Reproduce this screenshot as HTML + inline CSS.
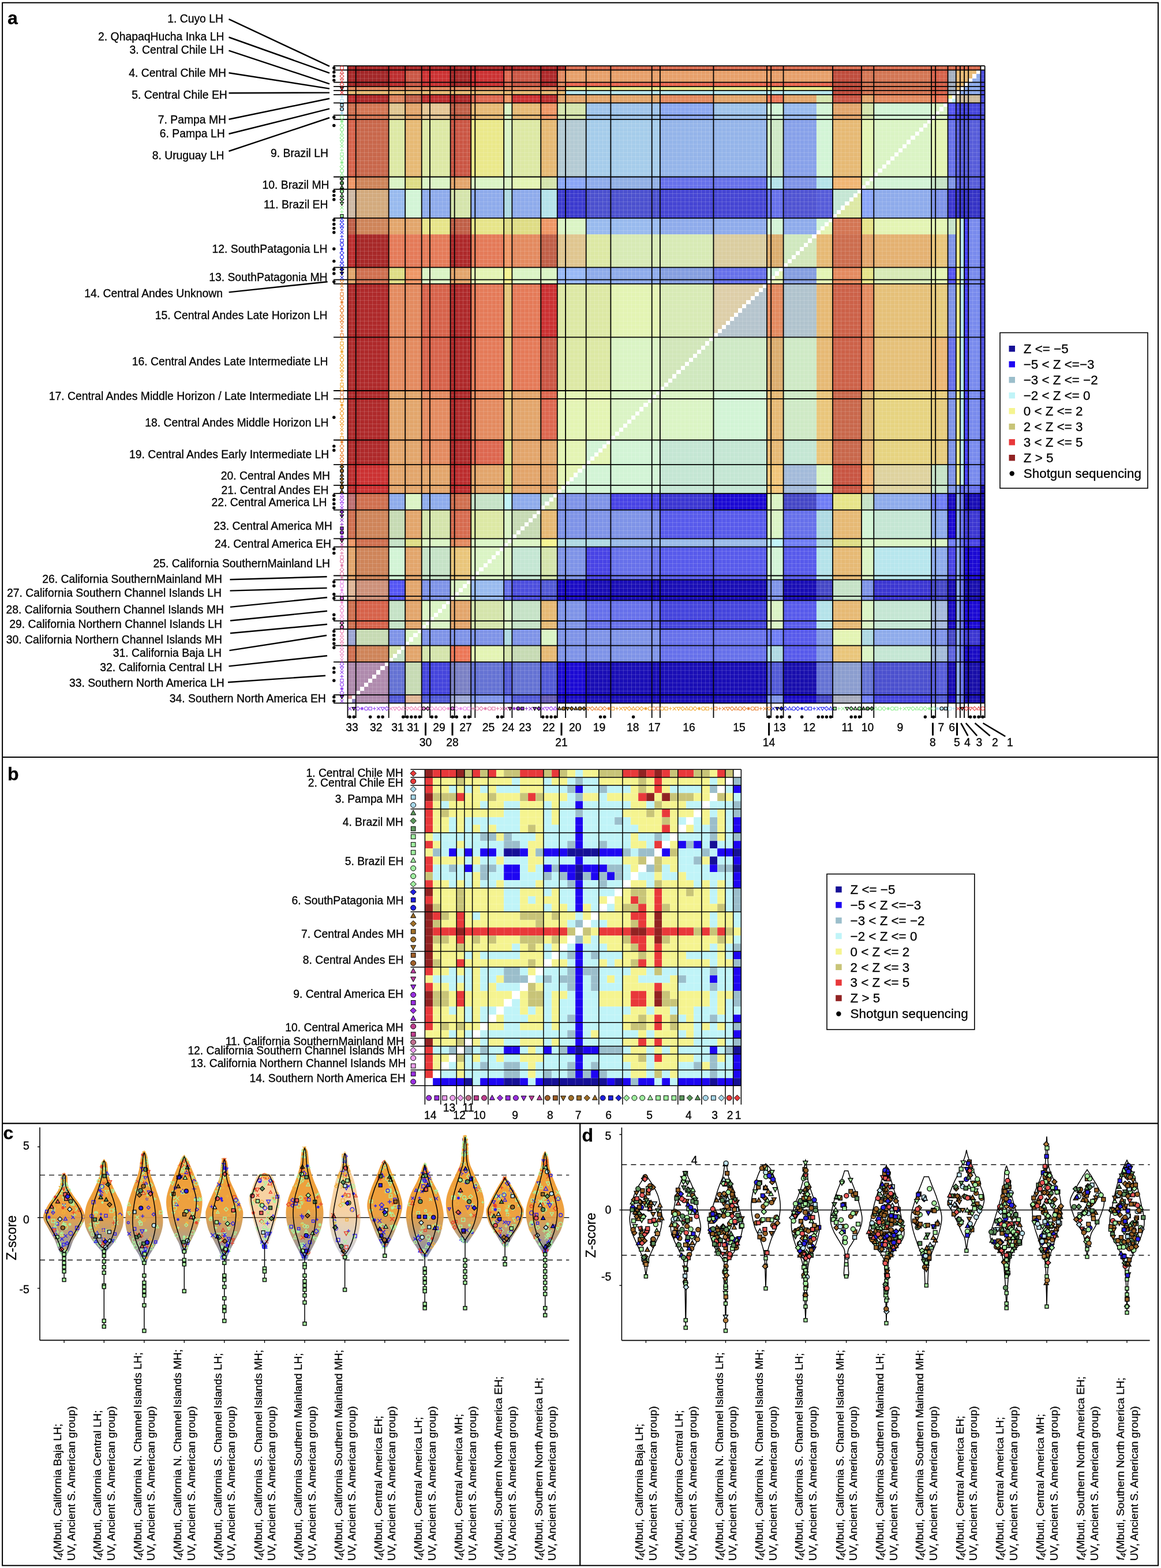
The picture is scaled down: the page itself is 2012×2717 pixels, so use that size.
<!DOCTYPE html>
<html><head><meta charset="utf-8"><title>f4 statistics heatmaps</title>
<style>
html,body{margin:0;padding:0;background:#fff;}
body{width:2012px;height:2717px;overflow:hidden;position:relative;}
svg{position:absolute;left:0;top:0;display:block;}
text{font-family:'Liberation Sans',Arial,Helvetica,sans-serif;fill:#000;stroke:#000;stroke-width:0.3px;}
</style></head><body>
<svg width="2012" height="2717" viewBox="0 0 2012 2717">
<rect x="0" y="0" width="2012" height="2717" fill="#fff"/>
<defs><circle id="o30" r="3.0"/><path id="t30" d="M0 -3.30L3.00 2.25L-3.00 2.25Z"/><path id="d30" d="M0 -3.45L3.45 0L0 3.45L-3.45 0Z"/><path id="v30" d="M0 3.30L3.00 -2.25L-3.00 -2.25Z"/><path id="x30" d="M-3.0 -3.0L3.0 3.0M3.0 -3.0L-3.0 3.0"/><path id="+30" d="M-3.0 0H3.0M0 -3.0V3.0"/><rect id="s30" x="-2.55" y="-2.55" width="5.10" height="5.10"/><path id="*30" d="M-3.0 0H3.0M0 -3.0V3.0M-2.10 -2.10L2.10 2.10M2.10 -2.10L-2.10 2.10"/><path id="d45" d="M0 -5.17L5.17 0L0 5.17L-5.17 0Z"/><circle id="o45" r="4.5"/><rect id="s45" x="-3.82" y="-3.82" width="7.65" height="7.65"/><path id="t45" d="M0 -4.95L4.50 3.38L-4.50 3.38Z"/><path id="v45" d="M0 4.95L4.50 -3.38L-4.50 -3.38Z"/><rect id="s35" x="-2.98" y="-2.98" width="5.95" height="5.95"/><path id="t25" d="M0 -2.75L2.50 1.88L-2.50 1.88Z"/><path id="+25" d="M-2.5 0H2.5M0 -2.5V2.5"/><path id="d25" d="M0 -2.88L2.88 0L0 2.88L-2.88 0Z"/><path id="*25" d="M-2.5 0H2.5M0 -2.5V2.5M-1.75 -1.75L1.75 1.75M1.75 -1.75L-1.75 1.75"/><path id="v25" d="M0 2.75L2.50 -1.88L-2.50 -1.88Z"/><rect id="s25" x="-2.12" y="-2.12" width="4.25" height="4.25"/><path id="+35" d="M-3.5 0H3.5M0 -3.5V3.5"/><path id="t20" d="M0 -2.20L2.00 1.50L-2.00 1.50Z"/><circle id="o25" r="2.5"/><path id="x25" d="M-2.5 -2.5L2.5 2.5M2.5 -2.5L-2.5 2.5"/><path id="t35" d="M0 -3.85L3.50 2.62L-3.50 2.62Z"/><path id="x35" d="M-3.5 -3.5L3.5 3.5M3.5 -3.5L-3.5 3.5"/><path id="d20" d="M0 -2.30L2.30 0L0 2.30L-2.30 0Z"/><circle id="o35" r="3.5"/><path id="d35" d="M0 -4.02L4.02 0L0 4.02L-4.02 0Z"/><path id="v35" d="M0 3.85L3.50 -2.62L-3.50 -2.62Z"/><path id="*35" d="M-3.5 0H3.5M0 -3.5V3.5M-2.45 -2.45L2.45 2.45M2.45 -2.45L-2.45 2.45"/><path id="*20" d="M-2.0 0H2.0M0 -2.0V2.0M-1.40 -1.40L1.40 1.40M1.40 -1.40L-1.40 1.40"/><rect id="s20" x="-1.70" y="-1.70" width="3.40" height="3.40"/><circle id="o20" r="2.0"/><path id="v20" d="M0 2.20L2.00 -1.50L-2.00 -1.50Z"/><path id="+20" d="M-2.0 0H2.0M0 -2.0V2.0"/><path id="x20" d="M-2.0 -2.0L2.0 2.0M2.0 -2.0L-2.0 2.0"/><rect id="s40" x="-3.40" y="-3.40" width="6.80" height="6.80"/><path id="d40" d="M0 -4.60L4.60 0L0 4.60L-4.60 0Z"/><circle id="o40" r="4.0"/><path id="v40" d="M0 4.40L4.00 -3.00L-4.00 -3.00Z"/><path id="t40" d="M0 -4.40L4.00 3.00L-4.00 3.00Z"/></defs>
<g transform="translate(602.5,114.2) scale(7.1237)" shape-rendering="crispEdges"><path fill="#d66b4f" d="M53 0h101v1h-101zM25 108h5v7h-5z"/><path fill="#ffffff" d="M154 0h1v1h-1zM153 1h1v1h-1zM152 2h1v1h-1zM151 3h1v1h-1zM150 4h1v1h-1zM149 5h1v1h-1zM148 6h1v1h-1zM147 7h1v1h-1zM146 8h1v1h-1zM145 9h1v1h-1zM144 10h1v1h-1zM143 11h1v1h-1zM142 12h1v1h-1zM141 13h1v1h-1zM140 14h1v1h-1zM139 15h1v1h-1zM138 16h1v1h-1zM137 17h1v1h-1zM136 18h1v1h-1zM135 19h1v1h-1zM134 20h1v1h-1zM133 21h1v1h-1zM132 22h1v1h-1zM131 23h1v1h-1zM130 24h1v1h-1zM129 25h1v1h-1zM128 26h1v1h-1zM127 27h1v1h-1zM126 28h1v1h-1zM125 29h1v1h-1zM124 30h1v1h-1zM123 31h1v1h-1zM122 32h1v1h-1zM121 33h1v1h-1zM120 34h1v1h-1zM119 35h1v1h-1zM118 36h1v1h-1zM117 37h1v1h-1zM116 38h1v1h-1zM115 39h1v1h-1zM114 40h1v1h-1zM113 41h1v1h-1zM112 42h1v1h-1zM111 43h1v1h-1zM110 44h1v1h-1zM109 45h1v1h-1zM108 46h1v1h-1zM107 47h1v1h-1zM106 48h1v1h-1zM105 49h1v1h-1zM104 50h1v1h-1zM103 51h1v1h-1zM102 52h1v1h-1zM101 53h1v1h-1zM100 54h1v1h-1zM99 55h1v1h-1zM98 56h1v1h-1zM97 57h1v1h-1zM96 58h1v1h-1zM95 59h1v1h-1zM94 60h1v1h-1zM93 61h1v1h-1zM92 62h1v1h-1zM91 63h1v1h-1zM90 64h1v1h-1zM89 65h1v1h-1zM88 66h1v1h-1zM87 67h1v1h-1zM86 68h1v1h-1zM85 69h1v1h-1zM84 70h1v1h-1zM83 71h1v1h-1zM82 72h1v1h-1zM81 73h1v1h-1zM80 74h1v1h-1zM79 75h1v1h-1zM78 76h1v1h-1zM77 77h1v1h-1zM76 78h1v1h-1zM75 79h1v1h-1zM74 80h1v1h-1zM73 81h1v1h-1zM72 82h1v1h-1zM71 83h1v1h-1zM70 84h1v1h-1zM69 85h1v1h-1zM68 86h1v1h-1zM67 87h1v1h-1zM66 88h1v1h-1zM65 89h1v1h-1zM64 90h1v1h-1zM63 91h1v1h-1zM62 92h1v1h-1zM61 93h1v1h-1zM60 94h1v1h-1zM59 95h1v1h-1zM58 96h1v1h-1zM57 97h1v1h-1zM56 98h1v1h-1zM55 99h1v1h-1zM54 100h1v1h-1zM53 101h1v1h-1zM52 102h1v1h-1zM51 103h1v1h-1zM50 104h1v1h-1zM49 105h1v1h-1zM48 106h1v1h-1zM47 107h1v1h-1zM46 108h1v1h-1zM45 109h1v1h-1zM44 110h1v1h-1zM43 111h1v1h-1zM42 112h1v1h-1zM41 113h1v1h-1zM40 114h1v1h-1zM39 115h1v1h-1zM38 116h1v1h-1zM37 117h1v1h-1zM36 118h1v1h-1zM35 119h1v1h-1zM34 120h1v1h-1zM33 121h1v1h-1zM32 122h1v1h-1zM31 123h1v1h-1zM30 124h1v1h-1zM29 125h1v1h-1zM28 126h1v1h-1zM27 127h1v1h-1zM26 128h1v1h-1zM25 129h1v1h-1zM24 130h1v1h-1zM23 131h1v1h-1zM22 132h1v1h-1zM21 133h1v1h-1zM20 134h1v1h-1zM19 135h1v1h-1zM18 136h1v1h-1zM17 137h1v1h-1zM16 138h1v1h-1zM15 139h1v1h-1zM14 140h1v1h-1zM13 141h1v1h-1zM12 142h1v1h-1zM11 143h1v1h-1zM10 144h1v1h-1zM9 145h1v1h-1zM8 146h1v1h-1zM7 147h1v1h-1zM6 148h1v1h-1zM5 149h1v1h-1zM4 150h1v1h-1zM3 151h1v1h-1zM2 152h1v1h-1zM1 153h1v1h-1zM0 154h1v1h-1z"/><path fill="#a72828" d="M0 0h53v1h-53zM25 1h5v4h-5zM0 1h2v4h-2zM2 41h8v8h-8z"/><path fill="#e6b974" d="M148 1h5v1h-5zM148 2h4v1h-4zM148 3h3v1h-3zM148 4h2v1h-2zM148 5h1v1h-1zM0 6h53v1h-53zM40 9h7v4h-7zM30 9h8v4h-8zM47 13h4v14h-4zM118 13h7v14h-7zM14 13h4v14h-4zM114 41h4v8h-4zM114 53h4v26h-4zM102 79h4v18h-4zM125 91h3v6h-3zM47 108h4v7h-4zM118 108h7v7h-7zM118 117h7v8h-7zM47 130h4v7h-4zM118 130h7v7h-7zM47 141h4v4h-4z"/><path fill="#8eabeb" d="M153 2h1v1h-1zM152 3h2v1h-2zM151 4h3v1h-3zM150 5h4v1h-4zM149 6h5v1h-5zM58 27h6v3h-6zM18 30h7v7h-7zM30 30h8v7h-8zM40 30h7v7h-7zM128 30h14v7h-14zM76 37h26v4h-26zM106 37h8v4h-8zM58 49h18v4h-18zM18 104h7v4h-7zM40 104h7v4h-7zM10 104h4v4h-4zM128 104h14v4h-14zM142 108h4v7h-4zM142 117h4v8h-4zM128 137h14v4h-14zM148 102h1v53h-1z"/><path fill="#e79f69" d="M53 1h65v3h-65z"/><path fill="#bc2d2e" d="M10 1h4v4h-4zM0 7h2v2h-2zM47 7h4v2h-4zM18 7h7v2h-7zM0 41h2v8h-2zM0 97h2v7h-2zM25 97h5v7h-5z"/><path fill="#cb3132" d="M18 1h7v4h-7zM30 1h8v4h-8zM40 7h7v2h-7zM47 53h4v13h-4zM2 97h8v7h-8z"/><path fill="#ca5644" d="M40 1h7v4h-7zM14 1h4v4h-4zM118 7h7v2h-7zM25 13h5v14h-5zM47 66h4v13h-4z"/><path fill="#dd674f" d="M38 1h2v4h-2zM30 7h8v2h-8zM47 79h4v12h-4zM30 91h8v6h-8z"/><path fill="#ae292a" d="M47 1h4v4h-4zM25 7h5v2h-5zM2 7h8v2h-8zM25 41h5v8h-5zM0 53h10v44h-10zM25 53h5v44h-5z"/><path fill="#e38a5f" d="M51 1h2v4h-2zM0 5h53v1h-53zM76 7h13v2h-13zM128 7h14v2h-14zM40 41h7v8h-7zM118 49h7v4h-7zM102 53h4v13h-4zM125 53h3v26h-3zM10 53h8v26h-8zM30 79h8v12h-8zM18 79h7v18h-7zM25 115h5v2h-5z"/><path fill="#a22627" d="M2 1h8v4h-8z"/><path fill="#eb6750" d="M53 4h65v1h-65z"/><path fill="#eae88a" d="M53 5h65v1h-65zM30 13h8v14h-8zM148 37h1v65h-1z"/><path fill="#bf4c3c" d="M118 1h7v6h-7z"/><path fill="#a4b0bf" d="M146 1h2v6h-2z"/><path fill="#d6624a" d="M142 1h4v6h-4zM0 13h2v14h-2zM18 53h7v26h-7zM2 130h8v7h-8z"/><path fill="#d37553" d="M125 1h17v6h-17zM2 9h8v4h-8zM118 37h7v4h-7z"/><path fill="#b7e6ed" d="M53 6h65v1h-65zM149 37h1v65h-1zM128 117h14v8h-14z"/><path fill="#f5f490" d="M146 7h1v1h-1zM38 49h2v4h-2zM47 115h4v2h-4z"/><path fill="#e2a56b" d="M125 7h3v2h-3zM89 7h13v2h-13zM106 7h8v2h-8zM51 7h25v2h-25zM14 9h4v4h-4zM118 9h7v4h-7zM25 27h5v3h-5zM10 37h8v4h-8zM125 41h3v8h-3zM0 49h2v4h-2zM25 49h5v4h-5zM40 79h7v12h-7zM10 79h8v18h-8zM40 91h11v13h-11zM30 97h8v7h-8zM10 97h15v7h-15zM14 108h4v7h-4zM0 117h2v8h-2zM14 117h4v20h-4zM25 130h5v7h-5zM14 141h4v4h-4z"/><path fill="#ec7757" d="M142 7h4v2h-4zM102 7h4v2h-4zM25 141h5v4h-5z"/><path fill="#c05f47" d="M14 7h4v2h-4zM25 9h5v4h-5zM0 37h2v4h-2zM25 37h5v4h-5zM47 41h4v8h-4z"/><path fill="#ee9665" d="M38 7h2v2h-2zM47 9h4v4h-4zM0 27h2v3h-2zM47 37h4v4h-4zM38 41h2v8h-2zM14 49h4v4h-4zM0 115h2v2h-2z"/><path fill="#cdba9b" d="M148 7h6v2h-6z"/><path fill="#d4e4ab" d="M114 7h4v2h-4zM125 9h3v4h-3zM51 9h7v4h-7zM47 27h4v3h-4zM25 30h5v7h-5zM50 105h1v1h-1zM49 106h2v1h-2zM48 107h3v1h-3zM18 108h7v7h-7zM47 117h4v8h-4zM30 130h8v7h-8zM10 141h3v1h-3zM10 142h2v1h-2zM10 143h1v1h-1zM18 141h7v4h-7zM38 141h2v4h-2z"/><path fill="#d87e59" d="M10 7h4v2h-4z"/><path fill="#c0f4f8" d="M147 8h1v1h-1zM38 104h2v4h-2zM102 115h4v2h-4z"/><path fill="#daf4c4" d="M142 9h3v1h-3zM145 10h1v1h-1zM142 10h2v1h-2zM144 11h2v1h-2zM142 11h1v1h-1zM143 12h3v1h-3zM128 13h13v1h-13zM141 14h1v1h-1zM128 14h12v1h-12zM140 15h2v1h-2zM128 15h11v1h-11zM128 16h10v1h-10zM139 16h3v1h-3zM138 17h4v1h-4zM128 17h9v1h-9zM128 18h8v1h-8zM137 18h5v1h-5zM128 19h7v1h-7zM136 19h6v1h-6zM128 20h6v1h-6zM135 20h7v1h-7zM128 21h5v1h-5zM134 21h8v1h-8zM128 22h4v1h-4zM133 22h9v1h-9zM132 23h10v1h-10zM128 23h3v1h-3zM131 24h11v1h-11zM128 24h2v1h-2zM130 25h12v1h-12zM128 25h1v1h-1zM38 9h2v18h-2zM129 26h13v1h-13zM125 27h2v1h-2zM127 28h1v1h-1zM125 28h1v1h-1zM30 27h10v3h-10zM10 27h4v3h-4zM18 27h7v3h-7zM126 29h2v1h-2zM51 37h7v4h-7zM40 49h11v4h-11zM18 49h7v4h-7zM64 66h12v13h-12zM64 79h11v1h-11zM76 79h13v1h-13zM64 80h10v1h-10zM75 80h14v1h-14zM64 81h9v1h-9zM74 81h15v1h-15zM73 82h16v1h-16zM64 82h8v1h-8zM64 83h7v1h-7zM72 83h17v1h-17zM71 84h18v1h-18zM64 84h6v1h-6zM70 85h19v1h-19zM64 85h5v1h-5zM69 86h20v1h-20zM64 86h4v1h-4zM68 87h21v1h-21zM64 87h3v1h-3zM67 88h22v1h-22zM64 88h2v1h-2zM66 89h23v1h-23zM64 89h1v1h-1zM65 90h24v1h-24zM114 97h4v7h-4zM14 104h4v4h-4zM102 104h4v11h-4zM38 108h2v7h-2zM30 115h9v1h-9zM40 115h7v1h-7zM18 115h7v2h-7zM125 115h21v2h-21zM39 116h8v1h-8zM30 116h8v1h-8zM30 117h7v1h-7zM38 117h2v1h-2zM37 118h3v1h-3zM30 118h6v1h-6zM36 119h4v1h-4zM30 119h5v1h-5zM35 120h5v1h-5zM30 120h4v1h-4zM34 121h6v1h-6zM30 121h3v1h-3zM33 122h7v1h-7zM30 122h2v1h-2zM30 123h1v1h-1zM32 123h8v1h-8zM125 117h3v8h-3zM31 124h9v1h-9zM25 125h4v1h-4zM29 126h1v1h-1zM25 126h3v1h-3zM25 127h2v1h-2zM28 127h2v1h-2zM25 128h1v1h-1zM27 128h3v1h-3zM26 129h4v1h-4zM18 130h6v1h-6zM24 131h1v1h-1zM18 131h5v1h-5zM23 132h2v1h-2zM18 132h4v1h-4zM22 133h3v1h-3zM18 133h3v1h-3zM18 134h2v1h-2zM21 134h4v1h-4zM20 135h5v1h-5zM18 135h1v1h-1zM102 130h4v7h-4zM125 130h3v7h-3zM38 130h2v7h-2zM19 136h6v1h-6zM14 137h3v1h-3zM14 138h2v1h-2zM17 138h1v1h-1zM14 139h1v1h-1zM16 139h2v1h-2zM47 137h4v4h-4zM15 140h3v1h-3zM125 141h3v4h-3z"/><path fill="#9ec3ea" d="M89 9h13v4h-13zM58 9h18v4h-18z"/><path fill="#4444dc" d="M148 9h6v4h-6zM76 130h26v7h-26zM18 145h7v8h-7zM128 153h14v2h-14z"/><path fill="#d2f4d5" d="M128 9h14v4h-14zM102 9h4v4h-4zM114 9h4v18h-4zM128 27h14v3h-14zM14 30h4v7h-4zM114 37h3v1h-3zM114 38h2v1h-2zM114 39h1v1h-1zM102 37h4v4h-4zM102 49h3v1h-3zM102 50h2v1h-2zM102 51h1v1h-1zM89 79h13v12h-13zM58 91h5v1h-5zM58 92h4v1h-4zM58 93h3v1h-3zM58 94h2v1h-2zM58 95h1v1h-1zM64 91h12v6h-12zM58 97h18v1h-18zM57 98h19v1h-19zM56 99h20v1h-20zM55 100h21v1h-21zM54 101h22v1h-22zM53 102h23v1h-23zM52 103h24v1h-24zM125 108h3v7h-3zM10 117h4v8h-4zM102 117h4v8h-4z"/><path fill="#cf6f4f" d="M0 9h2v4h-2zM2 49h8v4h-8zM25 104h5v4h-5zM2 104h8v4h-8zM0 108h2v7h-2zM2 115h8v2h-8zM0 130h2v7h-2zM0 141h2v4h-2z"/><path fill="#5455f4" d="M146 9h2v4h-2zM146 49h2v4h-2zM10 125h4v5h-4z"/><path fill="#98baee" d="M106 9h8v4h-8zM10 30h4v7h-4zM58 37h18v4h-18zM30 125h8v5h-8z"/><path fill="#e4c594" d="M18 9h7v4h-7z"/><path fill="#dfc58f" d="M10 9h4v4h-4zM51 41h7v8h-7z"/><path fill="#8ca8f0" d="M76 9h13v4h-13z"/><path fill="#e3f4b3" d="M125 13h3v14h-3zM142 13h4v14h-4zM40 27h7v3h-7zM117 38h1v1h-1zM116 39h2v1h-2zM128 37h18v4h-18zM115 40h3v1h-3zM105 50h1v1h-1zM104 51h2v1h-2zM30 49h8v4h-8zM142 49h4v4h-4zM114 49h4v4h-4zM103 52h3v1h-3zM64 53h12v13h-12zM51 79h13v12h-13zM63 92h1v1h-1zM62 93h2v1h-2zM61 94h3v1h-3zM60 95h4v1h-4zM51 91h7v6h-7zM59 96h5v1h-5zM51 97h6v1h-6zM51 98h5v1h-5zM51 99h4v1h-4zM51 100h3v1h-3zM51 101h2v1h-2zM51 102h1v1h-1zM118 137h7v4h-7zM30 141h8v4h-8z"/><path fill="#dce8a4" d="M18 13h7v14h-7zM40 13h7v14h-7zM10 13h4v14h-4zM124 31h1v1h-1zM123 32h2v1h-2zM122 33h3v1h-3zM121 34h4v1h-4zM120 35h5v1h-5zM119 36h6v1h-6zM58 41h6v8h-6zM51 53h13v26h-13zM30 108h8v7h-8z"/><path fill="#cee9c5" d="M102 13h4v14h-4zM89 66h13v13h-13zM106 66h8v25h-8z"/><path fill="#6670ea" d="M146 13h2v14h-2zM76 27h26v3h-26zM102 30h4v7h-4zM89 49h13v4h-13zM146 66h2v13h-2zM149 102h5v2h-5zM106 108h8v7h-8zM64 117h12v8h-12zM38 125h2v5h-2zM58 130h18v7h-18zM76 137h26v8h-26zM149 104h1v51h-1z"/><path fill="#a5ccea" d="M58 13h18v14h-18z"/><path fill="#94b4e9" d="M76 13h26v14h-26z"/><path fill="#87a1e9" d="M106 13h8v14h-8z"/><path fill="#b3cad3" d="M51 13h7v14h-7z"/><path fill="#c8674b" d="M2 13h8v14h-8zM118 79h7v18h-7z"/><path fill="#565cd9" d="M148 13h6v17h-6zM114 30h4v7h-4zM142 145h4v8h-4z"/><path fill="#f1b573" d="M118 27h7v3h-7zM125 97h3v7h-3z"/><path fill="#c5e2c6" d="M142 27h4v3h-4zM146 37h2v4h-2zM142 97h4v7h-4zM47 104h3v1h-3zM47 105h2v1h-2zM47 106h1v1h-1zM30 104h8v4h-8zM125 104h3v4h-3zM10 115h4v2h-4zM18 117h7v8h-7zM118 125h7v5h-7zM40 130h7v7h-7zM10 130h4v7h-4zM13 142h1v1h-1zM12 143h2v1h-2zM11 144h3v1h-3z"/><path fill="#ce8459" d="M2 27h8v3h-8zM2 37h8v4h-8zM2 108h8v7h-8zM2 117h8v8h-8zM2 141h8v4h-8z"/><path fill="#8aa5f6" d="M51 27h7v3h-7zM125 30h3v7h-3z"/><path fill="#7e93e7" d="M106 27h8v3h-8zM146 27h2v3h-2zM142 30h4v7h-4zM146 41h2v8h-2zM146 53h2v13h-2zM146 79h2v25h-2zM51 104h13v4h-13zM51 108h25v7h-25zM51 117h7v8h-7zM125 125h3v5h-3zM102 125h4v5h-4zM18 125h7v5h-7zM51 130h7v7h-7zM18 137h20v4h-20zM10 137h4v4h-4zM142 137h4v4h-4zM40 137h7v4h-7zM114 137h4v8h-4zM51 137h25v8h-25zM30 153h8v2h-8zM102 153h4v2h-4z"/><path fill="#b4e2e9" d="M102 27h4v3h-4zM114 27h4v3h-4zM47 30h4v7h-4zM114 117h4v8h-4zM114 130h4v7h-4z"/><path fill="#91afe5" d="M64 27h12v3h-12z"/><path fill="#dedc84" d="M14 27h4v3h-4zM38 37h9v4h-9zM10 49h4v4h-4zM38 91h2v13h-2zM14 115h4v2h-4zM118 115h7v2h-7z"/><path fill="#c4e6d3" d="M118 30h6v1h-6zM118 31h5v1h-5zM118 32h4v1h-4zM118 33h3v1h-3zM118 34h2v1h-2zM118 35h1v1h-1zM106 91h8v6h-8zM76 91h26v13h-26zM128 108h14v7h-14zM40 117h7v8h-7zM128 130h14v7h-14zM128 141h14v4h-14z"/><path fill="#d2aa7d" d="M2 30h8v7h-8z"/><path fill="#3b3ace" d="M51 30h7v7h-7z"/><path fill="#3533c5" d="M148 30h6v7h-6z"/><path fill="#4b50ce" d="M58 30h18v7h-18zM128 145h14v8h-14z"/><path fill="#5054d2" d="M106 30h8v7h-8z"/><path fill="#aed9e2" d="M38 30h2v7h-2zM114 108h4v9h-4zM51 115h13v2h-13zM125 137h3v4h-3zM38 137h2v4h-2zM102 141h4v4h-4z"/><path fill="#4545d3" d="M76 30h26v7h-26z"/><path fill="#3b36d1" d="M146 30h2v7h-2zM76 104h13v4h-13zM150 108h4v7h-4zM128 125h14v5h-14zM150 137h4v4h-4z"/><path fill="#ceb8a3" d="M0 30h2v7h-2z"/><path fill="#e6e488" d="M18 37h7v4h-7zM30 37h8v4h-8zM125 37h3v4h-3zM125 49h3v4h-3zM118 104h7v4h-7z"/><path fill="#cfe8be" d="M106 41h7v1h-7zM106 42h6v1h-6zM106 43h5v1h-5zM106 44h4v1h-4zM106 45h3v1h-3zM106 46h2v1h-2zM106 47h1v1h-1zM88 67h1v1h-1zM87 68h2v1h-2zM86 69h3v1h-3zM85 70h4v1h-4zM84 71h5v1h-5zM83 72h6v1h-6zM82 73h7v1h-7zM81 74h8v1h-8zM80 75h9v1h-9zM79 76h10v1h-10zM78 77h11v1h-11zM77 78h12v1h-12z"/><path fill="#d1e6b9" d="M113 42h1v1h-1zM112 43h2v1h-2zM111 44h3v1h-3zM110 45h4v1h-4zM109 46h5v1h-5zM108 47h6v1h-6zM107 48h7v1h-7zM76 66h12v1h-12zM76 67h11v1h-11zM76 68h10v1h-10zM76 69h9v1h-9zM76 70h8v1h-8zM76 71h7v1h-7zM76 72h6v1h-6zM76 73h5v1h-5zM76 74h4v1h-4zM76 75h3v1h-3zM76 76h2v1h-2zM76 77h1v1h-1z"/><path fill="#dbad6e" d="M102 41h4v8h-4zM102 66h4v13h-4z"/><path fill="#cc6d4e" d="M118 41h7v8h-7z"/><path fill="#e9c57a" d="M142 41h4v8h-4zM114 79h4v18h-4zM25 117h5v8h-5zM118 141h7v4h-7z"/><path fill="#e47a58" d="M30 41h8v8h-8zM10 41h15v8h-15zM40 53h7v26h-7zM30 53h8v26h-8z"/><path fill="#dacda0" d="M89 41h13v8h-13z"/><path fill="#e4b171" d="M128 41h14v8h-14z"/><path fill="#d7eab5" d="M64 41h25v8h-25zM128 49h14v4h-14zM76 53h13v13h-13z"/><path fill="#98b8f6" d="M51 49h7v4h-7z"/><path fill="#859ee0" d="M76 49h13v4h-13zM106 49h8v4h-8z"/><path fill="#ddcea8" d="M89 53h12v1h-12zM89 54h11v1h-11zM89 55h10v1h-10zM89 56h9v1h-9zM89 57h8v1h-8zM89 58h7v1h-7zM89 59h6v1h-6zM89 60h5v1h-5zM89 61h4v1h-4zM89 62h3v1h-3zM89 63h2v1h-2zM89 64h1v1h-1z"/><path fill="#b5c4cd" d="M101 54h1v1h-1zM100 55h2v1h-2zM99 56h3v1h-3zM98 57h4v1h-4zM97 58h5v1h-5zM96 59h6v1h-6zM95 60h7v1h-7zM94 61h8v1h-8zM93 62h9v1h-9zM92 63h10v1h-10zM91 64h11v1h-11zM90 65h12v1h-12z"/><path fill="#b0c3cd" d="M106 53h8v13h-8z"/><path fill="#e6cb7d" d="M142 53h4v13h-4zM142 79h4v18h-4z"/><path fill="#e5c078" d="M128 53h14v26h-14z"/><path fill="#cc6148" d="M118 53h7v26h-7z"/><path fill="#ebb774" d="M142 66h4v13h-4z"/><path fill="#e4c57a" d="M38 53h2v38h-2z"/><path fill="#e0bb75" d="M125 79h3v12h-3z"/><path fill="#e6d380" d="M128 79h14v18h-14z"/><path fill="#4c4edd" d="M154 1h1v101h-1zM40 125h7v5h-7z"/><path fill="#788aed" d="M151 37h3v65h-3z"/><path fill="#4642f4" d="M150 37h1v65h-1z"/><path fill="#ded29e" d="M128 97h14v7h-14z"/><path fill="#a3bad9" d="M106 97h8v7h-8zM142 141h4v4h-4z"/><path fill="#f2c57a" d="M102 97h4v7h-4z"/><path fill="#c85542" d="M118 97h7v7h-7z"/><path fill="#4843e5" d="M64 104h12v4h-12zM150 115h4v2h-4zM146 117h2v8h-2zM58 117h6v8h-6z"/><path fill="#be6f71" d="M0 104h2v4h-2z"/><path fill="#6f7df5" d="M142 104h4v4h-4zM114 104h4v4h-4zM106 115h8v2h-8zM146 115h2v2h-2zM102 137h4v4h-4zM38 153h2v2h-2zM125 153h3v2h-3z"/><path fill="#190db5" d="M150 104h4v4h-4zM58 125h44v5h-44zM106 125h8v5h-8zM146 125h2v5h-2zM146 145h2v8h-2zM58 145h44v10h-44z"/><path fill="#1b09d3" d="M89 104h13v4h-13zM146 108h2v7h-2zM150 117h4v8h-4zM150 130h4v7h-4zM51 145h7v8h-7z"/><path fill="#4547c6" d="M106 104h8v4h-8zM142 125h4v5h-4zM114 125h4v5h-4zM146 137h2v4h-2zM114 153h4v2h-4z"/><path fill="#1a0bc4" d="M146 104h2v4h-2zM51 125h7v5h-7zM146 130h2v7h-2zM150 141h4v4h-4zM51 153h7v2h-7zM106 153h8v2h-8zM146 153h2v2h-2z"/><path fill="#c6dab3" d="M40 108h6v1h-6zM40 109h5v1h-5zM46 109h1v1h-1zM45 110h2v1h-2zM40 110h4v1h-4zM40 111h3v1h-3zM44 111h3v1h-3zM40 112h2v1h-2zM43 112h4v1h-4zM40 113h1v1h-1zM42 113h5v1h-5zM10 108h4v7h-4zM41 114h6v1h-6zM2 137h8v4h-8zM40 141h7v4h-7zM14 145h4v8h-4z"/><path fill="#575aeb" d="M76 108h26v7h-26zM76 117h26v8h-26zM106 117h8v8h-8zM106 130h8v15h-8z"/><path fill="#99bae8" d="M64 115h38v2h-38z"/><path fill="#180ead" d="M154 102h1v23h-1zM150 125h5v5h-5zM154 130h1v23h-1zM106 145h8v8h-8zM150 153h5v2h-5z"/><path fill="#5159d5" d="M47 125h4v5h-4zM47 145h4v8h-4zM38 145h2v8h-2zM102 145h4v8h-4zM142 153h4v2h-4zM18 153h7v2h-7zM40 153h7v2h-7zM10 153h4v2h-4z"/><path fill="#cc9079" d="M2 125h8v5h-8z"/><path fill="#dfb596" d="M0 125h2v5h-2zM14 153h4v2h-4z"/><path fill="#a5b8dc" d="M142 130h4v7h-4z"/><path fill="#9ca5d3" d="M0 137h2v4h-2zM25 153h5v2h-5z"/><path fill="#5c62de" d="M146 141h2v4h-2z"/><path fill="#af8aad" d="M0 145h9v1h-9zM9 146h1v1h-1zM0 146h8v1h-8zM8 147h2v1h-2zM0 147h7v1h-7zM7 148h3v1h-3zM0 148h6v1h-6zM0 149h5v1h-5zM6 149h4v1h-4zM0 150h4v1h-4zM5 150h5v1h-5zM0 151h3v1h-3zM4 151h6v1h-6zM0 152h2v1h-2zM3 152h7v1h-7zM2 153h8v2h-8z"/><path fill="#6472d3" d="M40 145h7v8h-7zM30 145h8v8h-8zM125 145h3v8h-3zM10 145h4v8h-4zM114 145h4v8h-4z"/><path fill="#7a80c4" d="M25 145h5v8h-5z"/><path fill="#180ea8" d="M150 145h4v8h-4z"/><path fill="#8b9dce" d="M118 145h7v8h-7z"/><path fill="#d49699" d="M0 153h1v1h-1z"/><path fill="#a7acbc" d="M118 153h7v2h-7z"/><path fill="#6359b3" d="M47 153h4v2h-4z"/><path fill="#8a7dc1" d="M1 154h1v1h-1z"/></g><defs><pattern id="cgA" x="602.5" y="114.2" width="7.1237" height="7.1237" patternUnits="userSpaceOnUse"><path d="M0 0.3H7.1237M0.3 0V7.1237" stroke="#fff" stroke-opacity="0.28" stroke-width="0.7" fill="none"/></pattern></defs><rect x="602.5" y="114.2" width="1104.2" height="1104.2" fill="url(#cgA)"/><line x1="578.0" y1="114.2" x2="1706.7" y2="114.2" stroke="#000" stroke-width="1.8"/><line x1="1706.7" y1="114.2" x2="1706.7" y2="1244.0" stroke="#000" stroke-width="1.8"/><line x1="578.0" y1="121.3" x2="1706.7" y2="121.3" stroke="#000" stroke-width="1.8"/><line x1="1699.5" y1="114.2" x2="1699.5" y2="1244.0" stroke="#000" stroke-width="1.8"/><line x1="578.0" y1="142.7" x2="1706.7" y2="142.7" stroke="#000" stroke-width="1.8"/><line x1="1678.2" y1="114.2" x2="1678.2" y2="1244.0" stroke="#000" stroke-width="1.8"/><line x1="578.0" y1="149.8" x2="1706.7" y2="149.8" stroke="#000" stroke-width="1.8"/><line x1="1671.1" y1="114.2" x2="1671.1" y2="1244.0" stroke="#000" stroke-width="1.8"/><line x1="578.0" y1="156.9" x2="1706.7" y2="156.9" stroke="#000" stroke-width="1.8"/><line x1="1663.9" y1="114.2" x2="1663.9" y2="1244.0" stroke="#000" stroke-width="1.8"/><line x1="578.0" y1="164.1" x2="1706.7" y2="164.1" stroke="#000" stroke-width="1.8"/><line x1="1656.8" y1="114.2" x2="1656.8" y2="1244.0" stroke="#000" stroke-width="1.8"/><line x1="578.0" y1="178.3" x2="1706.7" y2="178.3" stroke="#000" stroke-width="1.8"/><line x1="1642.6" y1="114.2" x2="1642.6" y2="1244.0" stroke="#000" stroke-width="1.8"/><line x1="578.0" y1="199.7" x2="1706.7" y2="199.7" stroke="#000" stroke-width="1.8"/><line x1="1621.2" y1="114.2" x2="1621.2" y2="1244.0" stroke="#000" stroke-width="1.8"/><line x1="578.0" y1="206.8" x2="1706.7" y2="206.8" stroke="#000" stroke-width="1.8"/><line x1="1614.1" y1="114.2" x2="1614.1" y2="1244.0" stroke="#000" stroke-width="1.8"/><line x1="578.0" y1="306.5" x2="1706.7" y2="306.5" stroke="#000" stroke-width="1.8"/><line x1="1514.3" y1="114.2" x2="1514.3" y2="1244.0" stroke="#000" stroke-width="1.8"/><line x1="578.0" y1="327.9" x2="1706.7" y2="327.9" stroke="#000" stroke-width="1.8"/><line x1="1493.0" y1="114.2" x2="1493.0" y2="1244.0" stroke="#000" stroke-width="1.8"/><line x1="578.0" y1="377.8" x2="1706.7" y2="377.8" stroke="#000" stroke-width="1.8"/><line x1="1443.1" y1="114.2" x2="1443.1" y2="1244.0" stroke="#000" stroke-width="1.8"/><line x1="578.0" y1="463.3" x2="1706.7" y2="463.3" stroke="#000" stroke-width="1.8"/><line x1="1357.6" y1="114.2" x2="1357.6" y2="1244.0" stroke="#000" stroke-width="1.8"/><line x1="578.0" y1="484.6" x2="1706.7" y2="484.6" stroke="#000" stroke-width="1.8"/><line x1="1336.2" y1="114.2" x2="1336.2" y2="1244.0" stroke="#000" stroke-width="1.8"/><line x1="578.0" y1="491.8" x2="1706.7" y2="491.8" stroke="#000" stroke-width="1.8"/><line x1="1329.1" y1="114.2" x2="1329.1" y2="1244.0" stroke="#000" stroke-width="1.8"/><line x1="578.0" y1="584.4" x2="1706.7" y2="584.4" stroke="#000" stroke-width="1.8"/><line x1="1236.5" y1="114.2" x2="1236.5" y2="1244.0" stroke="#000" stroke-width="1.8"/><line x1="578.0" y1="677.0" x2="1706.7" y2="677.0" stroke="#000" stroke-width="1.8"/><line x1="1143.9" y1="114.2" x2="1143.9" y2="1244.0" stroke="#000" stroke-width="1.8"/><line x1="578.0" y1="691.2" x2="1706.7" y2="691.2" stroke="#000" stroke-width="1.8"/><line x1="1129.7" y1="114.2" x2="1129.7" y2="1244.0" stroke="#000" stroke-width="1.8"/><line x1="578.0" y1="762.5" x2="1706.7" y2="762.5" stroke="#000" stroke-width="1.8"/><line x1="1058.4" y1="114.2" x2="1058.4" y2="1244.0" stroke="#000" stroke-width="1.8"/><line x1="578.0" y1="805.2" x2="1706.7" y2="805.2" stroke="#000" stroke-width="1.8"/><line x1="1015.7" y1="114.2" x2="1015.7" y2="1244.0" stroke="#000" stroke-width="1.8"/><line x1="578.0" y1="840.8" x2="1706.7" y2="840.8" stroke="#000" stroke-width="1.8"/><line x1="980.1" y1="114.2" x2="980.1" y2="1244.0" stroke="#000" stroke-width="1.8"/><line x1="578.0" y1="855.1" x2="1706.7" y2="855.1" stroke="#000" stroke-width="1.8"/><line x1="965.8" y1="114.2" x2="965.8" y2="1244.0" stroke="#000" stroke-width="1.8"/><line x1="578.0" y1="883.6" x2="1706.7" y2="883.6" stroke="#000" stroke-width="1.8"/><line x1="937.3" y1="114.2" x2="937.3" y2="1244.0" stroke="#000" stroke-width="1.8"/><line x1="578.0" y1="933.4" x2="1706.7" y2="933.4" stroke="#000" stroke-width="1.8"/><line x1="887.4" y1="114.2" x2="887.4" y2="1244.0" stroke="#000" stroke-width="1.8"/><line x1="578.0" y1="947.7" x2="1706.7" y2="947.7" stroke="#000" stroke-width="1.8"/><line x1="873.2" y1="114.2" x2="873.2" y2="1244.0" stroke="#000" stroke-width="1.8"/><line x1="578.0" y1="997.5" x2="1706.7" y2="997.5" stroke="#000" stroke-width="1.8"/><line x1="823.3" y1="114.2" x2="823.3" y2="1244.0" stroke="#000" stroke-width="1.8"/><line x1="578.0" y1="1004.7" x2="1706.7" y2="1004.7" stroke="#000" stroke-width="1.8"/><line x1="816.2" y1="114.2" x2="816.2" y2="1244.0" stroke="#000" stroke-width="1.8"/><line x1="578.0" y1="1033.2" x2="1706.7" y2="1033.2" stroke="#000" stroke-width="1.8"/><line x1="787.7" y1="114.2" x2="787.7" y2="1244.0" stroke="#000" stroke-width="1.8"/><line x1="578.0" y1="1040.3" x2="1706.7" y2="1040.3" stroke="#000" stroke-width="1.8"/><line x1="780.6" y1="114.2" x2="780.6" y2="1244.0" stroke="#000" stroke-width="1.8"/><line x1="578.0" y1="1075.9" x2="1706.7" y2="1075.9" stroke="#000" stroke-width="1.8"/><line x1="745.0" y1="114.2" x2="745.0" y2="1244.0" stroke="#000" stroke-width="1.8"/><line x1="578.0" y1="1090.1" x2="1706.7" y2="1090.1" stroke="#000" stroke-width="1.8"/><line x1="730.7" y1="114.2" x2="730.7" y2="1244.0" stroke="#000" stroke-width="1.8"/><line x1="578.0" y1="1118.6" x2="1706.7" y2="1118.6" stroke="#000" stroke-width="1.8"/><line x1="702.2" y1="114.2" x2="702.2" y2="1244.0" stroke="#000" stroke-width="1.8"/><line x1="578.0" y1="1147.1" x2="1706.7" y2="1147.1" stroke="#000" stroke-width="1.8"/><line x1="673.7" y1="114.2" x2="673.7" y2="1244.0" stroke="#000" stroke-width="1.8"/><line x1="578.0" y1="1204.1" x2="1706.7" y2="1204.1" stroke="#000" stroke-width="1.8"/><line x1="616.7" y1="114.2" x2="616.7" y2="1244.0" stroke="#000" stroke-width="1.8"/><line x1="578.0" y1="1218.4" x2="1706.7" y2="1218.4" stroke="#000" stroke-width="1.8"/><line x1="602.5" y1="114.2" x2="602.5" y2="1244.0" stroke="#000" stroke-width="1.8"/><g fill="none" stroke="#e03a3a" stroke-width="1.1"><use href="#o30" x="592.5" y="117.8"/><use href="#o30" x="1703.1" y="1227.8"/><use href="#d30" x="592.5" y="146.3"/><use href="#d30" x="1674.6" y="1227.8"/></g><g fill="none" stroke="#e04545" stroke-width="1.1"><use href="#t30" x="592.5" y="124.9"/><use href="#t30" x="1696.0" y="1227.8"/><use href="#d30" x="592.5" y="132.0"/><use href="#d30" x="1688.9" y="1227.8"/><use href="#v30" x="592.5" y="139.1"/><use href="#v30" x="1681.7" y="1227.8"/></g><g fill="#e83a3a" stroke="#000" stroke-width="1.1"><use href="#v30" x="592.5" y="153.4"/><use href="#v30" x="1667.5" y="1227.8"/></g><g fill="none" stroke="#e83a3a" stroke-width="1.1"><use href="#x30" x="592.5" y="160.5"/><use href="#x30" x="1660.4" y="1227.8"/></g><g fill="none" stroke="#a8d8ea" stroke-width="1.1"><use href="#+30" x="592.5" y="167.6"/><use href="#+30" x="1653.2" y="1227.8"/><use href="#s30" x="592.5" y="174.8"/><use href="#s30" x="1646.1" y="1227.8"/><use href="#*30" x="592.5" y="196.1"/><use href="#*30" x="1624.8" y="1227.8"/></g><g fill="#a8d8ea" stroke="#000" stroke-width="1.1"><use href="#s30" x="592.5" y="181.9"/><use href="#s30" x="1639.0" y="1227.8"/><use href="#o30" x="592.5" y="189.0"/><use href="#o30" x="1631.9" y="1227.8"/></g><g fill="none" stroke="#90ee90" stroke-width="1.1"><use href="#o30" x="592.5" y="203.2"/><use href="#o30" x="1617.6" y="1227.8"/><use href="#*30" x="592.5" y="210.4"/><use href="#*30" x="1610.5" y="1227.8"/><use href="#d30" x="592.5" y="217.5"/><use href="#d30" x="1603.4" y="1227.8"/><use href="#o30" x="592.5" y="224.6"/><use href="#o30" x="1596.3" y="1227.8"/><use href="#t30" x="592.5" y="231.7"/><use href="#t30" x="1589.1" y="1227.8"/><use href="#d30" x="592.5" y="238.9"/><use href="#d30" x="1582.0" y="1227.8"/><use href="#v30" x="592.5" y="246.0"/><use href="#v30" x="1574.9" y="1227.8"/><use href="#x30" x="592.5" y="253.1"/><use href="#x30" x="1567.8" y="1227.8"/><use href="#+30" x="592.5" y="260.2"/><use href="#+30" x="1560.6" y="1227.8"/><use href="#s30" x="592.5" y="267.4"/><use href="#s30" x="1553.5" y="1227.8"/><use href="#o30" x="592.5" y="274.5"/><use href="#o30" x="1546.4" y="1227.8"/><use href="#*30" x="592.5" y="281.6"/><use href="#*30" x="1539.3" y="1227.8"/><use href="#d30" x="592.5" y="288.7"/><use href="#d30" x="1532.1" y="1227.8"/><use href="#o30" x="592.5" y="295.9"/><use href="#o30" x="1525.0" y="1227.8"/><use href="#t30" x="592.5" y="303.0"/><use href="#t30" x="1517.9" y="1227.8"/></g><g fill="#5a9a5a" stroke="#000" stroke-width="1.1"><use href="#d30" x="592.5" y="310.1"/><use href="#d30" x="1510.8" y="1227.8"/><use href="#o30" x="592.5" y="317.2"/><use href="#o30" x="1503.6" y="1227.8"/><use href="#t30" x="592.5" y="324.3"/><use href="#t30" x="1496.5" y="1227.8"/></g><g fill="#98f098" stroke="#000" stroke-width="1.1"><use href="#o30" x="592.5" y="331.5"/><use href="#o30" x="1489.4" y="1227.8"/><use href="#t30" x="592.5" y="338.6"/><use href="#t30" x="1482.3" y="1227.8"/><use href="#d30" x="592.5" y="345.7"/><use href="#d30" x="1475.2" y="1227.8"/><use href="#v30" x="592.5" y="352.8"/><use href="#v30" x="1468.0" y="1227.8"/><use href="#s30" x="592.5" y="374.2"/><use href="#s30" x="1446.7" y="1227.8"/></g><g fill="none" stroke="#98f098" stroke-width="1.1"><use href="#x30" x="592.5" y="360.0"/><use href="#x30" x="1460.9" y="1227.8"/><use href="#+30" x="592.5" y="367.1"/><use href="#+30" x="1453.8" y="1227.8"/></g><g fill="none" stroke="#2222ee" stroke-width="1.1"><use href="#t30" x="592.5" y="381.3"/><use href="#t30" x="1439.5" y="1227.8"/><use href="#d30" x="592.5" y="388.5"/><use href="#d30" x="1432.4" y="1227.8"/><use href="#v30" x="592.5" y="395.6"/><use href="#v30" x="1425.3" y="1227.8"/><use href="#x30" x="592.5" y="402.7"/><use href="#x30" x="1418.2" y="1227.8"/><use href="#+30" x="592.5" y="409.8"/><use href="#+30" x="1411.0" y="1227.8"/><use href="#s30" x="592.5" y="417.0"/><use href="#s30" x="1403.9" y="1227.8"/><use href="#o30" x="592.5" y="424.1"/><use href="#o30" x="1396.8" y="1227.8"/><use href="#*30" x="592.5" y="431.2"/><use href="#*30" x="1389.7" y="1227.8"/><use href="#d30" x="592.5" y="438.3"/><use href="#d30" x="1382.5" y="1227.8"/><use href="#o30" x="592.5" y="445.5"/><use href="#o30" x="1375.4" y="1227.8"/><use href="#t30" x="592.5" y="452.6"/><use href="#t30" x="1368.3" y="1227.8"/><use href="#d30" x="592.5" y="459.7"/><use href="#d30" x="1361.2" y="1227.8"/></g><g fill="#2020d0" stroke="#000" stroke-width="1.1"><use href="#d30" x="592.5" y="466.8"/><use href="#d30" x="1354.1" y="1227.8"/><use href="#v30" x="592.5" y="473.9"/><use href="#v30" x="1346.9" y="1227.8"/></g><g fill="none" stroke="#2020d0" stroke-width="1.1"><use href="#x30" x="592.5" y="481.1"/><use href="#x30" x="1339.8" y="1227.8"/></g><g fill="none" stroke="#e88a30" stroke-width="1.1"><use href="#v30" x="592.5" y="488.2"/><use href="#v30" x="1332.7" y="1227.8"/></g><g fill="none" stroke="#e88030" stroke-width="1.1"><use href="#x30" x="592.5" y="495.3"/><use href="#x30" x="1325.6" y="1227.8"/><use href="#+30" x="592.5" y="502.4"/><use href="#+30" x="1318.4" y="1227.8"/><use href="#s30" x="592.5" y="509.6"/><use href="#s30" x="1311.3" y="1227.8"/><use href="#o30" x="592.5" y="516.7"/><use href="#o30" x="1304.2" y="1227.8"/><use href="#*30" x="592.5" y="523.8"/><use href="#*30" x="1297.1" y="1227.8"/><use href="#d30" x="592.5" y="530.9"/><use href="#d30" x="1289.9" y="1227.8"/><use href="#o30" x="592.5" y="538.1"/><use href="#o30" x="1282.8" y="1227.8"/><use href="#t30" x="592.5" y="545.2"/><use href="#t30" x="1275.7" y="1227.8"/><use href="#d30" x="592.5" y="552.3"/><use href="#d30" x="1268.6" y="1227.8"/><use href="#v30" x="592.5" y="559.4"/><use href="#v30" x="1261.4" y="1227.8"/><use href="#x30" x="592.5" y="566.6"/><use href="#x30" x="1254.3" y="1227.8"/><use href="#+30" x="592.5" y="573.7"/><use href="#+30" x="1247.2" y="1227.8"/><use href="#s30" x="592.5" y="580.8"/><use href="#s30" x="1240.1" y="1227.8"/><use href="#*30" x="592.5" y="766.0"/><use href="#*30" x="1054.9" y="1227.8"/><use href="#d30" x="592.5" y="773.1"/><use href="#d30" x="1047.7" y="1227.8"/><use href="#o30" x="592.5" y="780.3"/><use href="#o30" x="1040.6" y="1227.8"/><use href="#t30" x="592.5" y="787.4"/><use href="#t30" x="1033.5" y="1227.8"/><use href="#d30" x="592.5" y="794.5"/><use href="#d30" x="1026.4" y="1227.8"/><use href="#v30" x="592.5" y="801.6"/><use href="#v30" x="1019.2" y="1227.8"/></g><g fill="none" stroke="#f0a830" stroke-width="1.1"><use href="#+30" x="592.5" y="587.9"/><use href="#+30" x="1232.9" y="1227.8"/><use href="#s30" x="592.5" y="595.0"/><use href="#s30" x="1225.8" y="1227.8"/><use href="#o30" x="592.5" y="602.2"/><use href="#o30" x="1218.7" y="1227.8"/><use href="#*30" x="592.5" y="609.3"/><use href="#*30" x="1211.6" y="1227.8"/><use href="#d30" x="592.5" y="616.4"/><use href="#d30" x="1204.5" y="1227.8"/><use href="#o30" x="592.5" y="623.5"/><use href="#o30" x="1197.3" y="1227.8"/><use href="#t30" x="592.5" y="630.7"/><use href="#t30" x="1190.2" y="1227.8"/><use href="#d30" x="592.5" y="637.8"/><use href="#d30" x="1183.1" y="1227.8"/><use href="#v30" x="592.5" y="644.9"/><use href="#v30" x="1176.0" y="1227.8"/><use href="#x30" x="592.5" y="652.0"/><use href="#x30" x="1168.8" y="1227.8"/><use href="#+30" x="592.5" y="659.2"/><use href="#+30" x="1161.7" y="1227.8"/><use href="#s30" x="592.5" y="666.3"/><use href="#s30" x="1154.6" y="1227.8"/><use href="#o30" x="592.5" y="673.4"/><use href="#o30" x="1147.5" y="1227.8"/></g><g fill="none" stroke="#e08850" stroke-width="1.1"><use href="#s30" x="592.5" y="680.5"/><use href="#s30" x="1140.3" y="1227.8"/><use href="#o30" x="592.5" y="687.7"/><use href="#o30" x="1133.2" y="1227.8"/></g><g fill="none" stroke="#f0a030" stroke-width="1.1"><use href="#o30" x="592.5" y="694.8"/><use href="#o30" x="1126.1" y="1227.8"/><use href="#*30" x="592.5" y="701.9"/><use href="#*30" x="1119.0" y="1227.8"/><use href="#d30" x="592.5" y="709.0"/><use href="#d30" x="1111.8" y="1227.8"/><use href="#o30" x="592.5" y="716.2"/><use href="#o30" x="1104.7" y="1227.8"/><use href="#t30" x="592.5" y="723.3"/><use href="#t30" x="1097.6" y="1227.8"/><use href="#d30" x="592.5" y="730.4"/><use href="#d30" x="1090.5" y="1227.8"/><use href="#v30" x="592.5" y="737.5"/><use href="#v30" x="1083.3" y="1227.8"/><use href="#x30" x="592.5" y="744.6"/><use href="#x30" x="1076.2" y="1227.8"/><use href="#+30" x="592.5" y="751.8"/><use href="#+30" x="1069.1" y="1227.8"/><use href="#s30" x="592.5" y="758.9"/><use href="#s30" x="1062.0" y="1227.8"/></g><g fill="#a0702a" stroke="#000" stroke-width="1.1"><use href="#d30" x="592.5" y="808.8"/><use href="#d30" x="1012.1" y="1227.8"/><use href="#o30" x="592.5" y="815.9"/><use href="#o30" x="1005.0" y="1227.8"/><use href="#t30" x="592.5" y="823.0"/><use href="#t30" x="997.9" y="1227.8"/><use href="#d30" x="592.5" y="830.1"/><use href="#d30" x="990.7" y="1227.8"/><use href="#v30" x="592.5" y="837.3"/><use href="#v30" x="983.6" y="1227.8"/><use href="#o30" x="592.5" y="844.4"/><use href="#o30" x="976.5" y="1227.8"/><use href="#t30" x="592.5" y="851.5"/><use href="#t30" x="969.4" y="1227.8"/></g><g fill="none" stroke="#a040f0" stroke-width="1.1"><use href="#t30" x="592.5" y="858.6"/><use href="#t30" x="962.2" y="1227.8"/><use href="#d30" x="592.5" y="865.8"/><use href="#d30" x="955.1" y="1227.8"/><use href="#v30" x="592.5" y="872.9"/><use href="#v30" x="948.0" y="1227.8"/><use href="#x30" x="592.5" y="880.0"/><use href="#x30" x="940.9" y="1227.8"/></g><g fill="#8a30c8" stroke="#000" stroke-width="1.1"><use href="#d30" x="592.5" y="887.1"/><use href="#d30" x="933.8" y="1227.8"/><use href="#v30" x="592.5" y="894.2"/><use href="#v30" x="926.6" y="1227.8"/><use href="#s30" x="592.5" y="915.6"/><use href="#s30" x="905.3" y="1227.8"/><use href="#o30" x="592.5" y="922.7"/><use href="#o30" x="898.1" y="1227.8"/></g><g fill="none" stroke="#8a30c8" stroke-width="1.1"><use href="#x30" x="592.5" y="901.4"/><use href="#x30" x="919.5" y="1227.8"/><use href="#+30" x="592.5" y="908.5"/><use href="#+30" x="912.4" y="1227.8"/><use href="#*30" x="592.5" y="929.9"/><use href="#*30" x="891.0" y="1227.8"/></g><g fill="#c040a0" stroke="#000" stroke-width="1.1"><use href="#v30" x="592.5" y="937.0"/><use href="#v30" x="883.9" y="1227.8"/></g><g fill="none" stroke="#c040a0" stroke-width="1.1"><use href="#x30" x="592.5" y="944.1"/><use href="#x30" x="876.8" y="1227.8"/></g><g fill="none" stroke="#e07aa8" stroke-width="1.1"><use href="#x30" x="592.5" y="951.2"/><use href="#x30" x="869.6" y="1227.8"/><use href="#+30" x="592.5" y="958.4"/><use href="#+30" x="862.5" y="1227.8"/><use href="#s30" x="592.5" y="965.5"/><use href="#s30" x="855.4" y="1227.8"/><use href="#o30" x="592.5" y="972.6"/><use href="#o30" x="848.3" y="1227.8"/><use href="#*30" x="592.5" y="979.7"/><use href="#*30" x="841.1" y="1227.8"/><use href="#d30" x="592.5" y="986.9"/><use href="#d30" x="834.0" y="1227.8"/><use href="#o30" x="592.5" y="994.0"/><use href="#o30" x="826.9" y="1227.8"/></g><g fill="none" stroke="#d06090" stroke-width="1.1"><use href="#+30" x="592.5" y="1001.1"/><use href="#+30" x="819.8" y="1227.8"/></g><g fill="none" stroke="#e888e8" stroke-width="1.1"><use href="#s30" x="592.5" y="1008.2"/><use href="#s30" x="812.6" y="1227.8"/><use href="#o30" x="592.5" y="1015.3"/><use href="#o30" x="805.5" y="1227.8"/><use href="#*30" x="592.5" y="1022.5"/><use href="#*30" x="798.4" y="1227.8"/><use href="#d30" x="592.5" y="1029.6"/><use href="#d30" x="791.3" y="1227.8"/></g><g fill="#e070e0" stroke="#000" stroke-width="1.1"><use href="#o30" x="592.5" y="1036.7"/><use href="#o30" x="784.2" y="1227.8"/></g><g fill="none" stroke="#f090d0" stroke-width="1.1"><use href="#*30" x="592.5" y="1043.8"/><use href="#*30" x="777.0" y="1227.8"/><use href="#d30" x="592.5" y="1051.0"/><use href="#d30" x="769.9" y="1227.8"/><use href="#o30" x="592.5" y="1058.1"/><use href="#o30" x="762.8" y="1227.8"/><use href="#t30" x="592.5" y="1065.2"/><use href="#t30" x="755.7" y="1227.8"/><use href="#d30" x="592.5" y="1072.3"/><use href="#d30" x="748.5" y="1227.8"/></g><g fill="#f080d0" stroke="#000" stroke-width="1.1"><use href="#d30" x="592.5" y="1079.5"/><use href="#d30" x="741.4" y="1227.8"/><use href="#o30" x="592.5" y="1086.6"/><use href="#o30" x="734.3" y="1227.8"/></g><g fill="none" stroke="#f088b8" stroke-width="1.1"><use href="#o30" x="592.5" y="1093.7"/><use href="#o30" x="727.2" y="1227.8"/><use href="#t30" x="592.5" y="1100.8"/><use href="#t30" x="720.0" y="1227.8"/><use href="#d30" x="592.5" y="1108.0"/><use href="#d30" x="712.9" y="1227.8"/><use href="#v30" x="592.5" y="1115.1"/><use href="#v30" x="705.8" y="1227.8"/></g><g fill="none" stroke="#e888c0" stroke-width="1.1"><use href="#t30" x="592.5" y="1122.2"/><use href="#t30" x="698.7" y="1227.8"/><use href="#d30" x="592.5" y="1129.3"/><use href="#d30" x="691.5" y="1227.8"/><use href="#v30" x="592.5" y="1136.5"/><use href="#v30" x="684.4" y="1227.8"/><use href="#x30" x="592.5" y="1143.6"/><use href="#x30" x="677.3" y="1227.8"/></g><g fill="none" stroke="#9040f0" stroke-width="1.1"><use href="#d30" x="592.5" y="1150.7"/><use href="#d30" x="670.2" y="1227.8"/><use href="#v30" x="592.5" y="1157.8"/><use href="#v30" x="663.1" y="1227.8"/><use href="#x30" x="592.5" y="1164.9"/><use href="#x30" x="655.9" y="1227.8"/><use href="#+30" x="592.5" y="1172.1"/><use href="#+30" x="648.8" y="1227.8"/><use href="#s30" x="592.5" y="1179.2"/><use href="#s30" x="641.7" y="1227.8"/><use href="#o30" x="592.5" y="1186.3"/><use href="#o30" x="634.6" y="1227.8"/><use href="#*30" x="592.5" y="1193.4"/><use href="#*30" x="627.4" y="1227.8"/><use href="#d30" x="592.5" y="1200.6"/><use href="#d30" x="620.3" y="1227.8"/></g><g fill="#8a30e0" stroke="#000" stroke-width="1.1"><use href="#v30" x="592.5" y="1207.7"/><use href="#v30" x="613.2" y="1227.8"/></g><g fill="none" stroke="#8a30e0" stroke-width="1.1"><use href="#x30" x="592.5" y="1214.8"/><use href="#x30" x="606.1" y="1227.8"/></g><circle cx="578.8" cy="117.8" r="2.7"/><circle cx="1703.1" cy="1242.3" r="2.7"/><circle cx="578.8" cy="124.9" r="2.7"/><circle cx="1696.0" cy="1242.3" r="2.7"/><circle cx="578.8" cy="132.0" r="2.7"/><circle cx="1688.9" cy="1242.3" r="2.7"/><circle cx="578.8" cy="139.1" r="2.7"/><circle cx="1681.7" cy="1242.3" r="2.7"/><circle cx="578.8" cy="203.2" r="2.7"/><circle cx="1617.6" cy="1242.3" r="2.7"/><circle cx="578.8" cy="217.5" r="2.7"/><circle cx="1603.4" cy="1242.3" r="2.7"/><circle cx="578.8" cy="331.5" r="2.7"/><circle cx="1489.4" cy="1242.3" r="2.7"/><circle cx="578.8" cy="338.6" r="2.7"/><circle cx="1482.3" cy="1242.3" r="2.7"/><circle cx="578.8" cy="345.7" r="2.7"/><circle cx="1475.2" cy="1242.3" r="2.7"/><circle cx="578.8" cy="381.3" r="2.7"/><circle cx="1439.5" cy="1242.3" r="2.7"/><circle cx="578.8" cy="388.5" r="2.7"/><circle cx="1432.4" cy="1242.3" r="2.7"/><circle cx="578.8" cy="395.6" r="2.7"/><circle cx="1425.3" cy="1242.3" r="2.7"/><circle cx="578.8" cy="402.7" r="2.7"/><circle cx="1418.2" cy="1242.3" r="2.7"/><circle cx="578.8" cy="431.2" r="2.7"/><circle cx="1389.7" cy="1242.3" r="2.7"/><circle cx="578.8" cy="452.6" r="2.7"/><circle cx="1368.3" cy="1242.3" r="2.7"/><circle cx="578.8" cy="466.8" r="2.7"/><circle cx="1354.1" cy="1242.3" r="2.7"/><circle cx="578.8" cy="473.9" r="2.7"/><circle cx="1346.9" cy="1242.3" r="2.7"/><circle cx="578.8" cy="488.2" r="2.7"/><circle cx="1332.7" cy="1242.3" r="2.7"/><circle cx="578.8" cy="723.3" r="2.7"/><circle cx="1097.6" cy="1242.3" r="2.7"/><circle cx="578.8" cy="773.1" r="2.7"/><circle cx="1047.7" cy="1242.3" r="2.7"/><circle cx="578.8" cy="780.3" r="2.7"/><circle cx="1040.6" cy="1242.3" r="2.7"/><circle cx="578.8" cy="858.6" r="2.7"/><circle cx="962.2" cy="1242.3" r="2.7"/><circle cx="578.8" cy="865.8" r="2.7"/><circle cx="955.1" cy="1242.3" r="2.7"/><circle cx="578.8" cy="872.9" r="2.7"/><circle cx="948.0" cy="1242.3" r="2.7"/><circle cx="578.8" cy="880.0" r="2.7"/><circle cx="940.9" cy="1242.3" r="2.7"/><circle cx="578.8" cy="951.2" r="2.7"/><circle cx="869.6" cy="1242.3" r="2.7"/><circle cx="578.8" cy="958.4" r="2.7"/><circle cx="862.5" cy="1242.3" r="2.7"/><circle cx="578.8" cy="1008.2" r="2.7"/><circle cx="812.6" cy="1242.3" r="2.7"/><circle cx="578.8" cy="1015.3" r="2.7"/><circle cx="805.5" cy="1242.3" r="2.7"/><circle cx="578.8" cy="1029.6" r="2.7"/><circle cx="791.3" cy="1242.3" r="2.7"/><circle cx="578.8" cy="1036.7" r="2.7"/><circle cx="784.2" cy="1242.3" r="2.7"/><circle cx="578.8" cy="1065.2" r="2.7"/><circle cx="755.7" cy="1242.3" r="2.7"/><circle cx="578.8" cy="1072.3" r="2.7"/><circle cx="748.5" cy="1242.3" r="2.7"/><circle cx="578.8" cy="1093.7" r="2.7"/><circle cx="727.2" cy="1242.3" r="2.7"/><circle cx="578.8" cy="1100.8" r="2.7"/><circle cx="720.0" cy="1242.3" r="2.7"/><circle cx="578.8" cy="1108.0" r="2.7"/><circle cx="712.9" cy="1242.3" r="2.7"/><circle cx="578.8" cy="1115.1" r="2.7"/><circle cx="705.8" cy="1242.3" r="2.7"/><circle cx="578.8" cy="1122.2" r="2.7"/><circle cx="698.7" cy="1242.3" r="2.7"/><circle cx="578.8" cy="1157.8" r="2.7"/><circle cx="663.1" cy="1242.3" r="2.7"/><circle cx="578.8" cy="1164.9" r="2.7"/><circle cx="655.9" cy="1242.3" r="2.7"/><circle cx="578.8" cy="1179.2" r="2.7"/><circle cx="641.7" cy="1242.3" r="2.7"/><circle cx="578.8" cy="1207.7" r="2.7"/><circle cx="613.2" cy="1242.3" r="2.7"/><circle cx="578.8" cy="1214.8" r="2.7"/><circle cx="606.1" cy="1242.3" r="2.7"/><text x="387.0" y="39.4" font-size="19.35" text-anchor="end">1. Cuyo LH</text><text x="388.4" y="70.0" font-size="19.35" text-anchor="end">2. QhapaqHucha Inka LH</text><text x="388.0" y="93.1" font-size="19.35" text-anchor="end">3. Central Chile LH</text><text x="392.0" y="132.6" font-size="19.35" text-anchor="end">4. Central Chile MH</text><text x="393.8" y="171.3" font-size="19.35" text-anchor="end">5. Central Chile EH</text><text x="392.0" y="213.8" font-size="19.35" text-anchor="end">7. Pampa MH</text><text x="389.7" y="238.3" font-size="19.35" text-anchor="end">6. Pampa LH</text><text x="388.4" y="275.6" font-size="19.35" text-anchor="end">8. Uruguay LH</text><text x="569.0" y="272.0" font-size="19.35" text-anchor="end">9. Brazil LH</text><text x="570.6" y="326.9" font-size="19.35" text-anchor="end">10. Brazil MH</text><text x="568.5" y="361.1" font-size="19.35" text-anchor="end">11. Brazil EH</text><text x="567.6" y="438.0" font-size="19.35" text-anchor="end">12. SouthPatagonia LH</text><text x="567.6" y="486.7" font-size="19.35" text-anchor="end">13. SouthPatagonia MH</text><text x="386.0" y="514.6" font-size="19.35" text-anchor="end">14. Central Andes Unknown</text><text x="567.6" y="553.3" font-size="19.35" text-anchor="end">15. Central Andes Late Horizon LH</text><text x="568.5" y="632.6" font-size="19.35" text-anchor="end">16. Central Andes Late Intermediate LH</text><text x="569.6" y="692.7" font-size="19.35" text-anchor="end">17. Central Andes Middle Horizon / Late Intermediate LH</text><text x="569.6" y="739.2" font-size="19.35" text-anchor="end">18. Central Andes Middle Horizon LH</text><text x="570.3" y="793.7" font-size="19.35" text-anchor="end">19. Central Andes Early Intermediate LH</text><text x="572.0" y="831.4" font-size="19.35" text-anchor="end">20. Central Andes MH</text><text x="569.6" y="856.2" font-size="19.35" text-anchor="end">21. Central Andes EH</text><text x="566.6" y="876.9" font-size="19.35" text-anchor="end">22. Central America LH</text><text x="575.7" y="917.9" font-size="19.35" text-anchor="end">23. Central America MH</text><text x="574.0" y="948.8" font-size="19.35" text-anchor="end">24. Central America EH</text><text x="572.0" y="982.6" font-size="19.35" text-anchor="end">25. California SouthernMainland LH</text><text x="385.0" y="1009.8" font-size="19.35" text-anchor="end">26. California SouthernMainland MH</text><text x="384.0" y="1033.8" font-size="19.35" text-anchor="end">27. California Southern Channel Islands LH</text><text x="388.0" y="1062.8" font-size="19.35" text-anchor="end">28. California Southern Channel Islands MH</text><text x="385.0" y="1087.9" font-size="19.35" text-anchor="end">29. California Northern Channel Islands LH</text><text x="385.0" y="1115.1" font-size="19.35" text-anchor="end">30. California Northern Channel Islands MH</text><text x="384.0" y="1138.0" font-size="19.35" text-anchor="end">31. California Baja LH</text><text x="385.0" y="1162.7" font-size="19.35" text-anchor="end">32. California Central LH</text><text x="388.7" y="1190.0" font-size="19.35" text-anchor="end">33. Southern North America LH</text><text x="564.8" y="1216.8" font-size="19.35" text-anchor="end">34. Southern North America EH</text><line x1="396.5" y1="33.2" x2="571.0" y2="114.9" stroke="#000" stroke-width="2.4"/><line x1="396.5" y1="64.5" x2="571.0" y2="126.6" stroke="#000" stroke-width="2.4"/><line x1="396.5" y1="87.6" x2="571.0" y2="145.4" stroke="#000" stroke-width="2.4"/><line x1="396.5" y1="126.3" x2="571.0" y2="153.6" stroke="#000" stroke-width="2.4"/><line x1="396.5" y1="161.2" x2="571.0" y2="160.6" stroke="#000" stroke-width="2.4"/><line x1="396.5" y1="206.7" x2="571.0" y2="170.7" stroke="#000" stroke-width="2.4"/><line x1="396.5" y1="232.0" x2="571.0" y2="188.4" stroke="#000" stroke-width="2.4"/><line x1="396.5" y1="262.0" x2="571.0" y2="204.0" stroke="#000" stroke-width="2.4"/><line x1="396.6" y1="506.4" x2="567.6" y2="488.2" stroke="#000" stroke-width="2.4"/><line x1="398.5" y1="1004.3" x2="566.6" y2="999.3" stroke="#000" stroke-width="2.4"/><line x1="398.5" y1="1023.6" x2="566.6" y2="1018.9" stroke="#000" stroke-width="2.4"/><line x1="399.0" y1="1051.9" x2="567.0" y2="1035.2" stroke="#000" stroke-width="2.4"/><line x1="399.0" y1="1075.5" x2="567.0" y2="1058.8" stroke="#000" stroke-width="2.4"/><line x1="399.0" y1="1097.3" x2="567.0" y2="1081.7" stroke="#000" stroke-width="2.4"/><line x1="397.5" y1="1127.1" x2="566.0" y2="1101.0" stroke="#000" stroke-width="2.4"/><line x1="396.5" y1="1154.4" x2="567.0" y2="1136.2" stroke="#000" stroke-width="2.4"/><line x1="395.0" y1="1182.3" x2="564.0" y2="1170.7" stroke="#000" stroke-width="2.4"/><text x="610.0" y="1267.0" font-size="19.35" text-anchor="middle">33</text><text x="651.7" y="1267.0" font-size="19.35" text-anchor="middle">32</text><text x="689.0" y="1267.0" font-size="19.35" text-anchor="middle">31</text><text x="716.0" y="1267.0" font-size="19.35" text-anchor="middle">31</text><text x="761.0" y="1267.0" font-size="19.35" text-anchor="middle">29</text><text x="807.0" y="1267.0" font-size="19.35" text-anchor="middle">27</text><text x="846.6" y="1267.0" font-size="19.35" text-anchor="middle">25</text><text x="880.5" y="1267.0" font-size="19.35" text-anchor="middle">24</text><text x="910.0" y="1267.0" font-size="19.35" text-anchor="middle">23</text><text x="951.0" y="1267.0" font-size="19.35" text-anchor="middle">22</text><text x="996.8" y="1267.0" font-size="19.35" text-anchor="middle">20</text><text x="1038.5" y="1267.0" font-size="19.35" text-anchor="middle">19</text><text x="1096.8" y="1267.0" font-size="19.35" text-anchor="middle">18</text><text x="1134.0" y="1267.0" font-size="19.35" text-anchor="middle">17</text><text x="1193.9" y="1267.0" font-size="19.35" text-anchor="middle">16</text><text x="1281.0" y="1267.0" font-size="19.35" text-anchor="middle">15</text><text x="1351.0" y="1267.0" font-size="19.35" text-anchor="middle">13</text><text x="1402.6" y="1267.0" font-size="19.35" text-anchor="middle">12</text><text x="1468.5" y="1267.0" font-size="19.35" text-anchor="middle">11</text><text x="1503.4" y="1267.0" font-size="19.35" text-anchor="middle">10</text><text x="1560.0" y="1267.0" font-size="19.35" text-anchor="middle">9</text><text x="1631.0" y="1267.0" font-size="19.35" text-anchor="middle">7</text><text x="1649.6" y="1267.0" font-size="19.35" text-anchor="middle">6</text><text x="737.5" y="1293.0" font-size="19.35" text-anchor="middle">30</text><line x1="737.5" y1="1252.5" x2="737.5" y2="1274.5" stroke="#000" stroke-width="3"/><text x="784.0" y="1293.0" font-size="19.35" text-anchor="middle">28</text><line x1="784.0" y1="1252.5" x2="784.0" y2="1274.5" stroke="#000" stroke-width="3"/><text x="973.0" y="1293.0" font-size="19.35" text-anchor="middle">21</text><line x1="973.0" y1="1252.5" x2="973.0" y2="1274.5" stroke="#000" stroke-width="3"/><text x="1332.6" y="1293.0" font-size="19.35" text-anchor="middle">14</text><line x1="1332.6" y1="1252.5" x2="1332.6" y2="1274.5" stroke="#000" stroke-width="3"/><text x="1616.5" y="1293.0" font-size="19.35" text-anchor="middle">8</text><line x1="1616.5" y1="1252.5" x2="1616.5" y2="1274.5" stroke="#000" stroke-width="3"/><text x="1658.5" y="1293.0" font-size="19.35" text-anchor="middle">5</text><line x1="1658.5" y1="1252.5" x2="1658.5" y2="1274.5" stroke="#000" stroke-width="3"/><text x="1676.4" y="1293.0" font-size="19.35" text-anchor="middle">4</text><line x1="1665.3" y1="1253.0" x2="1677.4" y2="1275.0" stroke="#000" stroke-width="2.6"/><text x="1697.0" y="1293.0" font-size="19.35" text-anchor="middle">3</text><line x1="1673.8" y1="1253.0" x2="1693.2" y2="1275.0" stroke="#000" stroke-width="2.6"/><text x="1724.5" y="1293.0" font-size="19.35" text-anchor="middle">2</text><line x1="1689.5" y1="1253.0" x2="1715.6" y2="1275.0" stroke="#000" stroke-width="2.6"/><text x="1750.5" y="1293.0" font-size="19.35" text-anchor="middle">1</text><line x1="1703.5" y1="1253.0" x2="1742.2" y2="1276.0" stroke="#000" stroke-width="2.6"/><rect x="1733" y="576.5" width="256" height="269.5" fill="none" stroke="#000" stroke-width="1.6"/><rect x="1748.5" y="599.0" width="10.5" height="10.5" fill="#161096"/><text x="1773.8" y="612.0" font-size="22.4" text-anchor="start">Z &lt;= −5</text><rect x="1748.5" y="626.0" width="10.5" height="10.5" fill="#1e06f2"/><text x="1773.8" y="639.0" font-size="22.4" text-anchor="start">−5 &lt; Z &lt;=−3</text><rect x="1748.5" y="653.0" width="10.5" height="10.5" fill="#9bbecb"/><text x="1773.8" y="666.0" font-size="22.4" text-anchor="start">−3 &lt; Z &lt;= −2</text><rect x="1748.5" y="680.0" width="10.5" height="10.5" fill="#c0f4f8"/><text x="1773.8" y="693.0" font-size="22.4" text-anchor="start">−2 &lt; Z &lt;= 0</text><rect x="1748.5" y="707.0" width="10.5" height="10.5" fill="#f5f490"/><text x="1773.8" y="720.0" font-size="22.4" text-anchor="start">0 &lt; Z &lt;= 2</text><rect x="1748.5" y="734.0" width="10.5" height="10.5" fill="#c8c478"/><text x="1773.8" y="747.0" font-size="22.4" text-anchor="start">2 &lt; Z &lt;= 3</text><rect x="1748.5" y="761.0" width="10.5" height="10.5" fill="#e8383a"/><text x="1773.8" y="774.0" font-size="22.4" text-anchor="start">3 &lt; Z &lt;= 5</text><rect x="1748.5" y="788.0" width="10.5" height="10.5" fill="#912222"/><text x="1773.8" y="801.0" font-size="22.4" text-anchor="start">Z &gt; 5</text><circle cx="1753.7" cy="820.5" r="4.2"/><text x="1773.8" y="828.0" font-size="22.4" text-anchor="start">Shotgun sequencing</text><text x="13.0" y="41.8" font-size="32" text-anchor="start" font-weight="bold">a</text><rect x="4.1" y="4.7" width="2003" height="2708" fill="none" stroke="#000" stroke-width="2"/><line x1="4.0" y1="1312.0" x2="2008.0" y2="1312.0" stroke="#000" stroke-width="2.2"/><line x1="4.0" y1="1946.6" x2="2008.0" y2="1946.6" stroke="#000" stroke-width="2.2"/><line x1="1005.2" y1="1946.6" x2="1005.2" y2="2713.0" stroke="#000" stroke-width="2.2"/><g transform="translate(736.4,1333.3) scale(13.7)" shape-rendering="crispEdges"><path fill="#912222" d="M0 0h1v1h-1zM4 0h1v1h-1zM29 0h1v1h-1zM27 0h1v1h-1zM0 3h1v1h-1zM28 3h1v1h-1zM30 3h1v1h-1zM0 15h1v1h-1zM4 20h1v1h-1zM26 20h2v1h-2zM29 18h1v4h-1zM0 17h1v8h-1zM0 28h1v2h-1zM29 28h1v2h-1zM0 34h1v1h-1z"/><path fill="#e8383a" d="M28 0h1v1h-1zM32 0h2v1h-2zM25 0h2v1h-2zM30 0h1v1h-1zM37 0h1v1h-1zM16 0h1v1h-1zM8 0h1v1h-1zM12 0h3v1h-3zM1 0h3v1h-3zM6 0h1v1h-1zM29 1h1v2h-1zM0 1h1v2h-1zM27 3h1v1h-1zM13 3h1v1h-1zM4 3h1v1h-1zM30 5h1v1h-1zM0 4h1v4h-1zM30 7h1v1h-1zM29 9h1v1h-1zM0 9h1v1h-1zM0 11h1v2h-1zM0 14h1v1h-1zM26 16h1v1h-1zM0 16h1v1h-1zM29 15h1v3h-1zM27 17h1v1h-1zM1 18h1v1h-1zM26 18h2v1h-2zM4 18h1v2h-1zM27 19h1v1h-1zM28 20h1v1h-1zM5 20h13v1h-13zM37 20h1v1h-1zM35 20h1v1h-1zM1 20h3v1h-3zM30 20h4v1h-4zM22 20h4v1h-4zM26 21h2v1h-2zM4 21h1v1h-1zM27 22h1v1h-1zM29 22h1v3h-1zM27 24h1v1h-1zM4 24h1v1h-1zM0 25h1v1h-1zM29 27h1v1h-1zM0 27h1v1h-1zM26 28h2v2h-2zM4 28h1v2h-1zM0 30h1v3h-1zM29 31h1v2h-1zM29 34h1v1h-1zM27 34h1v1h-1zM29 36h1v1h-1zM0 35h1v4h-1z"/><path fill="#f5f490" d="M20 0h2v1h-2zM36 0h1v1h-1zM18 0h1v1h-1zM9 0h1v1h-1zM22 1h5v1h-5zM1 1h3v1h-3zM16 1h2v1h-2zM30 1h6v1h-6zM5 1h6v1h-6zM37 1h1v1h-1zM12 1h3v2h-3zM28 1h1v2h-1zM8 2h1v1h-1zM6 2h1v1h-1zM4 2h1v1h-1zM1 2h2v1h-2zM26 2h1v1h-1zM30 2h1v1h-1zM35 2h1v1h-1zM23 3h4v1h-4zM5 3h3v1h-3zM20 3h2v1h-2zM15 3h3v1h-3zM34 3h2v1h-2zM9 3h3v1h-3zM29 3h1v1h-1zM38 3h1v1h-1zM30 4h3v1h-3zM3 4h4v1h-4zM26 4h2v1h-2zM8 4h2v1h-2zM1 4h1v2h-1zM31 5h3v1h-3zM3 5h7v1h-7zM25 5h3v1h-3zM29 5h1v1h-1zM16 4h1v3h-1zM12 4h3v3h-3zM35 5h1v2h-1zM26 6h4v1h-4zM31 6h1v2h-1zM4 6h1v2h-1zM1 6h2v2h-2zM8 7h1v1h-1zM27 7h3v1h-3zM6 7h1v1h-1zM33 7h1v1h-1zM12 7h1v1h-1zM37 5h1v4h-1zM14 7h1v2h-1zM0 8h1v1h-1zM9 8h1v1h-1zM26 8h1v1h-1zM31 9h1v1h-1zM1 9h1v1h-1zM26 9h2v1h-2zM4 9h1v1h-1zM13 9h2v1h-2zM13 10h1v1h-1zM0 10h1v1h-1zM6 11h1v1h-1zM30 11h2v1h-2zM9 11h1v1h-1zM25 11h2v1h-2zM1 11h4v1h-4zM13 11h2v1h-2zM35 11h1v1h-1zM31 12h1v1h-1zM13 12h1v1h-1zM26 12h1v1h-1zM32 13h1v1h-1zM29 13h1v1h-1zM6 13h1v2h-1zM14 14h1v1h-1zM30 14h4v1h-4zM26 14h2v1h-2zM4 14h1v1h-1zM1 14h2v1h-2zM9 14h1v1h-1zM35 14h1v1h-1zM30 15h3v1h-3zM16 15h1v1h-1zM12 15h3v1h-3zM25 15h1v1h-1zM34 15h2v1h-2zM37 14h1v3h-1zM1 15h3v2h-3zM24 16h2v1h-2zM14 16h3v1h-3zM30 16h6v1h-6zM22 16h1v1h-1zM12 16h1v1h-1zM5 15h5v3h-5zM12 17h3v1h-3zM2 17h2v1h-2zM16 17h2v1h-2zM24 17h1v1h-1zM31 17h6v1h-6zM20 17h1v2h-1zM7 18h5v1h-5zM5 18h1v1h-1zM22 18h4v1h-4zM15 18h1v1h-1zM17 18h2v1h-2zM3 18h1v1h-1zM28 15h1v5h-1zM37 18h2v2h-2zM30 18h6v2h-6zM2 19h2v1h-2zM5 19h9v1h-9zM23 19h3v1h-3zM15 19h3v1h-3zM21 20h1v1h-1zM39 20h1v1h-1zM5 21h1v1h-1zM22 21h3v1h-3zM17 21h1v1h-1zM15 21h1v1h-1zM20 21h1v1h-1zM9 21h3v1h-3zM7 21h1v1h-1zM31 21h6v1h-6zM3 21h1v1h-1zM38 21h1v1h-1zM16 22h1v1h-1zM1 22h3v1h-3zM14 22h1v1h-1zM23 22h3v1h-3zM30 22h6v1h-6zM5 22h6v1h-6zM12 22h1v1h-1zM37 22h1v2h-1zM30 23h3v1h-3zM12 23h3v1h-3zM6 23h1v1h-1zM25 23h2v1h-2zM1 23h4v1h-4zM28 21h1v4h-1zM24 24h2v1h-2zM2 24h2v1h-2zM14 24h1v1h-1zM37 24h2v1h-2zM16 24h2v1h-2zM30 24h6v1h-6zM22 24h1v1h-1zM5 24h8v1h-8zM13 25h1v1h-1zM26 25h2v1h-2zM4 25h1v1h-1zM1 25h2v1h-2zM31 26h1v1h-1zM0 26h1v1h-1zM23 26h1v1h-1zM9 26h1v1h-1zM25 26h2v1h-2zM6 25h1v3h-1zM8 27h1v1h-1zM14 27h1v1h-1zM30 27h2v1h-2zM4 27h1v1h-1zM1 27h2v1h-2zM25 27h4v1h-4zM31 28h5v1h-5zM37 28h2v1h-2zM16 28h2v1h-2zM5 28h6v1h-6zM22 28h4v2h-4zM28 28h1v2h-1zM3 28h1v2h-1zM5 29h5v1h-5zM32 29h4v1h-4zM12 28h1v3h-1zM37 29h1v2h-1zM14 30h1v1h-1zM29 30h2v1h-2zM26 30h2v1h-2zM4 30h1v1h-1zM1 30h2v1h-2zM32 30h2v1h-2zM6 30h1v2h-1zM9 31h1v1h-1zM25 31h2v1h-2zM1 31h4v1h-4zM13 31h2v1h-2zM33 31h1v1h-1zM16 29h1v4h-1zM28 31h1v2h-1zM30 31h1v2h-1zM12 32h3v1h-3zM25 32h1v1h-1zM1 32h1v1h-1zM5 32h2v1h-2zM8 32h2v1h-2zM32 32h2v1h-2zM35 32h1v1h-1zM37 32h1v1h-1zM3 32h1v1h-1zM27 33h1v1h-1zM33 33h1v1h-1zM29 33h3v1h-3zM21 33h1v1h-1zM0 33h3v1h-3zM4 33h1v1h-1zM16 34h1v1h-1zM12 34h3v1h-3zM1 34h3v1h-3zM6 34h1v1h-1zM30 34h4v1h-4zM8 34h2v1h-2zM28 34h1v1h-1zM25 34h2v1h-2zM37 34h1v1h-1zM31 35h1v1h-1zM13 35h1v1h-1zM26 35h2v1h-2zM29 35h1v1h-1zM12 36h3v1h-3zM6 36h1v1h-1zM30 36h4v1h-4zM1 36h2v1h-2zM9 36h1v1h-1zM25 36h2v1h-2zM37 36h1v1h-1zM1 37h1v1h-1zM29 37h3v1h-3zM35 37h1v1h-1zM13 37h1v2h-1zM26 37h2v2h-2zM4 37h1v2h-1zM31 38h1v1h-1z"/><path fill="#c8c478" d="M15 0h1v1h-1zM34 0h2v1h-2zM7 0h1v1h-1zM10 0h2v1h-2zM38 0h1v1h-1zM5 0h1v1h-1zM17 0h1v1h-1zM22 0h3v1h-3zM31 0h1v1h-1zM4 1h1v1h-1zM27 1h1v2h-1zM14 3h1v1h-1zM37 3h1v1h-1zM12 3h1v1h-1zM8 3h1v1h-1zM31 3h3v1h-3zM1 3h3v1h-3zM29 4h1v1h-1zM2 5h1v1h-1zM28 5h1v1h-1zM30 6h1v1h-1zM13 7h1v1h-1zM31 10h1v1h-1zM27 11h1v1h-1zM29 11h1v2h-1zM0 13h1v1h-1zM29 14h1v1h-1zM26 15h2v1h-2zM33 15h1v1h-1zM27 16h1v1h-1zM4 15h1v3h-1zM25 17h2v1h-2zM30 17h1v1h-1zM37 17h1v1h-1zM1 17h1v1h-1zM2 18h1v1h-1zM16 18h1v1h-1zM12 18h3v1h-3zM26 19h1v1h-1zM1 19h1v1h-1zM14 19h1v1h-1zM18 20h1v1h-1zM20 20h1v1h-1zM38 20h1v1h-1zM34 20h1v1h-1zM36 20h1v1h-1zM6 21h1v1h-1zM1 21h2v1h-2zM30 21h1v1h-1zM37 21h1v1h-1zM16 21h1v1h-1zM8 21h1v1h-1zM12 21h3v1h-3zM25 21h1v1h-1zM4 22h1v1h-1zM26 22h1v1h-1zM13 22h1v1h-1zM27 23h1v1h-1zM26 24h1v1h-1zM1 24h1v1h-1zM13 24h1v1h-1zM29 25h1v1h-1zM13 27h1v1h-1zM30 28h1v1h-1zM1 28h2v2h-2zM13 28h2v2h-2zM30 29h2v1h-2zM27 31h1v1h-1zM31 31h1v2h-1zM26 32h2v1h-2zM4 32h1v1h-1zM2 32h1v1h-1zM4 34h1v1h-1zM4 36h1v1h-1zM27 36h1v1h-1zM29 38h1v1h-1z"/><path fill="#c0f4f8" d="M19 0h1v1h-1zM36 1h1v1h-1zM18 1h1v1h-1zM15 1h1v1h-1zM11 1h1v1h-1zM20 1h2v2h-2zM38 2h1v1h-1zM5 2h1v1h-1zM23 2h3v1h-3zM15 2h3v1h-3zM31 2h4v1h-4zM9 2h3v1h-3zM7 2h1v1h-1zM3 2h1v1h-1zM18 3h1v1h-1zM39 3h1v1h-1zM22 3h1v1h-1zM36 4h3v1h-3zM20 4h6v1h-6zM33 4h2v1h-2zM2 4h1v1h-1zM28 4h1v1h-1zM7 4h1v1h-1zM10 4h2v2h-2zM36 5h1v1h-1zM20 5h5v1h-5zM15 4h1v3h-1zM17 4h2v3h-2zM34 6h1v1h-1zM25 6h1v1h-1zM32 6h1v1h-1zM20 6h4v1h-4zM5 6h7v1h-7zM3 6h1v2h-1zM5 7h1v1h-1zM34 7h2v1h-2zM9 7h3v1h-3zM7 7h1v1h-1zM20 7h7v1h-7zM38 5h1v4h-1zM15 7h4v2h-4zM11 8h3v1h-3zM20 8h6v1h-6zM27 8h2v1h-2zM1 8h6v1h-6zM30 8h1v1h-1zM32 8h4v1h-4zM35 9h1v1h-1zM20 9h2v1h-2zM5 9h5v1h-5zM2 9h2v1h-2zM37 9h2v1h-2zM23 9h3v1h-3zM15 9h3v1h-3zM28 9h1v1h-1zM12 9h1v1h-1zM36 10h1v1h-1zM6 10h1v1h-1zM32 10h3v1h-3zM4 10h1v1h-1zM2 10h1v1h-1zM9 10h1v1h-1zM26 10h1v1h-1zM5 11h1v1h-1zM15 11h4v1h-4zM37 11h2v1h-2zM10 11h3v1h-3zM7 11h2v1h-2zM32 11h2v1h-2zM20 11h5v1h-5zM14 12h1v1h-1zM6 12h1v1h-1zM4 12h1v1h-1zM1 12h2v1h-2zM9 12h1v1h-1zM30 12h1v1h-1zM12 12h1v1h-1zM32 12h4v1h-4zM25 12h1v2h-1zM16 13h1v1h-1zM12 13h3v1h-3zM1 13h5v1h-5zM30 13h2v1h-2zM33 13h6v1h-6zM8 13h2v1h-2zM27 13h2v1h-2zM10 14h4v1h-4zM5 14h1v1h-1zM34 14h1v1h-1zM20 14h2v1h-2zM7 14h2v1h-2zM15 14h3v1h-3zM28 14h1v1h-1zM23 14h2v1h-2zM3 14h1v1h-1zM20 15h4v1h-4zM15 15h1v1h-1zM36 14h1v3h-1zM17 15h2v2h-2zM13 16h1v1h-1zM20 16h2v1h-2zM38 14h1v4h-1zM10 15h2v3h-2zM21 17h1v1h-1zM18 17h1v1h-1zM23 17h1v1h-1zM15 17h1v1h-1zM6 18h1v1h-1zM19 18h1v1h-1zM36 18h1v2h-1zM39 18h1v2h-1zM18 19h1v1h-1zM21 19h2v1h-2zM21 21h1v1h-1zM39 21h1v1h-1zM36 22h1v1h-1zM18 22h1v1h-1zM20 22h3v1h-3zM11 22h1v1h-1zM38 22h1v2h-1zM15 22h1v2h-1zM7 23h5v1h-5zM5 23h1v1h-1zM17 23h1v1h-1zM22 23h3v1h-3zM33 23h4v1h-4zM20 23h1v1h-1zM20 24h2v1h-2zM36 24h1v1h-1zM18 24h1v1h-1zM23 24h1v1h-1zM7 25h3v1h-3zM5 25h1v1h-1zM22 25h4v1h-4zM15 25h3v1h-3zM30 25h6v1h-6zM28 25h1v1h-1zM3 25h1v1h-1zM12 25h1v1h-1zM16 26h1v1h-1zM14 26h1v1h-1zM1 26h5v1h-5zM7 26h2v1h-2zM24 26h1v1h-1zM27 26h4v1h-4zM33 26h3v1h-3zM22 26h1v1h-1zM37 25h2v3h-2zM20 26h1v2h-1zM5 27h1v1h-1zM22 27h3v1h-3zM15 27h3v1h-3zM9 27h3v1h-3zM7 27h1v1h-1zM3 27h1v1h-1zM32 27h4v1h-4zM18 28h1v1h-1zM20 28h2v2h-2zM36 28h1v2h-1zM38 29h1v1h-1zM11 29h1v1h-1zM17 29h2v2h-2zM31 30h1v1h-1zM34 30h3v1h-3zM13 30h1v1h-1zM20 30h6v1h-6zM7 30h2v1h-2zM38 30h2v1h-2zM28 30h1v1h-1zM10 30h2v1h-2zM3 30h1v1h-1zM5 30h1v2h-1zM17 31h1v1h-1zM32 31h1v1h-1zM37 31h2v1h-2zM10 31h3v1h-3zM34 31h2v1h-2zM7 31h1v1h-1zM15 28h1v5h-1zM20 31h5v2h-5zM38 32h1v1h-1zM34 32h1v1h-1zM36 32h1v1h-1zM10 32h2v1h-2zM17 32h2v1h-2zM20 33h1v1h-1zM32 33h1v1h-1zM7 33h11v1h-11zM34 33h5v1h-5zM22 33h5v1h-5zM5 33h1v1h-1zM3 33h1v1h-1zM28 33h1v1h-1zM38 34h1v1h-1zM34 34h3v1h-3zM15 34h1v1h-1zM7 34h1v1h-1zM10 34h2v1h-2zM17 34h2v1h-2zM20 34h5v1h-5zM16 35h1v1h-1zM25 35h1v1h-1zM14 35h1v1h-1zM6 35h1v1h-1zM1 35h2v1h-2zM8 35h2v1h-2zM30 35h1v1h-1zM37 35h1v1h-1zM12 35h1v1h-1zM32 35h4v1h-4zM38 36h1v1h-1zM5 36h1v1h-1zM15 36h4v1h-4zM7 36h2v1h-2zM34 36h2v1h-2zM10 36h2v1h-2zM20 36h5v1h-5zM14 37h4v1h-4zM22 37h4v1h-4zM8 37h2v1h-2zM5 37h2v1h-2zM20 37h1v1h-1zM32 37h2v1h-2zM3 37h1v1h-1zM28 35h1v4h-1zM37 37h2v2h-2zM12 37h1v2h-1zM14 38h1v1h-1zM5 38h5v1h-5zM2 38h2v1h-2zM16 38h2v1h-2zM23 38h3v1h-3zM30 38h1v1h-1zM32 38h4v1h-4zM31 39h1v1h-1zM13 39h1v1h-1zM6 39h1v1h-1zM29 39h1v1h-1z"/><path fill="#ffffff" d="M39 0h1v1h-1zM38 1h1v1h-1zM37 2h1v1h-1zM36 3h1v1h-1zM35 4h1v1h-1zM34 5h1v1h-1zM33 6h1v1h-1zM32 7h1v1h-1zM31 8h1v1h-1zM30 9h1v1h-1zM29 10h1v1h-1zM28 11h1v1h-1zM27 12h1v1h-1zM26 13h1v1h-1zM25 14h1v1h-1zM24 15h1v1h-1zM23 16h1v1h-1zM22 17h1v1h-1zM21 18h1v1h-1zM20 19h1v1h-1zM19 20h1v1h-1zM18 21h1v1h-1zM17 22h1v1h-1zM16 23h1v1h-1zM15 24h1v1h-1zM14 25h1v1h-1zM13 26h1v1h-1zM12 27h1v1h-1zM11 28h1v1h-1zM10 29h1v1h-1zM9 30h1v1h-1zM8 31h1v1h-1zM7 32h1v1h-1zM6 33h1v1h-1zM5 34h1v1h-1zM4 35h1v1h-1zM3 36h1v1h-1zM2 37h1v1h-1zM1 38h1v1h-1zM0 39h1v1h-1z"/><path fill="#9bbecb" d="M19 1h1v1h-1zM39 1h1v1h-1zM36 2h1v1h-1zM18 2h1v1h-1zM22 2h1v1h-1zM19 3h1v1h-1zM39 4h1v2h-1zM19 5h1v1h-1zM24 6h1v1h-1zM36 6h1v3h-1zM10 8h1v1h-1zM7 8h2v1h-2zM39 8h1v1h-1zM29 8h1v1h-1zM18 9h1v1h-1zM10 9h2v1h-2zM33 9h1v1h-1zM22 9h1v1h-1zM1 10h1v1h-1zM25 10h1v1h-1zM14 10h1v1h-1zM27 10h2v1h-2zM35 10h1v1h-1zM34 11h1v1h-1zM37 12h2v1h-2zM7 12h2v1h-2zM28 12h1v1h-1zM23 12h2v1h-2zM3 12h1v1h-1zM16 12h1v1h-1zM15 13h1v1h-1zM20 13h1v1h-1zM24 13h1v1h-1zM7 13h1v1h-1zM17 13h1v1h-1zM22 13h1v2h-1zM18 14h1v1h-1zM39 15h1v3h-1zM19 19h1v1h-1zM19 21h1v1h-1zM39 22h1v1h-1zM18 23h1v1h-1zM21 23h1v1h-1zM39 24h1v1h-1zM20 25h2v1h-2zM36 25h1v1h-1zM18 25h1v1h-1zM10 25h2v1h-2zM32 26h1v1h-1zM10 26h3v1h-3zM15 26h1v1h-1zM17 26h2v1h-2zM21 26h1v2h-1zM36 27h1v1h-1zM18 27h1v1h-1zM39 28h1v2h-1zM36 31h1v1h-1zM18 31h1v1h-1zM39 32h1v1h-1zM18 33h1v1h-1zM39 34h1v1h-1zM7 35h1v1h-1zM3 35h1v1h-1zM38 35h1v1h-1zM5 35h1v1h-1zM22 35h3v1h-3zM17 35h1v1h-1zM7 37h1v1h-1zM34 37h1v1h-1zM21 37h1v1h-1zM36 36h1v3h-1zM18 37h1v2h-1zM10 37h2v2h-2zM15 38h1v1h-1zM20 38h1v1h-1zM22 38h1v1h-1zM26 39h1v1h-1z"/><path fill="#1e06f2" d="M39 2h1v1h-1zM19 2h1v1h-1zM19 4h1v1h-1zM39 6h1v2h-1zM19 6h1v4h-1zM39 9h1v1h-1zM34 9h1v1h-1zM32 9h1v1h-1zM30 10h1v1h-1zM3 10h1v1h-1zM12 10h1v1h-1zM5 10h1v1h-1zM22 10h3v1h-3zM37 10h2v1h-2zM7 10h2v1h-2zM15 10h3v1h-3zM39 11h1v1h-1zM19 11h1v1h-1zM20 12h3v1h-3zM17 12h2v1h-2zM5 12h1v1h-1zM36 12h1v1h-1zM15 12h1v1h-1zM10 12h2v2h-2zM21 13h1v1h-1zM18 13h1v1h-1zM23 13h1v1h-1zM39 13h1v2h-1zM19 14h1v4h-1zM39 23h1v1h-1zM36 26h1v1h-1zM39 25h1v3h-1zM39 31h1v1h-1zM39 33h1v1h-1zM19 22h1v13h-1zM10 35h2v1h-2zM20 35h2v1h-2zM36 35h1v1h-1zM18 35h1v1h-1zM15 35h1v1h-1zM39 36h1v3h-1zM19 36h1v3h-1zM21 38h1v1h-1zM1 39h4v1h-4zM30 39h1v1h-1zM32 39h4v1h-4zM12 39h1v1h-1zM7 39h3v1h-3zM25 39h1v1h-1zM14 39h1v1h-1zM37 39h2v1h-2zM23 39h1v1h-1zM27 39h2v1h-2z"/><path fill="#161096" d="M36 9h1v1h-1zM39 10h1v1h-1zM10 10h2v1h-2zM18 10h4v1h-4zM36 11h1v1h-1zM39 12h1v1h-1zM19 12h1v2h-1zM19 35h1v1h-1zM39 35h1v1h-1zM5 39h1v1h-1zM36 39h1v1h-1zM15 39h8v1h-8zM39 39h1v1h-1zM10 39h2v1h-2zM24 39h1v1h-1z"/></g><defs><pattern id="cgB" x="736.4" y="1333.3" width="13.7" height="13.7" patternUnits="userSpaceOnUse"><path d="M0 0.4H13.7M0.4 0V13.7" stroke="#fff" stroke-opacity="0.25" stroke-width="0.8" fill="none"/></pattern></defs><rect x="736.4" y="1333.3" width="548.0" height="548.0" fill="url(#cgB)"/><line x1="711.5" y1="1333.3" x2="1284.4" y2="1333.3" stroke="#000" stroke-width="1.5"/><line x1="1284.4" y1="1333.3" x2="1284.4" y2="1914.0" stroke="#000" stroke-width="1.5"/><line x1="711.5" y1="1347.0" x2="1284.4" y2="1347.0" stroke="#000" stroke-width="1.5"/><line x1="1270.7" y1="1333.3" x2="1270.7" y2="1914.0" stroke="#000" stroke-width="1.5"/><line x1="711.5" y1="1360.7" x2="1284.4" y2="1360.7" stroke="#000" stroke-width="1.5"/><line x1="1257.0" y1="1333.3" x2="1257.0" y2="1914.0" stroke="#000" stroke-width="1.5"/><line x1="711.5" y1="1401.8" x2="1284.4" y2="1401.8" stroke="#000" stroke-width="1.5"/><line x1="1215.9" y1="1333.3" x2="1215.9" y2="1914.0" stroke="#000" stroke-width="1.5"/><line x1="711.5" y1="1442.9" x2="1284.4" y2="1442.9" stroke="#000" stroke-width="1.5"/><line x1="1174.8" y1="1333.3" x2="1174.8" y2="1914.0" stroke="#000" stroke-width="1.5"/><line x1="711.5" y1="1538.8" x2="1284.4" y2="1538.8" stroke="#000" stroke-width="1.5"/><line x1="1078.9" y1="1333.3" x2="1078.9" y2="1914.0" stroke="#000" stroke-width="1.5"/><line x1="711.5" y1="1579.9" x2="1284.4" y2="1579.9" stroke="#000" stroke-width="1.5"/><line x1="1037.8" y1="1333.3" x2="1037.8" y2="1914.0" stroke="#000" stroke-width="1.5"/><line x1="711.5" y1="1648.4" x2="1284.4" y2="1648.4" stroke="#000" stroke-width="1.5"/><line x1="969.3" y1="1333.3" x2="969.3" y2="1914.0" stroke="#000" stroke-width="1.5"/><line x1="711.5" y1="1675.8" x2="1284.4" y2="1675.8" stroke="#000" stroke-width="1.5"/><line x1="941.9" y1="1333.3" x2="941.9" y2="1914.0" stroke="#000" stroke-width="1.5"/><line x1="711.5" y1="1771.7" x2="1284.4" y2="1771.7" stroke="#000" stroke-width="1.5"/><line x1="846.0" y1="1333.3" x2="846.0" y2="1914.0" stroke="#000" stroke-width="1.5"/><line x1="711.5" y1="1799.1" x2="1284.4" y2="1799.1" stroke="#000" stroke-width="1.5"/><line x1="818.6" y1="1333.3" x2="818.6" y2="1914.0" stroke="#000" stroke-width="1.5"/><line x1="711.5" y1="1812.8" x2="1284.4" y2="1812.8" stroke="#000" stroke-width="1.5"/><line x1="804.9" y1="1333.3" x2="804.9" y2="1914.0" stroke="#000" stroke-width="1.5"/><line x1="711.5" y1="1826.5" x2="1284.4" y2="1826.5" stroke="#000" stroke-width="1.5"/><line x1="791.2" y1="1333.3" x2="791.2" y2="1914.0" stroke="#000" stroke-width="1.5"/><line x1="711.5" y1="1853.9" x2="1284.4" y2="1853.9" stroke="#000" stroke-width="1.5"/><line x1="763.8" y1="1333.3" x2="763.8" y2="1914.0" stroke="#000" stroke-width="1.5"/><line x1="711.5" y1="1881.3" x2="1284.4" y2="1881.3" stroke="#000" stroke-width="1.5"/><line x1="736.4" y1="1333.3" x2="736.4" y2="1914.0" stroke="#000" stroke-width="1.5"/><g fill="#e83a3a" stroke="#000" stroke-width="1.0"><use href="#d45" x="716.2" y="1340.1"/><use href="#d45" x="1277.5" y="1902.5"/><use href="#o45" x="716.2" y="1353.8"/><use href="#o45" x="1263.8" y="1902.5"/></g><g fill="#a8d8ea" stroke="#000" stroke-width="1.0"><use href="#d45" x="716.2" y="1367.5"/><use href="#d45" x="1250.2" y="1902.5"/><use href="#s45" x="716.2" y="1381.2"/><use href="#s45" x="1236.4" y="1902.5"/><use href="#o45" x="716.2" y="1395.0"/><use href="#o45" x="1222.8" y="1902.5"/></g><g fill="#5f9a5f" stroke="#000" stroke-width="1.0"><use href="#t45" x="716.2" y="1408.6"/><use href="#t45" x="1209.0" y="1902.5"/><use href="#d45" x="716.2" y="1422.3"/><use href="#d45" x="1195.3" y="1902.5"/><use href="#s45" x="716.2" y="1436.0"/><use href="#s45" x="1181.7" y="1902.5"/></g><g fill="#a0f0a0" stroke="#000" stroke-width="1.0"><use href="#s45" x="716.2" y="1449.8"/><use href="#s45" x="1167.9" y="1902.5"/><use href="#s45" x="716.2" y="1463.5"/><use href="#s45" x="1154.2" y="1902.5"/><use href="#s45" x="716.2" y="1477.1"/><use href="#s45" x="1140.5" y="1902.5"/><use href="#t45" x="716.2" y="1490.8"/><use href="#t45" x="1126.8" y="1902.5"/><use href="#o45" x="716.2" y="1504.5"/><use href="#o45" x="1113.2" y="1902.5"/><use href="#o45" x="716.2" y="1518.2"/><use href="#o45" x="1099.4" y="1902.5"/><use href="#d45" x="716.2" y="1531.9"/><use href="#d45" x="1085.8" y="1902.5"/></g><g fill="#2020e0" stroke="#000" stroke-width="1.0"><use href="#d45" x="716.2" y="1545.6"/><use href="#d45" x="1072.0" y="1902.5"/><use href="#s45" x="716.2" y="1559.3"/><use href="#s45" x="1058.3" y="1902.5"/><use href="#o45" x="716.2" y="1573.0"/><use href="#o45" x="1044.7" y="1902.5"/></g><g fill="#a0702a" stroke="#000" stroke-width="1.0"><use href="#t45" x="716.2" y="1586.8"/><use href="#t45" x="1031.0" y="1902.5"/><use href="#d45" x="716.2" y="1600.4"/><use href="#d45" x="1017.2" y="1902.5"/><use href="#s45" x="716.2" y="1614.1"/><use href="#s45" x="1003.5" y="1902.5"/><use href="#o45" x="716.2" y="1627.8"/><use href="#o45" x="989.8" y="1902.5"/><use href="#v45" x="716.2" y="1641.5"/><use href="#v45" x="976.1" y="1902.5"/></g><g fill="#a0602a" stroke="#000" stroke-width="1.0"><use href="#s45" x="716.2" y="1655.2"/><use href="#s45" x="962.4" y="1902.5"/><use href="#o45" x="716.2" y="1668.9"/><use href="#o45" x="948.8" y="1902.5"/></g><g fill="#c040a0" stroke="#000" stroke-width="1.0"><use href="#t45" x="716.2" y="1682.6"/><use href="#t45" x="935.0" y="1902.5"/><use href="#v45" x="716.2" y="1696.3"/><use href="#v45" x="921.3" y="1902.5"/></g><g fill="#9a30e0" stroke="#000" stroke-width="1.0"><use href="#v45" x="716.2" y="1710.0"/><use href="#v45" x="907.6" y="1902.5"/><use href="#o45" x="716.2" y="1723.8"/><use href="#o45" x="893.9" y="1902.5"/><use href="#s45" x="716.2" y="1737.4"/><use href="#s45" x="880.2" y="1902.5"/><use href="#d45" x="716.2" y="1751.1"/><use href="#d45" x="866.5" y="1902.5"/><use href="#t45" x="716.2" y="1764.8"/><use href="#t45" x="852.8" y="1902.5"/><use href="#s45" x="716.2" y="1860.8"/><use href="#s45" x="756.9" y="1902.5"/><use href="#o45" x="716.2" y="1874.4"/><use href="#o45" x="743.2" y="1902.5"/></g><g fill="#c04090" stroke="#000" stroke-width="1.0"><use href="#o45" x="716.2" y="1778.5"/><use href="#o45" x="839.1" y="1902.5"/><use href="#s45" x="716.2" y="1792.2"/><use href="#s45" x="825.4" y="1902.5"/></g><g fill="#c07090" stroke="#000" stroke-width="1.0"><use href="#o45" x="716.2" y="1805.9"/><use href="#o45" x="811.8" y="1902.5"/></g><g fill="#f0a0f0" stroke="#000" stroke-width="1.0"><use href="#d45" x="716.2" y="1819.6"/><use href="#d45" x="798.0" y="1902.5"/><use href="#o45" x="716.2" y="1833.3"/><use href="#o45" x="784.4" y="1902.5"/><use href="#s45" x="716.2" y="1847.0"/><use href="#s45" x="770.6" y="1902.5"/></g><text x="698.7" y="1345.8" font-size="19.3" text-anchor="end">1. Central Chile MH</text><text x="698.7" y="1363.1" font-size="19.3" text-anchor="end">2. Central Chile EH</text><text x="698.7" y="1390.6" font-size="19.3" text-anchor="end">3. Pampa MH</text><text x="698.7" y="1431.3" font-size="19.3" text-anchor="end">4. Brazil MH</text><text x="699.5" y="1499.2" font-size="19.3" text-anchor="end">5. Brazil EH</text><text x="699.5" y="1567.1" font-size="19.3" text-anchor="end">6. SouthPatagonia MH</text><text x="700.0" y="1624.5" font-size="19.3" text-anchor="end">7. Central Andes MH</text><text x="699.5" y="1669.8" font-size="19.3" text-anchor="end">8. Central Andes EH</text><text x="699.0" y="1728.6" font-size="19.3" text-anchor="end">9. Central America EH</text><text x="699.0" y="1787.0" font-size="19.3" text-anchor="end">10. Central America MH</text><text x="700.0" y="1811.2" font-size="19.3" text-anchor="end">11. California SouthernMainland MH</text><text x="701.6" y="1827.2" font-size="19.3" text-anchor="end">12. California Southern Channel Islands MH</text><text x="703.5" y="1848.5" font-size="19.3" text-anchor="end">13. California Northern Channel Islands MH</text><text x="702.7" y="1875.1" font-size="19.3" text-anchor="end">14. Southern North America EH</text><text x="745.8" y="1939.2" font-size="19.3" text-anchor="middle">14</text><text x="778.5" y="1926.0" font-size="19.3" text-anchor="middle">13</text><text x="796.0" y="1939.2" font-size="19.3" text-anchor="middle">12</text><text x="811.5" y="1926.0" font-size="19.3" text-anchor="middle">11</text><text x="831.0" y="1939.2" font-size="19.3" text-anchor="middle">10</text><text x="892.7" y="1939.2" font-size="19.3" text-anchor="middle">9</text><text x="953.3" y="1939.2" font-size="19.3" text-anchor="middle">8</text><text x="1002.0" y="1939.2" font-size="19.3" text-anchor="middle">7</text><text x="1054.5" y="1939.2" font-size="19.3" text-anchor="middle">6</text><text x="1125.5" y="1939.2" font-size="19.3" text-anchor="middle">5</text><text x="1193.4" y="1939.2" font-size="19.3" text-anchor="middle">4</text><text x="1238.5" y="1939.2" font-size="19.3" text-anchor="middle">3</text><text x="1265.0" y="1939.2" font-size="19.3" text-anchor="middle">2</text><text x="1279.0" y="1939.2" font-size="19.3" text-anchor="middle">1</text><rect x="1433" y="1514.5" width="255.79999999999995" height="269.5" fill="none" stroke="#000" stroke-width="1.6"/><rect x="1448.2" y="1536.0" width="10.5" height="10.5" fill="#161096"/><text x="1473.6" y="1549.0" font-size="22.4" text-anchor="start">Z &lt;= −5</text><rect x="1448.2" y="1562.9" width="10.5" height="10.5" fill="#1e06f2"/><text x="1473.6" y="1575.9" font-size="22.4" text-anchor="start">−5 &lt; Z &lt;=−3</text><rect x="1448.2" y="1589.8" width="10.5" height="10.5" fill="#9bbecb"/><text x="1473.6" y="1602.8" font-size="22.4" text-anchor="start">−3 &lt; Z &lt;= −2</text><rect x="1448.2" y="1616.7" width="10.5" height="10.5" fill="#c0f4f8"/><text x="1473.6" y="1629.7" font-size="22.4" text-anchor="start">−2 &lt; Z &lt;= 0</text><rect x="1448.2" y="1643.6" width="10.5" height="10.5" fill="#f5f490"/><text x="1473.6" y="1656.6" font-size="22.4" text-anchor="start">0 &lt; Z &lt;= 2</text><rect x="1448.2" y="1670.5" width="10.5" height="10.5" fill="#c8c478"/><text x="1473.6" y="1683.5" font-size="22.4" text-anchor="start">2 &lt; Z &lt;= 3</text><rect x="1448.2" y="1697.4" width="10.5" height="10.5" fill="#e8383a"/><text x="1473.6" y="1710.4" font-size="22.4" text-anchor="start">3 &lt; Z &lt;= 5</text><rect x="1448.2" y="1724.3" width="10.5" height="10.5" fill="#912222"/><text x="1473.6" y="1737.3" font-size="22.4" text-anchor="start">Z &gt; 5</text><circle cx="1453.4" cy="1756.7" r="4.2"/><text x="1473.6" y="1764.2" font-size="22.4" text-anchor="start">Shotgun sequencing</text><text x="13.0" y="1352.0" font-size="32" text-anchor="start" font-weight="bold">b</text><line x1="69.0" y1="2109.8" x2="986.3" y2="2109.8" stroke="#222" stroke-width="1.6"/><line x1="69.0" y1="2036.2" x2="986.3" y2="2036.2" stroke="#333" stroke-width="1.6" stroke-dasharray="9 7"/><line x1="69.0" y1="2183.4" x2="986.3" y2="2183.4" stroke="#333" stroke-width="1.6" stroke-dasharray="9 7"/><line x1="69.0" y1="1953.5" x2="69.0" y2="2322.4" stroke="#000" stroke-width="1.6"/><line x1="69.0" y1="2322.4" x2="986.3" y2="2322.4" stroke="#000" stroke-width="1.6"/><line x1="65.0" y1="1987.2" x2="69.0" y2="1987.2" stroke="#000" stroke-width="1.4"/><line x1="65.0" y1="2109.8" x2="69.0" y2="2109.8" stroke="#000" stroke-width="1.4"/><line x1="65.0" y1="2232.4" x2="69.0" y2="2232.4" stroke="#000" stroke-width="1.4"/><text x="50.8" y="1992.0" font-size="19.5" text-anchor="end">5</text><text x="50.8" y="2119.8" font-size="19.5" text-anchor="end">0</text><text x="50.8" y="2240.5" font-size="19.5" text-anchor="end">-5</text><text transform="translate(27.7,2183.8) rotate(-90)" font-size="23" text-anchor="start">Z-score</text><defs><linearGradient id="cg111" x1="0" y1="2031.3" x2="0" y2="2176.0" gradientUnits="userSpaceOnUse"><stop offset="0" stop-color="#f0992a"/><stop offset="0.49" stop-color="#ec9c36"/><stop offset="0.74" stop-color="#b49a78"/><stop offset="1" stop-color="#7482b0"/></linearGradient></defs><path d="M111.1 2031.3L111.3 2031.6L111.5 2032.0L111.8 2032.4L112.2 2032.9L112.5 2033.5L112.9 2034.0L113.2 2034.5L113.6 2035.0L114.0 2035.4L114.3 2035.6L114.8 2035.8L115.2 2036.0L115.6 2036.3L115.9 2036.8L116.3 2037.6L116.6 2038.7L116.8 2040.2L116.9 2042.0L116.9 2044.1L116.9 2046.4L117.0 2048.8L117.2 2051.2L117.5 2053.6L118.1 2055.9L118.9 2058.0L120.0 2060.1L121.2 2062.3L122.5 2064.4L123.9 2066.6L125.4 2068.7L126.8 2070.9L128.2 2073.0L129.7 2075.1L131.2 2077.3L132.8 2079.3L134.4 2081.4L136.0 2083.6L137.5 2085.7L139.0 2087.9L140.2 2090.2L141.5 2092.5L142.7 2094.9L143.9 2097.4L145.1 2099.8L146.0 2102.3L146.7 2104.8L147.2 2107.3L147.2 2109.8L146.9 2112.3L146.2 2114.7L145.1 2117.2L143.9 2119.6L142.5 2122.1L141.0 2124.5L139.6 2127.0L138.2 2129.4L136.9 2131.9L135.5 2134.4L134.0 2136.9L132.6 2139.5L131.1 2141.9L129.7 2144.4L128.4 2146.8L127.2 2149.0L126.2 2151.2L125.4 2153.4L124.6 2155.5L123.9 2157.5L123.2 2159.5L122.5 2161.4L121.8 2163.2L121.1 2165.0L120.3 2166.7L119.4 2168.3L118.6 2170.0L117.7 2171.5L116.9 2172.9L116.2 2174.1L115.6 2175.2L115.1 2176.0L107.1 2176.0L106.6 2175.2L106.0 2174.1L105.3 2172.9L104.5 2171.5L103.6 2170.0L102.8 2168.3L101.9 2166.7L101.1 2165.0L100.4 2163.2L99.7 2161.4L99.0 2159.5L98.3 2157.5L97.6 2155.5L96.8 2153.4L96.0 2151.2L95.0 2149.0L93.8 2146.8L92.5 2144.4L91.1 2141.9L89.6 2139.5L88.2 2136.9L86.7 2134.4L85.3 2131.9L84.0 2129.4L82.6 2127.0L81.2 2124.5L79.7 2122.1L78.3 2119.6L77.1 2117.2L76.0 2114.7L75.3 2112.3L75.0 2109.8L75.0 2107.3L75.5 2104.8L76.2 2102.3L77.1 2099.8L78.3 2097.4L79.5 2094.9L80.7 2092.5L82.0 2090.2L83.2 2087.9L84.7 2085.7L86.2 2083.6L87.8 2081.4L89.4 2079.3L91.0 2077.3L92.5 2075.1L94.0 2073.0L95.4 2070.9L96.8 2068.7L98.3 2066.6L99.7 2064.4L101.0 2062.3L102.2 2060.1L103.3 2058.0L104.1 2055.9L104.7 2053.6L105.0 2051.2L105.2 2048.8L105.3 2046.4L105.3 2044.1L105.3 2042.0L105.4 2040.2L105.6 2038.7L105.9 2037.6L106.3 2036.8L106.6 2036.3L107.0 2036.0L107.4 2035.8L107.8 2035.6L108.2 2035.4L108.6 2035.0L109.0 2034.5L109.3 2034.0L109.7 2033.5L110.0 2032.9L110.4 2032.4L110.7 2032.0L110.9 2031.6L111.1 2031.3Z" fill="url(#cg111)" fill-opacity="0.95"/><g fill="none" stroke="#2a1cf0" stroke-width="1.3"><use href="#s35" x="93.9" y="2130.3"/><use href="#x30" x="110.9" y="2088.7"/><use href="#x30" x="113.8" y="2141.6"/><use href="#s35" x="133.7" y="2127.8"/><use href="#x30" x="107.3" y="2146.7"/><use href="#*30" x="84.9" y="2109.2"/><use href="#s30" x="81.1" y="2099.4"/><use href="#o30" x="144.2" y="2108.0"/><use href="#d30" x="116.2" y="2065.7"/><use href="#x30" x="126.5" y="2109.2"/><use href="#o35" x="122.5" y="2137.0"/><use href="#t30" x="113.3" y="2112.2"/><use href="#d25" x="116.3" y="2154.2"/><use href="#s30" x="110.4" y="2156.7"/><use href="#+35" x="110.7" y="2054.4"/><use href="#t35" x="96.1" y="2138.2"/><use href="#d25" x="92.0" y="2101.1"/><use href="#*25" x="91.7" y="2098.3"/><use href="#x35" x="115.9" y="2076.4"/><use href="#o25" x="109.7" y="2039.9"/><use href="#t30" x="107.4" y="2164.2"/><use href="#s30" x="99.0" y="2120.5"/></g><g fill="none" stroke="#f0b040" stroke-width="1.3"><use href="#t25" x="112.6" y="2162.7"/><use href="#v30" x="108.5" y="2094.2"/><use href="#*25" x="91.7" y="2082.4"/><use href="#s25" x="107.1" y="2141.1"/><use href="#o30" x="114.8" y="2123.9"/><use href="#+30" x="115.0" y="2053.2"/><use href="#o25" x="113.3" y="2096.1"/><use href="#x35" x="102.6" y="2090.7"/><use href="#+30" x="90.6" y="2086.4"/><use href="#d30" x="98.8" y="2073.6"/><use href="#+35" x="114.4" y="2167.4"/><use href="#d25" x="113.4" y="2066.5"/><use href="#o25" x="110.0" y="2101.2"/><use href="#t30" x="110.7" y="2047.4"/><use href="#d30" x="144.5" y="2107.3"/><use href="#s25" x="109.0" y="2046.5"/><use href="#+25" x="112.9" y="2056.2"/><use href="#s25" x="111.6" y="2046.4"/><use href="#v35" x="105.6" y="2063.3"/><use href="#v30" x="105.4" y="2058.0"/><use href="#x25" x="129.4" y="2138.9"/></g><g fill="none" stroke="#a8f5a0" stroke-width="1.3"><use href="#+25" x="82.7" y="2114.9"/><use href="#d25" x="140.1" y="2120.1"/><use href="#d25" x="102.4" y="2155.7"/><use href="#s30" x="92.4" y="2095.5"/><use href="#d30" x="110.0" y="2045.8"/><use href="#+25" x="132.1" y="2135.4"/><use href="#x30" x="133.5" y="2095.2"/><use href="#*25" x="121.1" y="2121.6"/><use href="#v25" x="110.8" y="2089.9"/><use href="#+35" x="97.4" y="2119.4"/><use href="#+35" x="107.5" y="2136.7"/><use href="#t20" x="103.5" y="2154.7"/><use href="#d30" x="107.1" y="2058.8"/><use href="#t25" x="110.0" y="2120.4"/><use href="#o25" x="100.7" y="2146.6"/><use href="#x25" x="111.7" y="2078.4"/><use href="#t30" x="105.9" y="2139.2"/><use href="#t35" x="107.5" y="2066.2"/><use href="#*25" x="114.5" y="2060.6"/><use href="#v25" x="107.0" y="2171.9"/><use href="#t25" x="95.5" y="2124.6"/><use href="#s35" x="125.0" y="2083.9"/><use href="#d20" x="99.5" y="2071.2"/><use href="#o35" x="113.7" y="2126.6"/><use href="#v25" x="113.9" y="2053.1"/><use href="#+35" x="128.9" y="2105.3"/><use href="#o35" x="108.0" y="2052.2"/><use href="#t35" x="114.8" y="2052.4"/><use href="#s30" x="102.7" y="2156.7"/><use href="#s35" x="92.3" y="2115.6"/><use href="#s25" x="112.1" y="2121.8"/><use href="#d35" x="114.0" y="2170.4"/><use href="#t25" x="126.2" y="2086.6"/><use href="#v30" x="109.4" y="2039.4"/><use href="#o30" x="119.3" y="2062.7"/><use href="#t35" x="97.8" y="2132.6"/><use href="#v30" x="113.2" y="2168.2"/><use href="#v30" x="93.9" y="2078.3"/><use href="#+30" x="110.0" y="2175.3"/><use href="#d25" x="110.9" y="2074.4"/></g><g fill="none" stroke="#e8402a" stroke-width="1.3"><use href="#o30" x="138.2" y="2096.3"/><use href="#v30" x="94.2" y="2132.0"/><use href="#*30" x="109.1" y="2092.7"/><use href="#x25" x="110.8" y="2035.8"/><use href="#*30" x="95.8" y="2074.2"/><use href="#+35" x="110.1" y="2060.5"/><use href="#+35" x="127.4" y="2101.4"/></g><g fill="#f05a5a" stroke="#000" stroke-width="1.2"><use href="#t35" x="118.3" y="2068.5"/><use href="#s35" x="112.8" y="2069.6"/><use href="#d35" x="106.6" y="2165.1"/><use href="#t35" x="89.8" y="2091.1"/><use href="#t35" x="100.1" y="2082.1"/><use href="#s35" x="114.6" y="2077.3"/></g><g fill="#5f935f" stroke="#000" stroke-width="1.2"><use href="#o35" x="122.5" y="2081.5"/></g><g fill="#a0692a" stroke="#000" stroke-width="1.2"><use href="#o35" x="108.9" y="2127.5"/></g><g fill="#bfe3ef" stroke="#000" stroke-width="1.2"><use href="#d35" x="120.8" y="2095.4"/><use href="#d35" x="103.9" y="2112.4"/></g><g fill="#2a20e8" stroke="#000" stroke-width="1.2"><use href="#o35" x="117.2" y="2073.3"/></g><g fill="#a8f5a0" stroke="#000" stroke-width="1.2"><use href="#s35" x="99.2" y="2143.5"/></g><path d="M111.1 2035.0L111.3 2035.2L111.5 2035.4L111.7 2035.5L112.0 2035.8L112.3 2036.2L112.6 2036.7L112.9 2037.6L113.1 2038.7L113.2 2040.2L113.2 2042.0L113.2 2044.1L113.2 2046.4L113.2 2048.8L113.3 2051.2L113.6 2053.6L114.1 2055.9L114.8 2058.0L115.7 2060.1L116.8 2062.3L117.9 2064.4L119.2 2066.6L120.5 2068.7L121.8 2070.9L123.1 2073.0L124.5 2075.1L126.0 2077.3L127.6 2079.3L129.2 2081.4L130.8 2083.6L132.4 2085.7L133.8 2087.9L135.1 2090.2L136.3 2092.5L137.6 2094.9L138.8 2097.4L139.9 2099.8L140.9 2102.3L141.6 2104.8L142.0 2107.3L142.1 2109.8L141.8 2112.3L141.0 2114.7L140.0 2117.2L138.7 2119.6L137.3 2122.1L135.9 2124.5L134.4 2127.0L133.1 2129.4L131.8 2131.9L130.4 2134.4L128.9 2136.9L127.4 2139.5L125.9 2141.9L124.5 2144.4L123.2 2146.8L122.1 2149.0L121.1 2151.3L120.2 2153.5L119.4 2155.7L118.7 2157.8L118.1 2159.9L117.4 2161.8L116.8 2163.5L116.1 2165.0L115.4 2166.2L114.7 2167.3L113.9 2168.3L113.2 2169.0L112.6 2169.7L112.0 2170.2L111.5 2170.7L111.1 2171.1L111.1 2171.1L110.7 2170.7L110.2 2170.2L109.6 2169.7L109.0 2169.0L108.3 2168.3L107.5 2167.3L106.8 2166.2L106.1 2165.0L105.4 2163.5L104.8 2161.8L104.1 2159.9L103.5 2157.8L102.8 2155.7L102.0 2153.5L101.1 2151.3L100.1 2149.0L99.0 2146.8L97.7 2144.4L96.3 2141.9L94.8 2139.5L93.3 2136.9L91.8 2134.4L90.4 2131.9L89.1 2129.4L87.8 2127.0L86.3 2124.5L84.9 2122.1L83.5 2119.6L82.2 2117.2L81.2 2114.7L80.4 2112.3L80.1 2109.8L80.2 2107.3L80.6 2104.8L81.3 2102.3L82.3 2099.8L83.4 2097.4L84.6 2094.9L85.9 2092.5L87.1 2090.2L88.4 2087.9L89.8 2085.7L91.4 2083.6L93.0 2081.4L94.6 2079.3L96.2 2077.3L97.7 2075.1L99.1 2073.0L100.4 2070.9L101.7 2068.7L103.0 2066.6L104.3 2064.4L105.4 2062.3L106.5 2060.1L107.4 2058.0L108.1 2055.9L108.6 2053.6L108.9 2051.2L109.0 2048.8L109.0 2046.4L109.0 2044.1L109.0 2042.0L109.0 2040.2L109.1 2038.7L109.3 2037.6L109.6 2036.7L109.9 2036.2L110.2 2035.8L110.5 2035.5L110.7 2035.4L110.9 2035.2L111.1 2035.0Z" fill="none" stroke="#000" stroke-width="1.5"/><line x1="111.1" y1="2171.1" x2="111.1" y2="2217.7" stroke="#000" stroke-width="1.5"/><g fill="#a8f5a0" stroke="#000" stroke-width="1.4"><use href="#s35" x="111.1" y="2173.6"/><use href="#s35" x="111.1" y="2180.9"/><use href="#s35" x="111.1" y="2188.3"/><use href="#s35" x="111.1" y="2195.6"/><use href="#s35" x="111.1" y="2203.0"/><use href="#s35" x="111.1" y="2217.7"/></g><line x1="111.1" y1="2322.4" x2="111.1" y2="2327.0" stroke="#000" stroke-width="1.3"/><defs><linearGradient id="cg180" x1="0" y1="2008.0" x2="0" y2="2168.6" gradientUnits="userSpaceOnUse"><stop offset="0" stop-color="#f0992a"/><stop offset="0.58" stop-color="#ec9c36"/><stop offset="0.83" stop-color="#b49a78"/><stop offset="1" stop-color="#7482b0"/></linearGradient></defs><path d="M180.3 2008.0L180.5 2008.3L180.7 2008.7L181.0 2009.1L181.4 2009.6L181.7 2010.1L182.1 2010.6L182.4 2011.2L182.8 2011.7L183.2 2012.2L183.5 2012.5L183.9 2012.7L184.3 2013.0L184.7 2013.5L185.0 2014.2L185.4 2015.2L185.8 2016.6L186.1 2018.6L186.4 2020.9L186.7 2023.6L186.9 2026.6L187.2 2029.7L187.6 2032.8L188.1 2035.8L188.8 2038.7L189.6 2041.4L190.6 2044.2L191.6 2046.9L192.7 2049.6L193.9 2052.3L195.2 2055.1L196.5 2057.9L197.8 2060.8L199.2 2063.7L200.8 2066.8L202.4 2070.0L204.1 2073.2L205.8 2076.3L207.3 2079.4L208.7 2082.4L209.8 2085.3L210.7 2088.0L211.5 2090.5L212.1 2093.0L212.6 2095.4L213.0 2097.8L213.3 2100.1L213.5 2102.5L213.7 2104.9L213.9 2107.3L214.0 2109.8L214.0 2112.3L214.0 2114.7L213.9 2117.2L213.6 2119.6L213.2 2122.1L212.7 2124.5L212.0 2127.0L211.0 2129.6L209.9 2132.2L208.8 2134.8L207.5 2137.3L206.2 2139.7L205.0 2142.0L203.8 2144.1L202.7 2146.0L201.6 2147.7L200.5 2149.3L199.4 2150.7L198.3 2152.1L197.2 2153.5L196.0 2154.9L194.8 2156.4L193.5 2158.0L192.0 2159.7L190.5 2161.5L189.0 2163.3L187.5 2164.9L186.2 2166.4L185.1 2167.7L184.3 2168.6L176.3 2168.6L175.5 2167.7L174.4 2166.4L173.1 2164.9L171.6 2163.3L170.1 2161.5L168.6 2159.7L167.1 2158.0L165.8 2156.4L164.6 2154.9L163.4 2153.5L162.3 2152.1L161.2 2150.7L160.1 2149.3L159.0 2147.7L157.9 2146.0L156.8 2144.1L155.6 2142.0L154.4 2139.7L153.1 2137.3L151.9 2134.8L150.7 2132.2L149.6 2129.6L148.6 2127.0L147.9 2124.5L147.4 2122.1L147.0 2119.6L146.7 2117.2L146.6 2114.7L146.6 2112.3L146.6 2109.8L146.7 2107.3L146.9 2104.9L147.1 2102.5L147.3 2100.1L147.6 2097.8L148.0 2095.4L148.5 2093.0L149.1 2090.5L149.9 2088.0L150.8 2085.3L151.9 2082.4L153.3 2079.4L154.8 2076.3L156.5 2073.2L158.2 2070.0L159.8 2066.8L161.4 2063.7L162.8 2060.8L164.1 2057.9L165.4 2055.1L166.7 2052.3L167.9 2049.6L169.0 2046.9L170.0 2044.2L171.0 2041.4L171.8 2038.7L172.5 2035.8L173.0 2032.8L173.4 2029.7L173.7 2026.6L173.9 2023.6L174.2 2020.9L174.5 2018.6L174.8 2016.6L175.2 2015.2L175.6 2014.2L175.9 2013.5L176.3 2013.0L176.7 2012.7L177.1 2012.5L177.4 2012.2L177.8 2011.7L178.2 2011.2L178.5 2010.6L178.9 2010.1L179.2 2009.6L179.6 2009.1L179.9 2008.7L180.1 2008.3L180.3 2008.0Z" fill="url(#cg180)" fill-opacity="0.95"/><g fill="none" stroke="#a8f5a0" stroke-width="1.3"><use href="#v30" x="171.5" y="2156.5"/><use href="#x25" x="171.5" y="2069.5"/><use href="#o35" x="180.2" y="2027.8"/><use href="#x35" x="201.7" y="2119.0"/><use href="#s25" x="166.3" y="2101.5"/><use href="#v30" x="185.0" y="2064.8"/><use href="#d30" x="184.4" y="2160.9"/><use href="#v30" x="166.6" y="2103.5"/><use href="#s25" x="160.2" y="2138.5"/><use href="#o30" x="199.9" y="2110.9"/><use href="#o30" x="184.6" y="2035.5"/><use href="#s35" x="157.9" y="2129.7"/><use href="#o30" x="171.1" y="2046.7"/><use href="#+30" x="157.2" y="2121.0"/><use href="#v35" x="185.8" y="2133.6"/><use href="#o30" x="194.8" y="2063.9"/><use href="#t25" x="180.4" y="2052.7"/><use href="#v25" x="176.6" y="2040.0"/><use href="#+25" x="195.7" y="2064.2"/><use href="#o25" x="181.3" y="2164.9"/><use href="#s35" x="193.3" y="2098.1"/><use href="#*20" x="178.8" y="2022.5"/><use href="#+35" x="166.4" y="2151.5"/><use href="#x35" x="197.2" y="2149.2"/><use href="#*25" x="199.3" y="2120.2"/><use href="#*20" x="177.4" y="2083.7"/><use href="#t30" x="198.7" y="2095.8"/><use href="#o25" x="178.8" y="2027.6"/><use href="#o30" x="175.4" y="2056.2"/><use href="#*25" x="183.1" y="2025.3"/><use href="#s30" x="168.9" y="2117.2"/><use href="#*35" x="155.6" y="2127.1"/><use href="#*30" x="178.1" y="2016.1"/><use href="#v30" x="166.7" y="2122.5"/><use href="#d25" x="167.6" y="2137.4"/><use href="#v35" x="177.4" y="2026.2"/><use href="#t30" x="177.2" y="2162.3"/><use href="#d30" x="176.3" y="2038.7"/><use href="#x25" x="176.1" y="2057.3"/><use href="#+25" x="180.2" y="2163.7"/><use href="#+25" x="163.3" y="2148.3"/><use href="#+30" x="165.9" y="2143.3"/></g><g fill="none" stroke="#2a1cf0" stroke-width="1.3"><use href="#s30" x="179.6" y="2147.7"/><use href="#*30" x="173.4" y="2062.6"/><use href="#v25" x="195.5" y="2149.8"/><use href="#s25" x="179.4" y="2131.2"/><use href="#+25" x="174.9" y="2103.9"/><use href="#t25" x="165.8" y="2151.1"/><use href="#s25" x="199.3" y="2138.2"/><use href="#o35" x="176.6" y="2055.9"/><use href="#x30" x="176.1" y="2064.4"/><use href="#o30" x="158.8" y="2107.2"/><use href="#s35" x="162.2" y="2083.2"/><use href="#t35" x="167.8" y="2136.6"/><use href="#v25" x="179.0" y="2040.2"/><use href="#s30" x="183.5" y="2106.6"/><use href="#t25" x="185.6" y="2033.0"/><use href="#d30" x="208.1" y="2105.1"/><use href="#d25" x="175.0" y="2071.0"/></g><g fill="none" stroke="#e8402a" stroke-width="1.3"><use href="#v35" x="190.1" y="2048.3"/><use href="#*35" x="176.3" y="2021.7"/><use href="#s25" x="177.9" y="2158.5"/><use href="#+35" x="197.4" y="2119.1"/><use href="#x25" x="180.3" y="2050.6"/><use href="#*35" x="179.5" y="2152.6"/><use href="#+30" x="184.7" y="2160.6"/></g><g fill="none" stroke="#f0b040" stroke-width="1.3"><use href="#s30" x="206.6" y="2107.9"/><use href="#d30" x="181.3" y="2146.4"/><use href="#+25" x="177.3" y="2061.7"/><use href="#t30" x="182.2" y="2041.2"/><use href="#d25" x="152.7" y="2123.7"/><use href="#*30" x="167.5" y="2143.3"/><use href="#+25" x="170.1" y="2097.6"/><use href="#t25" x="187.8" y="2089.7"/><use href="#+35" x="179.2" y="2027.9"/><use href="#*20" x="186.5" y="2048.8"/><use href="#*35" x="207.2" y="2107.2"/><use href="#*25" x="184.1" y="2055.4"/><use href="#t30" x="169.2" y="2124.9"/><use href="#v25" x="166.2" y="2131.8"/><use href="#*30" x="184.8" y="2070.8"/><use href="#o25" x="199.8" y="2104.2"/><use href="#s20" x="194.3" y="2075.2"/><use href="#+35" x="178.9" y="2131.9"/><use href="#d30" x="184.0" y="2042.7"/><use href="#s35" x="188.5" y="2062.9"/><use href="#*35" x="164.9" y="2089.0"/><use href="#s30" x="196.6" y="2127.9"/><use href="#v30" x="165.9" y="2106.2"/><use href="#*35" x="179.0" y="2039.9"/></g><g fill="#5f935f" stroke="#000" stroke-width="1.2"><use href="#d35" x="187.2" y="2052.2"/><use href="#s35" x="181.2" y="2037.8"/><use href="#t35" x="184.0" y="2078.8"/><use href="#s35" x="164.4" y="2113.2"/><use href="#t35" x="174.6" y="2074.8"/></g><g fill="#bfe3ef" stroke="#000" stroke-width="1.2"><use href="#d35" x="190.4" y="2150.3"/><use href="#o35" x="183.3" y="2160.9"/><use href="#s35" x="172.0" y="2142.2"/><use href="#t35" x="165.9" y="2142.8"/><use href="#s35" x="189.5" y="2134.6"/></g><g fill="#a0692a" stroke="#000" stroke-width="1.2"><use href="#d35" x="189.8" y="2087.3"/></g><g fill="#2a20e8" stroke="#000" stroke-width="1.2"><use href="#d35" x="182.5" y="2151.6"/><use href="#t35" x="174.7" y="2112.3"/></g><path d="M180.3 2011.7L180.5 2012.0L180.7 2012.2L180.9 2012.4L181.2 2012.8L181.5 2013.3L181.8 2014.1L182.0 2015.2L182.3 2016.6L182.5 2018.6L182.7 2020.9L182.9 2023.6L183.1 2026.6L183.3 2029.7L183.5 2032.8L183.9 2035.8L184.3 2038.7L184.8 2041.4L185.5 2044.2L186.2 2046.9L186.9 2049.6L187.7 2052.3L188.6 2055.1L189.4 2057.9L190.3 2060.8L191.2 2063.7L192.3 2066.8L193.4 2070.0L194.5 2073.2L195.6 2076.3L196.6 2079.4L197.5 2082.4L198.3 2085.3L198.9 2088.0L199.5 2090.5L200.0 2093.0L200.4 2095.4L200.7 2097.8L200.9 2100.1L201.2 2102.5L201.3 2104.9L201.4 2107.3L201.4 2109.8L201.4 2112.3L201.4 2114.7L201.2 2117.2L201.0 2119.6L200.7 2122.1L200.3 2124.5L199.8 2127.0L199.2 2129.6L198.4 2132.2L197.6 2134.8L196.8 2137.3L195.9 2139.7L195.1 2142.0L194.3 2144.1L193.6 2146.0L192.8 2147.8L192.1 2149.5L191.4 2151.0L190.7 2152.5L189.9 2153.8L189.1 2155.1L188.3 2156.4L187.3 2157.6L186.3 2158.7L185.1 2159.8L183.9 2160.8L182.8 2161.7L181.8 2162.5L180.9 2163.2L180.3 2163.7L180.3 2163.7L179.7 2163.2L178.8 2162.5L177.8 2161.7L176.7 2160.8L175.5 2159.8L174.3 2158.7L173.3 2157.6L172.3 2156.4L171.5 2155.1L170.7 2153.8L169.9 2152.5L169.2 2151.0L168.5 2149.5L167.8 2147.8L167.0 2146.0L166.3 2144.1L165.5 2142.0L164.7 2139.7L163.8 2137.3L163.0 2134.8L162.2 2132.2L161.4 2129.6L160.8 2127.0L160.3 2124.5L159.9 2122.1L159.6 2119.6L159.4 2117.2L159.2 2114.7L159.2 2112.3L159.2 2109.8L159.2 2107.3L159.3 2104.9L159.4 2102.5L159.7 2100.1L159.9 2097.8L160.2 2095.4L160.6 2093.0L161.1 2090.5L161.7 2088.0L162.3 2085.3L163.1 2082.4L164.0 2079.4L165.0 2076.3L166.1 2073.2L167.2 2070.0L168.3 2066.8L169.4 2063.7L170.3 2060.8L171.2 2057.9L172.0 2055.1L172.9 2052.3L173.7 2049.6L174.4 2046.9L175.1 2044.2L175.8 2041.4L176.3 2038.7L176.7 2035.8L177.1 2032.8L177.3 2029.7L177.6 2026.6L177.7 2023.6L177.9 2020.9L178.1 2018.6L178.3 2016.6L178.6 2015.2L178.8 2014.1L179.1 2013.3L179.4 2012.8L179.7 2012.4L179.9 2012.2L180.1 2012.0L180.3 2011.7Z" fill="none" stroke="#000" stroke-width="1.5"/><line x1="180.3" y1="2163.7" x2="180.3" y2="2298.6" stroke="#000" stroke-width="1.5"/><g fill="#a8f5a0" stroke="#000" stroke-width="1.4"><use href="#s35" x="180.3" y="2168.6"/><use href="#s35" x="180.3" y="2176.0"/><use href="#s35" x="180.3" y="2185.8"/><use href="#s35" x="180.3" y="2195.6"/><use href="#s35" x="180.3" y="2205.4"/><use href="#s35" x="180.3" y="2227.5"/><use href="#s35" x="180.3" y="2229.9"/><use href="#s35" x="180.3" y="2288.8"/><use href="#s35" x="180.3" y="2298.6"/></g><line x1="180.3" y1="2322.4" x2="180.3" y2="2327.0" stroke="#000" stroke-width="1.3"/><defs><linearGradient id="cg249" x1="0" y1="1993.3" x2="0" y2="2188.3" gradientUnits="userSpaceOnUse"><stop offset="0" stop-color="#f0992a"/><stop offset="0.52" stop-color="#ec9c36"/><stop offset="0.77" stop-color="#b49a78"/><stop offset="1" stop-color="#7482b0"/></linearGradient></defs><path d="M249.9 1993.3L250.1 1993.6L250.3 1993.9L250.6 1994.3L251.0 1994.7L251.3 1995.2L251.7 1995.7L252.0 1996.3L252.4 1997.0L252.7 1997.6L253.1 1998.1L253.4 1998.6L253.8 1999.2L254.1 2000.0L254.5 2001.1L254.9 2002.5L255.4 2004.4L255.8 2006.8L256.3 2009.7L256.7 2012.9L257.2 2016.5L257.7 2020.2L258.3 2024.0L259.0 2027.7L259.9 2031.3L260.9 2034.9L262.1 2038.5L263.5 2042.2L264.9 2045.9L266.3 2049.6L267.7 2053.3L269.1 2057.1L270.4 2060.8L271.6 2064.4L272.9 2068.1L274.1 2071.8L275.4 2075.5L276.5 2079.2L277.6 2082.8L278.6 2086.5L279.4 2090.2L280.1 2093.9L280.8 2097.7L281.4 2101.4L281.8 2105.2L282.2 2108.9L282.4 2112.6L282.5 2116.2L282.4 2119.6L282.1 2122.9L281.6 2126.2L281.0 2129.4L280.2 2132.5L279.4 2135.5L278.4 2138.5L277.4 2141.3L276.4 2144.1L275.3 2146.9L274.0 2149.5L272.7 2152.2L271.2 2154.7L269.8 2157.1L268.4 2159.5L267.1 2161.7L265.9 2163.7L264.8 2165.6L263.7 2167.3L262.7 2168.9L261.8 2170.3L260.9 2171.7L260.0 2173.1L259.2 2174.5L258.4 2176.0L257.7 2177.6L257.0 2179.4L256.3 2181.1L255.7 2182.9L255.1 2184.6L254.6 2186.1L254.2 2187.3L253.9 2188.3L245.9 2188.3L245.6 2187.3L245.2 2186.1L244.7 2184.6L244.1 2182.9L243.5 2181.1L242.8 2179.4L242.1 2177.6L241.4 2176.0L240.6 2174.5L239.8 2173.1L238.9 2171.7L238.0 2170.3L237.1 2168.9L236.1 2167.3L235.0 2165.6L233.9 2163.7L232.7 2161.7L231.4 2159.5L230.0 2157.1L228.6 2154.7L227.1 2152.2L225.8 2149.5L224.5 2146.9L223.4 2144.1L222.4 2141.3L221.4 2138.5L220.4 2135.5L219.6 2132.5L218.8 2129.4L218.2 2126.2L217.7 2122.9L217.4 2119.6L217.3 2116.2L217.4 2112.6L217.6 2108.9L218.0 2105.2L218.4 2101.4L219.0 2097.7L219.7 2093.9L220.4 2090.2L221.2 2086.5L222.2 2082.8L223.3 2079.2L224.4 2075.5L225.7 2071.8L226.9 2068.1L228.2 2064.4L229.4 2060.8L230.7 2057.1L232.1 2053.3L233.5 2049.6L234.9 2045.9L236.3 2042.2L237.7 2038.5L238.9 2034.9L239.9 2031.3L240.8 2027.7L241.5 2024.0L242.1 2020.2L242.6 2016.5L243.1 2012.9L243.5 2009.7L244.0 2006.8L244.4 2004.4L244.9 2002.5L245.3 2001.1L245.7 2000.0L246.0 1999.2L246.4 1998.6L246.7 1998.1L247.1 1997.6L247.4 1997.0L247.8 1996.3L248.1 1995.7L248.5 1995.2L248.8 1994.7L249.2 1994.3L249.5 1993.9L249.7 1993.6L249.9 1993.3Z" fill="url(#cg249)" fill-opacity="0.95"/><g fill="none" stroke="#a8f5a0" stroke-width="1.3"><use href="#x30" x="248.2" y="2033.2"/><use href="#s25" x="261.9" y="2163.3"/><use href="#v30" x="247.1" y="2181.2"/><use href="#+30" x="268.3" y="2077.3"/><use href="#d25" x="242.3" y="2117.2"/><use href="#o25" x="248.6" y="2042.0"/><use href="#+30" x="242.8" y="2045.4"/><use href="#x30" x="249.3" y="2187.8"/><use href="#x30" x="237.8" y="2109.2"/><use href="#v30" x="224.1" y="2102.0"/><use href="#t25" x="264.3" y="2157.8"/><use href="#o35" x="242.6" y="2154.9"/><use href="#o25" x="253.5" y="2010.7"/><use href="#d30" x="253.4" y="2015.2"/><use href="#t25" x="272.6" y="2125.7"/><use href="#t30" x="223.5" y="2086.8"/><use href="#d25" x="232.2" y="2155.5"/><use href="#o30" x="235.3" y="2161.1"/><use href="#s35" x="232.5" y="2148.9"/><use href="#s35" x="241.1" y="2067.5"/><use href="#v20" x="241.8" y="2064.7"/><use href="#s25" x="249.2" y="2182.3"/><use href="#s30" x="251.1" y="2053.5"/><use href="#s30" x="253.1" y="2167.2"/><use href="#s30" x="243.9" y="2120.3"/><use href="#+35" x="244.8" y="2064.7"/><use href="#d35" x="260.9" y="2053.8"/><use href="#d35" x="238.3" y="2062.4"/><use href="#s25" x="248.1" y="2048.0"/><use href="#+30" x="249.5" y="2019.0"/><use href="#+30" x="236.6" y="2047.1"/><use href="#s35" x="248.0" y="2065.6"/><use href="#s30" x="278.7" y="2100.9"/><use href="#+30" x="255.9" y="2070.8"/><use href="#x30" x="249.4" y="2185.7"/><use href="#t35" x="245.3" y="2167.4"/><use href="#s35" x="249.6" y="2004.5"/><use href="#*25" x="252.6" y="2132.0"/></g><g fill="none" stroke="#2a1cf0" stroke-width="1.3"><use href="#o25" x="248.8" y="2170.7"/><use href="#s25" x="251.4" y="2175.6"/><use href="#o20" x="222.3" y="2118.6"/><use href="#x30" x="223.8" y="2137.7"/><use href="#*25" x="254.8" y="2077.6"/><use href="#+35" x="254.6" y="2150.1"/><use href="#s30" x="233.1" y="2129.4"/><use href="#v30" x="252.2" y="2041.1"/><use href="#v35" x="246.3" y="2133.4"/><use href="#o25" x="252.5" y="2164.0"/><use href="#d25" x="266.2" y="2104.3"/><use href="#v25" x="257.8" y="2065.3"/><use href="#t25" x="252.9" y="2050.0"/><use href="#s25" x="269.7" y="2152.1"/><use href="#d25" x="257.3" y="2092.5"/><use href="#+30" x="247.2" y="2107.3"/><use href="#*30" x="251.5" y="2168.9"/><use href="#+30" x="263.2" y="2066.0"/><use href="#v35" x="246.8" y="2025.6"/><use href="#s30" x="243.0" y="2063.1"/></g><g fill="none" stroke="#f0b040" stroke-width="1.3"><use href="#d20" x="243.1" y="2091.9"/><use href="#d30" x="249.9" y="2000.5"/><use href="#v25" x="241.7" y="2050.4"/><use href="#d25" x="247.5" y="2016.8"/><use href="#t25" x="249.8" y="2003.8"/><use href="#s35" x="246.4" y="2017.0"/><use href="#*30" x="253.6" y="2179.0"/><use href="#x30" x="239.5" y="2089.6"/><use href="#t30" x="228.8" y="2097.4"/><use href="#*25" x="249.0" y="2045.7"/><use href="#s25" x="249.5" y="1997.7"/><use href="#o25" x="254.8" y="2044.9"/><use href="#v25" x="246.6" y="2082.3"/><use href="#*30" x="255.5" y="2025.3"/><use href="#+25" x="250.2" y="2005.7"/><use href="#t30" x="260.9" y="2157.9"/><use href="#t35" x="243.2" y="2092.4"/><use href="#x25" x="229.4" y="2125.8"/><use href="#t30" x="256.9" y="2075.9"/><use href="#x35" x="264.0" y="2061.8"/><use href="#o25" x="249.3" y="2113.9"/><use href="#t30" x="260.1" y="2146.6"/><use href="#v25" x="249.2" y="2058.4"/></g><g fill="none" stroke="#e8402a" stroke-width="1.3"><use href="#+25" x="245.2" y="2015.5"/><use href="#+35" x="249.3" y="2049.7"/><use href="#x25" x="238.1" y="2047.3"/><use href="#x35" x="238.5" y="2139.2"/><use href="#*30" x="247.2" y="2001.2"/><use href="#v30" x="257.2" y="2030.4"/><use href="#d25" x="244.8" y="2141.9"/><use href="#t35" x="248.6" y="2067.0"/><use href="#+30" x="255.2" y="2160.3"/></g><g fill="#bfe3ef" stroke="#000" stroke-width="1.2"><use href="#o35" x="266.8" y="2123.4"/><use href="#s35" x="233.0" y="2100.0"/></g><g fill="#a8f5a0" stroke="#000" stroke-width="1.2"><use href="#s35" x="250.6" y="2173.0"/></g><g fill="#2a20e8" stroke="#000" stroke-width="1.2"><use href="#o35" x="244.2" y="2093.3"/><use href="#o35" x="255.0" y="2152.9"/></g><g fill="#a0692a" stroke="#000" stroke-width="1.2"><use href="#d35" x="241.6" y="2070.6"/><use href="#o35" x="248.6" y="2055.5"/></g><g fill="#5f935f" stroke="#000" stroke-width="1.2"><use href="#s35" x="237.0" y="2143.5"/><use href="#s35" x="248.7" y="2155.0"/><use href="#o35" x="252.4" y="2026.4"/><use href="#t35" x="241.0" y="2140.9"/><use href="#o35" x="243.6" y="2062.9"/></g><g fill="#f05a5a" stroke="#000" stroke-width="1.2"><use href="#d35" x="260.8" y="2068.6"/><use href="#t35" x="246.1" y="2159.6"/></g><path d="M249.9 1997.0L250.0 1997.4L250.2 1997.9L250.5 1998.4L250.7 1999.0L251.0 1999.8L251.3 2001.0L251.6 2002.5L251.9 2004.4L252.2 2006.8L252.5 2009.7L252.8 2012.9L253.1 2016.5L253.4 2020.2L253.8 2024.0L254.3 2027.7L254.9 2031.3L255.6 2034.9L256.4 2038.5L257.3 2042.2L258.2 2045.9L259.2 2049.6L260.1 2053.3L261.0 2057.1L261.9 2060.8L262.7 2064.4L263.6 2068.1L264.4 2071.8L265.2 2075.5L266.0 2079.2L266.7 2082.8L267.3 2086.5L267.9 2090.2L268.4 2093.9L268.8 2097.7L269.2 2101.4L269.5 2105.2L269.8 2108.9L269.9 2112.6L270.0 2116.2L269.9 2119.6L269.7 2122.9L269.4 2126.2L269.0 2129.4L268.5 2132.5L267.9 2135.5L267.3 2138.5L266.6 2141.3L265.9 2144.1L265.2 2146.9L264.3 2149.5L263.4 2152.2L262.5 2154.7L261.5 2157.1L260.6 2159.5L259.7 2161.7L258.9 2163.7L258.2 2165.7L257.5 2167.4L256.8 2169.1L256.2 2170.6L255.6 2172.1L255.0 2173.5L254.5 2174.8L253.9 2176.0L253.3 2177.2L252.7 2178.4L252.2 2179.4L251.6 2180.4L251.1 2181.4L250.6 2182.2L250.2 2182.8L249.9 2183.4L249.9 2183.4L249.6 2182.8L249.2 2182.2L248.7 2181.4L248.2 2180.4L247.6 2179.4L247.1 2178.4L246.5 2177.2L245.9 2176.0L245.3 2174.8L244.8 2173.5L244.2 2172.1L243.6 2170.6L243.0 2169.1L242.3 2167.4L241.6 2165.7L240.9 2163.7L240.1 2161.7L239.2 2159.5L238.3 2157.1L237.3 2154.7L236.4 2152.2L235.5 2149.5L234.6 2146.9L233.9 2144.1L233.2 2141.3L232.5 2138.5L231.9 2135.5L231.3 2132.5L230.8 2129.4L230.4 2126.2L230.1 2122.9L229.9 2119.6L229.8 2116.2L229.9 2112.6L230.0 2108.9L230.3 2105.2L230.6 2101.4L231.0 2097.7L231.4 2093.9L231.9 2090.2L232.5 2086.5L233.1 2082.8L233.8 2079.2L234.6 2075.5L235.4 2071.8L236.2 2068.1L237.1 2064.4L237.9 2060.8L238.8 2057.1L239.7 2053.3L240.6 2049.6L241.6 2045.9L242.5 2042.2L243.4 2038.5L244.2 2034.9L244.9 2031.3L245.5 2027.7L246.0 2024.0L246.4 2020.2L246.7 2016.5L247.0 2012.9L247.3 2009.7L247.6 2006.8L247.9 2004.4L248.2 2002.5L248.5 2001.0L248.8 1999.8L249.1 1999.0L249.3 1998.4L249.6 1997.9L249.8 1997.4L249.9 1997.0Z" fill="none" stroke="#000" stroke-width="1.5"/><line x1="249.9" y1="2183.4" x2="249.9" y2="2306.0" stroke="#000" stroke-width="1.5"/><g fill="#a8f5a0" stroke="#000" stroke-width="1.4"><use href="#s35" x="249.9" y="2188.3"/><use href="#s35" x="249.9" y="2210.3"/><use href="#s35" x="249.9" y="2222.6"/><use href="#s35" x="249.9" y="2229.9"/><use href="#s35" x="249.9" y="2237.3"/><use href="#s35" x="249.9" y="2244.7"/><use href="#s35" x="249.9" y="2261.8"/><use href="#s35" x="249.9" y="2306.0"/></g><line x1="249.9" y1="2322.4" x2="249.9" y2="2327.0" stroke="#000" stroke-width="1.3"/><defs><linearGradient id="cg319" x1="0" y1="2000.7" x2="0" y2="2171.1" gradientUnits="userSpaceOnUse"><stop offset="0" stop-color="#f0992a"/><stop offset="0.58" stop-color="#ec9c36"/><stop offset="0.83" stop-color="#b49a78"/><stop offset="1" stop-color="#7482b0"/></linearGradient></defs><path d="M319.3 2000.7L319.5 2000.9L319.7 2001.3L320.0 2001.6L320.3 2002.1L320.6 2002.6L321.0 2003.1L321.4 2003.7L321.8 2004.4L322.2 2005.0L322.6 2005.5L323.1 2006.1L323.6 2006.7L324.1 2007.5L324.7 2008.6L325.4 2010.0L326.3 2011.7L327.3 2014.0L328.5 2016.6L329.8 2019.7L331.2 2022.9L332.7 2026.3L334.1 2029.7L335.5 2033.1L336.8 2036.2L338.1 2039.3L339.4 2042.5L340.7 2045.7L342.1 2048.8L343.3 2051.9L344.5 2055.0L345.6 2057.9L346.5 2060.8L347.3 2063.4L348.0 2066.0L348.7 2068.4L349.2 2070.7L349.7 2073.1L350.1 2075.4L350.3 2077.8L350.5 2080.4L350.6 2083.0L350.5 2085.7L350.4 2088.5L350.1 2091.3L349.8 2094.1L349.4 2096.9L349.0 2099.7L348.5 2102.4L348.0 2105.2L347.4 2108.0L346.8 2110.8L346.1 2113.6L345.3 2116.4L344.5 2119.2L343.7 2121.9L342.8 2124.5L341.8 2127.1L340.7 2129.8L339.5 2132.4L338.3 2134.9L337.1 2137.4L335.9 2139.8L334.8 2142.0L333.8 2144.1L332.9 2146.0L332.1 2147.7L331.3 2149.2L330.5 2150.6L329.8 2151.9L329.1 2153.3L328.5 2154.8L327.8 2156.4L327.1 2158.2L326.5 2160.2L325.8 2162.4L325.2 2164.5L324.6 2166.6L324.1 2168.4L323.6 2169.9L323.3 2171.1L315.3 2171.1L315.0 2169.9L314.5 2168.4L314.0 2166.6L313.4 2164.5L312.8 2162.4L312.1 2160.2L311.5 2158.2L310.8 2156.4L310.1 2154.8L309.5 2153.3L308.8 2151.9L308.1 2150.6L307.3 2149.2L306.5 2147.7L305.7 2146.0L304.8 2144.1L303.8 2142.0L302.7 2139.8L301.5 2137.4L300.3 2134.9L299.1 2132.4L297.9 2129.8L296.8 2127.1L295.8 2124.5L294.9 2121.9L294.1 2119.2L293.3 2116.4L292.5 2113.6L291.8 2110.8L291.2 2108.0L290.6 2105.2L290.1 2102.4L289.6 2099.7L289.2 2096.9L288.8 2094.1L288.5 2091.3L288.2 2088.5L288.1 2085.7L288.0 2083.0L288.1 2080.4L288.3 2077.8L288.5 2075.4L288.9 2073.1L289.4 2070.7L289.9 2068.4L290.6 2066.0L291.3 2063.4L292.1 2060.8L293.0 2057.9L294.1 2055.0L295.3 2051.9L296.5 2048.8L297.9 2045.7L299.2 2042.5L300.5 2039.3L301.8 2036.2L303.1 2033.1L304.5 2029.7L305.9 2026.3L307.4 2022.9L308.8 2019.7L310.1 2016.6L311.3 2014.0L312.3 2011.7L313.2 2010.0L313.9 2008.6L314.5 2007.5L315.1 2006.7L315.5 2006.1L316.0 2005.5L316.4 2005.0L316.8 2004.4L317.2 2003.7L317.6 2003.1L318.0 2002.6L318.3 2002.1L318.6 2001.6L318.9 2001.3L319.1 2000.9L319.3 2000.7Z" fill="url(#cg319)" fill-opacity="0.95"/><g fill="none" stroke="#2a1cf0" stroke-width="1.3"><use href="#+35" x="336.3" y="2060.2"/><use href="#o20" x="303.7" y="2058.4"/><use href="#t30" x="306.0" y="2087.1"/><use href="#v25" x="313.7" y="2039.1"/><use href="#d30" x="336.2" y="2047.0"/><use href="#*30" x="320.9" y="2157.0"/><use href="#+30" x="317.7" y="2008.3"/><use href="#o25" x="325.1" y="2021.7"/><use href="#s35" x="340.8" y="2078.2"/><use href="#*25" x="321.7" y="2163.3"/><use href="#x25" x="327.8" y="2097.5"/><use href="#d25" x="341.3" y="2095.8"/><use href="#d30" x="316.3" y="2064.4"/><use href="#*25" x="308.4" y="2113.1"/><use href="#t30" x="323.0" y="2031.5"/><use href="#o25" x="324.9" y="2153.9"/></g><g fill="none" stroke="#f0b040" stroke-width="1.3"><use href="#s30" x="321.3" y="2163.5"/><use href="#+30" x="316.3" y="2008.9"/><use href="#s25" x="321.2" y="2019.4"/><use href="#s30" x="317.2" y="2059.9"/><use href="#+30" x="338.3" y="2084.0"/><use href="#o30" x="319.0" y="2157.3"/><use href="#s25" x="320.1" y="2169.5"/><use href="#*30" x="324.0" y="2119.0"/><use href="#v35" x="313.0" y="2101.4"/><use href="#o25" x="305.1" y="2126.4"/><use href="#d25" x="327.7" y="2147.6"/><use href="#*25" x="327.0" y="2029.2"/><use href="#s25" x="295.9" y="2094.4"/><use href="#x30" x="342.0" y="2074.5"/><use href="#x30" x="319.2" y="2017.3"/><use href="#v35" x="331.0" y="2043.2"/><use href="#s25" x="341.5" y="2064.4"/><use href="#+25" x="327.4" y="2077.0"/><use href="#v30" x="325.0" y="2147.0"/><use href="#t30" x="316.6" y="2007.9"/><use href="#x30" x="308.9" y="2031.8"/><use href="#v25" x="311.0" y="2021.7"/><use href="#d25" x="323.9" y="2022.8"/><use href="#v25" x="330.7" y="2069.0"/><use href="#s25" x="315.8" y="2028.0"/><use href="#x35" x="333.2" y="2052.0"/><use href="#v35" x="321.0" y="2026.4"/></g><g fill="none" stroke="#a8f5a0" stroke-width="1.3"><use href="#+30" x="342.3" y="2090.3"/><use href="#*35" x="337.0" y="2114.6"/><use href="#x30" x="343.3" y="2078.7"/><use href="#*30" x="338.3" y="2078.7"/><use href="#v25" x="320.2" y="2023.4"/><use href="#o35" x="322.0" y="2163.4"/><use href="#o25" x="317.5" y="2026.2"/><use href="#o30" x="305.9" y="2140.3"/><use href="#+30" x="318.5" y="2017.9"/><use href="#+30" x="319.7" y="2005.5"/><use href="#t30" x="318.8" y="2150.9"/><use href="#o20" x="327.4" y="2022.7"/><use href="#d30" x="325.9" y="2146.9"/><use href="#x35" x="307.3" y="2076.6"/><use href="#v30" x="298.7" y="2050.1"/><use href="#o30" x="340.1" y="2050.7"/><use href="#o35" x="302.5" y="2093.5"/><use href="#d35" x="301.7" y="2072.8"/><use href="#d25" x="322.7" y="2122.8"/><use href="#*30" x="296.8" y="2069.9"/><use href="#s35" x="333.6" y="2135.5"/><use href="#o25" x="343.6" y="2114.6"/><use href="#t25" x="316.0" y="2029.4"/><use href="#o35" x="324.7" y="2014.1"/><use href="#t35" x="319.0" y="2150.4"/><use href="#x35" x="327.4" y="2144.9"/><use href="#+35" x="318.2" y="2147.8"/><use href="#t30" x="316.7" y="2066.3"/><use href="#o25" x="300.1" y="2066.4"/><use href="#v25" x="300.6" y="2102.4"/><use href="#*25" x="319.1" y="2143.1"/><use href="#+25" x="308.7" y="2127.5"/><use href="#x30" x="334.2" y="2039.5"/><use href="#s35" x="303.5" y="2084.1"/><use href="#o30" x="321.7" y="2160.1"/><use href="#v25" x="333.6" y="2102.8"/><use href="#x30" x="347.4" y="2077.2"/><use href="#s25" x="317.1" y="2009.8"/><use href="#t25" x="345.8" y="2078.5"/></g><g fill="none" stroke="#e8402a" stroke-width="1.3"><use href="#v35" x="327.6" y="2033.9"/><use href="#s25" x="320.1" y="2168.6"/><use href="#*30" x="340.4" y="2118.4"/><use href="#t35" x="320.0" y="2156.9"/><use href="#x25" x="307.6" y="2039.8"/><use href="#t35" x="325.7" y="2018.7"/><use href="#d35" x="314.6" y="2019.0"/><use href="#d20" x="319.2" y="2012.0"/></g><g fill="#a8f5a0" stroke="#000" stroke-width="1.2"><use href="#o35" x="322.6" y="2099.3"/><use href="#d35" x="334.8" y="2110.0"/><use href="#t35" x="320.8" y="2040.9"/></g><g fill="#5f935f" stroke="#000" stroke-width="1.2"><use href="#s35" x="318.3" y="2152.2"/><use href="#t35" x="324.8" y="2023.1"/></g><g fill="#2a20e8" stroke="#000" stroke-width="1.2"><use href="#t35" x="311.9" y="2038.1"/><use href="#o35" x="322.8" y="2063.9"/><use href="#s35" x="309.4" y="2040.2"/></g><g fill="#a0692a" stroke="#000" stroke-width="1.2"><use href="#t35" x="308.8" y="2055.8"/><use href="#s35" x="300.7" y="2068.7"/><use href="#s35" x="319.5" y="2104.2"/></g><g fill="#f05a5a" stroke="#000" stroke-width="1.2"><use href="#t35" x="331.3" y="2109.2"/></g><g fill="#bfe3ef" stroke="#000" stroke-width="1.2"><use href="#o35" x="325.2" y="2149.6"/></g><path d="M319.3 2004.4L319.5 2004.8L319.7 2005.3L320.0 2005.8L320.4 2006.5L320.8 2007.4L321.2 2008.5L321.7 2009.9L322.3 2011.7L323.0 2014.0L323.8 2016.6L324.6 2019.7L325.6 2022.9L326.5 2026.3L327.5 2029.7L328.4 2033.1L329.3 2036.2L330.2 2039.3L331.1 2042.5L332.1 2045.7L333.0 2048.8L333.9 2051.9L334.8 2055.0L335.6 2057.9L336.3 2060.8L337.0 2063.4L337.7 2066.0L338.3 2068.4L338.9 2070.7L339.4 2073.1L339.8 2075.4L340.1 2077.8L340.3 2080.4L340.4 2083.0L340.3 2085.7L340.1 2088.5L339.9 2091.3L339.5 2094.1L339.2 2096.9L338.7 2099.7L338.3 2102.4L337.8 2105.2L337.3 2108.0L336.7 2110.8L336.1 2113.6L335.4 2116.4L334.7 2119.2L334.0 2121.9L333.3 2124.5L332.6 2127.1L331.8 2129.8L331.0 2132.4L330.2 2134.9L329.4 2137.4L328.7 2139.8L328.0 2142.0L327.3 2144.1L326.7 2146.0L326.2 2147.8L325.7 2149.4L325.2 2150.9L324.7 2152.3L324.3 2153.7L323.8 2155.0L323.3 2156.4L322.8 2157.8L322.2 2159.2L321.6 2160.7L321.1 2162.1L320.5 2163.3L320.0 2164.5L319.6 2165.5L319.3 2166.2L319.3 2166.2L319.0 2165.5L318.6 2164.5L318.1 2163.3L317.6 2162.1L317.0 2160.7L316.4 2159.2L315.8 2157.8L315.3 2156.4L314.8 2155.0L314.3 2153.7L313.9 2152.3L313.4 2150.9L312.9 2149.4L312.4 2147.8L311.9 2146.0L311.3 2144.1L310.6 2142.0L309.9 2139.8L309.2 2137.4L308.4 2134.9L307.6 2132.4L306.8 2129.8L306.0 2127.1L305.3 2124.5L304.6 2121.9L303.9 2119.2L303.2 2116.4L302.6 2113.6L301.9 2110.8L301.3 2108.0L300.8 2105.2L300.3 2102.4L299.9 2099.7L299.4 2096.9L299.1 2094.1L298.7 2091.3L298.5 2088.5L298.3 2085.7L298.2 2083.0L298.3 2080.4L298.5 2077.8L298.8 2075.4L299.2 2073.1L299.7 2070.7L300.3 2068.4L300.9 2066.0L301.6 2063.4L302.3 2060.8L303.0 2057.9L303.8 2055.0L304.7 2051.9L305.6 2048.8L306.5 2045.7L307.5 2042.5L308.4 2039.3L309.3 2036.2L310.2 2033.1L311.1 2029.7L312.1 2026.3L313.1 2022.9L314.0 2019.7L314.8 2016.6L315.6 2014.0L316.3 2011.7L316.9 2009.9L317.4 2008.5L317.8 2007.4L318.2 2006.5L318.6 2005.8L318.9 2005.3L319.1 2004.8L319.3 2004.4Z" fill="none" stroke="#000" stroke-width="1.5"/><line x1="319.3" y1="2166.2" x2="319.3" y2="2237.3" stroke="#000" stroke-width="1.5"/><g fill="#a8f5a0" stroke="#000" stroke-width="1.4"><use href="#s35" x="319.3" y="2168.6"/><use href="#s35" x="319.3" y="2183.4"/><use href="#s35" x="319.3" y="2190.7"/><use href="#s35" x="319.3" y="2237.3"/></g><line x1="319.3" y1="2322.4" x2="319.3" y2="2327.0" stroke="#000" stroke-width="1.3"/><defs><linearGradient id="cg388" x1="0" y1="2005.6" x2="0" y2="2180.9" gradientUnits="userSpaceOnUse"><stop offset="0" stop-color="#f0992a"/><stop offset="0.53" stop-color="#ec9c36"/><stop offset="0.78" stop-color="#b49a78"/><stop offset="1" stop-color="#7482b0"/></linearGradient></defs><path d="M388.8 2005.6L389.0 2005.8L389.2 2006.2L389.5 2006.5L389.9 2007.0L390.2 2007.5L390.6 2008.0L390.9 2008.6L391.3 2009.3L391.7 2009.9L392.0 2010.4L392.4 2011.0L392.8 2011.6L393.2 2012.4L393.5 2013.5L393.9 2014.9L394.3 2016.6L394.6 2018.9L394.9 2021.5L395.1 2024.6L395.3 2027.8L395.6 2031.2L396.0 2034.6L396.6 2038.0L397.3 2041.1L398.3 2044.2L399.4 2047.3L400.7 2050.3L402.1 2053.4L403.5 2056.5L405.0 2059.5L406.4 2062.6L407.8 2065.7L409.2 2068.8L410.6 2072.0L412.1 2075.3L413.5 2078.5L414.9 2081.7L416.2 2084.7L417.3 2087.6L418.3 2090.2L419.1 2092.4L419.8 2094.3L420.3 2096.0L420.7 2097.5L421.1 2099.1L421.3 2100.8L421.3 2102.7L421.3 2104.9L421.1 2107.5L420.8 2110.4L420.4 2113.5L419.9 2116.7L419.3 2120.0L418.5 2123.2L417.7 2126.4L416.8 2129.4L415.8 2132.3L414.5 2135.3L413.2 2138.2L411.7 2141.1L410.3 2143.9L408.9 2146.5L407.5 2149.1L406.3 2151.5L405.2 2153.7L404.2 2155.7L403.2 2157.5L402.3 2159.3L401.4 2161.0L400.5 2162.7L399.6 2164.4L398.8 2166.2L397.9 2168.1L397.1 2170.2L396.2 2172.4L395.3 2174.5L394.5 2176.5L393.8 2178.3L393.3 2179.8L392.8 2180.9L384.8 2180.9L384.3 2179.8L383.8 2178.3L383.1 2176.5L382.3 2174.5L381.4 2172.4L380.5 2170.2L379.7 2168.1L378.8 2166.2L378.0 2164.4L377.1 2162.7L376.2 2161.0L375.3 2159.3L374.4 2157.5L373.4 2155.7L372.4 2153.7L371.3 2151.5L370.1 2149.1L368.7 2146.5L367.3 2143.9L365.9 2141.1L364.4 2138.2L363.1 2135.3L361.8 2132.3L360.8 2129.4L359.9 2126.4L359.1 2123.2L358.3 2120.0L357.7 2116.7L357.2 2113.5L356.8 2110.4L356.5 2107.5L356.3 2104.9L356.3 2102.7L356.3 2100.8L356.5 2099.1L356.9 2097.5L357.3 2096.0L357.8 2094.3L358.5 2092.4L359.3 2090.2L360.3 2087.6L361.4 2084.7L362.7 2081.7L364.1 2078.5L365.5 2075.3L367.0 2072.0L368.4 2068.8L369.8 2065.7L371.2 2062.6L372.6 2059.5L374.1 2056.5L375.5 2053.4L376.9 2050.3L378.2 2047.3L379.3 2044.2L380.3 2041.1L381.0 2038.0L381.6 2034.6L382.0 2031.2L382.3 2027.8L382.5 2024.6L382.7 2021.5L383.0 2018.9L383.3 2016.6L383.7 2014.9L384.1 2013.5L384.4 2012.4L384.8 2011.6L385.2 2011.0L385.6 2010.4L385.9 2009.9L386.3 2009.3L386.7 2008.6L387.0 2008.0L387.4 2007.5L387.7 2007.0L388.1 2006.5L388.4 2006.2L388.6 2005.8L388.8 2005.6Z" fill="url(#cg388)" fill-opacity="0.95"/><g fill="none" stroke="#f0b040" stroke-width="1.3"><use href="#o35" x="394.0" y="2042.0"/><use href="#d30" x="388.1" y="2011.4"/><use href="#*25" x="402.2" y="2092.0"/><use href="#+35" x="394.1" y="2072.7"/><use href="#v35" x="387.9" y="2010.5"/><use href="#+30" x="390.0" y="2179.7"/><use href="#o20" x="386.1" y="2145.8"/><use href="#x30" x="396.4" y="2105.4"/><use href="#+30" x="394.9" y="2040.1"/><use href="#s25" x="387.6" y="2014.2"/><use href="#s30" x="387.2" y="2031.3"/><use href="#t25" x="385.6" y="2056.9"/><use href="#d35" x="370.9" y="2099.2"/><use href="#t25" x="391.4" y="2024.1"/><use href="#d35" x="413.2" y="2111.7"/><use href="#t30" x="389.6" y="2030.7"/><use href="#d30" x="379.0" y="2064.8"/><use href="#d30" x="389.4" y="2041.0"/></g><g fill="none" stroke="#e8402a" stroke-width="1.3"><use href="#o30" x="406.2" y="2074.3"/><use href="#t30" x="386.5" y="2131.6"/><use href="#+35" x="382.1" y="2076.9"/><use href="#+25" x="388.8" y="2009.6"/><use href="#o30" x="384.7" y="2143.1"/><use href="#x30" x="388.9" y="2009.6"/><use href="#x35" x="384.5" y="2150.6"/><use href="#*30" x="396.5" y="2054.1"/><use href="#v25" x="404.2" y="2148.4"/><use href="#+35" x="402.3" y="2154.3"/></g><g fill="none" stroke="#a8f5a0" stroke-width="1.3"><use href="#o25" x="389.7" y="2137.9"/><use href="#v25" x="396.6" y="2128.5"/><use href="#t25" x="377.3" y="2100.4"/><use href="#v35" x="376.4" y="2066.2"/><use href="#+30" x="382.3" y="2149.3"/><use href="#t35" x="395.7" y="2165.8"/><use href="#v30" x="407.0" y="2136.9"/><use href="#o30" x="394.2" y="2119.5"/><use href="#+30" x="386.0" y="2021.6"/><use href="#v30" x="389.0" y="2039.1"/><use href="#t30" x="406.4" y="2091.0"/><use href="#o30" x="389.6" y="2170.6"/><use href="#o25" x="364.9" y="2112.7"/><use href="#d30" x="391.9" y="2095.5"/><use href="#s20" x="366.1" y="2110.3"/><use href="#x25" x="382.7" y="2042.5"/><use href="#s35" x="379.2" y="2140.0"/><use href="#+20" x="385.5" y="2018.2"/><use href="#d25" x="378.3" y="2074.5"/><use href="#+30" x="415.3" y="2095.9"/><use href="#+25" x="384.8" y="2031.9"/><use href="#d30" x="372.7" y="2139.4"/><use href="#x25" x="406.8" y="2100.7"/><use href="#s30" x="389.4" y="2111.5"/><use href="#s30" x="379.4" y="2057.6"/><use href="#s25" x="384.1" y="2047.7"/><use href="#+25" x="374.3" y="2127.5"/><use href="#+25" x="390.3" y="2176.6"/><use href="#t30" x="375.9" y="2073.0"/><use href="#t35" x="384.4" y="2174.0"/><use href="#v35" x="410.0" y="2082.2"/><use href="#t25" x="391.9" y="2166.1"/><use href="#x30" x="396.2" y="2165.5"/><use href="#v25" x="397.1" y="2152.8"/><use href="#t30" x="387.1" y="2170.7"/><use href="#t25" x="384.4" y="2161.3"/><use href="#v30" x="387.0" y="2027.2"/><use href="#x25" x="385.2" y="2161.5"/></g><g fill="none" stroke="#2a1cf0" stroke-width="1.3"><use href="#d35" x="408.8" y="2079.6"/><use href="#s30" x="389.5" y="2023.8"/><use href="#v30" x="396.4" y="2146.4"/><use href="#x25" x="413.6" y="2087.2"/><use href="#v25" x="387.5" y="2017.5"/><use href="#d30" x="403.7" y="2120.1"/><use href="#*30" x="390.0" y="2180.2"/><use href="#*25" x="383.5" y="2076.7"/><use href="#+30" x="380.5" y="2120.4"/><use href="#+30" x="366.6" y="2090.8"/><use href="#x35" x="379.8" y="2052.8"/><use href="#o35" x="386.1" y="2179.1"/><use href="#*30" x="395.3" y="2167.8"/><use href="#v35" x="391.6" y="2026.6"/><use href="#*20" x="384.7" y="2080.5"/><use href="#*25" x="389.3" y="2024.2"/><use href="#x35" x="368.9" y="2140.2"/><use href="#+20" x="394.8" y="2165.2"/><use href="#d30" x="395.6" y="2154.1"/><use href="#+30" x="388.7" y="2141.8"/><use href="#x30" x="387.2" y="2174.5"/><use href="#*25" x="393.5" y="2157.4"/><use href="#x30" x="389.5" y="2139.4"/><use href="#t25" x="393.8" y="2158.0"/></g><g fill="#bfe3ef" stroke="#000" stroke-width="1.2"><use href="#t35" x="372.0" y="2092.0"/><use href="#t35" x="388.7" y="2163.6"/></g><g fill="#f05a5a" stroke="#000" stroke-width="1.2"><use href="#d35" x="390.7" y="2167.5"/><use href="#d35" x="389.7" y="2034.3"/><use href="#o35" x="376.7" y="2076.8"/><use href="#s35" x="404.3" y="2097.2"/></g><g fill="#a0692a" stroke="#000" stroke-width="1.2"><use href="#d35" x="389.7" y="2150.7"/></g><g fill="#a8f5a0" stroke="#000" stroke-width="1.2"><use href="#s35" x="375.4" y="2117.9"/><use href="#d35" x="391.3" y="2164.6"/><use href="#d35" x="394.3" y="2120.4"/><use href="#d35" x="379.7" y="2144.2"/></g><g fill="#2a20e8" stroke="#000" stroke-width="1.2"><use href="#t35" x="376.8" y="2142.8"/></g><path d="M388.8 2009.3L389.0 2009.7L389.2 2010.2L389.4 2010.7L389.7 2011.4L390.0 2012.3L390.3 2013.4L390.5 2014.8L390.8 2016.6L391.0 2018.9L391.2 2021.5L391.3 2024.6L391.5 2027.8L391.7 2031.2L391.9 2034.6L392.3 2038.0L392.8 2041.1L393.4 2044.2L394.2 2047.3L395.1 2050.3L396.0 2053.4L397.0 2056.5L397.9 2059.5L398.9 2062.6L399.8 2065.7L400.7 2068.8L401.7 2072.0L402.6 2075.3L403.6 2078.5L404.5 2081.7L405.4 2084.7L406.2 2087.6L406.8 2090.2L407.3 2092.4L407.8 2094.3L408.1 2096.0L408.4 2097.5L408.6 2099.1L408.8 2100.8L408.8 2102.7L408.8 2104.9L408.7 2107.5L408.5 2110.4L408.2 2113.5L407.9 2116.7L407.4 2120.0L406.9 2123.2L406.4 2126.4L405.8 2129.4L405.1 2132.3L404.3 2135.3L403.4 2138.2L402.4 2141.1L401.5 2143.9L400.5 2146.5L399.6 2149.1L398.8 2151.5L398.1 2153.7L397.4 2155.8L396.8 2157.8L396.2 2159.6L395.6 2161.4L395.0 2163.0L394.4 2164.6L393.8 2166.2L393.1 2167.7L392.4 2169.2L391.7 2170.7L391.0 2172.0L390.3 2173.3L389.7 2174.4L389.2 2175.3L388.8 2176.0L388.8 2176.0L388.4 2175.3L387.9 2174.4L387.3 2173.3L386.6 2172.0L385.9 2170.7L385.2 2169.2L384.5 2167.7L383.8 2166.2L383.2 2164.6L382.6 2163.0L382.0 2161.4L381.4 2159.6L380.8 2157.8L380.2 2155.8L379.5 2153.7L378.8 2151.5L378.0 2149.1L377.1 2146.5L376.1 2143.9L375.2 2141.1L374.2 2138.2L373.3 2135.3L372.5 2132.3L371.8 2129.4L371.2 2126.4L370.7 2123.2L370.2 2120.0L369.7 2116.7L369.4 2113.5L369.1 2110.4L368.9 2107.5L368.8 2104.9L368.8 2102.7L368.8 2100.8L369.0 2099.1L369.2 2097.5L369.5 2096.0L369.8 2094.3L370.3 2092.4L370.8 2090.2L371.4 2087.6L372.2 2084.7L373.1 2081.7L374.0 2078.5L375.0 2075.3L375.9 2072.0L376.9 2068.8L377.8 2065.7L378.7 2062.6L379.7 2059.5L380.6 2056.5L381.6 2053.4L382.5 2050.3L383.4 2047.3L384.2 2044.2L384.8 2041.1L385.3 2038.0L385.7 2034.6L385.9 2031.2L386.1 2027.8L386.3 2024.6L386.4 2021.5L386.6 2018.9L386.8 2016.6L387.1 2014.8L387.3 2013.4L387.6 2012.3L387.9 2011.4L388.2 2010.7L388.4 2010.2L388.6 2009.7L388.8 2009.3Z" fill="none" stroke="#000" stroke-width="1.5"/><line x1="388.8" y1="2176.0" x2="388.8" y2="2288.8" stroke="#000" stroke-width="1.5"/><g fill="#a8f5a0" stroke="#000" stroke-width="1.4"><use href="#s35" x="388.8" y="2178.5"/><use href="#s35" x="388.8" y="2188.3"/><use href="#s35" x="388.8" y="2210.3"/><use href="#s35" x="388.8" y="2217.7"/><use href="#s35" x="388.8" y="2229.9"/><use href="#s35" x="388.8" y="2249.6"/><use href="#s35" x="388.8" y="2264.3"/><use href="#s35" x="388.8" y="2271.6"/><use href="#s35" x="388.8" y="2288.8"/></g><line x1="388.8" y1="2322.4" x2="388.8" y2="2327.0" stroke="#000" stroke-width="1.3"/><defs><linearGradient id="cg458" x1="0" y1="2032.6" x2="0" y2="2161.3" gradientUnits="userSpaceOnUse"><stop offset="0" stop-color="#f0992a"/><stop offset="0.56" stop-color="#ec9c36"/><stop offset="0.81" stop-color="#b49a78"/><stop offset="1" stop-color="#7482b0"/></linearGradient></defs><path d="M458.5 2032.6L459.4 2032.8L460.7 2033.0L462.2 2033.3L463.9 2033.6L465.7 2034.1L467.3 2034.6L468.8 2035.3L470.1 2036.2L471.1 2037.3L472.0 2038.6L472.8 2040.0L473.4 2041.5L474.1 2043.2L474.7 2044.9L475.4 2046.7L476.1 2048.5L476.9 2050.4L477.7 2052.6L478.5 2054.8L479.3 2057.1L480.0 2059.4L480.8 2061.6L481.5 2063.7L482.1 2065.7L482.7 2067.4L483.3 2068.9L483.9 2070.3L484.4 2071.6L484.9 2073.0L485.3 2074.5L485.5 2076.1L485.6 2077.9L485.5 2080.0L485.3 2082.3L484.9 2084.7L484.4 2087.3L483.8 2089.9L483.2 2092.5L482.7 2095.0L482.1 2097.5L481.5 2100.0L481.0 2102.5L480.3 2105.0L479.7 2107.5L479.0 2110.0L478.4 2112.4L477.7 2114.8L477.1 2117.2L476.5 2119.4L475.9 2121.7L475.2 2123.9L474.6 2126.0L474.0 2128.2L473.4 2130.3L472.7 2132.3L472.1 2134.3L471.5 2136.3L470.8 2138.2L470.2 2140.1L469.6 2142.0L468.9 2143.8L468.3 2145.6L467.7 2147.3L467.1 2149.0L466.5 2150.8L465.8 2152.6L465.1 2154.3L464.5 2156.1L463.9 2157.7L463.3 2159.1L462.9 2160.4L462.5 2161.3L454.5 2161.3L454.1 2160.4L453.7 2159.1L453.1 2157.7L452.5 2156.1L451.9 2154.3L451.2 2152.6L450.5 2150.8L449.9 2149.0L449.3 2147.3L448.7 2145.6L448.1 2143.8L447.4 2142.0L446.8 2140.1L446.2 2138.2L445.5 2136.3L444.9 2134.3L444.3 2132.3L443.6 2130.3L443.0 2128.2L442.4 2126.0L441.8 2123.9L441.1 2121.7L440.5 2119.4L439.9 2117.2L439.3 2114.8L438.6 2112.4L438.0 2110.0L437.3 2107.5L436.7 2105.0L436.0 2102.5L435.5 2100.0L434.9 2097.5L434.3 2095.0L433.8 2092.5L433.2 2089.9L432.6 2087.3L432.1 2084.7L431.7 2082.3L431.5 2080.0L431.4 2077.9L431.5 2076.1L431.7 2074.5L432.1 2073.0L432.6 2071.6L433.1 2070.3L433.7 2068.9L434.3 2067.4L434.9 2065.7L435.5 2063.7L436.2 2061.6L437.0 2059.4L437.7 2057.1L438.5 2054.8L439.3 2052.6L440.1 2050.4L440.9 2048.5L441.6 2046.7L442.3 2044.9L442.9 2043.2L443.6 2041.5L444.2 2040.0L445.0 2038.6L445.9 2037.3L446.9 2036.2L448.2 2035.3L449.7 2034.6L451.3 2034.1L453.1 2033.6L454.8 2033.3L456.3 2033.0L457.6 2032.8L458.5 2032.6Z" fill="url(#cg458)" fill-opacity="0.45"/><g fill="none" stroke="#e8402a" stroke-width="1.3"><use href="#*30" x="472.2" y="2048.1"/><use href="#+30" x="458.9" y="2041.2"/><use href="#s25" x="450.9" y="2040.2"/><use href="#v35" x="445.8" y="2061.2"/><use href="#v30" x="475.4" y="2077.6"/><use href="#o35" x="458.2" y="2036.9"/><use href="#+35" x="456.2" y="2156.9"/><use href="#t35" x="463.3" y="2040.3"/><use href="#t25" x="468.9" y="2065.8"/><use href="#t35" x="467.8" y="2050.8"/><use href="#x25" x="446.7" y="2071.3"/><use href="#x30" x="462.1" y="2151.4"/><use href="#*35" x="441.7" y="2061.7"/><use href="#d30" x="453.2" y="2116.1"/><use href="#*30" x="439.1" y="2101.6"/></g><g fill="none" stroke="#f0b040" stroke-width="1.3"><use href="#d30" x="460.6" y="2036.8"/><use href="#s35" x="457.4" y="2140.8"/><use href="#+25" x="471.6" y="2056.1"/><use href="#o30" x="461.5" y="2041.0"/><use href="#o35" x="479.0" y="2069.1"/><use href="#*25" x="457.2" y="2037.6"/><use href="#o20" x="473.8" y="2075.1"/><use href="#x20" x="457.5" y="2119.9"/><use href="#d25" x="464.9" y="2085.2"/><use href="#s25" x="468.3" y="2111.8"/><use href="#+30" x="455.4" y="2037.8"/><use href="#d30" x="443.3" y="2080.2"/><use href="#o35" x="474.5" y="2111.3"/><use href="#v35" x="450.3" y="2086.1"/><use href="#x25" x="464.9" y="2101.8"/><use href="#o30" x="453.6" y="2082.6"/></g><g fill="none" stroke="#a8f5a0" stroke-width="1.3"><use href="#x20" x="457.8" y="2054.9"/><use href="#d25" x="460.7" y="2160.2"/><use href="#x30" x="464.6" y="2101.2"/><use href="#*30" x="475.8" y="2082.0"/><use href="#t25" x="457.0" y="2131.2"/><use href="#v30" x="460.1" y="2050.0"/><use href="#s35" x="460.2" y="2133.0"/><use href="#s30" x="473.5" y="2076.3"/><use href="#x25" x="439.8" y="2064.2"/><use href="#x35" x="469.5" y="2046.6"/><use href="#t25" x="436.1" y="2069.2"/><use href="#s20" x="453.7" y="2117.1"/><use href="#t25" x="437.9" y="2084.9"/><use href="#x30" x="460.5" y="2144.9"/><use href="#*35" x="450.7" y="2088.9"/><use href="#d35" x="458.5" y="2127.1"/><use href="#s25" x="465.9" y="2131.5"/><use href="#x30" x="454.2" y="2092.4"/><use href="#*30" x="451.5" y="2036.7"/><use href="#v25" x="445.9" y="2129.1"/><use href="#v35" x="455.8" y="2158.8"/><use href="#o35" x="465.1" y="2110.6"/><use href="#x25" x="481.1" y="2090.7"/><use href="#v20" x="459.5" y="2116.1"/><use href="#d25" x="459.2" y="2146.0"/></g><g fill="none" stroke="#2a1cf0" stroke-width="1.3"><use href="#x25" x="453.7" y="2152.3"/><use href="#t30" x="459.8" y="2160.8"/><use href="#d35" x="459.3" y="2093.4"/><use href="#+35" x="463.5" y="2119.8"/><use href="#+25" x="459.9" y="2142.9"/><use href="#t30" x="462.1" y="2137.8"/><use href="#s30" x="480.9" y="2073.5"/><use href="#t30" x="473.3" y="2108.0"/><use href="#*20" x="450.7" y="2047.5"/><use href="#t35" x="458.9" y="2157.0"/><use href="#v35" x="465.2" y="2082.1"/><use href="#v30" x="467.5" y="2137.5"/><use href="#d25" x="468.4" y="2046.0"/><use href="#o30" x="457.5" y="2160.7"/><use href="#o30" x="450.1" y="2045.9"/><use href="#s25" x="456.8" y="2159.0"/></g><g fill="#5f935f" stroke="#000" stroke-width="1.2"><use href="#s35" x="468.5" y="2092.9"/><use href="#d35" x="470.4" y="2111.5"/><use href="#d35" x="454.5" y="2059.7"/></g><g fill="#f05a5a" stroke="#000" stroke-width="1.2"><use href="#s35" x="452.8" y="2101.7"/><use href="#o35" x="437.2" y="2072.2"/></g><g fill="#a8f5a0" stroke="#000" stroke-width="1.2"><use href="#o35" x="454.2" y="2088.5"/><use href="#s35" x="446.5" y="2081.3"/></g><g fill="#bfe3ef" stroke="#000" stroke-width="1.2"><use href="#s35" x="456.1" y="2135.6"/></g><path d="M466.5 2036.2L467.0 2037.2L467.6 2038.3L468.3 2039.7L469.1 2041.3L470.0 2043.0L470.9 2044.8L471.7 2046.6L472.5 2048.5L473.3 2050.4L474.1 2052.6L474.9 2054.8L475.7 2057.1L476.4 2059.4L477.2 2061.6L477.9 2063.7L478.5 2065.7L479.1 2067.4L479.7 2068.9L480.3 2070.3L480.8 2071.6L481.3 2073.0L481.7 2074.5L481.9 2076.1L482.0 2077.9L481.9 2080.0L481.7 2082.3L481.3 2084.7L480.8 2087.3L480.2 2089.9L479.6 2092.5L479.1 2095.0L478.5 2097.5L477.9 2100.0L477.4 2102.5L476.7 2105.0L476.1 2107.5L475.4 2110.0L474.8 2112.4L474.1 2114.8L473.5 2117.2L472.9 2119.4L472.2 2121.7L471.6 2123.9L471.0 2126.0L470.4 2128.2L469.8 2130.3L469.1 2132.3L468.5 2134.3L467.9 2136.3L467.2 2138.3L466.6 2140.3L466.0 2142.3L465.4 2144.2L464.8 2145.9L464.1 2147.6L463.5 2149.0L462.8 2150.4L462.1 2151.6L461.4 2152.7L460.7 2153.6L460.0 2154.5L459.4 2155.2L458.9 2155.9L458.5 2156.4L458.5 2156.4L458.1 2155.9L457.6 2155.2L457.0 2154.5L456.3 2153.6L455.6 2152.7L454.9 2151.6L454.2 2150.4L453.5 2149.0L452.9 2147.6L452.2 2145.9L451.6 2144.2L451.0 2142.3L450.4 2140.3L449.8 2138.3L449.1 2136.3L448.5 2134.3L447.9 2132.3L447.2 2130.3L446.6 2128.2L446.0 2126.0L445.4 2123.9L444.8 2121.7L444.1 2119.4L443.5 2117.2L442.9 2114.8L442.2 2112.4L441.6 2110.0L440.9 2107.5L440.3 2105.0L439.6 2102.5L439.1 2100.0L438.5 2097.5L437.9 2095.0L437.4 2092.5L436.8 2089.9L436.2 2087.3L435.7 2084.7L435.3 2082.3L435.1 2080.0L435.0 2077.9L435.1 2076.1L435.3 2074.5L435.7 2073.0L436.2 2071.6L436.7 2070.3L437.3 2068.9L437.9 2067.4L438.5 2065.7L439.1 2063.7L439.8 2061.6L440.6 2059.4L441.3 2057.1L442.1 2054.8L442.9 2052.6L443.7 2050.4L444.5 2048.5L445.3 2046.6L446.1 2044.8L447.0 2043.0L447.9 2041.3L448.7 2039.7L449.4 2038.3L450.0 2037.2L450.5 2036.2Z" fill="none" stroke="#000" stroke-width="1.5"/><line x1="458.5" y1="2156.4" x2="458.5" y2="2217.7" stroke="#000" stroke-width="1.5"/><g fill="#a8f5a0" stroke="#000" stroke-width="1.4"><use href="#s35" x="458.5" y="2198.1"/><use href="#s35" x="458.5" y="2203.0"/><use href="#s35" x="458.5" y="2217.7"/></g><line x1="458.5" y1="2322.4" x2="458.5" y2="2327.0" stroke="#000" stroke-width="1.3"/><defs><linearGradient id="cg528" x1="0" y1="1986.0" x2="0" y2="2183.4" gradientUnits="userSpaceOnUse"><stop offset="0" stop-color="#f0992a"/><stop offset="0.55" stop-color="#ec9c36"/><stop offset="0.80" stop-color="#b49a78"/><stop offset="1" stop-color="#7482b0"/></linearGradient></defs><path d="M528.0 1986.0L528.2 1986.2L528.4 1986.5L528.7 1986.9L529.1 1987.4L529.4 1987.8L529.8 1988.4L530.1 1989.0L530.5 1989.7L530.9 1990.3L531.2 1990.8L531.6 1991.4L532.0 1992.0L532.4 1992.8L532.7 1993.9L533.1 1995.2L533.5 1997.0L533.8 1999.3L534.1 2001.9L534.4 2004.9L534.7 2008.2L535.0 2011.6L535.4 2015.0L535.9 2018.3L536.5 2021.5L537.2 2024.6L538.0 2027.5L538.8 2030.5L539.7 2033.5L540.7 2036.5L541.7 2039.6L542.8 2042.7L544.0 2046.0L545.3 2049.5L546.9 2053.1L548.5 2056.8L550.2 2060.6L551.9 2064.4L553.4 2068.2L554.8 2071.9L556.0 2075.5L557.0 2079.0L557.9 2082.4L558.6 2085.8L559.3 2089.1L559.8 2092.4L560.2 2095.8L560.4 2099.1L560.5 2102.4L560.4 2105.8L560.1 2109.2L559.7 2112.7L559.2 2116.1L558.5 2119.5L557.8 2122.8L556.9 2126.2L556.0 2129.4L555.0 2132.7L553.7 2135.9L552.4 2139.2L550.9 2142.4L549.5 2145.6L548.1 2148.6L546.7 2151.4L545.5 2153.9L544.4 2156.2L543.4 2158.3L542.4 2160.2L541.5 2161.9L540.6 2163.6L539.7 2165.2L538.8 2166.9L538.0 2168.6L537.1 2170.6L536.3 2172.7L535.4 2174.8L534.5 2176.9L533.7 2178.9L533.0 2180.7L532.5 2182.2L532.0 2183.4L524.0 2183.4L523.5 2182.2L523.0 2180.7L522.3 2178.9L521.5 2176.9L520.6 2174.8L519.7 2172.7L518.9 2170.6L518.0 2168.6L517.2 2166.9L516.3 2165.2L515.4 2163.6L514.5 2161.9L513.6 2160.2L512.6 2158.3L511.6 2156.2L510.5 2153.9L509.3 2151.4L507.9 2148.6L506.5 2145.6L505.1 2142.4L503.6 2139.2L502.3 2135.9L501.0 2132.7L500.0 2129.4L499.1 2126.2L498.2 2122.8L497.5 2119.5L496.8 2116.1L496.3 2112.7L495.9 2109.2L495.6 2105.8L495.5 2102.4L495.6 2099.1L495.8 2095.8L496.2 2092.4L496.7 2089.1L497.4 2085.8L498.1 2082.4L499.0 2079.0L500.0 2075.5L501.2 2071.9L502.6 2068.2L504.1 2064.4L505.8 2060.6L507.5 2056.8L509.1 2053.1L510.7 2049.5L512.0 2046.0L513.2 2042.7L514.3 2039.6L515.3 2036.5L516.3 2033.5L517.2 2030.5L518.0 2027.5L518.8 2024.6L519.5 2021.5L520.1 2018.3L520.6 2015.0L521.0 2011.6L521.3 2008.2L521.6 2004.9L521.9 2001.9L522.2 1999.3L522.5 1997.0L522.9 1995.2L523.3 1993.9L523.6 1992.8L524.0 1992.0L524.4 1991.4L524.8 1990.8L525.1 1990.3L525.5 1989.7L525.9 1989.0L526.2 1988.4L526.6 1987.8L526.9 1987.4L527.3 1986.9L527.6 1986.5L527.8 1986.2L528.0 1986.0Z" fill="url(#cg528)" fill-opacity="0.95"/><g fill="none" stroke="#a8f5a0" stroke-width="1.3"><use href="#*25" x="523.8" y="2120.2"/><use href="#o30" x="522.4" y="2156.9"/><use href="#o25" x="502.3" y="2125.7"/><use href="#d30" x="528.1" y="2124.7"/><use href="#o25" x="525.5" y="1993.6"/><use href="#s25" x="532.5" y="2174.0"/><use href="#t35" x="533.8" y="2020.7"/><use href="#d20" x="526.3" y="1995.1"/><use href="#o30" x="551.7" y="2131.3"/><use href="#o30" x="520.9" y="2075.5"/><use href="#o35" x="530.3" y="2023.4"/><use href="#*30" x="530.3" y="2173.8"/><use href="#*30" x="554.3" y="2122.2"/><use href="#+25" x="551.3" y="2068.6"/><use href="#x25" x="534.7" y="2170.9"/><use href="#d25" x="545.3" y="2081.2"/><use href="#v30" x="508.8" y="2134.6"/><use href="#*35" x="516.5" y="2133.8"/><use href="#v35" x="524.7" y="2044.4"/><use href="#t25" x="534.5" y="2099.9"/><use href="#x25" x="548.9" y="2071.3"/><use href="#*25" x="542.6" y="2144.0"/><use href="#t30" x="517.2" y="2037.5"/><use href="#o25" x="521.2" y="2160.5"/><use href="#d25" x="525.3" y="2156.2"/><use href="#v30" x="546.4" y="2146.5"/><use href="#v25" x="523.5" y="2084.4"/><use href="#*30" x="528.4" y="2173.3"/><use href="#x20" x="528.5" y="2005.3"/><use href="#d30" x="520.5" y="2042.4"/><use href="#t30" x="533.9" y="2052.8"/><use href="#t30" x="511.6" y="2144.3"/><use href="#*25" x="524.8" y="2004.4"/><use href="#d25" x="531.7" y="2138.3"/><use href="#t25" x="530.4" y="2133.4"/><use href="#d30" x="518.9" y="2048.9"/><use href="#o25" x="532.3" y="2125.3"/><use href="#x25" x="529.2" y="2000.4"/><use href="#s35" x="518.0" y="2090.2"/><use href="#o20" x="520.1" y="2161.5"/><use href="#*25" x="513.5" y="2055.0"/><use href="#d30" x="508.4" y="2132.7"/></g><g fill="none" stroke="#f0b040" stroke-width="1.3"><use href="#v35" x="510.7" y="2073.0"/><use href="#*25" x="524.6" y="2010.8"/><use href="#+35" x="523.5" y="2121.7"/><use href="#o25" x="531.1" y="2012.6"/><use href="#v25" x="530.7" y="2028.9"/><use href="#x30" x="527.5" y="1989.8"/><use href="#o25" x="516.6" y="2055.2"/><use href="#s30" x="526.1" y="2166.3"/><use href="#d20" x="545.6" y="2090.7"/><use href="#o25" x="527.8" y="2081.5"/><use href="#+35" x="521.5" y="2144.7"/><use href="#x25" x="518.0" y="2045.9"/><use href="#*30" x="524.5" y="2029.2"/><use href="#s35" x="510.2" y="2059.5"/><use href="#s30" x="515.4" y="2051.9"/><use href="#t30" x="543.9" y="2092.2"/><use href="#d25" x="522.5" y="2021.2"/></g><g fill="none" stroke="#e8402a" stroke-width="1.3"><use href="#x25" x="531.4" y="2173.3"/><use href="#v30" x="530.6" y="2078.0"/><use href="#+35" x="556.1" y="2086.3"/><use href="#o30" x="524.0" y="2028.1"/><use href="#x35" x="524.9" y="2144.3"/><use href="#+30" x="550.3" y="2074.2"/><use href="#o25" x="534.6" y="2170.3"/><use href="#d30" x="499.9" y="2087.1"/><use href="#d30" x="505.3" y="2083.9"/></g><g fill="none" stroke="#2a1cf0" stroke-width="1.3"><use href="#d35" x="526.8" y="2033.4"/><use href="#+35" x="522.8" y="2106.4"/><use href="#s30" x="512.7" y="2085.6"/><use href="#d25" x="506.7" y="2089.0"/><use href="#s30" x="535.2" y="2078.7"/><use href="#*30" x="532.5" y="2020.4"/><use href="#+25" x="549.6" y="2113.3"/><use href="#x30" x="527.7" y="2158.1"/><use href="#v35" x="523.8" y="2172.2"/><use href="#*25" x="551.2" y="2091.6"/><use href="#+35" x="529.8" y="2175.5"/><use href="#o35" x="532.6" y="2166.3"/><use href="#v30" x="525.9" y="2166.6"/><use href="#v25" x="524.2" y="2109.7"/><use href="#s30" x="537.0" y="2152.6"/><use href="#d35" x="548.0" y="2133.5"/><use href="#t30" x="526.9" y="2177.0"/><use href="#s25" x="534.5" y="2142.6"/><use href="#s25" x="542.6" y="2116.0"/><use href="#s25" x="517.7" y="2129.1"/><use href="#s30" x="504.7" y="2125.6"/><use href="#d30" x="507.2" y="2079.5"/></g><g fill="#a8f5a0" stroke="#000" stroke-width="1.2"><use href="#t35" x="541.7" y="2136.9"/><use href="#o35" x="524.4" y="2167.6"/><use href="#o35" x="522.6" y="2034.3"/><use href="#d35" x="534.2" y="2071.2"/></g><g fill="#5f935f" stroke="#000" stroke-width="1.2"><use href="#s35" x="545.8" y="2082.6"/><use href="#s35" x="531.0" y="2039.7"/></g><g fill="#a0692a" stroke="#000" stroke-width="1.2"><use href="#t35" x="524.1" y="2021.8"/><use href="#d35" x="532.9" y="2106.4"/></g><g fill="#f05a5a" stroke="#000" stroke-width="1.2"><use href="#s35" x="514.5" y="2080.0"/></g><g fill="#2a20e8" stroke="#000" stroke-width="1.2"><use href="#o35" x="530.7" y="2140.9"/><use href="#s35" x="530.7" y="2168.1"/></g><path d="M528.0 1989.7L528.2 1990.1L528.4 1990.6L528.6 1991.1L528.9 1991.8L529.2 1992.7L529.5 1993.8L529.7 1995.2L530.0 1997.0L530.2 1999.3L530.4 2001.9L530.6 2004.9L530.8 2008.2L531.0 2011.6L531.3 2015.0L531.6 2018.3L532.0 2021.5L532.5 2024.6L533.0 2027.5L533.5 2030.5L534.1 2033.5L534.8 2036.5L535.5 2039.6L536.2 2042.7L537.0 2046.0L537.9 2049.5L538.9 2053.1L540.0 2056.8L541.1 2060.6L542.2 2064.4L543.3 2068.2L544.2 2071.9L545.0 2075.5L545.7 2079.0L546.2 2082.4L546.8 2085.8L547.2 2089.1L547.5 2092.4L547.8 2095.8L547.9 2099.1L548.0 2102.4L547.9 2105.8L547.8 2109.2L547.5 2112.7L547.1 2116.1L546.7 2119.5L546.2 2122.8L545.6 2126.2L545.0 2129.4L544.3 2132.7L543.5 2135.9L542.6 2139.2L541.6 2142.4L540.7 2145.6L539.7 2148.6L538.8 2151.4L538.0 2153.9L537.3 2156.3L536.6 2158.4L536.0 2160.4L535.4 2162.2L534.8 2163.9L534.2 2165.5L533.6 2167.1L533.0 2168.6L532.3 2170.2L531.6 2171.7L530.9 2173.1L530.2 2174.5L529.5 2175.7L528.9 2176.8L528.4 2177.7L528.0 2178.5L528.0 2178.5L527.6 2177.7L527.1 2176.8L526.5 2175.7L525.8 2174.5L525.1 2173.1L524.4 2171.7L523.7 2170.2L523.0 2168.6L522.4 2167.1L521.8 2165.5L521.2 2163.9L520.6 2162.2L520.0 2160.4L519.4 2158.4L518.7 2156.3L518.0 2153.9L517.2 2151.4L516.3 2148.6L515.3 2145.6L514.4 2142.4L513.4 2139.2L512.5 2135.9L511.7 2132.7L511.0 2129.4L510.4 2126.2L509.8 2122.8L509.3 2119.5L508.9 2116.1L508.5 2112.7L508.2 2109.2L508.1 2105.8L508.0 2102.4L508.1 2099.1L508.2 2095.8L508.5 2092.4L508.8 2089.1L509.2 2085.8L509.8 2082.4L510.3 2079.0L511.0 2075.5L511.8 2071.9L512.7 2068.2L513.8 2064.4L514.9 2060.6L516.0 2056.8L517.1 2053.1L518.1 2049.5L519.0 2046.0L519.8 2042.7L520.5 2039.6L521.2 2036.5L521.9 2033.5L522.5 2030.5L523.0 2027.5L523.5 2024.6L524.0 2021.5L524.4 2018.3L524.7 2015.0L525.0 2011.6L525.2 2008.2L525.4 2004.9L525.6 2001.9L525.8 1999.3L526.0 1997.0L526.3 1995.2L526.5 1993.8L526.8 1992.7L527.1 1991.8L527.4 1991.1L527.6 1990.6L527.8 1990.1L528.0 1989.7Z" fill="none" stroke="#000" stroke-width="1.5"/><line x1="528.0" y1="2178.5" x2="528.0" y2="2293.7" stroke="#000" stroke-width="1.5"/><g fill="#a8f5a0" stroke="#000" stroke-width="1.4"><use href="#s35" x="528.0" y="2190.7"/><use href="#s35" x="528.0" y="2195.6"/><use href="#s35" x="528.0" y="2210.3"/><use href="#s35" x="528.0" y="2220.1"/><use href="#s35" x="528.0" y="2227.5"/><use href="#s35" x="528.0" y="2234.9"/><use href="#s35" x="528.0" y="2244.7"/><use href="#s35" x="528.0" y="2256.9"/><use href="#s35" x="528.0" y="2293.7"/></g><line x1="528.0" y1="2322.4" x2="528.0" y2="2327.0" stroke="#000" stroke-width="1.3"/><defs><linearGradient id="cg597" x1="0" y1="1994.6" x2="0" y2="2178.5" gradientUnits="userSpaceOnUse"><stop offset="0" stop-color="#f0992a"/><stop offset="0.56" stop-color="#ec9c36"/><stop offset="0.81" stop-color="#b49a78"/><stop offset="1" stop-color="#7482b0"/></linearGradient></defs><path d="M597.6 1994.6L597.8 1994.8L598.1 1995.2L598.4 1995.6L598.7 1996.0L599.1 1996.5L599.4 1997.1L599.8 1997.6L600.1 1998.2L600.4 1998.8L600.7 1999.3L601.0 1999.9L601.2 2000.5L601.5 2001.1L601.8 2002.0L602.1 2003.1L602.4 2004.4L602.6 2005.9L602.8 2007.7L602.9 2009.7L603.1 2011.8L603.3 2014.1L603.6 2016.5L604.0 2019.0L604.6 2021.5L605.4 2024.2L606.4 2027.1L607.6 2030.1L608.8 2033.2L610.1 2036.4L611.3 2039.6L612.5 2042.8L613.5 2046.0L614.4 2049.3L615.2 2052.6L616.0 2055.9L616.7 2059.2L617.5 2062.6L618.1 2066.0L618.8 2069.5L619.5 2073.0L620.2 2076.6L621.0 2080.4L621.7 2084.2L622.4 2088.0L623.1 2091.8L623.7 2095.5L624.2 2099.1L624.5 2102.4L624.7 2105.6L624.8 2108.5L624.7 2111.3L624.6 2113.9L624.4 2116.6L624.2 2119.2L623.9 2121.8L623.5 2124.5L623.1 2127.3L622.6 2130.1L622.0 2133.0L621.4 2135.9L620.8 2138.7L620.0 2141.4L619.3 2144.1L618.5 2146.6L617.7 2149.0L616.8 2151.3L615.8 2153.5L614.8 2155.6L613.8 2157.7L612.7 2159.7L611.7 2161.7L610.6 2163.7L609.5 2165.8L608.2 2167.9L606.9 2170.1L605.6 2172.2L604.4 2174.1L603.2 2175.9L602.3 2177.3L601.6 2178.5L593.6 2178.5L592.9 2177.3L592.0 2175.9L590.8 2174.1L589.6 2172.2L588.3 2170.1L587.0 2167.9L585.7 2165.8L584.6 2163.7L583.5 2161.7L582.5 2159.7L581.4 2157.7L580.4 2155.6L579.4 2153.5L578.4 2151.3L577.5 2149.0L576.7 2146.6L575.9 2144.1L575.2 2141.4L574.4 2138.7L573.8 2135.9L573.2 2133.0L572.6 2130.1L572.1 2127.3L571.7 2124.5L571.3 2121.8L571.0 2119.2L570.8 2116.6L570.6 2113.9L570.5 2111.3L570.4 2108.5L570.5 2105.6L570.7 2102.4L571.0 2099.1L571.5 2095.5L572.1 2091.8L572.8 2088.0L573.5 2084.2L574.2 2080.4L575.0 2076.6L575.7 2073.0L576.4 2069.5L577.1 2066.0L577.7 2062.6L578.5 2059.2L579.2 2055.9L580.0 2052.6L580.8 2049.3L581.7 2046.0L582.7 2042.8L583.9 2039.6L585.1 2036.4L586.4 2033.2L587.6 2030.1L588.8 2027.1L589.8 2024.2L590.6 2021.5L591.2 2019.0L591.6 2016.5L591.9 2014.1L592.1 2011.8L592.3 2009.7L592.4 2007.7L592.6 2005.9L592.9 2004.4L593.1 2003.1L593.4 2002.0L593.7 2001.1L594.0 2000.5L594.2 1999.9L594.5 1999.3L594.8 1998.8L595.1 1998.2L595.4 1997.6L595.8 1997.1L596.1 1996.5L596.5 1996.0L596.8 1995.6L597.1 1995.2L597.4 1994.8L597.6 1994.6Z" fill="url(#cg597)" fill-opacity="0.45"/><g fill="none" stroke="#2a1cf0" stroke-width="1.3"><use href="#s35" x="597.0" y="2009.0"/><use href="#s35" x="614.9" y="2141.7"/><use href="#v30" x="599.3" y="2033.9"/><use href="#v30" x="597.0" y="2015.5"/><use href="#s25" x="580.7" y="2124.5"/><use href="#s35" x="599.2" y="2026.3"/><use href="#*25" x="612.6" y="2068.5"/><use href="#s35" x="593.1" y="2032.6"/><use href="#o35" x="581.9" y="2128.4"/><use href="#o25" x="579.7" y="2115.9"/><use href="#d25" x="599.0" y="2003.4"/><use href="#s25" x="597.8" y="2013.1"/><use href="#s35" x="585.8" y="2148.6"/><use href="#v35" x="600.2" y="2058.1"/><use href="#o35" x="610.4" y="2096.0"/><use href="#+25" x="593.6" y="2073.0"/><use href="#+30" x="604.0" y="2133.1"/><use href="#x30" x="604.4" y="2055.4"/></g><g fill="none" stroke="#a8f5a0" stroke-width="1.3"><use href="#x35" x="598.0" y="2151.8"/><use href="#o35" x="601.1" y="2043.0"/><use href="#t25" x="612.8" y="2144.7"/><use href="#x35" x="580.4" y="2118.5"/><use href="#t30" x="599.7" y="2176.8"/><use href="#x30" x="599.0" y="2017.4"/><use href="#+25" x="600.6" y="2072.6"/><use href="#o30" x="588.6" y="2045.4"/><use href="#*25" x="593.1" y="2055.6"/><use href="#+30" x="614.2" y="2141.7"/><use href="#*30" x="593.5" y="2038.1"/><use href="#+25" x="596.5" y="2025.6"/><use href="#s35" x="596.1" y="2009.1"/><use href="#o35" x="611.5" y="2055.6"/><use href="#t30" x="609.2" y="2056.0"/><use href="#*25" x="601.4" y="2072.1"/><use href="#x30" x="603.1" y="2138.0"/><use href="#d20" x="598.3" y="2032.7"/><use href="#v30" x="594.1" y="2087.5"/></g><g fill="none" stroke="#e8402a" stroke-width="1.3"><use href="#x35" x="597.2" y="2035.8"/><use href="#s35" x="603.7" y="2071.5"/><use href="#x30" x="576.9" y="2105.2"/><use href="#+30" x="594.6" y="2175.5"/><use href="#t25" x="616.6" y="2072.2"/><use href="#s35" x="600.2" y="2161.1"/><use href="#x30" x="619.7" y="2107.4"/><use href="#t25" x="597.9" y="2069.4"/><use href="#v35" x="600.0" y="2137.0"/></g><g fill="none" stroke="#f0b040" stroke-width="1.3"><use href="#x30" x="588.9" y="2036.7"/><use href="#*25" x="597.5" y="2033.7"/><use href="#*35" x="604.3" y="2029.2"/><use href="#t25" x="592.4" y="2036.5"/><use href="#o25" x="600.0" y="2072.6"/><use href="#x35" x="603.9" y="2037.2"/><use href="#d25" x="582.7" y="2055.4"/><use href="#d25" x="600.4" y="2020.5"/><use href="#d35" x="604.6" y="2046.1"/><use href="#+35" x="596.8" y="2005.8"/><use href="#*25" x="589.6" y="2032.7"/><use href="#s30" x="595.5" y="2002.5"/><use href="#*20" x="609.8" y="2097.8"/><use href="#v25" x="579.8" y="2119.8"/><use href="#s35" x="594.2" y="2080.4"/><use href="#x30" x="593.6" y="2056.5"/><use href="#*30" x="597.4" y="2017.8"/><use href="#v25" x="586.9" y="2039.4"/><use href="#d30" x="590.1" y="2088.4"/><use href="#d25" x="605.1" y="2084.5"/><use href="#o30" x="597.6" y="2042.5"/><use href="#d30" x="600.0" y="2030.5"/><use href="#s35" x="596.5" y="2020.7"/><use href="#s25" x="601.1" y="2113.6"/><use href="#x25" x="584.3" y="2052.4"/><use href="#x30" x="602.7" y="2022.1"/></g><g fill="#5f935f" stroke="#000" stroke-width="1.2"><use href="#o35" x="591.6" y="2159.7"/><use href="#d35" x="580.6" y="2127.1"/><use href="#d35" x="594.6" y="2048.7"/></g><g fill="#bfe3ef" stroke="#000" stroke-width="1.2"><use href="#s35" x="598.0" y="2054.8"/></g><g fill="#a8f5a0" stroke="#000" stroke-width="1.2"><use href="#s35" x="601.9" y="2045.7"/><use href="#o35" x="604.5" y="2084.4"/></g><g fill="#f05a5a" stroke="#000" stroke-width="1.2"><use href="#o35" x="599.1" y="2023.9"/><use href="#t35" x="578.5" y="2107.7"/></g><g fill="#a0692a" stroke="#000" stroke-width="1.2"><use href="#d35" x="595.0" y="2167.9"/></g><g fill="#2a20e8" stroke="#000" stroke-width="1.2"><use href="#d35" x="602.0" y="2084.8"/></g><path d="M597.6 1998.2L597.7 1998.6L597.9 1999.1L598.1 1999.6L598.3 2000.2L598.5 2001.0L598.7 2001.9L598.9 2003.0L599.1 2004.4L599.3 2005.9L599.4 2007.7L599.5 2009.7L599.6 2011.8L599.7 2014.1L599.9 2016.5L600.2 2019.0L600.6 2021.5L601.1 2024.2L601.8 2027.1L602.5 2030.1L603.3 2033.2L604.2 2036.4L605.0 2039.6L605.8 2042.8L606.6 2046.0L607.4 2049.3L608.1 2052.6L608.9 2055.9L609.7 2059.2L610.4 2062.6L611.2 2066.0L611.9 2069.5L612.6 2073.0L613.3 2076.6L614.1 2080.4L614.8 2084.2L615.5 2088.0L616.2 2091.8L616.8 2095.5L617.3 2099.1L617.6 2102.4L617.8 2105.6L617.9 2108.5L617.8 2111.3L617.7 2113.9L617.5 2116.6L617.3 2119.2L617.0 2121.8L616.6 2124.5L616.2 2127.3L615.7 2130.1L615.1 2133.0L614.5 2135.9L613.8 2138.7L613.1 2141.4L612.3 2144.1L611.6 2146.6L610.8 2149.0L610.0 2151.4L609.1 2153.7L608.2 2155.9L607.3 2158.1L606.4 2160.1L605.5 2162.0L604.6 2163.7L603.7 2165.4L602.7 2166.9L601.7 2168.4L600.7 2169.7L599.7 2170.9L598.9 2172.0L598.1 2172.8L597.6 2173.6L597.6 2173.6L597.1 2172.8L596.3 2172.0L595.5 2170.9L594.5 2169.7L593.5 2168.4L592.5 2166.9L591.5 2165.4L590.6 2163.7L589.7 2162.0L588.8 2160.1L587.9 2158.1L587.0 2155.9L586.1 2153.7L585.2 2151.4L584.4 2149.0L583.6 2146.6L582.9 2144.1L582.1 2141.4L581.4 2138.7L580.7 2135.9L580.1 2133.0L579.5 2130.1L579.0 2127.3L578.6 2124.5L578.2 2121.8L577.9 2119.2L577.7 2116.6L577.5 2113.9L577.4 2111.3L577.3 2108.5L577.4 2105.6L577.6 2102.4L577.9 2099.1L578.4 2095.5L579.0 2091.8L579.7 2088.0L580.4 2084.2L581.1 2080.4L581.9 2076.6L582.6 2073.0L583.3 2069.5L584.0 2066.0L584.8 2062.6L585.5 2059.2L586.3 2055.9L587.1 2052.6L587.8 2049.3L588.6 2046.0L589.4 2042.8L590.2 2039.6L591.0 2036.4L591.9 2033.2L592.7 2030.1L593.4 2027.1L594.1 2024.2L594.6 2021.5L595.0 2019.0L595.3 2016.5L595.5 2014.1L595.6 2011.8L595.7 2009.7L595.8 2007.7L595.9 2005.9L596.1 2004.4L596.3 2003.0L596.5 2001.9L596.7 2001.0L596.9 2000.2L597.1 1999.6L597.3 1999.1L597.5 1998.6L597.6 1998.2Z" fill="none" stroke="#000" stroke-width="1.5"/><line x1="597.6" y1="2173.6" x2="597.6" y2="2234.9" stroke="#000" stroke-width="1.5"/><g fill="#a8f5a0" stroke="#000" stroke-width="1.4"><use href="#s35" x="597.6" y="2178.5"/><use href="#s35" x="597.6" y="2234.9"/></g><line x1="597.6" y1="2322.4" x2="597.6" y2="2327.0" stroke="#000" stroke-width="1.3"/><defs><linearGradient id="cg666" x1="0" y1="2009.3" x2="0" y2="2161.3" gradientUnits="userSpaceOnUse"><stop offset="0" stop-color="#f0992a"/><stop offset="0.61" stop-color="#ec9c36"/><stop offset="0.86" stop-color="#b49a78"/><stop offset="1" stop-color="#7482b0"/></linearGradient></defs><path d="M666.8 2009.3L667.0 2009.5L667.2 2009.9L667.5 2010.3L667.8 2010.7L668.1 2011.2L668.5 2011.8L668.9 2012.3L669.3 2012.9L669.8 2013.5L670.2 2014.0L670.7 2014.6L671.3 2015.2L671.9 2015.9L672.5 2016.7L673.1 2017.8L673.8 2019.1L674.5 2020.6L675.3 2022.4L676.0 2024.4L676.9 2026.5L677.7 2028.8L678.6 2031.2L679.6 2033.7L680.6 2036.2L681.7 2039.0L683.0 2041.9L684.3 2044.9L685.6 2048.0L687.0 2051.2L688.3 2054.5L689.5 2057.6L690.6 2060.8L691.7 2063.9L692.7 2067.0L693.7 2070.2L694.7 2073.3L695.5 2076.4L696.3 2079.5L696.8 2082.4L697.2 2085.3L697.3 2088.0L697.3 2090.5L697.1 2093.0L696.8 2095.4L696.3 2097.8L695.8 2100.1L695.2 2102.5L694.6 2104.9L693.9 2107.4L693.2 2109.9L692.3 2112.4L691.4 2114.9L690.4 2117.3L689.5 2119.8L688.5 2122.2L687.6 2124.5L686.7 2126.8L685.9 2128.9L685.1 2131.0L684.3 2133.1L683.4 2135.2L682.5 2137.3L681.6 2139.4L680.6 2141.7L679.4 2144.1L678.1 2146.9L676.7 2149.7L675.3 2152.6L673.9 2155.3L672.6 2157.7L671.6 2159.8L670.8 2161.3L662.8 2161.3L662.0 2159.8L661.0 2157.7L659.7 2155.3L658.3 2152.6L656.9 2149.7L655.5 2146.9L654.2 2144.1L653.0 2141.7L652.0 2139.4L651.1 2137.3L650.2 2135.2L649.3 2133.1L648.5 2131.0L647.7 2128.9L646.9 2126.8L646.0 2124.5L645.1 2122.2L644.1 2119.8L643.2 2117.3L642.2 2114.9L641.3 2112.4L640.4 2109.9L639.7 2107.4L639.0 2104.9L638.4 2102.5L637.8 2100.1L637.3 2097.8L636.8 2095.4L636.5 2093.0L636.3 2090.5L636.3 2088.0L636.4 2085.3L636.8 2082.4L637.3 2079.5L638.1 2076.4L638.9 2073.3L639.9 2070.2L640.9 2067.0L641.9 2063.9L643.0 2060.8L644.1 2057.6L645.3 2054.5L646.6 2051.2L648.0 2048.0L649.3 2044.9L650.6 2041.9L651.9 2039.0L653.0 2036.2L654.0 2033.7L655.0 2031.2L655.9 2028.8L656.7 2026.5L657.6 2024.4L658.3 2022.4L659.1 2020.6L659.8 2019.1L660.5 2017.8L661.1 2016.7L661.7 2015.9L662.3 2015.2L662.9 2014.6L663.4 2014.0L663.8 2013.5L664.3 2012.9L664.7 2012.3L665.1 2011.8L665.5 2011.2L665.8 2010.7L666.1 2010.3L666.4 2009.9L666.6 2009.5L666.8 2009.3Z" fill="url(#cg666)" fill-opacity="0.95"/><g fill="none" stroke="#f0b040" stroke-width="1.3"><use href="#x35" x="665.9" y="2046.0"/><use href="#+25" x="653.8" y="2053.6"/><use href="#x30" x="688.9" y="2076.3"/><use href="#t20" x="666.5" y="2030.0"/><use href="#s30" x="662.1" y="2131.0"/><use href="#d30" x="678.6" y="2076.7"/><use href="#+25" x="646.4" y="2091.3"/><use href="#o25" x="656.9" y="2050.7"/><use href="#s25" x="692.8" y="2090.3"/><use href="#s35" x="665.6" y="2019.4"/><use href="#s30" x="676.3" y="2056.2"/><use href="#o30" x="677.9" y="2052.6"/><use href="#*35" x="657.5" y="2137.2"/><use href="#v35" x="678.8" y="2037.2"/><use href="#x30" x="644.7" y="2082.4"/><use href="#+30" x="680.2" y="2049.3"/><use href="#*25" x="667.3" y="2065.1"/><use href="#x25" x="651.4" y="2053.2"/><use href="#x25" x="684.0" y="2121.5"/><use href="#v25" x="652.8" y="2054.1"/><use href="#d25" x="671.4" y="2136.6"/><use href="#o30" x="677.9" y="2040.9"/><use href="#x30" x="679.5" y="2042.1"/><use href="#*30" x="667.5" y="2090.5"/></g><g fill="none" stroke="#a8f5a0" stroke-width="1.3"><use href="#s30" x="685.1" y="2090.6"/><use href="#o35" x="662.6" y="2124.0"/><use href="#o25" x="679.7" y="2040.7"/><use href="#*35" x="660.0" y="2142.6"/><use href="#*30" x="676.2" y="2061.5"/><use href="#+30" x="684.6" y="2125.9"/><use href="#*25" x="661.9" y="2026.6"/><use href="#o35" x="682.6" y="2125.6"/><use href="#d30" x="686.7" y="2066.6"/><use href="#x25" x="674.7" y="2035.2"/><use href="#t30" x="664.7" y="2160.3"/><use href="#v30" x="668.3" y="2153.2"/><use href="#x25" x="659.2" y="2123.8"/><use href="#x35" x="667.0" y="2159.3"/><use href="#*25" x="646.0" y="2111.3"/><use href="#v35" x="675.9" y="2050.6"/><use href="#s30" x="676.8" y="2072.6"/><use href="#s30" x="643.0" y="2081.8"/><use href="#d30" x="663.1" y="2146.4"/><use href="#o35" x="671.7" y="2042.2"/><use href="#o25" x="656.2" y="2134.5"/><use href="#s25" x="670.0" y="2064.5"/><use href="#t35" x="680.5" y="2104.8"/><use href="#*25" x="678.7" y="2048.2"/><use href="#x25" x="664.7" y="2160.2"/><use href="#*30" x="666.3" y="2156.9"/><use href="#v25" x="642.7" y="2098.1"/><use href="#d30" x="667.1" y="2021.3"/><use href="#*30" x="679.9" y="2092.9"/><use href="#o30" x="666.7" y="2015.3"/><use href="#*35" x="676.0" y="2064.7"/><use href="#*35" x="662.2" y="2149.1"/><use href="#*25" x="676.3" y="2101.7"/><use href="#*25" x="680.4" y="2129.8"/><use href="#x20" x="666.8" y="2013.0"/><use href="#v30" x="679.1" y="2125.9"/></g><g fill="none" stroke="#e8402a" stroke-width="1.3"><use href="#+35" x="659.9" y="2132.6"/><use href="#s30" x="657.3" y="2041.6"/><use href="#+35" x="668.4" y="2156.7"/><use href="#x35" x="679.5" y="2112.5"/><use href="#t25" x="682.4" y="2084.3"/><use href="#d30" x="665.6" y="2014.5"/><use href="#s35" x="663.1" y="2130.7"/><use href="#s25" x="662.7" y="2146.8"/></g><g fill="none" stroke="#2a1cf0" stroke-width="1.3"><use href="#+20" x="665.1" y="2159.4"/><use href="#s30" x="684.4" y="2078.8"/><use href="#o30" x="672.0" y="2063.2"/><use href="#*25" x="656.4" y="2130.4"/><use href="#s30" x="667.1" y="2148.5"/><use href="#x35" x="657.7" y="2115.4"/><use href="#t35" x="661.6" y="2093.7"/><use href="#+35" x="675.2" y="2082.5"/><use href="#d30" x="673.3" y="2147.7"/><use href="#v30" x="660.6" y="2150.5"/><use href="#d35" x="661.4" y="2088.3"/><use href="#s30" x="691.6" y="2091.7"/><use href="#+25" x="650.6" y="2089.5"/><use href="#*35" x="648.7" y="2114.4"/><use href="#x25" x="666.8" y="2126.6"/><use href="#t35" x="662.1" y="2036.8"/><use href="#x35" x="664.2" y="2135.0"/></g><g fill="#bfe3ef" stroke="#000" stroke-width="1.2"><use href="#s35" x="669.1" y="2096.6"/></g><g fill="#a8f5a0" stroke="#000" stroke-width="1.2"><use href="#t35" x="668.6" y="2125.8"/><use href="#t35" x="677.1" y="2044.2"/><use href="#o35" x="668.1" y="2104.1"/></g><g fill="#2a20e8" stroke="#000" stroke-width="1.2"><use href="#s35" x="660.8" y="2141.0"/><use href="#t35" x="658.1" y="2129.4"/><use href="#s35" x="659.2" y="2053.8"/><use href="#d35" x="666.8" y="2100.6"/><use href="#t35" x="669.3" y="2150.9"/></g><g fill="#a0692a" stroke="#000" stroke-width="1.2"><use href="#s35" x="685.5" y="2082.2"/><use href="#o35" x="666.2" y="2148.4"/></g><g fill="#5f935f" stroke="#000" stroke-width="1.2"><use href="#s35" x="659.3" y="2038.3"/><use href="#t35" x="675.2" y="2039.0"/></g><path d="M666.8 2012.9L667.0 2013.3L667.3 2013.8L667.6 2014.3L668.0 2014.9L668.4 2015.7L668.8 2016.6L669.3 2017.7L669.8 2019.1L670.3 2020.6L670.8 2022.4L671.3 2024.4L671.9 2026.5L672.5 2028.8L673.2 2031.2L673.9 2033.7L674.8 2036.2L675.8 2039.0L677.0 2041.9L678.3 2044.9L679.7 2048.0L681.1 2051.2L682.4 2054.5L683.7 2057.6L684.8 2060.8L685.9 2063.9L686.9 2067.0L687.9 2070.2L688.9 2073.3L689.7 2076.4L690.5 2079.5L691.0 2082.4L691.4 2085.3L691.5 2088.0L691.5 2090.5L691.3 2093.0L690.9 2095.4L690.5 2097.8L690.0 2100.1L689.4 2102.5L688.8 2104.9L688.1 2107.4L687.4 2109.9L686.5 2112.4L685.6 2114.9L684.6 2117.3L683.7 2119.8L682.7 2122.2L681.8 2124.5L680.9 2126.8L680.1 2129.0L679.2 2131.2L678.4 2133.4L677.5 2135.5L676.6 2137.6L675.7 2139.7L674.8 2141.7L673.8 2143.7L672.7 2145.9L671.5 2148.0L670.4 2150.1L669.3 2152.1L668.3 2153.8L667.4 2155.3L666.8 2156.4L666.8 2156.4L666.2 2155.3L665.3 2153.8L664.3 2152.1L663.2 2150.1L662.1 2148.0L660.9 2145.9L659.8 2143.7L658.8 2141.7L657.9 2139.7L657.0 2137.6L656.1 2135.5L655.2 2133.4L654.4 2131.2L653.5 2129.0L652.7 2126.8L651.8 2124.5L650.9 2122.2L649.9 2119.8L649.0 2117.3L648.0 2114.9L647.1 2112.4L646.2 2109.9L645.5 2107.4L644.8 2104.9L644.2 2102.5L643.6 2100.1L643.1 2097.8L642.6 2095.4L642.3 2093.0L642.1 2090.5L642.1 2088.0L642.2 2085.3L642.6 2082.4L643.1 2079.5L643.9 2076.4L644.7 2073.3L645.7 2070.2L646.7 2067.0L647.7 2063.9L648.8 2060.8L649.9 2057.6L651.2 2054.5L652.5 2051.2L653.9 2048.0L655.3 2044.9L656.6 2041.9L657.8 2039.0L658.8 2036.2L659.7 2033.7L660.4 2031.2L661.1 2028.8L661.7 2026.5L662.3 2024.4L662.8 2022.4L663.3 2020.6L663.8 2019.1L664.3 2017.7L664.8 2016.6L665.2 2015.7L665.6 2014.9L666.0 2014.3L666.3 2013.8L666.6 2013.3L666.8 2012.9Z" fill="none" stroke="#000" stroke-width="1.5"/><line x1="666.8" y1="2156.4" x2="666.8" y2="2176.0" stroke="#000" stroke-width="1.5"/><g fill="#a8f5a0" stroke="#000" stroke-width="1.4"><use href="#s35" x="666.8" y="2176.0"/></g><line x1="666.8" y1="2322.4" x2="666.8" y2="2327.0" stroke="#000" stroke-width="1.3"/><defs><linearGradient id="cg736" x1="0" y1="2014.2" x2="0" y2="2178.5" gradientUnits="userSpaceOnUse"><stop offset="0" stop-color="#f0992a"/><stop offset="0.52" stop-color="#ec9c36"/><stop offset="0.77" stop-color="#b49a78"/><stop offset="1" stop-color="#7482b0"/></linearGradient></defs><path d="M736.2 2014.2L736.4 2014.4L736.6 2014.7L736.9 2015.1L737.3 2015.5L737.6 2015.9L738.0 2016.5L738.3 2017.1L738.7 2017.9L739.0 2018.6L739.3 2019.4L739.6 2020.2L739.9 2021.1L740.2 2022.2L740.6 2023.4L741.1 2024.8L741.7 2026.4L742.4 2028.3L743.2 2030.4L744.0 2032.8L744.9 2035.2L745.9 2037.8L746.9 2040.5L748.0 2043.3L749.2 2046.0L750.5 2048.8L752.0 2051.7L753.6 2054.7L755.2 2057.7L756.9 2060.8L758.4 2064.0L759.9 2067.2L761.2 2070.6L762.4 2074.1L763.5 2077.8L764.6 2081.7L765.6 2085.6L766.5 2089.5L767.3 2093.2L767.9 2096.7L768.4 2100.0L768.7 2102.9L768.8 2105.5L768.9 2107.9L768.7 2110.1L768.5 2112.3L768.2 2114.6L767.8 2117.0L767.4 2119.6L766.9 2122.5L766.3 2125.6L765.6 2128.8L764.9 2132.0L764.1 2135.3L763.2 2138.4L762.2 2141.4L761.2 2144.1L760.1 2146.6L758.9 2148.9L757.6 2151.1L756.2 2153.2L754.8 2155.2L753.4 2157.2L752.0 2159.2L750.7 2161.3L749.3 2163.6L747.8 2166.0L746.3 2168.5L744.8 2170.9L743.4 2173.3L742.1 2175.4L741.0 2177.1L740.2 2178.5L732.2 2178.5L731.4 2177.1L730.3 2175.4L729.0 2173.3L727.6 2170.9L726.1 2168.5L724.6 2166.0L723.1 2163.6L721.7 2161.3L720.4 2159.2L719.0 2157.2L717.6 2155.2L716.2 2153.2L714.8 2151.1L713.5 2148.9L712.3 2146.6L711.2 2144.1L710.2 2141.4L709.2 2138.4L708.3 2135.3L707.5 2132.0L706.8 2128.8L706.1 2125.6L705.5 2122.5L705.0 2119.6L704.6 2117.0L704.2 2114.6L703.9 2112.3L703.7 2110.1L703.5 2107.9L703.6 2105.5L703.7 2102.9L704.0 2100.0L704.5 2096.7L705.1 2093.2L705.9 2089.5L706.8 2085.6L707.8 2081.7L708.9 2077.8L710.0 2074.1L711.2 2070.6L712.5 2067.2L714.0 2064.0L715.5 2060.8L717.2 2057.7L718.8 2054.7L720.4 2051.7L721.9 2048.8L723.2 2046.0L724.4 2043.3L725.5 2040.5L726.5 2037.8L727.5 2035.2L728.4 2032.8L729.2 2030.4L730.0 2028.3L730.7 2026.4L731.3 2024.8L731.8 2023.4L732.2 2022.2L732.5 2021.1L732.8 2020.2L733.1 2019.4L733.4 2018.6L733.7 2017.9L734.1 2017.1L734.4 2016.5L734.8 2015.9L735.1 2015.5L735.5 2015.1L735.8 2014.7L736.0 2014.4L736.2 2014.2Z" fill="url(#cg736)" fill-opacity="0.95"/><g fill="none" stroke="#a8f5a0" stroke-width="1.3"><use href="#t30" x="744.1" y="2149.3"/><use href="#o30" x="722.8" y="2142.7"/><use href="#t30" x="739.7" y="2159.6"/><use href="#v30" x="755.6" y="2065.2"/><use href="#o25" x="720.0" y="2152.2"/><use href="#t20" x="745.0" y="2050.2"/><use href="#*35" x="733.4" y="2166.7"/><use href="#v25" x="760.3" y="2125.0"/><use href="#x25" x="746.2" y="2078.2"/><use href="#d25" x="744.1" y="2050.4"/><use href="#o20" x="737.5" y="2097.9"/><use href="#*30" x="725.4" y="2062.1"/><use href="#v30" x="735.6" y="2168.5"/><use href="#t30" x="736.4" y="2170.6"/><use href="#s30" x="724.7" y="2101.9"/><use href="#o35" x="744.6" y="2105.3"/><use href="#o25" x="736.6" y="2026.9"/><use href="#+30" x="739.4" y="2104.9"/><use href="#v30" x="732.4" y="2047.8"/><use href="#v30" x="735.1" y="2178.4"/><use href="#x30" x="729.3" y="2135.7"/><use href="#+35" x="759.7" y="2132.9"/><use href="#t30" x="732.7" y="2126.1"/><use href="#d35" x="754.4" y="2124.4"/><use href="#x25" x="746.8" y="2052.8"/><use href="#*30" x="736.7" y="2018.2"/><use href="#x30" x="738.6" y="2037.0"/><use href="#s25" x="709.8" y="2087.0"/><use href="#+25" x="746.8" y="2058.8"/><use href="#o30" x="749.3" y="2125.6"/><use href="#*35" x="736.7" y="2028.7"/><use href="#v25" x="742.4" y="2110.4"/><use href="#o35" x="742.2" y="2143.7"/><use href="#t35" x="730.2" y="2046.5"/><use href="#o30" x="744.7" y="2043.8"/><use href="#+25" x="755.6" y="2062.6"/></g><g fill="none" stroke="#f0b040" stroke-width="1.3"><use href="#o30" x="734.8" y="2024.9"/><use href="#o30" x="746.7" y="2102.7"/><use href="#d30" x="751.0" y="2123.8"/><use href="#s35" x="762.5" y="2126.4"/><use href="#t25" x="732.1" y="2145.2"/><use href="#*30" x="737.9" y="2036.4"/><use href="#d30" x="740.8" y="2048.1"/><use href="#d30" x="747.7" y="2160.1"/><use href="#o35" x="717.4" y="2099.5"/><use href="#t30" x="748.7" y="2064.8"/><use href="#x25" x="724.8" y="2094.5"/><use href="#t30" x="709.7" y="2108.2"/><use href="#x25" x="740.8" y="2047.7"/><use href="#+25" x="749.4" y="2061.3"/><use href="#o35" x="738.3" y="2054.8"/><use href="#v30" x="745.9" y="2061.5"/><use href="#o35" x="730.8" y="2037.3"/><use href="#*35" x="745.5" y="2043.1"/><use href="#o30" x="737.7" y="2029.5"/><use href="#d25" x="751.2" y="2155.4"/><use href="#x25" x="736.8" y="2032.3"/><use href="#t30" x="736.3" y="2169.6"/><use href="#v25" x="732.2" y="2033.4"/><use href="#x30" x="744.7" y="2104.6"/></g><g fill="none" stroke="#2a1cf0" stroke-width="1.3"><use href="#x25" x="731.3" y="2064.7"/><use href="#+25" x="736.8" y="2027.1"/><use href="#v20" x="736.4" y="2176.0"/><use href="#t20" x="724.9" y="2141.5"/><use href="#o25" x="734.7" y="2043.7"/><use href="#o25" x="735.6" y="2046.0"/><use href="#v25" x="732.6" y="2033.6"/><use href="#x30" x="719.6" y="2146.7"/><use href="#x30" x="744.2" y="2041.6"/><use href="#o25" x="742.8" y="2053.2"/><use href="#+30" x="740.6" y="2167.4"/><use href="#o20" x="742.8" y="2155.2"/><use href="#t25" x="738.6" y="2047.0"/><use href="#s35" x="733.8" y="2055.6"/><use href="#*30" x="736.8" y="2024.9"/><use href="#x35" x="741.8" y="2034.0"/><use href="#t35" x="728.5" y="2167.1"/><use href="#+25" x="726.9" y="2075.7"/><use href="#x30" x="756.0" y="2076.9"/><use href="#s30" x="756.8" y="2128.4"/><use href="#x25" x="715.2" y="2076.2"/><use href="#t25" x="721.0" y="2062.6"/><use href="#d30" x="728.3" y="2147.4"/></g><g fill="none" stroke="#e8402a" stroke-width="1.3"><use href="#t35" x="714.8" y="2084.9"/><use href="#s25" x="738.1" y="2032.3"/><use href="#*25" x="748.9" y="2146.0"/><use href="#o25" x="729.9" y="2168.2"/><use href="#s25" x="737.0" y="2131.7"/><use href="#+25" x="727.2" y="2164.6"/><use href="#*25" x="724.6" y="2108.4"/></g><g fill="#2a20e8" stroke="#000" stroke-width="1.2"><use href="#t35" x="741.3" y="2053.9"/><use href="#s35" x="726.2" y="2108.3"/><use href="#s35" x="736.6" y="2108.5"/><use href="#o35" x="751.2" y="2109.4"/><use href="#t35" x="735.6" y="2062.1"/><use href="#t35" x="753.4" y="2128.0"/></g><g fill="#bfe3ef" stroke="#000" stroke-width="1.2"><use href="#o35" x="731.7" y="2143.9"/><use href="#d35" x="730.0" y="2118.6"/><use href="#s35" x="743.7" y="2126.2"/></g><g fill="#5f935f" stroke="#000" stroke-width="1.2"><use href="#o35" x="737.3" y="2037.2"/><use href="#o35" x="728.4" y="2081.9"/></g><g fill="#a8f5a0" stroke="#000" stroke-width="1.2"><use href="#t35" x="732.9" y="2037.6"/></g><g fill="#f05a5a" stroke="#000" stroke-width="1.2"><use href="#s35" x="738.4" y="2061.1"/></g><path d="M736.2 2017.9L736.3 2018.4L736.5 2019.1L736.7 2020.0L736.9 2020.9L737.1 2022.0L737.4 2023.3L737.8 2024.8L738.2 2026.4L738.7 2028.3L739.2 2030.4L739.7 2032.8L740.3 2035.2L741.0 2037.8L741.7 2040.5L742.4 2043.3L743.2 2046.0L744.1 2048.8L745.0 2051.7L746.0 2054.7L747.1 2057.7L748.1 2060.8L749.2 2064.0L750.2 2067.2L751.2 2070.6L752.2 2074.1L753.2 2077.8L754.2 2081.7L755.3 2085.6L756.2 2089.5L757.0 2093.2L757.7 2096.7L758.2 2100.0L758.5 2102.9L758.6 2105.5L758.6 2107.9L758.5 2110.1L758.3 2112.3L758.0 2114.6L757.6 2117.0L757.2 2119.6L756.7 2122.5L756.1 2125.6L755.4 2128.8L754.6 2132.0L753.7 2135.3L752.9 2138.4L752.0 2141.4L751.2 2144.1L750.4 2146.7L749.5 2149.1L748.7 2151.3L747.8 2153.5L746.9 2155.5L746.0 2157.5L745.1 2159.4L744.2 2161.3L743.2 2163.1L742.1 2165.0L740.9 2166.8L739.8 2168.5L738.7 2170.1L737.7 2171.5L736.8 2172.6L736.2 2173.6L736.2 2173.6L735.6 2172.6L734.7 2171.5L733.7 2170.1L732.6 2168.5L731.5 2166.8L730.3 2165.0L729.2 2163.1L728.2 2161.3L727.3 2159.4L726.4 2157.5L725.5 2155.5L724.6 2153.5L723.7 2151.3L722.9 2149.1L722.0 2146.7L721.2 2144.1L720.4 2141.4L719.5 2138.4L718.7 2135.3L717.8 2132.0L717.0 2128.8L716.3 2125.6L715.7 2122.5L715.2 2119.6L714.8 2117.0L714.4 2114.6L714.1 2112.3L713.9 2110.1L713.8 2107.9L713.8 2105.5L713.9 2102.9L714.2 2100.0L714.7 2096.7L715.4 2093.2L716.2 2089.5L717.1 2085.6L718.2 2081.7L719.2 2077.8L720.2 2074.1L721.2 2070.6L722.2 2067.2L723.2 2064.0L724.3 2060.8L725.3 2057.7L726.4 2054.7L727.4 2051.7L728.3 2048.8L729.2 2046.0L730.0 2043.3L730.7 2040.5L731.4 2037.8L732.1 2035.2L732.7 2032.8L733.2 2030.4L733.7 2028.3L734.2 2026.4L734.6 2024.8L735.0 2023.3L735.3 2022.0L735.5 2020.9L735.7 2020.0L735.9 2019.1L736.1 2018.4L736.2 2017.9Z" fill="none" stroke="#000" stroke-width="1.5"/><line x1="736.2" y1="2173.6" x2="736.2" y2="2266.7" stroke="#000" stroke-width="1.5"/><g fill="#a8f5a0" stroke="#000" stroke-width="1.4"><use href="#s35" x="736.2" y="2198.1"/><use href="#s35" x="736.2" y="2205.4"/><use href="#s35" x="736.2" y="2215.2"/><use href="#s35" x="736.2" y="2222.6"/><use href="#s35" x="736.2" y="2232.4"/><use href="#s35" x="736.2" y="2237.3"/><use href="#s35" x="736.2" y="2259.4"/><use href="#s35" x="736.2" y="2266.7"/></g><line x1="736.2" y1="2322.4" x2="736.2" y2="2327.0" stroke="#000" stroke-width="1.3"/><defs><linearGradient id="cg806" x1="0" y1="1966.4" x2="0" y2="2153.9" gradientUnits="userSpaceOnUse"><stop offset="0" stop-color="#f0992a"/><stop offset="0.69" stop-color="#ec9c36"/><stop offset="0.94" stop-color="#b49a78"/><stop offset="1" stop-color="#7482b0"/></linearGradient></defs><path d="M806.0 1966.4L806.2 1966.6L806.5 1966.8L806.8 1967.1L807.1 1967.4L807.5 1967.9L807.8 1968.4L808.2 1969.1L808.5 1970.0L808.8 1971.0L809.1 1972.1L809.4 1973.3L809.6 1974.6L809.9 1976.1L810.2 1977.8L810.5 1979.9L810.8 1982.3L811.0 1985.2L811.2 1988.7L811.4 1992.5L811.5 1996.5L811.8 2000.7L812.1 2004.7L812.5 2008.4L813.0 2011.7L813.6 2014.6L814.4 2017.1L815.2 2019.4L816.0 2021.5L817.0 2023.7L818.1 2026.0L819.2 2028.5L820.5 2031.3L822.0 2034.6L823.6 2038.2L825.5 2042.0L827.4 2045.9L829.3 2049.8L831.1 2053.7L832.7 2057.4L834.0 2060.8L835.1 2063.9L836.1 2066.7L836.9 2069.5L837.6 2072.1L838.1 2074.7L838.6 2077.3L838.9 2080.0L839.1 2082.8L839.2 2085.8L839.1 2088.8L838.9 2092.0L838.6 2095.1L838.2 2098.2L837.7 2101.3L837.0 2104.4L836.3 2107.3L835.5 2110.2L834.5 2113.0L833.4 2115.7L832.3 2118.4L831.0 2121.1L829.6 2123.8L828.1 2126.6L826.5 2129.4L824.6 2132.5L822.5 2135.9L820.1 2139.5L817.6 2143.1L815.3 2146.4L813.1 2149.5L811.3 2152.0L810.0 2153.9L802.0 2153.9L800.7 2152.0L798.9 2149.5L796.7 2146.4L794.4 2143.1L791.9 2139.5L789.5 2135.9L787.4 2132.5L785.5 2129.4L783.9 2126.6L782.4 2123.8L781.0 2121.1L779.7 2118.4L778.6 2115.7L777.5 2113.0L776.5 2110.2L775.7 2107.3L775.0 2104.4L774.3 2101.3L773.8 2098.2L773.4 2095.1L773.1 2092.0L772.9 2088.8L772.8 2085.8L772.9 2082.8L773.1 2080.0L773.4 2077.3L773.9 2074.7L774.4 2072.1L775.1 2069.5L775.9 2066.7L776.9 2063.9L778.0 2060.8L779.3 2057.4L780.9 2053.7L782.7 2049.8L784.6 2045.9L786.5 2042.0L788.4 2038.2L790.0 2034.6L791.5 2031.3L792.8 2028.5L793.9 2026.0L795.0 2023.7L796.0 2021.5L796.8 2019.4L797.6 2017.1L798.4 2014.6L799.0 2011.7L799.5 2008.4L799.9 2004.7L800.2 2000.7L800.5 1996.5L800.6 1992.5L800.8 1988.7L801.0 1985.2L801.2 1982.3L801.5 1979.9L801.8 1977.8L802.1 1976.1L802.4 1974.6L802.6 1973.3L802.9 1972.1L803.2 1971.0L803.5 1970.0L803.8 1969.1L804.2 1968.4L804.5 1967.9L804.9 1967.4L805.2 1967.1L805.5 1966.8L805.8 1966.6L806.0 1966.4Z" fill="url(#cg806)" fill-opacity="0.95"/><g fill="none" stroke="#2a1cf0" stroke-width="1.3"><use href="#v25" x="816.3" y="2040.6"/><use href="#v20" x="796.7" y="2066.2"/><use href="#s25" x="799.2" y="2026.2"/><use href="#*25" x="804.8" y="1996.3"/><use href="#+30" x="806.7" y="1991.9"/><use href="#v35" x="810.6" y="2092.0"/><use href="#+35" x="800.0" y="2033.6"/><use href="#o25" x="801.6" y="2149.2"/><use href="#s30" x="823.1" y="2055.9"/><use href="#d35" x="807.2" y="2028.2"/><use href="#d25" x="796.0" y="2102.0"/><use href="#o30" x="804.6" y="1974.6"/><use href="#d20" x="819.1" y="2089.6"/><use href="#x30" x="808.9" y="2131.6"/><use href="#o30" x="808.5" y="2048.3"/><use href="#*25" x="794.4" y="2076.0"/><use href="#t30" x="799.6" y="2146.6"/><use href="#*25" x="818.4" y="2135.7"/><use href="#v25" x="778.6" y="2094.7"/></g><g fill="none" stroke="#e8402a" stroke-width="1.3"><use href="#x30" x="805.0" y="1989.3"/><use href="#d25" x="784.6" y="2118.4"/><use href="#d30" x="788.0" y="2126.8"/><use href="#o35" x="798.6" y="2027.3"/><use href="#s25" x="790.0" y="2116.7"/><use href="#d25" x="828.2" y="2061.4"/><use href="#x30" x="821.7" y="2106.2"/><use href="#d25" x="807.7" y="1982.2"/></g><g fill="none" stroke="#f0b040" stroke-width="1.3"><use href="#o25" x="802.3" y="2006.8"/><use href="#+30" x="818.0" y="2118.5"/><use href="#x25" x="812.0" y="2041.9"/><use href="#d25" x="807.7" y="1974.7"/><use href="#o30" x="807.9" y="1989.7"/><use href="#o30" x="819.2" y="2039.5"/><use href="#d25" x="834.3" y="2078.8"/><use href="#o35" x="791.6" y="2084.7"/><use href="#v35" x="802.1" y="2027.4"/><use href="#o25" x="806.0" y="1972.1"/><use href="#+30" x="806.8" y="2014.0"/><use href="#d25" x="812.1" y="2099.7"/><use href="#t25" x="803.7" y="2009.4"/><use href="#s30" x="805.7" y="1970.6"/><use href="#v25" x="824.5" y="2068.7"/><use href="#x25" x="805.8" y="1988.6"/><use href="#d30" x="834.7" y="2086.3"/><use href="#x30" x="823.3" y="2086.0"/><use href="#d25" x="804.3" y="1983.0"/><use href="#t30" x="798.9" y="2042.7"/><use href="#s30" x="786.2" y="2060.6"/><use href="#o25" x="808.8" y="1983.5"/><use href="#d25" x="796.8" y="2033.8"/><use href="#o25" x="786.3" y="2110.5"/><use href="#o25" x="809.4" y="2018.8"/><use href="#s25" x="804.5" y="1974.4"/><use href="#v25" x="803.3" y="2026.0"/></g><g fill="none" stroke="#a8f5a0" stroke-width="1.3"><use href="#+20" x="825.8" y="2092.8"/><use href="#s35" x="802.7" y="2113.6"/><use href="#d30" x="825.1" y="2052.6"/><use href="#d35" x="812.5" y="2038.2"/><use href="#o25" x="799.9" y="2146.9"/><use href="#+30" x="818.8" y="2087.4"/><use href="#+25" x="806.5" y="2153.1"/><use href="#v25" x="818.1" y="2133.0"/><use href="#v25" x="798.3" y="2071.4"/><use href="#x30" x="809.1" y="2026.6"/><use href="#d35" x="805.9" y="1979.2"/><use href="#o30" x="808.6" y="1997.4"/><use href="#v25" x="819.7" y="2043.5"/><use href="#s30" x="804.3" y="1982.4"/><use href="#t30" x="804.2" y="1999.8"/><use href="#+25" x="795.4" y="2067.6"/><use href="#x35" x="831.2" y="2062.4"/><use href="#v30" x="802.6" y="2148.7"/><use href="#s25" x="802.9" y="2046.1"/><use href="#+25" x="836.7" y="2083.3"/><use href="#x35" x="803.1" y="2016.7"/><use href="#+30" x="801.4" y="2149.9"/><use href="#d25" x="804.4" y="1988.4"/><use href="#v30" x="815.5" y="2133.6"/><use href="#*30" x="804.0" y="2002.4"/><use href="#o30" x="804.6" y="2075.0"/><use href="#s30" x="798.0" y="2125.5"/><use href="#s35" x="785.8" y="2075.1"/><use href="#*25" x="813.5" y="2123.0"/><use href="#+25" x="802.9" y="1987.9"/><use href="#x25" x="808.2" y="2078.9"/><use href="#+30" x="815.9" y="2105.0"/><use href="#o30" x="802.8" y="1998.6"/><use href="#*25" x="806.8" y="1971.8"/><use href="#d30" x="815.6" y="2073.5"/><use href="#+35" x="786.9" y="2073.4"/></g><g fill="#a8f5a0" stroke="#000" stroke-width="1.2"><use href="#o35" x="797.6" y="2044.6"/></g><g fill="#f05a5a" stroke="#000" stroke-width="1.2"><use href="#s35" x="803.7" y="2134.2"/><use href="#d35" x="794.0" y="2100.5"/><use href="#t35" x="798.1" y="2062.7"/></g><g fill="#2a20e8" stroke="#000" stroke-width="1.2"><use href="#d35" x="822.0" y="2093.2"/><use href="#t35" x="806.7" y="2025.4"/><use href="#s35" x="816.5" y="2043.4"/><use href="#s35" x="802.9" y="2132.2"/></g><g fill="#5f935f" stroke="#000" stroke-width="1.2"><use href="#o35" x="810.2" y="2047.6"/><use href="#o35" x="813.1" y="2082.1"/></g><path d="M806.0 1970.0L806.1 1970.9L806.3 1971.8L806.5 1973.0L806.7 1974.3L806.9 1975.9L807.1 1977.7L807.3 1979.9L807.5 1982.3L807.7 1985.2L807.8 1988.7L807.9 1992.5L808.0 1996.5L808.2 2000.7L808.4 2004.7L808.6 2008.4L809.0 2011.7L809.4 2014.6L809.9 2017.1L810.4 2019.4L811.0 2021.5L811.7 2023.7L812.4 2026.0L813.2 2028.5L814.0 2031.3L815.0 2034.6L816.1 2038.2L817.3 2042.0L818.5 2045.9L819.8 2049.8L821.0 2053.7L822.0 2057.4L823.0 2060.8L823.9 2063.9L824.7 2066.7L825.4 2069.5L826.1 2072.1L826.7 2074.7L827.2 2077.3L827.6 2080.0L827.8 2082.8L827.8 2085.8L827.7 2088.8L827.5 2092.0L827.1 2095.1L826.7 2098.2L826.2 2101.3L825.6 2104.4L825.0 2107.3L824.4 2110.2L823.7 2113.1L822.9 2115.9L822.1 2118.7L821.2 2121.4L820.2 2124.1L819.1 2126.8L818.0 2129.4L816.7 2132.1L815.1 2135.0L813.3 2137.8L811.6 2140.6L809.8 2143.2L808.3 2145.6L807.0 2147.5L806.0 2149.0L806.0 2149.0L805.0 2147.5L803.7 2145.6L802.2 2143.2L800.4 2140.6L798.7 2137.8L796.9 2135.0L795.3 2132.1L794.0 2129.4L792.9 2126.8L791.8 2124.1L790.8 2121.4L789.9 2118.7L789.1 2115.9L788.3 2113.1L787.6 2110.2L787.0 2107.3L786.4 2104.4L785.8 2101.3L785.3 2098.2L784.9 2095.1L784.5 2092.0L784.3 2088.8L784.2 2085.8L784.2 2082.8L784.4 2080.0L784.8 2077.3L785.3 2074.7L785.9 2072.1L786.6 2069.5L787.3 2066.7L788.1 2063.9L789.0 2060.8L790.0 2057.4L791.0 2053.7L792.2 2049.8L793.5 2045.9L794.7 2042.0L795.9 2038.2L797.0 2034.6L798.0 2031.3L798.8 2028.5L799.6 2026.0L800.3 2023.7L801.0 2021.5L801.6 2019.4L802.1 2017.1L802.6 2014.6L803.0 2011.7L803.4 2008.4L803.6 2004.7L803.8 2000.7L804.0 1996.5L804.1 1992.5L804.2 1988.7L804.3 1985.2L804.5 1982.3L804.7 1979.9L804.9 1977.7L805.1 1975.9L805.3 1974.3L805.5 1973.0L805.7 1971.8L805.9 1970.9L806.0 1970.0Z" fill="none" stroke="#000" stroke-width="1.5"/><line x1="806.0" y1="2149.0" x2="806.0" y2="2266.7" stroke="#000" stroke-width="1.5"/><g fill="#a8f5a0" stroke="#000" stroke-width="1.4"><use href="#s35" x="806.0" y="2183.4"/><use href="#s35" x="806.0" y="2193.2"/><use href="#s35" x="806.0" y="2203.0"/><use href="#s35" x="806.0" y="2212.8"/><use href="#s35" x="806.0" y="2222.6"/><use href="#s35" x="806.0" y="2266.7"/></g><line x1="806.0" y1="2322.4" x2="806.0" y2="2327.0" stroke="#000" stroke-width="1.3"/><defs><linearGradient id="cg875" x1="0" y1="2037.5" x2="0" y2="2158.8" gradientUnits="userSpaceOnUse"><stop offset="0" stop-color="#f0992a"/><stop offset="0.57" stop-color="#ec9c36"/><stop offset="0.82" stop-color="#b49a78"/><stop offset="1" stop-color="#7482b0"/></linearGradient></defs><path d="M875.1 2037.5L875.3 2037.7L875.5 2038.0L875.7 2038.4L876.0 2038.8L876.4 2039.3L876.7 2039.9L877.1 2040.5L877.6 2041.1L878.1 2041.8L878.6 2042.5L879.1 2043.2L879.7 2044.0L880.3 2044.9L881.0 2045.9L881.8 2047.1L882.7 2048.5L883.7 2050.2L884.9 2052.0L886.1 2054.1L887.4 2056.3L888.7 2058.6L890.1 2061.0L891.4 2063.3L892.7 2065.7L894.0 2068.0L895.3 2070.5L896.7 2073.1L898.0 2075.7L899.3 2078.3L900.6 2080.7L901.7 2083.1L902.7 2085.3L903.6 2087.2L904.5 2088.9L905.4 2090.5L906.1 2091.9L906.8 2093.4L907.3 2095.0L907.6 2096.8L907.7 2098.8L907.6 2101.0L907.3 2103.5L906.9 2106.1L906.3 2108.8L905.5 2111.6L904.7 2114.3L903.7 2117.0L902.7 2119.6L901.5 2122.1L900.2 2124.6L898.7 2127.1L897.1 2129.5L895.5 2131.9L893.8 2134.3L892.2 2136.8L890.7 2139.2L889.2 2141.8L887.5 2144.6L885.8 2147.4L884.1 2150.3L882.6 2152.9L881.2 2155.3L880.0 2157.3L879.1 2158.8L871.1 2158.8L870.2 2157.3L869.0 2155.3L867.6 2152.9L866.1 2150.3L864.4 2147.4L862.7 2144.6L861.0 2141.8L859.5 2139.2L858.0 2136.8L856.4 2134.3L854.7 2131.9L853.1 2129.5L851.5 2127.1L850.0 2124.6L848.7 2122.1L847.5 2119.6L846.5 2117.0L845.5 2114.3L844.7 2111.6L843.9 2108.8L843.3 2106.1L842.9 2103.5L842.6 2101.0L842.5 2098.8L842.6 2096.8L842.9 2095.0L843.4 2093.4L844.1 2091.9L844.8 2090.5L845.7 2088.9L846.6 2087.2L847.5 2085.3L848.5 2083.1L849.6 2080.7L850.9 2078.3L852.2 2075.7L853.5 2073.1L854.9 2070.5L856.2 2068.0L857.5 2065.7L858.8 2063.3L860.1 2061.0L861.5 2058.6L862.8 2056.3L864.1 2054.1L865.3 2052.0L866.5 2050.2L867.5 2048.5L868.4 2047.1L869.2 2045.9L869.9 2044.9L870.5 2044.0L871.1 2043.2L871.6 2042.5L872.1 2041.8L872.6 2041.1L873.1 2040.5L873.5 2039.9L873.8 2039.3L874.2 2038.8L874.5 2038.4L874.7 2038.0L874.9 2037.7L875.1 2037.5Z" fill="url(#cg875)" fill-opacity="0.95"/><g fill="none" stroke="#a8f5a0" stroke-width="1.3"><use href="#+30" x="875.7" y="2066.9"/><use href="#v30" x="890.4" y="2124.3"/><use href="#t35" x="850.4" y="2105.3"/><use href="#x30" x="865.2" y="2077.2"/><use href="#d30" x="869.1" y="2131.9"/><use href="#t25" x="856.5" y="2121.1"/><use href="#s25" x="879.2" y="2090.6"/><use href="#x25" x="884.4" y="2058.2"/><use href="#+35" x="869.1" y="2144.4"/><use href="#+25" x="873.4" y="2157.0"/><use href="#*35" x="878.2" y="2097.7"/><use href="#+30" x="904.6" y="2102.4"/><use href="#v35" x="891.8" y="2113.3"/><use href="#s25" x="858.1" y="2133.8"/><use href="#x30" x="874.7" y="2158.3"/><use href="#+25" x="877.0" y="2124.7"/><use href="#s25" x="864.6" y="2096.2"/><use href="#+20" x="901.5" y="2109.7"/><use href="#d30" x="870.8" y="2150.9"/><use href="#x30" x="868.4" y="2071.4"/><use href="#s25" x="855.0" y="2094.1"/><use href="#v25" x="868.0" y="2144.6"/><use href="#*30" x="859.3" y="2072.4"/><use href="#o30" x="875.4" y="2044.6"/><use href="#v30" x="887.4" y="2071.2"/><use href="#t35" x="872.5" y="2068.9"/><use href="#s25" x="882.2" y="2135.6"/><use href="#t25" x="855.2" y="2117.8"/><use href="#d25" x="881.9" y="2088.0"/><use href="#s25" x="895.8" y="2079.6"/><use href="#+25" x="886.2" y="2138.6"/><use href="#o35" x="877.8" y="2156.9"/><use href="#x25" x="899.2" y="2088.9"/><use href="#o25" x="889.0" y="2094.0"/><use href="#s25" x="879.6" y="2104.5"/></g><g fill="none" stroke="#2a1cf0" stroke-width="1.3"><use href="#x30" x="864.0" y="2072.8"/><use href="#d35" x="862.6" y="2115.4"/><use href="#+25" x="883.8" y="2058.9"/><use href="#x25" x="878.7" y="2140.7"/><use href="#d35" x="879.8" y="2050.3"/><use href="#v35" x="870.7" y="2145.7"/><use href="#v35" x="881.0" y="2119.4"/><use href="#x35" x="885.9" y="2131.4"/><use href="#t30" x="875.0" y="2079.3"/><use href="#d25" x="874.7" y="2143.1"/><use href="#x30" x="874.3" y="2117.9"/><use href="#d30" x="886.0" y="2063.8"/><use href="#t25" x="867.3" y="2141.3"/><use href="#v30" x="855.6" y="2082.8"/><use href="#x25" x="867.1" y="2129.4"/><use href="#o35" x="873.4" y="2070.6"/><use href="#*30" x="858.3" y="2096.0"/><use href="#o30" x="897.5" y="2111.0"/></g><g fill="none" stroke="#f0b040" stroke-width="1.3"><use href="#v30" x="874.8" y="2043.1"/><use href="#v35" x="881.5" y="2107.4"/><use href="#x30" x="857.1" y="2108.6"/><use href="#x25" x="857.5" y="2112.7"/><use href="#s30" x="876.0" y="2091.6"/><use href="#v30" x="891.2" y="2070.8"/><use href="#x30" x="886.4" y="2086.1"/><use href="#v30" x="880.5" y="2068.2"/><use href="#t30" x="860.9" y="2123.4"/><use href="#d25" x="879.8" y="2085.3"/><use href="#o20" x="867.3" y="2059.3"/><use href="#*30" x="874.0" y="2054.1"/><use href="#x30" x="868.6" y="2057.3"/><use href="#o30" x="872.3" y="2143.3"/><use href="#*30" x="860.2" y="2132.0"/><use href="#*25" x="867.3" y="2057.4"/><use href="#t25" x="884.8" y="2063.9"/><use href="#x30" x="864.9" y="2132.5"/><use href="#+25" x="875.0" y="2140.0"/><use href="#*30" x="881.3" y="2057.3"/><use href="#o25" x="873.4" y="2055.5"/><use href="#v25" x="876.8" y="2090.0"/><use href="#o25" x="895.8" y="2115.4"/></g><g fill="none" stroke="#e8402a" stroke-width="1.3"><use href="#+30" x="869.3" y="2058.0"/><use href="#*30" x="857.5" y="2088.3"/><use href="#*25" x="873.7" y="2043.3"/><use href="#x30" x="874.7" y="2041.3"/><use href="#x30" x="873.6" y="2152.0"/><use href="#*35" x="858.0" y="2089.8"/><use href="#v25" x="848.7" y="2102.4"/><use href="#v30" x="867.0" y="2134.6"/><use href="#+30" x="859.5" y="2134.2"/></g><g fill="#5f935f" stroke="#000" stroke-width="1.2"><use href="#t35" x="856.0" y="2107.4"/><use href="#t35" x="869.1" y="2082.5"/></g><g fill="#bfe3ef" stroke="#000" stroke-width="1.2"><use href="#s35" x="888.4" y="2072.6"/><use href="#t35" x="863.7" y="2103.7"/><use href="#s35" x="879.7" y="2147.6"/></g><g fill="#a0692a" stroke="#000" stroke-width="1.2"><use href="#d35" x="873.3" y="2143.8"/><use href="#d35" x="878.0" y="2146.7"/><use href="#o35" x="888.2" y="2091.7"/></g><g fill="#2a20e8" stroke="#000" stroke-width="1.2"><use href="#s35" x="865.8" y="2112.3"/></g><g fill="#f05a5a" stroke="#000" stroke-width="1.2"><use href="#o35" x="858.6" y="2123.3"/></g><g fill="#a8f5a0" stroke="#000" stroke-width="1.2"><use href="#s35" x="886.3" y="2128.6"/></g><path d="M875.1 2041.1L875.4 2041.6L875.7 2042.2L876.0 2042.9L876.5 2043.7L877.0 2044.7L877.6 2045.8L878.3 2047.1L879.1 2048.5L880.1 2050.2L881.2 2052.0L882.4 2054.1L883.7 2056.3L885.1 2058.6L886.5 2061.0L887.8 2063.3L889.1 2065.7L890.4 2068.0L891.7 2070.5L893.1 2073.1L894.4 2075.7L895.7 2078.3L897.0 2080.7L898.1 2083.1L899.1 2085.3L900.0 2087.2L900.9 2088.9L901.8 2090.5L902.5 2091.9L903.2 2093.4L903.7 2095.0L904.0 2096.8L904.1 2098.8L904.0 2101.0L903.7 2103.5L903.3 2106.1L902.7 2108.8L901.9 2111.6L901.1 2114.3L900.1 2117.0L899.1 2119.6L897.9 2122.2L896.6 2124.7L895.1 2127.3L893.5 2129.8L891.9 2132.3L890.3 2134.7L888.6 2137.0L887.1 2139.2L885.5 2141.4L883.8 2143.6L882.1 2145.7L880.4 2147.8L878.7 2149.7L877.3 2151.4L876.0 2152.8L875.1 2153.9L875.1 2153.9L874.2 2152.8L872.9 2151.4L871.5 2149.7L869.9 2147.8L868.1 2145.7L866.4 2143.6L864.7 2141.4L863.1 2139.2L861.6 2137.0L859.9 2134.7L858.3 2132.3L856.7 2129.8L855.1 2127.3L853.6 2124.7L852.3 2122.2L851.1 2119.6L850.1 2117.0L849.1 2114.3L848.3 2111.6L847.5 2108.8L846.9 2106.1L846.5 2103.5L846.2 2101.0L846.1 2098.8L846.2 2096.8L846.5 2095.0L847.0 2093.4L847.7 2091.9L848.4 2090.5L849.3 2088.9L850.2 2087.2L851.1 2085.3L852.1 2083.1L853.2 2080.7L854.5 2078.3L855.8 2075.7L857.1 2073.1L858.5 2070.5L859.8 2068.0L861.1 2065.7L862.4 2063.3L863.7 2061.0L865.1 2058.6L866.5 2056.3L867.8 2054.1L869.0 2052.0L870.1 2050.2L871.1 2048.5L871.9 2047.1L872.6 2045.8L873.2 2044.7L873.7 2043.7L874.2 2042.9L874.5 2042.2L874.8 2041.6L875.1 2041.1Z" fill="none" stroke="#000" stroke-width="1.5"/><line x1="875.1" y1="2153.9" x2="875.1" y2="2190.7" stroke="#000" stroke-width="1.5"/><g fill="#a8f5a0" stroke="#000" stroke-width="1.4"><use href="#s35" x="875.1" y="2180.9"/><use href="#s35" x="875.1" y="2190.7"/></g><line x1="875.1" y1="2322.4" x2="875.1" y2="2327.0" stroke="#000" stroke-width="1.3"/><defs><linearGradient id="cg944" x1="0" y1="1994.6" x2="0" y2="2171.1" gradientUnits="userSpaceOnUse"><stop offset="0" stop-color="#f0992a"/><stop offset="0.59" stop-color="#ec9c36"/><stop offset="0.84" stop-color="#b49a78"/><stop offset="1" stop-color="#7482b0"/></linearGradient></defs><path d="M944.7 1994.6L944.9 1994.8L945.1 1995.1L945.4 1995.5L945.8 1995.9L946.1 1996.3L946.5 1996.9L946.8 1997.5L947.2 1998.2L947.6 1999.0L947.9 1999.8L948.3 2000.6L948.7 2001.5L949.1 2002.6L949.4 2003.8L949.8 2005.2L950.2 2006.8L950.5 2008.7L950.8 2010.8L951.1 2013.1L951.3 2015.6L951.6 2018.2L952.0 2020.9L952.5 2023.7L953.2 2026.4L954.0 2029.2L955.0 2032.1L956.0 2035.1L957.1 2038.1L958.3 2041.2L959.6 2044.4L960.9 2047.6L962.2 2051.0L963.6 2054.4L965.2 2058.1L966.8 2061.9L968.5 2065.7L970.2 2069.6L971.7 2073.3L973.1 2077.0L974.2 2080.4L975.1 2083.6L976.0 2086.6L976.7 2089.5L977.2 2092.3L977.7 2095.0L978.0 2097.8L978.1 2100.7L978.1 2103.7L977.9 2106.8L977.6 2110.0L977.0 2113.3L976.4 2116.6L975.6 2119.9L974.7 2123.2L973.8 2126.4L972.7 2129.4L971.5 2132.4L970.2 2135.2L968.7 2138.1L967.1 2140.8L965.5 2143.5L963.9 2146.2L962.2 2148.9L960.7 2151.5L959.1 2154.2L957.4 2157.0L955.7 2159.9L954.0 2162.7L952.3 2165.3L950.9 2167.6L949.6 2169.6L948.7 2171.1L940.7 2171.1L939.8 2169.6L938.5 2167.6L937.1 2165.3L935.5 2162.7L933.7 2159.9L932.0 2157.0L930.3 2154.2L928.7 2151.5L927.2 2148.9L925.5 2146.2L923.9 2143.5L922.3 2140.8L920.7 2138.1L919.2 2135.2L917.9 2132.4L916.7 2129.4L915.6 2126.4L914.7 2123.2L913.8 2119.9L913.0 2116.6L912.4 2113.3L911.8 2110.0L911.5 2106.8L911.3 2103.7L911.3 2100.7L911.4 2097.8L911.7 2095.0L912.2 2092.3L912.7 2089.5L913.4 2086.6L914.3 2083.6L915.2 2080.4L916.3 2077.0L917.7 2073.3L919.2 2069.6L920.9 2065.7L922.6 2061.9L924.2 2058.1L925.8 2054.4L927.2 2051.0L928.5 2047.6L929.8 2044.4L931.1 2041.2L932.3 2038.1L933.4 2035.1L934.4 2032.1L935.4 2029.2L936.2 2026.4L936.9 2023.7L937.4 2020.9L937.8 2018.2L938.1 2015.6L938.3 2013.1L938.6 2010.8L938.9 2008.7L939.2 2006.8L939.6 2005.2L940.0 2003.8L940.3 2002.6L940.7 2001.5L941.1 2000.6L941.5 1999.8L941.8 1999.0L942.2 1998.2L942.6 1997.5L942.9 1996.9L943.3 1996.3L943.6 1995.9L944.0 1995.5L944.3 1995.1L944.5 1994.8L944.7 1994.6Z" fill="url(#cg944)" fill-opacity="0.95"/><g fill="none" stroke="#f0b040" stroke-width="1.3"><use href="#+30" x="953.5" y="2115.5"/><use href="#*30" x="955.0" y="2056.4"/><use href="#s30" x="935.9" y="2069.8"/><use href="#t25" x="942.9" y="2008.0"/><use href="#o25" x="925.2" y="2076.4"/><use href="#x35" x="950.0" y="2042.7"/><use href="#x30" x="929.2" y="2143.3"/><use href="#+35" x="945.9" y="2010.1"/><use href="#x35" x="942.3" y="2094.1"/><use href="#+25" x="939.5" y="2088.0"/><use href="#x20" x="946.6" y="2004.1"/><use href="#t25" x="968.2" y="2123.3"/><use href="#o30" x="958.7" y="2074.5"/><use href="#d35" x="939.8" y="2026.4"/><use href="#v25" x="919.6" y="2131.5"/></g><g fill="none" stroke="#e8402a" stroke-width="1.3"><use href="#*25" x="961.8" y="2075.0"/><use href="#v25" x="939.3" y="2030.6"/><use href="#x25" x="947.3" y="2011.7"/><use href="#d35" x="962.8" y="2094.1"/><use href="#o25" x="938.6" y="2086.1"/><use href="#*30" x="948.0" y="2166.5"/><use href="#o25" x="920.8" y="2090.1"/><use href="#d30" x="946.0" y="2018.5"/><use href="#o35" x="943.4" y="2168.7"/><use href="#x30" x="927.6" y="2105.2"/><use href="#s25" x="955.0" y="2146.6"/><use href="#x35" x="950.5" y="2038.6"/><use href="#s35" x="928.4" y="2143.1"/><use href="#+30" x="946.2" y="2021.7"/></g><g fill="none" stroke="#2a1cf0" stroke-width="1.3"><use href="#v25" x="941.8" y="2011.3"/><use href="#*25" x="949.3" y="2029.7"/><use href="#s30" x="944.7" y="2166.4"/><use href="#v30" x="948.1" y="2160.0"/><use href="#s25" x="931.6" y="2119.4"/><use href="#t35" x="950.0" y="2082.4"/><use href="#t35" x="945.8" y="2060.1"/><use href="#s25" x="954.5" y="2036.7"/><use href="#v30" x="960.5" y="2124.8"/><use href="#x35" x="925.1" y="2080.4"/><use href="#s25" x="950.0" y="2153.9"/><use href="#s30" x="929.8" y="2104.8"/><use href="#o30" x="967.4" y="2077.2"/><use href="#v35" x="952.7" y="2088.5"/><use href="#o30" x="971.7" y="2105.5"/><use href="#d30" x="953.7" y="2150.0"/><use href="#+30" x="934.9" y="2148.7"/><use href="#o35" x="921.2" y="2101.7"/><use href="#v30" x="933.4" y="2050.2"/><use href="#*25" x="922.7" y="2120.6"/></g><g fill="none" stroke="#a8f5a0" stroke-width="1.3"><use href="#v35" x="930.1" y="2066.8"/><use href="#o30" x="947.8" y="2129.9"/><use href="#v30" x="952.1" y="2160.2"/><use href="#+30" x="925.6" y="2066.6"/><use href="#s25" x="937.6" y="2057.6"/><use href="#*30" x="949.0" y="2121.1"/><use href="#x30" x="935.8" y="2081.8"/><use href="#+35" x="957.2" y="2084.0"/><use href="#t30" x="941.1" y="2021.9"/><use href="#s25" x="950.8" y="2141.0"/><use href="#v30" x="956.3" y="2103.3"/><use href="#d35" x="945.5" y="2072.6"/><use href="#d25" x="946.1" y="2001.0"/><use href="#x35" x="947.2" y="2144.2"/><use href="#o35" x="920.8" y="2121.2"/><use href="#+35" x="943.1" y="2133.1"/><use href="#t20" x="955.4" y="2154.9"/><use href="#o35" x="971.5" y="2121.5"/><use href="#*30" x="955.2" y="2149.6"/><use href="#v30" x="945.1" y="2084.5"/><use href="#d25" x="934.3" y="2052.1"/><use href="#x35" x="952.6" y="2135.0"/><use href="#o20" x="943.8" y="2161.1"/><use href="#x25" x="929.8" y="2147.2"/><use href="#x35" x="966.6" y="2066.2"/><use href="#s30" x="923.0" y="2080.0"/><use href="#*35" x="945.0" y="2096.4"/><use href="#+30" x="945.5" y="2000.5"/><use href="#v25" x="966.2" y="2128.9"/><use href="#*25" x="938.3" y="2081.9"/><use href="#o30" x="936.9" y="2033.5"/><use href="#x25" x="967.1" y="2076.4"/><use href="#v30" x="945.5" y="2024.4"/><use href="#d25" x="949.6" y="2139.4"/><use href="#v35" x="950.0" y="2050.6"/><use href="#*35" x="921.1" y="2118.1"/><use href="#+35" x="941.7" y="2077.7"/><use href="#x25" x="941.5" y="2100.4"/><use href="#*30" x="941.7" y="2069.5"/><use href="#*35" x="935.9" y="2155.6"/><use href="#d30" x="931.7" y="2126.8"/></g><g fill="#bfe3ef" stroke="#000" stroke-width="1.2"><use href="#d35" x="931.3" y="2140.5"/><use href="#t35" x="936.4" y="2088.4"/><use href="#o35" x="955.8" y="2068.3"/><use href="#d35" x="946.0" y="2127.0"/><use href="#o35" x="948.3" y="2030.4"/></g><g fill="#f05a5a" stroke="#000" stroke-width="1.2"><use href="#o35" x="929.3" y="2110.7"/></g><g fill="#a8f5a0" stroke="#000" stroke-width="1.2"><use href="#t35" x="945.8" y="2022.8"/></g><g fill="#2a20e8" stroke="#000" stroke-width="1.2"><use href="#t35" x="958.1" y="2124.9"/><use href="#t35" x="941.2" y="2110.8"/><use href="#t35" x="944.9" y="2160.0"/></g><g fill="#5f935f" stroke="#000" stroke-width="1.2"><use href="#d35" x="948.6" y="2072.8"/><use href="#o35" x="941.0" y="2095.9"/><use href="#d35" x="950.6" y="2156.8"/></g><g fill="#a0692a" stroke="#000" stroke-width="1.2"><use href="#s35" x="940.6" y="2069.4"/></g><path d="M944.7 1998.2L944.9 1998.8L945.1 1999.5L945.3 2000.3L945.6 2001.3L945.9 2002.4L946.2 2003.7L946.4 2005.2L946.7 2006.8L946.9 2008.7L947.1 2010.8L947.3 2013.1L947.5 2015.6L947.7 2018.2L947.9 2020.9L948.3 2023.7L948.7 2026.4L949.2 2029.2L949.9 2032.1L950.6 2035.1L951.3 2038.1L952.1 2041.2L953.0 2044.4L953.8 2047.6L954.7 2051.0L955.6 2054.4L956.7 2058.1L957.8 2061.9L958.9 2065.7L960.0 2069.6L961.0 2073.3L961.9 2077.0L962.7 2080.4L963.4 2083.6L964.0 2086.6L964.5 2089.5L965.0 2092.3L965.3 2095.0L965.6 2097.8L965.7 2100.7L965.7 2103.7L965.6 2106.8L965.3 2110.0L964.9 2113.3L964.4 2116.6L963.8 2119.9L963.1 2123.2L962.4 2126.4L961.7 2129.4L960.9 2132.4L960.0 2135.4L959.0 2138.3L958.0 2141.1L956.9 2143.9L955.9 2146.6L954.8 2149.1L953.7 2151.5L952.6 2153.8L951.3 2156.0L950.0 2158.2L948.7 2160.2L947.5 2162.1L946.3 2163.7L945.4 2165.1L944.7 2166.2L944.7 2166.2L944.0 2165.1L943.1 2163.7L941.9 2162.1L940.7 2160.2L939.4 2158.2L938.1 2156.0L936.8 2153.8L935.7 2151.5L934.6 2149.1L933.5 2146.6L932.5 2143.9L931.4 2141.1L930.4 2138.3L929.4 2135.4L928.5 2132.4L927.7 2129.4L927.0 2126.4L926.3 2123.2L925.6 2119.9L925.0 2116.6L924.5 2113.3L924.1 2110.0L923.8 2106.8L923.7 2103.7L923.7 2100.7L923.8 2097.8L924.1 2095.0L924.5 2092.3L924.9 2089.5L925.4 2086.6L926.0 2083.6L926.7 2080.4L927.5 2077.0L928.4 2073.3L929.4 2069.6L930.5 2065.7L931.6 2061.9L932.7 2058.1L933.8 2054.4L934.7 2051.0L935.6 2047.6L936.4 2044.4L937.3 2041.2L938.1 2038.1L938.8 2035.1L939.5 2032.1L940.2 2029.2L940.7 2026.4L941.1 2023.7L941.5 2020.9L941.7 2018.2L942.0 2015.6L942.1 2013.1L942.3 2010.8L942.5 2008.7L942.7 2006.8L943.0 2005.2L943.2 2003.7L943.5 2002.4L943.8 2001.3L944.1 2000.3L944.3 1999.5L944.5 1998.8L944.7 1998.2Z" fill="none" stroke="#000" stroke-width="1.5"/><line x1="944.7" y1="2166.2" x2="944.7" y2="2279.0" stroke="#000" stroke-width="1.5"/><g fill="#a8f5a0" stroke="#000" stroke-width="1.4"><use href="#s35" x="944.7" y="2173.6"/><use href="#s35" x="944.7" y="2183.4"/><use href="#s35" x="944.7" y="2193.2"/><use href="#s35" x="944.7" y="2203.0"/><use href="#s35" x="944.7" y="2212.8"/><use href="#s35" x="944.7" y="2222.6"/><use href="#s35" x="944.7" y="2232.4"/><use href="#s35" x="944.7" y="2242.2"/><use href="#s35" x="944.7" y="2266.7"/><use href="#s35" x="944.7" y="2279.0"/></g><line x1="944.7" y1="2322.4" x2="944.7" y2="2327.0" stroke="#000" stroke-width="1.3"/><text transform="translate(106.1,2703.5) rotate(-90)" font-size="19.2" text-anchor="start"><tspan font-style="italic">f</tspan><tspan font-style="italic" font-size="13" dy="3">4</tspan><tspan dy="-3">(Mbuti, California Baja LH;</tspan></text><text transform="translate(129.6,2704.5) rotate(-90)" font-size="19.2" text-anchor="start">UV, Ancient S. American group)</text><text transform="translate(175.3,2703.5) rotate(-90)" font-size="19.2" text-anchor="start"><tspan font-style="italic">f</tspan><tspan font-style="italic" font-size="13" dy="3">4</tspan><tspan dy="-3">(Mbuti, California Central LH;</tspan></text><text transform="translate(198.8,2704.5) rotate(-90)" font-size="19.2" text-anchor="start">UV, Ancient S. American group)</text><text transform="translate(244.9,2703.5) rotate(-90)" font-size="19.2" text-anchor="start"><tspan font-style="italic">f</tspan><tspan font-style="italic" font-size="13" dy="3">4</tspan><tspan dy="-3">(Mbuti, California N. Channel Islands LH;</tspan></text><text transform="translate(268.4,2704.5) rotate(-90)" font-size="19.2" text-anchor="start">UV, Ancient S. American group)</text><text transform="translate(314.3,2703.5) rotate(-90)" font-size="19.2" text-anchor="start"><tspan font-style="italic">f</tspan><tspan font-style="italic" font-size="13" dy="3">4</tspan><tspan dy="-3">(Mbuti, California N. Channel Islands MH;</tspan></text><text transform="translate(337.8,2704.5) rotate(-90)" font-size="19.2" text-anchor="start">UV, Ancient S. American group)</text><text transform="translate(383.8,2703.5) rotate(-90)" font-size="19.2" text-anchor="start"><tspan font-style="italic">f</tspan><tspan font-style="italic" font-size="13" dy="3">4</tspan><tspan dy="-3">(Mbuti, California S. Channel Islands LH;</tspan></text><text transform="translate(407.3,2704.5) rotate(-90)" font-size="19.2" text-anchor="start">UV, Ancient S. American group)</text><text transform="translate(453.5,2703.5) rotate(-90)" font-size="19.2" text-anchor="start"><tspan font-style="italic">f</tspan><tspan font-style="italic" font-size="13" dy="3">4</tspan><tspan dy="-3">(Mbuti, California S. Channel Islands MH;</tspan></text><text transform="translate(477.0,2704.5) rotate(-90)" font-size="19.2" text-anchor="start">UV, Ancient S. American group)</text><text transform="translate(523.0,2703.5) rotate(-90)" font-size="19.2" text-anchor="start"><tspan font-style="italic">f</tspan><tspan font-style="italic" font-size="13" dy="3">4</tspan><tspan dy="-3">(Mbuti, California Southern Mainland LH;</tspan></text><text transform="translate(546.5,2704.5) rotate(-90)" font-size="19.2" text-anchor="start">UV, Ancient S. American group)</text><text transform="translate(592.6,2703.5) rotate(-90)" font-size="19.2" text-anchor="start"><tspan font-style="italic">f</tspan><tspan font-style="italic" font-size="13" dy="3">4</tspan><tspan dy="-3">(Mbuti, California Southern Mainland MH;</tspan></text><text transform="translate(616.1,2704.5) rotate(-90)" font-size="19.2" text-anchor="start">UV, Ancient S. American group)</text><text transform="translate(661.8,2703.5) rotate(-90)" font-size="19.2" text-anchor="start"><tspan font-style="italic">f</tspan><tspan font-style="italic" font-size="13" dy="3">4</tspan><tspan dy="-3">(Mbuti, Central America EH;</tspan></text><text transform="translate(685.3,2704.5) rotate(-90)" font-size="19.2" text-anchor="start">UV, Ancient S. American group)</text><text transform="translate(731.2,2703.5) rotate(-90)" font-size="19.2" text-anchor="start"><tspan font-style="italic">f</tspan><tspan font-style="italic" font-size="13" dy="3">4</tspan><tspan dy="-3">(Mbuti, Central America LH;</tspan></text><text transform="translate(754.7,2704.5) rotate(-90)" font-size="19.2" text-anchor="start">UV, Ancient S. American group)</text><text transform="translate(801.0,2703.5) rotate(-90)" font-size="19.2" text-anchor="start"><tspan font-style="italic">f</tspan><tspan font-style="italic" font-size="13" dy="3">4</tspan><tspan dy="-3">(Mbuti, Central America MH;</tspan></text><text transform="translate(824.5,2704.5) rotate(-90)" font-size="19.2" text-anchor="start">UV, Ancient S. American group)</text><text transform="translate(870.1,2703.5) rotate(-90)" font-size="19.2" text-anchor="start"><tspan font-style="italic">f</tspan><tspan font-style="italic" font-size="13" dy="3">4</tspan><tspan dy="-3">(Mbuti, Southern North America EH;</tspan></text><text transform="translate(893.6,2704.5) rotate(-90)" font-size="19.2" text-anchor="start">UV, Ancient S. American group)</text><text transform="translate(939.7,2703.5) rotate(-90)" font-size="19.2" text-anchor="start"><tspan font-style="italic">f</tspan><tspan font-style="italic" font-size="13" dy="3">4</tspan><tspan dy="-3">(Mbuti, Southern North America LH;</tspan></text><text transform="translate(963.2,2704.5) rotate(-90)" font-size="19.2" text-anchor="start">UV, Ancient S. American group)</text><text x="5.5" y="1974.3" font-size="32" text-anchor="start" font-weight="bold">c</text><line x1="1077.4" y1="2096.6" x2="1992.6" y2="2096.6" stroke="#222" stroke-width="1.6"/><line x1="1077.4" y1="2018.1" x2="1992.6" y2="2018.1" stroke="#333" stroke-width="1.6" stroke-dasharray="9 7"/><line x1="1077.4" y1="2175.1" x2="1992.6" y2="2175.1" stroke="#333" stroke-width="1.6" stroke-dasharray="9 7"/><line x1="1077.4" y1="1953.7" x2="1077.4" y2="2322.6" stroke="#000" stroke-width="1.6"/><line x1="1077.4" y1="2322.6" x2="1992.6" y2="2322.6" stroke="#000" stroke-width="1.6"/><line x1="1073.4" y1="1965.8" x2="1077.4" y2="1965.8" stroke="#000" stroke-width="1.4"/><line x1="1073.4" y1="2096.6" x2="1077.4" y2="2096.6" stroke="#000" stroke-width="1.4"/><line x1="1073.4" y1="2227.4" x2="1077.4" y2="2227.4" stroke="#000" stroke-width="1.4"/><text x="1059.3" y="1975.2" font-size="19.5" text-anchor="end">5</text><text x="1059.3" y="2103.0" font-size="19.5" text-anchor="end">0</text><text x="1059.3" y="2219.0" font-size="19.5" text-anchor="end">-5</text><text transform="translate(1031.6,2179.5) rotate(-90)" font-size="23" text-anchor="start">Z-score</text><path d="M1119.4 2035.4L1119.7 2035.8L1120.0 2036.3L1120.3 2036.9L1120.8 2037.5L1121.3 2038.3L1121.9 2039.3L1122.6 2040.4L1123.4 2041.7L1124.4 2043.2L1125.5 2044.9L1126.8 2046.7L1128.2 2048.8L1129.5 2050.9L1130.9 2053.0L1132.2 2055.2L1133.4 2057.4L1134.5 2059.5L1135.6 2061.6L1136.7 2063.7L1137.7 2065.9L1138.7 2068.1L1139.7 2070.5L1140.6 2073.0L1141.4 2075.7L1142.2 2078.7L1143.0 2082.0L1143.7 2085.5L1144.3 2089.1L1144.9 2092.6L1145.5 2096.0L1146.0 2099.1L1146.4 2101.8L1146.8 2104.0L1147.0 2105.8L1147.3 2107.4L1147.5 2108.7L1147.6 2110.0L1147.6 2111.4L1147.5 2113.0L1147.4 2114.9L1147.2 2117.1L1146.9 2119.5L1146.5 2122.1L1146.1 2124.7L1145.6 2127.5L1144.9 2130.2L1144.2 2133.0L1143.4 2135.8L1142.4 2138.7L1141.3 2141.6L1140.0 2144.6L1138.7 2147.6L1137.3 2150.6L1136.0 2153.6L1134.6 2156.5L1133.4 2159.4L1132.2 2162.2L1130.9 2164.9L1129.7 2167.7L1128.5 2170.3L1127.3 2173.0L1126.2 2175.5L1125.2 2178.0L1124.4 2180.3L1123.7 2182.5L1123.2 2184.6L1122.8 2186.6L1122.5 2188.5L1122.2 2190.4L1121.9 2192.2L1121.7 2194.1L1121.4 2196.0L1121.1 2198.1L1120.8 2200.3L1120.5 2202.6L1120.2 2204.8L1120.0 2207.0L1119.7 2208.9L1119.5 2210.5L1119.4 2211.7L1119.4 2211.7L1119.3 2210.5L1119.1 2208.9L1118.8 2207.0L1118.6 2204.8L1118.3 2202.6L1118.0 2200.3L1117.7 2198.1L1117.4 2196.0L1117.1 2194.1L1116.9 2192.2L1116.6 2190.4L1116.3 2188.5L1116.0 2186.6L1115.6 2184.6L1115.1 2182.5L1114.4 2180.3L1113.6 2178.0L1112.6 2175.5L1111.5 2173.0L1110.3 2170.3L1109.1 2167.7L1107.9 2164.9L1106.6 2162.2L1105.4 2159.4L1104.2 2156.5L1102.8 2153.6L1101.5 2150.6L1100.1 2147.6L1098.8 2144.6L1097.5 2141.6L1096.4 2138.7L1095.4 2135.8L1094.6 2133.0L1093.9 2130.2L1093.2 2127.5L1092.7 2124.7L1092.3 2122.1L1091.9 2119.5L1091.6 2117.1L1091.4 2114.9L1091.3 2113.0L1091.2 2111.4L1091.2 2110.0L1091.3 2108.7L1091.5 2107.4L1091.8 2105.8L1092.0 2104.0L1092.4 2101.8L1092.8 2099.1L1093.3 2096.0L1093.9 2092.6L1094.5 2089.1L1095.1 2085.5L1095.8 2082.0L1096.6 2078.7L1097.4 2075.7L1098.2 2073.0L1099.1 2070.5L1100.1 2068.1L1101.1 2065.9L1102.1 2063.7L1103.2 2061.6L1104.3 2059.5L1105.4 2057.4L1106.6 2055.2L1107.9 2053.0L1109.3 2050.9L1110.7 2048.8L1112.0 2046.7L1113.3 2044.9L1114.4 2043.2L1115.4 2041.7L1116.2 2040.4L1116.9 2039.3L1117.5 2038.3L1118.0 2037.5L1118.5 2036.9L1118.8 2036.3L1119.1 2035.8L1119.4 2035.4Z" fill="none" stroke="#000" stroke-width="1.5"/><g fill="#2a20e8" stroke="#000" stroke-width="1.4"><use href="#s40" x="1126.3" y="2095.1"/><use href="#s40" x="1115.6" y="2181.2"/><use href="#o40" x="1111.4" y="2092.0"/><use href="#t40" x="1139.0" y="2138.0"/><use href="#s40" x="1123.2" y="2084.0"/><use href="#t40" x="1106.6" y="2154.0"/><use href="#o40" x="1096.7" y="2092.3"/><use href="#s40" x="1102.7" y="2095.9"/></g><g fill="#a8f5a0" stroke="#000" stroke-width="1.4"><use href="#d40" x="1115.3" y="2107.5"/><use href="#o40" x="1136.4" y="2121.6"/><use href="#s40" x="1111.4" y="2164.6"/><use href="#s40" x="1111.6" y="2143.2"/><use href="#o40" x="1104.1" y="2097.3"/><use href="#s40" x="1121.2" y="2088.2"/><use href="#s40" x="1098.0" y="2115.5"/><use href="#t40" x="1096.3" y="2083.4"/><use href="#o40" x="1106.9" y="2106.8"/><use href="#o40" x="1114.5" y="2108.9"/><use href="#v40" x="1100.5" y="2124.8"/><use href="#v40" x="1122.0" y="2083.1"/><use href="#o40" x="1111.4" y="2137.5"/><use href="#s40" x="1121.0" y="2185.0"/><use href="#t40" x="1138.1" y="2132.7"/><use href="#s40" x="1123.2" y="2059.1"/><use href="#v40" x="1112.0" y="2114.2"/><use href="#s35" x="1119.4" y="2188.2"/><use href="#s35" x="1119.4" y="2211.7"/></g><g fill="#bfe3ef" stroke="#000" stroke-width="1.4"><use href="#o40" x="1121.0" y="2133.8"/><use href="#v40" x="1134.3" y="2085.5"/><use href="#d40" x="1100.9" y="2079.3"/><use href="#o40" x="1131.8" y="2147.3"/><use href="#s40" x="1116.2" y="2182.5"/></g><g fill="#9c6428" stroke="#000" stroke-width="1.4"><use href="#v40" x="1103.1" y="2067.1"/><use href="#d40" x="1099.3" y="2136.2"/><use href="#s40" x="1109.2" y="2147.8"/><use href="#o40" x="1131.0" y="2152.7"/><use href="#d40" x="1126.0" y="2089.9"/><use href="#t40" x="1146.8" y="2110.7"/><use href="#o40" x="1126.4" y="2055.0"/><use href="#d40" x="1110.4" y="2083.2"/><use href="#d40" x="1118.4" y="2177.6"/><use href="#d40" x="1131.3" y="2157.2"/><use href="#v40" x="1113.3" y="2147.3"/><use href="#t40" x="1102.2" y="2101.9"/><use href="#s40" x="1142.7" y="2104.4"/><use href="#t40" x="1100.6" y="2100.4"/><use href="#t40" x="1111.0" y="2128.8"/><use href="#t40" x="1119.0" y="2075.4"/><use href="#t40" x="1128.3" y="2084.2"/><use href="#d40" x="1131.4" y="2057.2"/><use href="#s40" x="1117.7" y="2187.5"/><use href="#t40" x="1104.3" y="2096.0"/><use href="#o40" x="1118.0" y="2039.3"/><use href="#t40" x="1112.7" y="2135.5"/><use href="#t40" x="1121.8" y="2165.6"/><use href="#v40" x="1116.9" y="2084.5"/><use href="#o40" x="1097.1" y="2130.7"/><use href="#d40" x="1103.6" y="2108.1"/><use href="#v40" x="1131.9" y="2103.8"/><use href="#s40" x="1113.4" y="2063.1"/><use href="#o40" x="1132.1" y="2147.3"/><use href="#s40" x="1107.8" y="2091.5"/><use href="#s40" x="1123.1" y="2067.3"/><use href="#t40" x="1131.2" y="2115.9"/><use href="#d40" x="1098.7" y="2078.9"/><use href="#d40" x="1109.7" y="2105.0"/><use href="#d40" x="1117.1" y="2150.0"/><use href="#t40" x="1141.5" y="2114.1"/></g><g fill="#b98040" stroke="#000" stroke-width="1.4"><use href="#t40" x="1109.0" y="2081.8"/><use href="#s40" x="1119.6" y="2190.9"/><use href="#t40" x="1106.5" y="2112.0"/><use href="#t40" x="1143.6" y="2088.7"/><use href="#o40" x="1139.5" y="2137.5"/></g><g fill="#5f935f" stroke="#000" stroke-width="1.4"><use href="#v40" x="1126.9" y="2059.1"/><use href="#t40" x="1107.8" y="2101.7"/><use href="#o40" x="1105.8" y="2059.9"/><use href="#d40" x="1116.1" y="2178.6"/><use href="#o40" x="1102.9" y="2081.3"/><use href="#v40" x="1139.9" y="2097.5"/><use href="#v40" x="1120.3" y="2079.9"/><use href="#s40" x="1132.1" y="2154.6"/><use href="#d40" x="1116.1" y="2042.1"/><use href="#s40" x="1095.6" y="2096.4"/></g><g fill="#f05a5a" stroke="#000" stroke-width="1.4"><use href="#t40" x="1126.4" y="2094.3"/><use href="#d40" x="1117.3" y="2138.8"/><use href="#d40" x="1117.7" y="2043.1"/><use href="#o40" x="1112.9" y="2071.1"/><use href="#s40" x="1120.7" y="2133.0"/><use href="#s40" x="1103.8" y="2076.9"/><use href="#s40" x="1126.4" y="2116.3"/><use href="#v40" x="1109.1" y="2128.6"/><use href="#s40" x="1122.3" y="2128.8"/><use href="#d40" x="1112.6" y="2154.1"/><use href="#d40" x="1124.5" y="2062.2"/><use href="#s40" x="1133.2" y="2114.2"/></g><line x1="1119.4" y1="2322.6" x2="1119.4" y2="2327.0" stroke="#000" stroke-width="1.3"/><path d="M1188.3 2029.9L1188.6 2030.5L1188.9 2031.3L1189.3 2032.3L1189.8 2033.3L1190.3 2034.5L1190.9 2035.9L1191.6 2037.4L1192.3 2039.0L1193.1 2040.9L1194.1 2042.9L1195.1 2045.0L1196.2 2047.3L1197.3 2049.7L1198.3 2052.2L1199.4 2054.8L1200.3 2057.4L1201.2 2060.1L1202.0 2062.9L1202.8 2065.8L1203.5 2068.8L1204.3 2071.8L1205.0 2074.9L1205.7 2077.9L1206.3 2080.9L1206.9 2083.8L1207.4 2086.8L1207.9 2089.7L1208.4 2092.7L1208.9 2095.6L1209.3 2098.6L1209.8 2101.5L1210.3 2104.4L1210.9 2107.4L1211.5 2110.4L1212.2 2113.4L1212.9 2116.4L1213.5 2119.4L1214.0 2122.3L1214.3 2125.2L1214.3 2128.0L1214.1 2130.7L1213.6 2133.4L1213.0 2136.0L1212.2 2138.6L1211.3 2141.2L1210.3 2143.7L1209.3 2146.3L1208.3 2148.9L1207.2 2151.6L1206.0 2154.2L1204.7 2156.9L1203.4 2159.5L1202.0 2162.2L1200.7 2164.8L1199.4 2167.4L1198.3 2169.8L1197.2 2172.2L1196.2 2174.4L1195.2 2176.6L1194.3 2178.7L1193.4 2180.8L1192.6 2183.1L1191.9 2185.5L1191.3 2188.2L1190.8 2190.6L1190.5 2192.7L1190.3 2194.8L1190.2 2197.0L1190.1 2199.8L1190.0 2203.4L1189.9 2208.1L1189.8 2214.3L1189.6 2222.8L1189.4 2233.7L1189.2 2246.1L1189.0 2259.1L1188.8 2272.0L1188.6 2283.7L1188.4 2293.6L1188.3 2300.6L1188.3 2300.6L1188.2 2293.6L1188.0 2283.7L1187.8 2272.0L1187.6 2259.1L1187.4 2246.1L1187.2 2233.7L1187.0 2222.8L1186.8 2214.3L1186.7 2208.1L1186.6 2203.4L1186.5 2199.8L1186.4 2197.0L1186.3 2194.8L1186.1 2192.7L1185.8 2190.6L1185.3 2188.2L1184.7 2185.5L1184.0 2183.1L1183.2 2180.8L1182.3 2178.7L1181.4 2176.6L1180.4 2174.4L1179.4 2172.2L1178.3 2169.8L1177.2 2167.4L1175.9 2164.8L1174.6 2162.2L1173.2 2159.5L1171.9 2156.9L1170.6 2154.2L1169.4 2151.6L1168.3 2148.9L1167.3 2146.3L1166.3 2143.7L1165.3 2141.2L1164.4 2138.6L1163.6 2136.0L1163.0 2133.4L1162.5 2130.7L1162.3 2128.0L1162.3 2125.2L1162.6 2122.3L1163.1 2119.4L1163.7 2116.4L1164.4 2113.4L1165.1 2110.4L1165.7 2107.4L1166.3 2104.4L1166.8 2101.5L1167.3 2098.6L1167.7 2095.6L1168.2 2092.7L1168.7 2089.7L1169.2 2086.8L1169.7 2083.8L1170.3 2080.9L1170.9 2077.9L1171.6 2074.9L1172.3 2071.8L1173.0 2068.8L1173.8 2065.8L1174.6 2062.9L1175.4 2060.1L1176.3 2057.4L1177.2 2054.8L1178.3 2052.2L1179.3 2049.7L1180.4 2047.3L1181.5 2045.0L1182.5 2042.9L1183.5 2040.9L1184.3 2039.0L1185.0 2037.4L1185.7 2035.9L1186.3 2034.5L1186.8 2033.3L1187.3 2032.3L1187.7 2031.3L1188.0 2030.5L1188.3 2029.9Z" fill="none" stroke="#000" stroke-width="1.5"/><g fill="#9c6428" stroke="#000" stroke-width="1.4"><use href="#s40" x="1188.8" y="2199.8"/><use href="#o40" x="1198.5" y="2163.5"/><use href="#o40" x="1177.9" y="2145.6"/><use href="#t40" x="1187.4" y="2218.0"/><use href="#v40" x="1190.3" y="2081.3"/><use href="#v40" x="1183.4" y="2041.5"/><use href="#d40" x="1191.3" y="2157.4"/><use href="#s40" x="1190.5" y="2115.9"/><use href="#s40" x="1175.0" y="2062.0"/><use href="#d40" x="1174.3" y="2071.5"/><use href="#o40" x="1209.8" y="2130.8"/><use href="#t40" x="1172.8" y="2135.7"/><use href="#o40" x="1169.6" y="2099.1"/><use href="#o40" x="1172.9" y="2101.4"/><use href="#o40" x="1194.7" y="2173.9"/><use href="#s40" x="1171.5" y="2128.9"/><use href="#d40" x="1204.7" y="2099.1"/><use href="#v40" x="1186.8" y="2196.4"/><use href="#o40" x="1175.5" y="2102.6"/><use href="#o40" x="1190.5" y="2124.8"/><use href="#t40" x="1163.6" y="2122.5"/><use href="#t40" x="1199.7" y="2153.8"/><use href="#s40" x="1167.0" y="2100.8"/><use href="#o40" x="1200.6" y="2071.8"/><use href="#s40" x="1196.0" y="2112.7"/><use href="#t40" x="1175.2" y="2156.5"/></g><g fill="#f05a5a" stroke="#000" stroke-width="1.4"><use href="#d40" x="1170.3" y="2137.6"/><use href="#o40" x="1171.5" y="2140.7"/><use href="#v40" x="1185.4" y="2116.5"/><use href="#s40" x="1192.9" y="2179.5"/><use href="#o40" x="1207.3" y="2107.8"/><use href="#o40" x="1188.1" y="2223.1"/><use href="#t40" x="1175.4" y="2085.3"/><use href="#d40" x="1173.0" y="2124.1"/><use href="#o40" x="1185.4" y="2080.1"/><use href="#o40" x="1189.2" y="2136.1"/><use href="#o40" x="1181.6" y="2077.2"/></g><g fill="#a8f5a0" stroke="#000" stroke-width="1.4"><use href="#s40" x="1169.5" y="2122.2"/><use href="#o40" x="1190.6" y="2109.6"/><use href="#o40" x="1169.7" y="2103.9"/><use href="#o40" x="1185.6" y="2041.1"/><use href="#s40" x="1193.7" y="2094.8"/><use href="#v40" x="1179.8" y="2135.2"/><use href="#o40" x="1197.1" y="2063.2"/><use href="#t40" x="1206.5" y="2145.0"/><use href="#t40" x="1193.8" y="2069.7"/><use href="#s40" x="1196.4" y="2100.7"/><use href="#o40" x="1197.1" y="2129.9"/><use href="#s40" x="1191.8" y="2063.0"/><use href="#s40" x="1188.1" y="2033.0"/><use href="#t40" x="1191.5" y="2060.9"/><use href="#v40" x="1184.4" y="2048.1"/><use href="#v40" x="1176.1" y="2075.2"/><use href="#d40" x="1202.9" y="2075.2"/><use href="#t40" x="1200.9" y="2061.9"/><use href="#d40" x="1199.2" y="2143.0"/><use href="#s35" x="1188.3" y="2182.9"/><use href="#s35" x="1188.3" y="2198.6"/><use href="#s35" x="1188.3" y="2222.2"/><use href="#s35" x="1188.3" y="2224.8"/><use href="#s35" x="1188.3" y="2287.6"/><use href="#s35" x="1188.3" y="2300.6"/></g><g fill="#2a20e8" stroke="#000" stroke-width="1.4"><use href="#t40" x="1192.4" y="2087.1"/><use href="#t40" x="1181.3" y="2175.1"/><use href="#t40" x="1194.1" y="2163.4"/><use href="#o40" x="1191.4" y="2148.9"/><use href="#v40" x="1174.5" y="2143.7"/><use href="#o40" x="1202.6" y="2098.6"/><use href="#d40" x="1180.0" y="2068.8"/><use href="#s40" x="1201.4" y="2137.9"/><use href="#o40" x="1197.0" y="2092.3"/><use href="#s40" x="1171.2" y="2136.9"/></g><g fill="#bfe3ef" stroke="#000" stroke-width="1.4"><use href="#d40" x="1188.9" y="2230.3"/><use href="#o40" x="1166.9" y="2113.1"/><use href="#o40" x="1171.5" y="2112.1"/><use href="#s40" x="1187.1" y="2211.0"/><use href="#t40" x="1200.6" y="2101.5"/></g><g fill="#5f935f" stroke="#000" stroke-width="1.4"><use href="#t40" x="1193.5" y="2061.6"/><use href="#s40" x="1200.5" y="2081.6"/><use href="#s40" x="1191.4" y="2115.3"/><use href="#o40" x="1182.6" y="2107.4"/><use href="#t40" x="1181.2" y="2164.8"/><use href="#o40" x="1184.5" y="2179.0"/><use href="#v40" x="1183.7" y="2119.3"/><use href="#v40" x="1205.1" y="2078.9"/><use href="#t40" x="1175.1" y="2112.6"/><use href="#v40" x="1185.2" y="2057.7"/><use href="#s40" x="1206.4" y="2083.6"/><use href="#s40" x="1192.0" y="2144.3"/><use href="#v40" x="1187.4" y="2033.0"/><use href="#o40" x="1182.0" y="2130.5"/><use href="#v40" x="1191.3" y="2049.1"/><use href="#o40" x="1176.4" y="2157.1"/><use href="#v40" x="1167.7" y="2142.5"/><use href="#s40" x="1172.5" y="2076.4"/></g><g fill="#b98040" stroke="#000" stroke-width="1.4"><use href="#s40" x="1187.9" y="2157.1"/><use href="#v40" x="1168.2" y="2141.0"/><use href="#s40" x="1168.9" y="2135.6"/><use href="#o40" x="1208.7" y="2147.6"/></g><line x1="1188.3" y1="2322.6" x2="1188.3" y2="2327.0" stroke="#000" stroke-width="1.3"/><path d="M1257.5 2012.9L1257.6 2013.4L1257.8 2014.1L1258.1 2014.8L1258.3 2015.7L1258.6 2016.7L1258.9 2017.9L1259.2 2019.2L1259.5 2020.7L1259.8 2022.5L1260.1 2024.6L1260.4 2026.8L1260.7 2029.2L1261.0 2031.7L1261.4 2034.2L1261.9 2036.7L1262.5 2039.0L1263.2 2041.3L1263.9 2043.4L1264.8 2045.6L1265.7 2047.7L1266.6 2049.9L1267.6 2052.2L1268.5 2054.7L1269.5 2057.4L1270.5 2060.3L1271.5 2063.4L1272.5 2066.7L1273.5 2070.1L1274.5 2073.6L1275.5 2077.0L1276.5 2080.3L1277.5 2083.5L1278.5 2086.7L1279.4 2089.8L1280.4 2093.0L1281.3 2096.1L1282.2 2099.1L1283.1 2102.0L1283.8 2104.6L1284.5 2107.1L1285.1 2109.1L1285.7 2110.8L1286.2 2112.3L1286.7 2113.6L1287.1 2114.9L1287.3 2116.4L1287.5 2118.1L1287.5 2120.1L1287.4 2122.6L1287.1 2125.3L1286.8 2128.2L1286.3 2131.3L1285.7 2134.4L1285.1 2137.6L1284.3 2140.7L1283.5 2143.7L1282.5 2146.7L1281.4 2149.8L1280.2 2152.9L1278.9 2156.0L1277.6 2159.0L1276.2 2161.9L1274.8 2164.7L1273.5 2167.2L1272.1 2169.6L1270.6 2171.6L1269.1 2173.6L1267.6 2175.4L1266.1 2177.2L1264.7 2179.0L1263.5 2180.9L1262.5 2182.9L1261.7 2184.5L1261.2 2185.3L1260.7 2185.8L1260.4 2186.5L1260.2 2187.9L1260.0 2190.5L1259.8 2194.8L1259.5 2201.2L1259.2 2210.9L1258.9 2223.8L1258.6 2238.8L1258.3 2254.7L1258.1 2270.5L1257.8 2285.1L1257.6 2297.2L1257.5 2305.9L1257.5 2305.9L1257.4 2297.2L1257.2 2285.1L1256.9 2270.5L1256.7 2254.7L1256.4 2238.8L1256.1 2223.8L1255.8 2210.9L1255.5 2201.2L1255.2 2194.8L1255.0 2190.5L1254.8 2187.9L1254.6 2186.5L1254.3 2185.8L1253.8 2185.3L1253.3 2184.5L1252.5 2182.9L1251.5 2180.9L1250.3 2179.0L1248.9 2177.2L1247.4 2175.4L1245.9 2173.6L1244.4 2171.6L1242.9 2169.6L1241.5 2167.2L1240.2 2164.7L1238.8 2161.9L1237.4 2159.0L1236.1 2156.0L1234.8 2152.9L1233.6 2149.8L1232.5 2146.7L1231.5 2143.7L1230.7 2140.7L1229.9 2137.6L1229.3 2134.4L1228.7 2131.3L1228.2 2128.2L1227.9 2125.3L1227.6 2122.6L1227.5 2120.1L1227.5 2118.1L1227.7 2116.4L1227.9 2114.9L1228.3 2113.6L1228.8 2112.3L1229.3 2110.8L1229.9 2109.1L1230.5 2107.1L1231.2 2104.6L1231.9 2102.0L1232.8 2099.1L1233.7 2096.1L1234.6 2093.0L1235.6 2089.8L1236.5 2086.7L1237.5 2083.5L1238.5 2080.3L1239.5 2077.0L1240.5 2073.6L1241.5 2070.1L1242.5 2066.7L1243.5 2063.4L1244.5 2060.3L1245.5 2057.4L1246.5 2054.7L1247.4 2052.2L1248.4 2049.9L1249.3 2047.7L1250.2 2045.6L1251.1 2043.4L1251.8 2041.3L1252.5 2039.0L1253.1 2036.7L1253.6 2034.2L1254.0 2031.7L1254.3 2029.2L1254.6 2026.8L1254.9 2024.6L1255.2 2022.5L1255.5 2020.7L1255.8 2019.2L1256.1 2017.9L1256.4 2016.7L1256.7 2015.7L1256.9 2014.8L1257.2 2014.1L1257.4 2013.4L1257.5 2012.9Z" fill="none" stroke="#000" stroke-width="1.5"/><g fill="#9c6428" stroke="#000" stroke-width="1.4"><use href="#s40" x="1257.7" y="2162.3"/><use href="#t40" x="1245.8" y="2165.8"/><use href="#o40" x="1243.9" y="2129.5"/><use href="#s40" x="1262.6" y="2093.9"/><use href="#t40" x="1257.2" y="2017.3"/><use href="#t40" x="1249.7" y="2075.7"/><use href="#t40" x="1260.4" y="2170.0"/><use href="#o40" x="1256.0" y="2135.3"/><use href="#o40" x="1254.3" y="2106.9"/><use href="#s40" x="1258.1" y="2075.6"/><use href="#s40" x="1275.5" y="2156.7"/><use href="#o40" x="1258.1" y="2194.3"/><use href="#o40" x="1249.7" y="2135.4"/><use href="#t40" x="1241.9" y="2079.7"/><use href="#v40" x="1257.2" y="2240.5"/><use href="#o40" x="1271.5" y="2162.4"/><use href="#s40" x="1260.1" y="2033.0"/><use href="#t40" x="1242.2" y="2106.2"/><use href="#t40" x="1261.8" y="2142.7"/><use href="#o40" x="1270.2" y="2074.3"/><use href="#t40" x="1269.8" y="2063.5"/><use href="#d40" x="1252.9" y="2125.4"/><use href="#s40" x="1244.2" y="2106.0"/><use href="#o40" x="1264.7" y="2061.7"/><use href="#t40" x="1238.5" y="2098.4"/><use href="#d40" x="1268.3" y="2144.4"/><use href="#t40" x="1264.9" y="2054.5"/><use href="#t40" x="1231.6" y="2134.1"/><use href="#v40" x="1268.5" y="2103.8"/><use href="#v40" x="1253.8" y="2085.0"/><use href="#s40" x="1268.8" y="2069.4"/><use href="#t40" x="1242.3" y="2127.0"/><use href="#v40" x="1247.4" y="2154.3"/><use href="#v40" x="1285.8" y="2111.3"/><use href="#v40" x="1259.1" y="2070.2"/><use href="#v40" x="1276.7" y="2094.2"/><use href="#d40" x="1239.7" y="2140.3"/><use href="#s40" x="1234.8" y="2137.9"/><use href="#s40" x="1243.9" y="2132.3"/><use href="#v40" x="1262.9" y="2085.6"/><use href="#o40" x="1255.9" y="2204.6"/><use href="#o40" x="1247.2" y="2070.0"/><use href="#o40" x="1273.7" y="2094.1"/><use href="#o40" x="1265.3" y="2175.7"/><use href="#s40" x="1261.2" y="2129.9"/><use href="#s40" x="1262.6" y="2048.3"/><use href="#t40" x="1251.7" y="2126.7"/><use href="#s40" x="1242.9" y="2144.3"/><use href="#o40" x="1276.1" y="2162.0"/><use href="#s40" x="1273.7" y="2158.6"/><use href="#s40" x="1232.4" y="2104.9"/><use href="#o40" x="1264.6" y="2120.3"/></g><g fill="#bfe3ef" stroke="#000" stroke-width="1.4"><use href="#t40" x="1254.4" y="2044.0"/><use href="#v40" x="1282.9" y="2118.4"/><use href="#o40" x="1257.6" y="2144.8"/><use href="#o40" x="1258.1" y="2015.6"/><use href="#o40" x="1254.7" y="2097.3"/><use href="#d40" x="1261.6" y="2084.9"/><use href="#o40" x="1254.3" y="2078.1"/><use href="#v40" x="1257.5" y="2281.7"/><use href="#t40" x="1260.8" y="2077.5"/><use href="#t40" x="1252.8" y="2069.6"/><use href="#s40" x="1276.5" y="2096.0"/></g><g fill="#2a20e8" stroke="#000" stroke-width="1.4"><use href="#s40" x="1235.1" y="2103.7"/><use href="#o40" x="1273.8" y="2148.4"/><use href="#d40" x="1231.4" y="2131.6"/><use href="#v40" x="1281.0" y="2145.8"/><use href="#v40" x="1244.2" y="2107.9"/><use href="#s40" x="1273.9" y="2118.7"/><use href="#d40" x="1240.8" y="2110.3"/><use href="#s40" x="1255.9" y="2051.9"/><use href="#o40" x="1257.3" y="2156.1"/><use href="#d40" x="1238.2" y="2114.6"/><use href="#d40" x="1231.1" y="2114.5"/></g><g fill="#a8f5a0" stroke="#000" stroke-width="1.4"><use href="#s40" x="1284.4" y="2125.3"/><use href="#d40" x="1253.9" y="2051.0"/><use href="#s40" x="1266.4" y="2153.3"/><use href="#v40" x="1277.0" y="2082.6"/><use href="#v40" x="1263.8" y="2127.6"/><use href="#o40" x="1256.0" y="2182.5"/><use href="#s40" x="1235.6" y="2111.6"/><use href="#d40" x="1278.4" y="2114.3"/><use href="#o40" x="1262.0" y="2065.9"/><use href="#o40" x="1268.8" y="2145.2"/><use href="#t40" x="1276.8" y="2148.7"/><use href="#v40" x="1255.4" y="2098.4"/><use href="#s40" x="1266.8" y="2081.6"/><use href="#s40" x="1269.0" y="2163.3"/><use href="#s40" x="1229.5" y="2112.5"/><use href="#s40" x="1285.9" y="2123.9"/><use href="#o40" x="1237.4" y="2146.8"/><use href="#d40" x="1257.4" y="2201.1"/><use href="#s40" x="1260.8" y="2046.7"/><use href="#s40" x="1257.6" y="2231.0"/><use href="#o40" x="1261.3" y="2104.1"/><use href="#o40" x="1267.4" y="2116.5"/><use href="#s35" x="1257.5" y="2182.9"/><use href="#s35" x="1257.5" y="2203.9"/><use href="#s35" x="1257.5" y="2219.6"/><use href="#s35" x="1257.5" y="2227.4"/><use href="#s35" x="1257.5" y="2240.5"/><use href="#s35" x="1257.5" y="2258.8"/><use href="#s35" x="1257.5" y="2305.9"/></g><g fill="#b98040" stroke="#000" stroke-width="1.4"><use href="#t40" x="1272.3" y="2126.9"/><use href="#o40" x="1275.1" y="2080.8"/><use href="#t40" x="1232.9" y="2116.8"/><use href="#o40" x="1257.6" y="2288.0"/><use href="#s40" x="1272.9" y="2095.9"/><use href="#d40" x="1259.0" y="2209.9"/><use href="#s40" x="1257.9" y="2247.2"/><use href="#o40" x="1257.2" y="2143.2"/><use href="#d40" x="1254.9" y="2068.5"/><use href="#o40" x="1259.9" y="2090.4"/><use href="#v40" x="1259.5" y="2137.2"/><use href="#v40" x="1256.7" y="2216.9"/><use href="#v40" x="1255.3" y="2135.0"/></g><g fill="#f05a5a" stroke="#000" stroke-width="1.4"><use href="#t40" x="1261.4" y="2147.8"/><use href="#t40" x="1258.2" y="2051.2"/><use href="#s40" x="1245.8" y="2156.4"/><use href="#o40" x="1273.5" y="2116.5"/><use href="#d40" x="1268.8" y="2089.4"/><use href="#s40" x="1263.6" y="2179.3"/><use href="#o40" x="1264.8" y="2172.7"/><use href="#o40" x="1273.0" y="2081.9"/><use href="#s40" x="1241.8" y="2150.4"/><use href="#o40" x="1235.3" y="2094.7"/><use href="#s40" x="1255.2" y="2157.0"/><use href="#t40" x="1277.6" y="2154.2"/><use href="#v40" x="1252.5" y="2172.7"/><use href="#d40" x="1268.9" y="2107.1"/></g><g fill="#5f935f" stroke="#000" stroke-width="1.4"><use href="#s40" x="1263.3" y="2051.9"/><use href="#s40" x="1240.9" y="2157.3"/><use href="#v40" x="1247.2" y="2106.8"/><use href="#o40" x="1235.7" y="2129.5"/><use href="#v40" x="1273.8" y="2078.5"/><use href="#d40" x="1247.5" y="2147.9"/><use href="#v40" x="1251.9" y="2097.9"/><use href="#t40" x="1256.3" y="2198.8"/><use href="#t40" x="1253.7" y="2125.5"/><use href="#v40" x="1246.1" y="2137.5"/><use href="#s40" x="1238.1" y="2155.7"/><use href="#o40" x="1282.5" y="2113.2"/><use href="#s40" x="1271.2" y="2157.8"/><use href="#s40" x="1278.5" y="2105.8"/><use href="#s40" x="1251.8" y="2079.9"/><use href="#o40" x="1258.7" y="2130.8"/><use href="#t40" x="1266.9" y="2137.9"/><use href="#d40" x="1266.0" y="2051.5"/><use href="#t40" x="1242.7" y="2166.7"/><use href="#o40" x="1244.8" y="2171.9"/><use href="#s40" x="1248.6" y="2149.1"/></g><line x1="1257.5" y1="2322.6" x2="1257.5" y2="2327.0" stroke="#000" stroke-width="1.3"/><path d="M1327.0 2016.6L1327.8 2017.4L1328.8 2018.3L1330.0 2019.4L1331.4 2020.8L1332.8 2022.3L1334.3 2024.1L1335.7 2026.2L1337.0 2028.6L1338.3 2031.4L1339.6 2034.5L1341.0 2038.0L1342.3 2041.7L1343.6 2045.5L1344.8 2049.5L1346.0 2053.4L1347.0 2057.4L1348.0 2061.3L1348.9 2065.3L1349.8 2069.4L1350.6 2073.6L1351.3 2077.8L1351.8 2082.0L1352.2 2086.2L1352.3 2090.3L1352.2 2094.5L1351.8 2098.7L1351.3 2102.9L1350.6 2107.1L1349.8 2111.3L1348.9 2115.3L1348.0 2119.1L1347.0 2122.8L1346.0 2126.1L1344.8 2129.3L1343.5 2132.2L1342.1 2135.1L1340.7 2137.9L1339.4 2140.6L1338.1 2143.4L1337.0 2146.3L1335.9 2149.3L1334.9 2152.3L1333.9 2155.4L1333.0 2158.4L1332.1 2161.4L1331.3 2164.3L1330.6 2167.2L1330.0 2169.8L1329.5 2172.2L1329.2 2174.2L1329.0 2175.9L1328.9 2177.7L1328.8 2179.6L1328.7 2181.9L1328.6 2184.7L1328.5 2188.2L1328.3 2192.8L1328.1 2198.5L1327.9 2204.9L1327.7 2211.5L1327.5 2218.1L1327.3 2224.0L1327.1 2229.0L1327.0 2232.6L1327.0 2232.6L1326.9 2229.0L1326.7 2224.0L1326.5 2218.1L1326.3 2211.5L1326.1 2204.9L1325.9 2198.5L1325.7 2192.8L1325.5 2188.2L1325.4 2184.7L1325.3 2181.9L1325.2 2179.6L1325.1 2177.7L1325.0 2175.9L1324.8 2174.2L1324.5 2172.2L1324.0 2169.8L1323.4 2167.2L1322.7 2164.3L1321.9 2161.4L1321.0 2158.4L1320.1 2155.4L1319.1 2152.3L1318.1 2149.3L1317.0 2146.3L1315.9 2143.4L1314.6 2140.6L1313.3 2137.9L1311.9 2135.1L1310.5 2132.2L1309.2 2129.3L1308.0 2126.1L1307.0 2122.8L1306.0 2119.1L1305.1 2115.3L1304.2 2111.3L1303.4 2107.1L1302.7 2102.9L1302.2 2098.7L1301.8 2094.5L1301.7 2090.3L1301.8 2086.2L1302.2 2082.0L1302.7 2077.8L1303.4 2073.6L1304.2 2069.4L1305.1 2065.3L1306.0 2061.3L1307.0 2057.4L1308.0 2053.4L1309.2 2049.5L1310.4 2045.5L1311.7 2041.7L1313.0 2038.0L1314.4 2034.5L1315.7 2031.4L1317.0 2028.6L1318.3 2026.2L1319.7 2024.1L1321.2 2022.3L1322.6 2020.8L1324.0 2019.4L1325.2 2018.3L1326.2 2017.4L1327.0 2016.6Z" fill="none" stroke="#000" stroke-width="1.5"/><g fill="#9c6428" stroke="#000" stroke-width="1.4"><use href="#s40" x="1314.2" y="2057.1"/><use href="#s40" x="1316.8" y="2049.1"/><use href="#o40" x="1319.8" y="2115.1"/><use href="#o40" x="1337.1" y="2083.8"/><use href="#d40" x="1325.4" y="2075.8"/><use href="#o40" x="1323.4" y="2147.5"/><use href="#s40" x="1306.9" y="2080.3"/><use href="#o40" x="1345.1" y="2109.4"/><use href="#o40" x="1312.4" y="2107.1"/><use href="#o40" x="1320.4" y="2024.3"/><use href="#o40" x="1322.9" y="2090.6"/><use href="#o40" x="1310.7" y="2119.1"/><use href="#v40" x="1341.3" y="2078.4"/><use href="#t40" x="1315.0" y="2079.9"/><use href="#o40" x="1339.4" y="2123.3"/><use href="#o40" x="1326.1" y="2137.5"/><use href="#s40" x="1316.6" y="2143.3"/><use href="#d40" x="1338.2" y="2048.2"/><use href="#v40" x="1332.1" y="2032.7"/><use href="#s40" x="1326.3" y="2058.5"/><use href="#v40" x="1336.9" y="2136.8"/></g><g fill="#a8f5a0" stroke="#000" stroke-width="1.4"><use href="#s40" x="1337.5" y="2113.8"/><use href="#o40" x="1327.5" y="2038.7"/><use href="#s40" x="1326.9" y="2024.4"/><use href="#o40" x="1327.7" y="2086.0"/><use href="#v40" x="1343.4" y="2060.8"/><use href="#t40" x="1329.9" y="2079.8"/><use href="#v40" x="1337.9" y="2031.0"/><use href="#s40" x="1322.3" y="2113.3"/><use href="#v40" x="1308.8" y="2064.8"/><use href="#t40" x="1346.7" y="2109.5"/><use href="#t40" x="1336.0" y="2068.7"/><use href="#o40" x="1336.3" y="2039.3"/><use href="#d40" x="1323.8" y="2099.7"/><use href="#s35" x="1327.0" y="2169.8"/><use href="#s35" x="1327.0" y="2180.3"/><use href="#s35" x="1327.0" y="2193.4"/><use href="#s35" x="1327.0" y="2232.6"/></g><g fill="#f05a5a" stroke="#000" stroke-width="1.4"><use href="#s40" x="1325.4" y="2130.1"/><use href="#s40" x="1341.9" y="2126.2"/><use href="#s40" x="1314.3" y="2118.9"/><use href="#s40" x="1329.4" y="2170.9"/></g><g fill="#2a20e8" stroke="#000" stroke-width="1.4"><use href="#s40" x="1321.8" y="2071.8"/><use href="#o40" x="1333.1" y="2037.4"/><use href="#o40" x="1339.7" y="2043.5"/><use href="#o40" x="1311.2" y="2048.7"/></g><g fill="#b98040" stroke="#000" stroke-width="1.4"><use href="#s40" x="1331.3" y="2113.3"/><use href="#t40" x="1331.3" y="2064.6"/><use href="#v40" x="1325.4" y="2021.9"/><use href="#d40" x="1347.2" y="2119.3"/><use href="#t40" x="1326.7" y="2057.5"/><use href="#d40" x="1325.9" y="2194.3"/></g><g fill="#5f935f" stroke="#000" stroke-width="1.4"><use href="#o40" x="1315.7" y="2050.7"/></g><g fill="#bfe3ef" stroke="#000" stroke-width="1.4"><use href="#t40" x="1316.8" y="2133.4"/><use href="#o40" x="1326.9" y="2031.5"/></g><line x1="1327.0" y1="2322.6" x2="1327.0" y2="2327.0" stroke="#000" stroke-width="1.3"/><path d="M1396.0 2010.3L1396.2 2011.0L1396.4 2011.8L1396.6 2012.9L1396.9 2014.0L1397.2 2015.4L1397.5 2017.0L1397.7 2018.7L1398.0 2020.7L1398.2 2023.0L1398.4 2025.6L1398.5 2028.5L1398.6 2031.5L1398.8 2034.7L1399.1 2037.9L1399.5 2041.1L1400.0 2044.3L1400.7 2047.5L1401.6 2050.8L1402.6 2054.1L1403.6 2057.5L1404.7 2060.9L1405.9 2064.2L1407.0 2067.4L1408.0 2070.4L1409.0 2073.2L1410.1 2075.8L1411.1 2078.2L1412.2 2080.6L1413.2 2083.0L1414.2 2085.5L1415.2 2088.3L1416.0 2091.4L1416.8 2094.8L1417.6 2098.6L1418.4 2102.6L1419.1 2106.7L1419.7 2110.9L1420.2 2115.0L1420.5 2119.0L1420.6 2122.8L1420.5 2126.3L1420.2 2129.7L1419.8 2133.0L1419.2 2136.2L1418.5 2139.3L1417.7 2142.5L1416.9 2145.7L1416.0 2148.9L1415.0 2152.3L1413.8 2155.7L1412.4 2159.2L1411.0 2162.7L1409.6 2166.0L1408.3 2169.3L1407.0 2172.3L1406.0 2175.1L1405.1 2177.5L1404.3 2179.6L1403.6 2181.4L1403.0 2183.1L1402.4 2184.8L1401.9 2186.5L1401.4 2188.5L1401.0 2190.8L1400.6 2193.0L1400.3 2194.9L1400.1 2196.8L1399.9 2199.0L1399.7 2201.5L1399.5 2204.8L1399.3 2208.9L1399.0 2214.3L1398.7 2221.6L1398.2 2230.9L1397.8 2241.4L1397.4 2252.4L1396.9 2263.3L1396.6 2273.2L1396.2 2281.6L1396.0 2287.6L1396.0 2287.6L1395.8 2281.6L1395.4 2273.2L1395.1 2263.3L1394.6 2252.4L1394.2 2241.4L1393.8 2230.9L1393.3 2221.6L1393.0 2214.3L1392.7 2208.9L1392.5 2204.8L1392.3 2201.5L1392.1 2199.0L1391.9 2196.8L1391.7 2194.9L1391.4 2193.0L1391.0 2190.8L1390.6 2188.5L1390.1 2186.5L1389.6 2184.8L1389.0 2183.1L1388.4 2181.4L1387.7 2179.6L1386.9 2177.5L1386.0 2175.1L1385.0 2172.3L1383.7 2169.3L1382.4 2166.0L1381.0 2162.7L1379.6 2159.2L1378.2 2155.7L1377.0 2152.3L1376.0 2148.9L1375.1 2145.7L1374.3 2142.5L1373.5 2139.3L1372.8 2136.2L1372.2 2133.0L1371.8 2129.7L1371.5 2126.3L1371.4 2122.8L1371.5 2119.0L1371.8 2115.0L1372.3 2110.9L1372.9 2106.7L1373.6 2102.6L1374.4 2098.6L1375.2 2094.8L1376.0 2091.4L1376.8 2088.3L1377.8 2085.5L1378.8 2083.0L1379.8 2080.6L1380.9 2078.2L1381.9 2075.8L1383.0 2073.2L1384.0 2070.4L1385.0 2067.4L1386.1 2064.2L1387.3 2060.9L1388.4 2057.5L1389.4 2054.1L1390.4 2050.8L1391.3 2047.5L1392.0 2044.3L1392.5 2041.1L1392.9 2037.9L1393.2 2034.7L1393.4 2031.5L1393.5 2028.5L1393.6 2025.6L1393.8 2023.0L1394.0 2020.7L1394.3 2018.7L1394.5 2017.0L1394.8 2015.4L1395.1 2014.0L1395.4 2012.9L1395.6 2011.8L1395.8 2011.0L1396.0 2010.3Z" fill="none" stroke="#000" stroke-width="1.5"/><g fill="#2a20e8" stroke="#000" stroke-width="1.4"><use href="#s40" x="1419.2" y="2126.8"/><use href="#v40" x="1395.5" y="2156.1"/><use href="#d40" x="1386.1" y="2167.6"/><use href="#o40" x="1395.4" y="2150.5"/><use href="#d40" x="1387.1" y="2081.3"/><use href="#o40" x="1396.5" y="2110.8"/><use href="#d40" x="1384.3" y="2099.6"/><use href="#o40" x="1405.3" y="2145.0"/><use href="#o40" x="1411.0" y="2079.2"/><use href="#t40" x="1384.8" y="2084.0"/><use href="#s40" x="1402.6" y="2103.3"/><use href="#v40" x="1410.2" y="2163.7"/><use href="#o40" x="1393.5" y="2155.0"/><use href="#o40" x="1407.1" y="2159.6"/><use href="#t40" x="1393.7" y="2170.9"/></g><g fill="#5f935f" stroke="#000" stroke-width="1.4"><use href="#v40" x="1404.3" y="2091.1"/><use href="#o40" x="1387.0" y="2080.8"/><use href="#s40" x="1396.7" y="2078.1"/><use href="#d40" x="1387.1" y="2129.0"/><use href="#o40" x="1412.9" y="2092.1"/><use href="#o40" x="1385.5" y="2154.9"/><use href="#v40" x="1395.0" y="2181.9"/><use href="#s40" x="1396.5" y="2078.0"/><use href="#v40" x="1398.6" y="2073.7"/><use href="#o40" x="1404.2" y="2082.4"/><use href="#t40" x="1397.2" y="2100.5"/><use href="#o40" x="1375.5" y="2105.4"/><use href="#v40" x="1406.5" y="2163.3"/><use href="#d40" x="1396.3" y="2063.8"/><use href="#s40" x="1388.4" y="2093.0"/><use href="#o40" x="1407.3" y="2130.9"/><use href="#o40" x="1413.4" y="2097.2"/><use href="#o40" x="1399.4" y="2087.7"/><use href="#v40" x="1378.5" y="2142.4"/><use href="#d40" x="1400.1" y="2175.7"/><use href="#v40" x="1387.5" y="2064.4"/><use href="#d40" x="1402.7" y="2172.8"/><use href="#s40" x="1405.9" y="2175.3"/></g><g fill="#bfe3ef" stroke="#000" stroke-width="1.4"><use href="#o40" x="1391.7" y="2162.6"/><use href="#s40" x="1395.0" y="2194.4"/><use href="#o40" x="1402.7" y="2159.9"/><use href="#d40" x="1410.9" y="2141.7"/><use href="#o40" x="1386.7" y="2156.9"/><use href="#v40" x="1405.2" y="2101.9"/><use href="#t40" x="1386.0" y="2153.5"/><use href="#d40" x="1401.7" y="2176.5"/><use href="#d40" x="1372.6" y="2110.0"/><use href="#s40" x="1393.2" y="2176.1"/><use href="#s40" x="1379.6" y="2089.0"/><use href="#o40" x="1398.5" y="2212.7"/><use href="#s40" x="1412.7" y="2087.0"/><use href="#s40" x="1395.6" y="2243.5"/></g><g fill="#9c6428" stroke="#000" stroke-width="1.4"><use href="#t40" x="1395.1" y="2061.0"/><use href="#s40" x="1396.9" y="2227.9"/><use href="#v40" x="1379.9" y="2107.0"/><use href="#s40" x="1394.7" y="2026.3"/><use href="#s40" x="1396.9" y="2131.0"/><use href="#o40" x="1399.4" y="2076.1"/><use href="#d40" x="1395.9" y="2244.4"/><use href="#o40" x="1395.5" y="2100.9"/><use href="#o40" x="1393.0" y="2088.2"/><use href="#s40" x="1404.3" y="2152.7"/><use href="#o40" x="1393.1" y="2209.7"/><use href="#d40" x="1401.2" y="2057.3"/><use href="#o40" x="1405.3" y="2150.0"/><use href="#o40" x="1411.6" y="2124.8"/><use href="#d40" x="1391.0" y="2145.7"/><use href="#o40" x="1400.9" y="2133.3"/><use href="#o40" x="1388.2" y="2135.2"/><use href="#o40" x="1396.6" y="2028.1"/><use href="#s40" x="1392.9" y="2076.1"/><use href="#s40" x="1388.0" y="2116.2"/><use href="#s40" x="1396.3" y="2143.1"/><use href="#d40" x="1377.9" y="2133.6"/><use href="#o40" x="1392.2" y="2171.7"/><use href="#o40" x="1406.0" y="2093.2"/><use href="#s40" x="1386.1" y="2096.3"/><use href="#v40" x="1395.0" y="2070.7"/><use href="#s40" x="1404.7" y="2109.7"/><use href="#v40" x="1405.4" y="2164.3"/><use href="#t40" x="1386.3" y="2175.3"/><use href="#s40" x="1415.5" y="2128.2"/><use href="#s40" x="1402.0" y="2076.7"/><use href="#s40" x="1380.9" y="2132.4"/><use href="#d40" x="1383.4" y="2130.9"/><use href="#s40" x="1405.8" y="2166.1"/><use href="#t40" x="1410.8" y="2143.9"/><use href="#t40" x="1377.2" y="2102.6"/></g><g fill="#b98040" stroke="#000" stroke-width="1.4"><use href="#t40" x="1401.3" y="2053.6"/><use href="#s40" x="1411.1" y="2123.4"/><use href="#t40" x="1382.5" y="2092.4"/><use href="#t40" x="1390.2" y="2123.1"/></g><g fill="#a8f5a0" stroke="#000" stroke-width="1.4"><use href="#s40" x="1392.0" y="2088.6"/><use href="#o40" x="1397.8" y="2051.9"/><use href="#o40" x="1375.2" y="2115.6"/><use href="#o40" x="1392.6" y="2042.0"/><use href="#v40" x="1412.9" y="2136.5"/><use href="#t40" x="1395.6" y="2144.9"/><use href="#o40" x="1410.5" y="2142.0"/><use href="#v40" x="1396.8" y="2075.7"/><use href="#d40" x="1383.1" y="2162.1"/><use href="#v40" x="1375.7" y="2101.8"/><use href="#t40" x="1393.5" y="2211.5"/><use href="#d40" x="1388.6" y="2131.4"/><use href="#s40" x="1395.6" y="2085.8"/><use href="#s40" x="1388.0" y="2134.0"/><use href="#o40" x="1396.1" y="2223.9"/><use href="#s40" x="1395.6" y="2250.6"/><use href="#o40" x="1378.6" y="2085.7"/><use href="#o40" x="1383.0" y="2136.3"/><use href="#t40" x="1406.3" y="2115.8"/><use href="#t40" x="1397.9" y="2169.4"/><use href="#t40" x="1394.2" y="2034.9"/><use href="#v40" x="1396.5" y="2206.9"/><use href="#s40" x="1393.2" y="2196.1"/><use href="#s40" x="1396.4" y="2039.8"/><use href="#d40" x="1399.2" y="2069.2"/><use href="#v40" x="1395.8" y="2015.0"/><use href="#s35" x="1396.0" y="2188.2"/><use href="#s35" x="1396.0" y="2201.2"/><use href="#s35" x="1396.0" y="2216.9"/><use href="#s35" x="1396.0" y="2232.6"/><use href="#s35" x="1396.0" y="2264.0"/><use href="#s35" x="1396.0" y="2287.6"/></g><g fill="#f05a5a" stroke="#000" stroke-width="1.4"><use href="#o40" x="1410.1" y="2146.7"/><use href="#v40" x="1393.6" y="2173.2"/><use href="#d40" x="1396.4" y="2180.0"/><use href="#s40" x="1408.3" y="2130.2"/><use href="#s40" x="1408.4" y="2109.5"/><use href="#v40" x="1377.9" y="2107.5"/><use href="#d40" x="1402.3" y="2177.1"/><use href="#v40" x="1396.4" y="2037.1"/><use href="#o40" x="1390.3" y="2137.5"/></g><line x1="1396.0" y1="2322.6" x2="1396.0" y2="2327.0" stroke="#000" stroke-width="1.3"/><path d="M1469.6 2028.8L1470.0 2030.0L1470.4 2031.4L1470.9 2033.0L1471.5 2034.9L1472.1 2037.0L1472.9 2039.3L1473.7 2041.7L1474.6 2044.3L1475.6 2047.0L1476.8 2050.1L1478.1 2053.3L1479.5 2056.7L1480.8 2060.2L1482.2 2063.6L1483.5 2067.1L1484.6 2070.4L1485.7 2073.8L1486.7 2077.2L1487.7 2080.6L1488.6 2084.0L1489.5 2087.4L1490.3 2090.6L1491.0 2093.7L1491.6 2096.6L1492.2 2099.3L1492.7 2101.7L1493.1 2104.0L1493.5 2106.2L1493.8 2108.4L1494.0 2110.5L1494.0 2112.7L1493.9 2114.9L1493.6 2117.2L1493.3 2119.4L1492.8 2121.7L1492.1 2123.9L1491.4 2126.2L1490.6 2128.5L1489.6 2130.8L1488.6 2133.2L1487.4 2135.8L1486.0 2138.5L1484.4 2141.2L1482.7 2144.0L1481.0 2146.8L1479.4 2149.4L1477.9 2151.9L1476.6 2154.2L1475.4 2156.1L1474.3 2157.8L1473.3 2159.3L1472.3 2160.7L1471.5 2162.1L1470.7 2163.6L1470.1 2165.3L1469.6 2167.2L1469.3 2169.5L1469.1 2171.9L1469.0 2174.5L1469.1 2177.2L1469.2 2180.0L1469.4 2182.7L1469.5 2185.5L1469.6 2188.2L1469.7 2190.9L1469.9 2193.8L1470.1 2196.7L1470.3 2199.7L1470.5 2202.4L1470.7 2205.0L1470.7 2207.3L1470.6 2209.1L1470.3 2210.5L1469.9 2211.5L1469.3 2212.2L1468.7 2212.6L1468.0 2212.9L1467.4 2213.1L1466.9 2213.3L1466.6 2213.5L1466.6 2213.5L1466.3 2213.3L1465.8 2213.1L1465.2 2212.9L1464.5 2212.6L1463.9 2212.2L1463.3 2211.5L1462.9 2210.5L1462.6 2209.1L1462.5 2207.3L1462.5 2205.0L1462.7 2202.4L1462.8 2199.7L1463.1 2196.7L1463.3 2193.8L1463.5 2190.9L1463.6 2188.2L1463.7 2185.5L1463.8 2182.7L1464.0 2180.0L1464.1 2177.2L1464.2 2174.5L1464.1 2171.9L1463.9 2169.5L1463.6 2167.2L1463.1 2165.3L1462.5 2163.6L1461.7 2162.1L1460.8 2160.7L1459.9 2159.3L1458.9 2157.8L1457.8 2156.1L1456.6 2154.2L1455.3 2151.9L1453.8 2149.4L1452.2 2146.8L1450.5 2144.0L1448.8 2141.2L1447.2 2138.5L1445.8 2135.8L1444.6 2133.2L1443.6 2130.8L1442.6 2128.5L1441.8 2126.2L1441.1 2123.9L1440.4 2121.7L1439.9 2119.4L1439.6 2117.2L1439.3 2114.9L1439.2 2112.7L1439.2 2110.5L1439.4 2108.4L1439.7 2106.2L1440.1 2104.0L1440.5 2101.7L1441.0 2099.3L1441.6 2096.6L1442.2 2093.7L1442.9 2090.6L1443.7 2087.4L1444.6 2084.0L1445.5 2080.6L1446.5 2077.2L1447.5 2073.8L1448.6 2070.4L1449.7 2067.1L1451.0 2063.6L1452.3 2060.2L1453.7 2056.7L1455.1 2053.3L1456.4 2050.1L1457.6 2047.0L1458.6 2044.3L1459.5 2041.7L1460.3 2039.3L1461.1 2037.0L1461.7 2034.9L1462.3 2033.0L1462.8 2031.4L1463.2 2030.0L1463.6 2028.8Z" fill="none" stroke="#000" stroke-width="1.5"/><g fill="#9c6428" stroke="#000" stroke-width="1.4"><use href="#s40" x="1459.4" y="2124.9"/><use href="#s40" x="1462.8" y="2086.9"/><use href="#t40" x="1463.3" y="2089.1"/><use href="#o40" x="1478.9" y="2070.9"/><use href="#o40" x="1474.5" y="2107.7"/><use href="#s40" x="1456.0" y="2076.2"/><use href="#s40" x="1474.4" y="2064.4"/><use href="#v40" x="1483.5" y="2102.0"/><use href="#s40" x="1481.6" y="2134.4"/><use href="#d40" x="1449.6" y="2127.3"/><use href="#s40" x="1482.9" y="2068.3"/></g><g fill="#5f935f" stroke="#000" stroke-width="1.4"><use href="#s40" x="1451.3" y="2074.4"/><use href="#s40" x="1447.0" y="2108.9"/><use href="#t40" x="1449.6" y="2073.9"/><use href="#t40" x="1444.6" y="2103.2"/><use href="#v40" x="1446.0" y="2086.8"/><use href="#s40" x="1485.0" y="2076.8"/></g><g fill="#2a20e8" stroke="#000" stroke-width="1.4"><use href="#s40" x="1460.5" y="2088.3"/><use href="#s40" x="1461.7" y="2134.3"/></g><g fill="#bfe3ef" stroke="#000" stroke-width="1.4"><use href="#s40" x="1463.5" y="2151.7"/><use href="#o40" x="1456.2" y="2125.5"/><use href="#o40" x="1467.6" y="2178.4"/><use href="#s40" x="1481.1" y="2144.0"/></g><g fill="#a8f5a0" stroke="#000" stroke-width="1.4"><use href="#v40" x="1474.0" y="2044.8"/><use href="#s40" x="1463.4" y="2094.0"/><use href="#o40" x="1464.6" y="2152.9"/><use href="#s40" x="1487.1" y="2121.1"/><use href="#t40" x="1448.2" y="2096.8"/><use href="#o40" x="1459.4" y="2047.8"/><use href="#o40" x="1466.1" y="2125.0"/><use href="#o40" x="1478.3" y="2102.5"/><use href="#s40" x="1444.4" y="2113.2"/><use href="#v40" x="1459.0" y="2049.6"/><use href="#o40" x="1478.4" y="2129.8"/><use href="#s40" x="1449.1" y="2118.2"/><use href="#d40" x="1458.7" y="2136.0"/><use href="#o40" x="1464.7" y="2144.9"/><use href="#v40" x="1454.4" y="2074.8"/><use href="#v40" x="1448.6" y="2101.8"/><use href="#o40" x="1457.6" y="2113.9"/><use href="#s35" x="1466.6" y="2190.8"/><use href="#s35" x="1466.6" y="2211.7"/></g><g fill="#f05a5a" stroke="#000" stroke-width="1.4"><use href="#s40" x="1468.2" y="2176.4"/><use href="#o40" x="1466.8" y="2072.0"/></g><line x1="1466.6" y1="2322.6" x2="1466.6" y2="2327.0" stroke="#000" stroke-width="1.3"/><path d="M1536.0 2018.9L1536.3 2019.8L1536.6 2020.8L1537.0 2022.0L1537.5 2023.4L1538.0 2025.0L1538.6 2026.9L1539.3 2028.9L1540.0 2031.2L1540.8 2033.8L1541.7 2036.8L1542.7 2040.0L1543.8 2043.4L1544.8 2046.9L1545.9 2050.5L1547.0 2054.0L1548.0 2057.4L1549.0 2060.6L1550.0 2063.9L1551.1 2067.2L1552.1 2070.4L1553.1 2073.7L1554.1 2077.0L1555.1 2080.2L1556.0 2083.5L1556.9 2086.8L1557.7 2090.0L1558.5 2093.2L1559.2 2096.4L1559.9 2099.6L1560.6 2102.9L1561.3 2106.2L1562.0 2109.7L1562.8 2113.3L1563.6 2117.1L1564.5 2121.0L1565.4 2125.0L1566.1 2128.9L1566.6 2132.7L1566.9 2136.2L1566.7 2139.5L1566.1 2142.5L1565.1 2145.3L1563.9 2147.9L1562.4 2150.3L1560.8 2152.7L1559.1 2154.9L1557.5 2157.2L1556.0 2159.4L1554.5 2161.5L1552.9 2163.5L1551.3 2165.3L1549.6 2167.2L1548.0 2169.0L1546.5 2170.9L1545.2 2172.9L1544.0 2175.1L1543.0 2176.9L1542.2 2178.2L1541.5 2179.2L1540.9 2180.5L1540.4 2182.4L1539.9 2185.3L1539.5 2189.7L1539.0 2196.0L1538.5 2205.1L1538.0 2217.1L1537.6 2231.0L1537.2 2245.7L1536.8 2260.3L1536.5 2273.6L1536.2 2284.8L1536.0 2292.8L1536.0 2292.8L1535.8 2284.8L1535.5 2273.6L1535.2 2260.3L1534.8 2245.7L1534.4 2231.0L1534.0 2217.1L1533.5 2205.1L1533.0 2196.0L1532.5 2189.7L1532.1 2185.3L1531.6 2182.4L1531.1 2180.5L1530.5 2179.2L1529.8 2178.2L1529.0 2176.9L1528.0 2175.1L1526.8 2172.9L1525.5 2170.9L1524.0 2169.0L1522.4 2167.2L1520.7 2165.3L1519.1 2163.5L1517.5 2161.5L1516.0 2159.4L1514.5 2157.2L1512.9 2154.9L1511.2 2152.7L1509.6 2150.3L1508.1 2147.9L1506.9 2145.3L1505.9 2142.5L1505.3 2139.5L1505.1 2136.2L1505.4 2132.7L1505.9 2128.9L1506.6 2125.0L1507.5 2121.0L1508.4 2117.1L1509.2 2113.3L1510.0 2109.7L1510.7 2106.2L1511.4 2102.9L1512.1 2099.6L1512.8 2096.4L1513.5 2093.2L1514.3 2090.0L1515.1 2086.8L1516.0 2083.5L1516.9 2080.2L1517.9 2077.0L1518.9 2073.7L1519.9 2070.4L1520.9 2067.2L1522.0 2063.9L1523.0 2060.6L1524.0 2057.4L1525.0 2054.0L1526.1 2050.5L1527.2 2046.9L1528.2 2043.4L1529.3 2040.0L1530.3 2036.8L1531.2 2033.8L1532.0 2031.2L1532.7 2028.9L1533.4 2026.9L1534.0 2025.0L1534.5 2023.4L1535.0 2022.0L1535.4 2020.8L1535.7 2019.8L1536.0 2018.9Z" fill="none" stroke="#000" stroke-width="1.5"/><g fill="#a8f5a0" stroke="#000" stroke-width="1.4"><use href="#d40" x="1517.1" y="2134.8"/><use href="#t40" x="1532.2" y="2057.5"/><use href="#s40" x="1542.3" y="2174.2"/><use href="#s40" x="1552.1" y="2119.4"/><use href="#d40" x="1521.8" y="2127.5"/><use href="#t40" x="1529.7" y="2055.1"/><use href="#d40" x="1537.3" y="2107.4"/><use href="#v40" x="1537.1" y="2200.0"/><use href="#s40" x="1519.5" y="2123.3"/><use href="#t40" x="1537.1" y="2248.0"/><use href="#v40" x="1564.0" y="2126.5"/><use href="#v40" x="1530.5" y="2148.6"/><use href="#d40" x="1534.7" y="2141.4"/><use href="#d40" x="1540.2" y="2158.0"/><use href="#s40" x="1524.5" y="2099.4"/><use href="#d40" x="1531.3" y="2099.1"/><use href="#v40" x="1542.3" y="2153.5"/><use href="#d40" x="1559.5" y="2120.2"/><use href="#d40" x="1532.2" y="2127.0"/><use href="#v40" x="1516.9" y="2154.9"/><use href="#v40" x="1533.9" y="2188.0"/><use href="#t40" x="1530.8" y="2120.3"/><use href="#v40" x="1546.4" y="2137.6"/><use href="#o40" x="1522.9" y="2076.9"/><use href="#d40" x="1527.8" y="2165.7"/><use href="#s40" x="1538.7" y="2172.0"/><use href="#s40" x="1546.2" y="2099.7"/><use href="#d40" x="1517.1" y="2123.1"/><use href="#t40" x="1526.1" y="2128.5"/><use href="#t40" x="1546.8" y="2158.7"/><use href="#s40" x="1527.7" y="2102.2"/><use href="#o40" x="1536.1" y="2149.1"/><use href="#v40" x="1532.5" y="2057.9"/><use href="#s40" x="1520.2" y="2134.8"/><use href="#s40" x="1551.8" y="2148.9"/><use href="#s40" x="1535.1" y="2244.0"/><use href="#v40" x="1536.5" y="2210.2"/><use href="#o40" x="1560.1" y="2142.9"/><use href="#v40" x="1542.5" y="2174.7"/><use href="#t40" x="1543.9" y="2165.4"/><use href="#t40" x="1524.4" y="2067.6"/><use href="#v40" x="1517.3" y="2157.5"/><use href="#s35" x="1536.0" y="2182.9"/><use href="#s35" x="1536.0" y="2196.0"/><use href="#s35" x="1536.0" y="2209.1"/><use href="#s35" x="1536.0" y="2219.6"/><use href="#s35" x="1536.0" y="2227.4"/><use href="#s35" x="1536.0" y="2237.9"/><use href="#s35" x="1536.0" y="2253.6"/><use href="#s35" x="1536.0" y="2292.8"/></g><g fill="#b98040" stroke="#000" stroke-width="1.4"><use href="#v40" x="1537.4" y="2203.7"/><use href="#v40" x="1554.5" y="2097.4"/><use href="#s40" x="1537.3" y="2137.8"/><use href="#d40" x="1541.7" y="2080.2"/><use href="#d40" x="1526.0" y="2145.1"/><use href="#o40" x="1513.5" y="2107.7"/><use href="#o40" x="1512.5" y="2123.3"/></g><g fill="#bfe3ef" stroke="#000" stroke-width="1.4"><use href="#v40" x="1536.2" y="2238.3"/><use href="#d40" x="1528.9" y="2151.2"/><use href="#s40" x="1540.0" y="2139.8"/><use href="#d40" x="1524.7" y="2062.7"/><use href="#o40" x="1525.2" y="2158.7"/><use href="#o40" x="1534.8" y="2229.6"/><use href="#d40" x="1537.3" y="2040.3"/><use href="#o40" x="1526.1" y="2164.8"/><use href="#s40" x="1534.9" y="2040.6"/><use href="#s40" x="1543.9" y="2172.2"/><use href="#o40" x="1558.1" y="2136.2"/><use href="#o40" x="1530.2" y="2095.3"/><use href="#s40" x="1535.0" y="2159.6"/><use href="#o40" x="1523.0" y="2157.1"/><use href="#o40" x="1511.3" y="2119.3"/><use href="#t40" x="1546.5" y="2089.1"/><use href="#s40" x="1546.8" y="2056.2"/><use href="#o40" x="1532.8" y="2165.6"/><use href="#d40" x="1551.5" y="2075.3"/><use href="#d40" x="1536.4" y="2272.7"/><use href="#o40" x="1526.4" y="2158.8"/><use href="#s40" x="1537.2" y="2110.9"/><use href="#v40" x="1535.4" y="2226.3"/><use href="#s40" x="1545.6" y="2095.0"/></g><g fill="#5f935f" stroke="#000" stroke-width="1.4"><use href="#s40" x="1532.6" y="2157.5"/><use href="#v40" x="1509.5" y="2147.5"/><use href="#s40" x="1539.3" y="2178.5"/><use href="#s40" x="1525.2" y="2098.5"/><use href="#s40" x="1513.2" y="2126.2"/><use href="#t40" x="1539.1" y="2178.2"/><use href="#s40" x="1549.0" y="2072.4"/><use href="#s40" x="1553.0" y="2143.9"/><use href="#t40" x="1531.2" y="2073.2"/><use href="#o40" x="1535.4" y="2234.5"/><use href="#d40" x="1538.0" y="2213.2"/><use href="#v40" x="1509.6" y="2147.3"/><use href="#t40" x="1550.8" y="2119.2"/><use href="#t40" x="1516.4" y="2103.7"/><use href="#s40" x="1534.7" y="2117.4"/><use href="#o40" x="1541.4" y="2071.1"/><use href="#v40" x="1550.2" y="2095.4"/><use href="#o40" x="1556.4" y="2108.6"/><use href="#t40" x="1520.1" y="2152.4"/><use href="#s40" x="1538.3" y="2120.3"/><use href="#d40" x="1534.6" y="2225.6"/><use href="#s40" x="1551.3" y="2144.9"/><use href="#d40" x="1542.5" y="2175.1"/><use href="#o40" x="1562.6" y="2117.3"/><use href="#d40" x="1538.8" y="2089.2"/><use href="#s40" x="1535.2" y="2238.7"/><use href="#v40" x="1549.2" y="2160.3"/><use href="#o40" x="1539.2" y="2033.5"/><use href="#o40" x="1515.5" y="2147.4"/><use href="#o40" x="1534.3" y="2077.0"/></g><g fill="#9c6428" stroke="#000" stroke-width="1.4"><use href="#s40" x="1536.6" y="2053.5"/><use href="#o40" x="1516.4" y="2140.9"/><use href="#s40" x="1545.1" y="2115.5"/><use href="#t40" x="1536.1" y="2141.2"/><use href="#t40" x="1544.0" y="2174.7"/><use href="#s40" x="1518.3" y="2161.7"/><use href="#o40" x="1534.2" y="2065.2"/><use href="#t40" x="1515.9" y="2151.7"/><use href="#o40" x="1543.4" y="2077.1"/><use href="#o40" x="1537.2" y="2179.0"/><use href="#s40" x="1530.7" y="2137.8"/><use href="#d40" x="1560.2" y="2116.0"/><use href="#t40" x="1525.3" y="2103.2"/><use href="#o40" x="1529.5" y="2100.8"/><use href="#o40" x="1511.2" y="2147.9"/><use href="#d40" x="1534.2" y="2062.1"/><use href="#d40" x="1552.7" y="2081.1"/><use href="#o40" x="1541.6" y="2112.0"/><use href="#t40" x="1534.9" y="2037.8"/><use href="#s40" x="1535.2" y="2102.3"/><use href="#v40" x="1535.3" y="2233.8"/><use href="#d40" x="1533.1" y="2091.3"/><use href="#d40" x="1521.5" y="2114.5"/><use href="#d40" x="1527.8" y="2103.6"/><use href="#s40" x="1545.5" y="2145.9"/><use href="#o40" x="1518.6" y="2133.4"/><use href="#t40" x="1552.7" y="2158.8"/><use href="#d40" x="1530.2" y="2157.3"/><use href="#s40" x="1535.5" y="2079.4"/><use href="#o40" x="1526.5" y="2136.4"/><use href="#s40" x="1532.2" y="2106.1"/><use href="#v40" x="1545.0" y="2073.1"/><use href="#o40" x="1545.6" y="2154.5"/><use href="#o40" x="1536.0" y="2184.8"/><use href="#s40" x="1544.6" y="2121.7"/><use href="#s40" x="1532.5" y="2156.1"/><use href="#s40" x="1534.0" y="2145.2"/><use href="#v40" x="1542.5" y="2166.9"/><use href="#v40" x="1537.6" y="2203.6"/><use href="#s40" x="1516.2" y="2099.7"/><use href="#o40" x="1529.2" y="2117.0"/><use href="#s40" x="1556.9" y="2095.6"/><use href="#s40" x="1526.3" y="2155.7"/><use href="#v40" x="1522.8" y="2134.3"/><use href="#o40" x="1536.4" y="2127.4"/><use href="#t40" x="1509.1" y="2138.2"/><use href="#d40" x="1528.1" y="2164.5"/><use href="#t40" x="1547.5" y="2133.9"/><use href="#t40" x="1533.8" y="2032.5"/><use href="#o40" x="1518.6" y="2094.7"/><use href="#o40" x="1544.0" y="2131.2"/><use href="#o40" x="1526.7" y="2113.3"/><use href="#o40" x="1549.4" y="2115.7"/><use href="#t40" x="1536.8" y="2043.2"/><use href="#o40" x="1536.5" y="2093.9"/><use href="#d40" x="1536.4" y="2026.5"/><use href="#d40" x="1541.5" y="2146.9"/><use href="#s40" x="1545.7" y="2114.1"/><use href="#d40" x="1562.8" y="2130.4"/><use href="#o40" x="1535.8" y="2268.0"/><use href="#d40" x="1537.1" y="2034.0"/><use href="#t40" x="1536.1" y="2060.9"/><use href="#v40" x="1533.2" y="2140.7"/><use href="#s40" x="1537.3" y="2209.8"/><use href="#d40" x="1508.7" y="2135.3"/><use href="#s40" x="1527.0" y="2082.0"/><use href="#d40" x="1539.3" y="2072.6"/><use href="#s40" x="1532.9" y="2033.3"/></g><g fill="#2a20e8" stroke="#000" stroke-width="1.4"><use href="#o40" x="1530.6" y="2092.2"/><use href="#s40" x="1549.1" y="2140.7"/><use href="#d40" x="1555.0" y="2096.3"/><use href="#v40" x="1539.0" y="2034.2"/><use href="#o40" x="1533.8" y="2027.7"/><use href="#t40" x="1529.0" y="2052.4"/><use href="#t40" x="1538.7" y="2028.1"/><use href="#o40" x="1522.7" y="2112.0"/><use href="#s40" x="1534.1" y="2143.7"/><use href="#o40" x="1548.9" y="2153.3"/><use href="#s40" x="1544.3" y="2106.7"/><use href="#d40" x="1552.8" y="2133.8"/><use href="#o40" x="1517.0" y="2143.5"/><use href="#d40" x="1537.1" y="2141.5"/><use href="#d40" x="1538.5" y="2081.0"/><use href="#s40" x="1551.8" y="2108.2"/><use href="#s40" x="1529.8" y="2156.7"/><use href="#t40" x="1549.2" y="2164.4"/><use href="#v40" x="1556.8" y="2152.2"/><use href="#t40" x="1544.4" y="2056.9"/></g><g fill="#f05a5a" stroke="#000" stroke-width="1.4"><use href="#o40" x="1536.9" y="2232.2"/><use href="#o40" x="1523.6" y="2117.9"/><use href="#t40" x="1513.5" y="2144.4"/><use href="#v40" x="1529.9" y="2039.9"/><use href="#s40" x="1534.4" y="2041.5"/><use href="#v40" x="1545.9" y="2070.2"/><use href="#o40" x="1521.3" y="2076.2"/><use href="#o40" x="1543.6" y="2068.1"/><use href="#d40" x="1534.7" y="2151.2"/><use href="#v40" x="1541.8" y="2056.7"/><use href="#v40" x="1537.2" y="2125.5"/><use href="#s40" x="1557.9" y="2151.1"/><use href="#o40" x="1533.7" y="2156.9"/><use href="#t40" x="1505.5" y="2134.8"/><use href="#o40" x="1534.0" y="2189.1"/><use href="#s40" x="1552.2" y="2094.0"/><use href="#s40" x="1540.6" y="2091.2"/><use href="#t40" x="1539.3" y="2043.5"/><use href="#o40" x="1521.8" y="2138.6"/><use href="#t40" x="1548.3" y="2161.0"/><use href="#s40" x="1538.0" y="2210.3"/></g><line x1="1536.0" y1="2322.6" x2="1536.0" y2="2327.0" stroke="#000" stroke-width="1.3"/><path d="M1609.4 2039.0L1609.8 2040.2L1610.4 2041.7L1611.1 2043.6L1611.9 2045.6L1612.7 2047.8L1613.6 2050.1L1614.5 2052.4L1615.4 2054.7L1616.3 2057.0L1617.3 2059.4L1618.2 2061.8L1619.3 2064.3L1620.3 2066.9L1621.3 2069.7L1622.4 2072.6L1623.4 2075.7L1624.5 2079.0L1625.7 2082.7L1626.9 2086.6L1628.1 2090.6L1629.3 2094.6L1630.3 2098.6L1631.1 2102.3L1631.6 2105.8L1631.9 2108.9L1631.9 2111.8L1631.8 2114.5L1631.5 2117.1L1631.1 2119.7L1630.6 2122.3L1630.0 2125.1L1629.4 2128.0L1628.7 2131.1L1627.8 2134.4L1626.8 2137.7L1625.8 2141.2L1624.7 2144.6L1623.5 2147.9L1622.4 2151.1L1621.4 2154.2L1620.4 2157.1L1619.3 2159.9L1618.2 2162.6L1617.2 2165.3L1616.1 2167.8L1615.1 2170.3L1614.2 2172.8L1613.4 2175.1L1612.7 2177.1L1612.1 2178.9L1611.5 2180.4L1611.0 2181.9L1610.6 2183.6L1610.2 2185.5L1609.8 2187.8L1609.4 2190.8L1609.1 2194.6L1608.8 2199.3L1608.5 2204.6L1608.3 2210.1L1608.1 2215.4L1607.9 2220.3L1607.6 2224.4L1607.4 2227.4L1607.1 2229.2L1606.9 2230.0L1606.6 2230.2L1606.3 2229.8L1606.0 2229.2L1605.8 2228.5L1605.6 2227.9L1605.4 2227.7L1605.4 2227.7L1605.2 2227.9L1605.0 2228.5L1604.8 2229.2L1604.5 2229.8L1604.2 2230.2L1603.9 2230.0L1603.7 2229.2L1603.4 2227.4L1603.2 2224.4L1602.9 2220.3L1602.7 2215.4L1602.5 2210.1L1602.3 2204.6L1602.0 2199.3L1601.7 2194.6L1601.4 2190.8L1601.0 2187.8L1600.6 2185.5L1600.2 2183.6L1599.8 2181.9L1599.3 2180.4L1598.7 2178.9L1598.1 2177.1L1597.4 2175.1L1596.6 2172.8L1595.7 2170.3L1594.7 2167.8L1593.7 2165.3L1592.6 2162.6L1591.5 2159.9L1590.4 2157.1L1589.4 2154.2L1588.4 2151.1L1587.3 2147.9L1586.1 2144.6L1585.0 2141.2L1584.0 2137.7L1583.0 2134.4L1582.1 2131.1L1581.4 2128.0L1580.8 2125.1L1580.2 2122.3L1579.7 2119.7L1579.3 2117.1L1579.0 2114.5L1578.9 2111.8L1578.9 2108.9L1579.2 2105.8L1579.7 2102.3L1580.5 2098.6L1581.5 2094.6L1582.7 2090.6L1583.9 2086.6L1585.1 2082.7L1586.3 2079.0L1587.4 2075.7L1588.4 2072.6L1589.5 2069.7L1590.5 2066.9L1591.5 2064.3L1592.6 2061.8L1593.5 2059.4L1594.5 2057.0L1595.4 2054.7L1596.3 2052.4L1597.2 2050.1L1598.1 2047.8L1598.9 2045.6L1599.7 2043.6L1600.4 2041.7L1601.0 2040.2L1601.4 2039.0Z" fill="none" stroke="#000" stroke-width="1.5"/><g fill="#5f935f" stroke="#000" stroke-width="1.4"><use href="#v40" x="1607.7" y="2139.4"/><use href="#s40" x="1594.2" y="2154.6"/><use href="#o40" x="1590.0" y="2126.9"/><use href="#s40" x="1601.4" y="2179.1"/><use href="#v40" x="1600.8" y="2185.4"/><use href="#s40" x="1618.6" y="2125.4"/><use href="#d40" x="1588.5" y="2119.3"/><use href="#t40" x="1624.9" y="2118.0"/></g><g fill="#a8f5a0" stroke="#000" stroke-width="1.4"><use href="#s40" x="1620.7" y="2135.6"/><use href="#t40" x="1604.6" y="2144.3"/><use href="#d40" x="1604.0" y="2169.9"/><use href="#d40" x="1597.9" y="2167.1"/><use href="#d40" x="1599.8" y="2172.8"/><use href="#s40" x="1614.1" y="2161.2"/><use href="#t40" x="1592.5" y="2123.8"/><use href="#v40" x="1588.7" y="2081.4"/><use href="#o40" x="1610.9" y="2059.9"/><use href="#o40" x="1594.3" y="2104.8"/><use href="#o40" x="1618.9" y="2084.8"/><use href="#o40" x="1604.2" y="2123.7"/><use href="#t40" x="1606.1" y="2189.5"/><use href="#o40" x="1623.2" y="2094.1"/><use href="#s35" x="1605.4" y="2175.1"/><use href="#s35" x="1605.4" y="2188.2"/><use href="#s35" x="1605.4" y="2227.4"/></g><g fill="#9c6428" stroke="#000" stroke-width="1.4"><use href="#t40" x="1590.1" y="2075.4"/><use href="#s40" x="1624.1" y="2120.9"/><use href="#t40" x="1592.6" y="2124.9"/><use href="#o40" x="1602.5" y="2195.7"/><use href="#t40" x="1606.0" y="2162.3"/><use href="#s40" x="1617.2" y="2096.9"/><use href="#s40" x="1610.0" y="2180.9"/><use href="#v40" x="1589.3" y="2112.0"/><use href="#s40" x="1594.9" y="2121.2"/><use href="#s40" x="1610.3" y="2179.2"/><use href="#s40" x="1619.3" y="2098.1"/><use href="#d40" x="1586.0" y="2100.7"/><use href="#d40" x="1588.0" y="2117.7"/><use href="#s40" x="1607.8" y="2123.0"/><use href="#v40" x="1605.3" y="2199.4"/><use href="#o40" x="1590.2" y="2101.6"/><use href="#s40" x="1584.8" y="2115.6"/><use href="#s40" x="1592.9" y="2068.8"/><use href="#t40" x="1620.8" y="2149.3"/></g><g fill="#2a20e8" stroke="#000" stroke-width="1.4"><use href="#d40" x="1601.5" y="2077.8"/><use href="#o40" x="1601.9" y="2176.0"/><use href="#v40" x="1617.4" y="2125.1"/><use href="#v40" x="1608.8" y="2101.4"/><use href="#s40" x="1591.3" y="2070.4"/></g><g fill="#bfe3ef" stroke="#000" stroke-width="1.4"><use href="#o40" x="1604.2" y="2176.3"/><use href="#t40" x="1611.9" y="2157.2"/><use href="#o40" x="1601.4" y="2074.4"/><use href="#t40" x="1603.2" y="2077.0"/></g><g fill="#b98040" stroke="#000" stroke-width="1.4"><use href="#t40" x="1617.3" y="2144.8"/><use href="#d40" x="1592.7" y="2093.1"/><use href="#s40" x="1610.2" y="2169.8"/></g><g fill="#f05a5a" stroke="#000" stroke-width="1.4"><use href="#o40" x="1590.0" y="2095.1"/></g><line x1="1605.4" y1="2322.6" x2="1605.4" y2="2327.0" stroke="#000" stroke-width="1.3"/><path d="M1674.9 1992.7L1675.1 1993.6L1675.3 1994.7L1675.5 1996.0L1675.8 1997.4L1676.2 1999.1L1676.7 2000.9L1677.2 2002.9L1677.9 2005.0L1678.7 2007.4L1679.7 2010.1L1680.7 2012.9L1681.8 2015.9L1683.0 2019.1L1684.3 2022.3L1685.6 2025.4L1686.9 2028.6L1688.3 2031.8L1689.8 2035.0L1691.4 2038.4L1693.0 2041.8L1694.7 2045.1L1696.2 2048.4L1697.6 2051.7L1698.9 2054.7L1700.1 2057.7L1701.2 2060.6L1702.3 2063.4L1703.3 2066.1L1704.2 2068.8L1704.9 2071.5L1705.3 2074.1L1705.6 2076.7L1705.6 2079.3L1705.4 2081.8L1704.9 2084.3L1704.3 2086.7L1703.6 2089.2L1702.7 2091.6L1701.8 2094.1L1700.9 2096.6L1699.9 2099.2L1698.7 2101.8L1697.5 2104.5L1696.1 2107.2L1694.7 2109.8L1693.4 2112.5L1692.1 2115.0L1690.9 2117.5L1689.8 2120.0L1688.7 2122.5L1687.6 2124.9L1686.6 2127.3L1685.6 2129.7L1684.6 2131.9L1683.7 2133.9L1682.9 2135.8L1682.1 2137.5L1681.4 2138.8L1680.7 2139.9L1680.1 2140.9L1679.5 2142.0L1678.9 2143.1L1678.4 2144.5L1677.9 2146.3L1677.4 2148.6L1676.9 2151.3L1676.5 2154.3L1676.1 2157.4L1675.7 2160.5L1675.4 2163.2L1675.1 2165.5L1674.9 2167.2L1674.9 2167.2L1674.7 2165.5L1674.4 2163.2L1674.1 2160.5L1673.7 2157.4L1673.3 2154.3L1672.9 2151.3L1672.4 2148.6L1671.9 2146.3L1671.4 2144.5L1670.9 2143.1L1670.3 2142.0L1669.7 2140.9L1669.1 2139.9L1668.4 2138.8L1667.7 2137.5L1666.9 2135.8L1666.1 2133.9L1665.2 2131.9L1664.2 2129.7L1663.2 2127.3L1662.2 2124.9L1661.1 2122.5L1660.0 2120.0L1658.9 2117.5L1657.7 2115.0L1656.4 2112.5L1655.1 2109.8L1653.7 2107.2L1652.3 2104.5L1651.1 2101.8L1649.9 2099.2L1648.9 2096.6L1648.0 2094.1L1647.1 2091.6L1646.2 2089.2L1645.5 2086.7L1644.9 2084.3L1644.4 2081.8L1644.2 2079.3L1644.2 2076.7L1644.5 2074.1L1644.9 2071.5L1645.6 2068.8L1646.5 2066.1L1647.5 2063.4L1648.6 2060.6L1649.7 2057.7L1650.9 2054.7L1652.2 2051.7L1653.6 2048.4L1655.1 2045.1L1656.8 2041.8L1658.4 2038.4L1660.0 2035.0L1661.5 2031.8L1662.9 2028.6L1664.2 2025.4L1665.5 2022.3L1666.8 2019.1L1668.0 2015.9L1669.1 2012.9L1670.1 2010.1L1671.1 2007.4L1671.9 2005.0L1672.6 2002.9L1673.1 2000.9L1673.6 1999.1L1674.0 1997.4L1674.3 1996.0L1674.5 1994.7L1674.7 1993.6L1674.9 1992.7Z" fill="none" stroke="#000" stroke-width="1.5"/><g fill="#9c6428" stroke="#000" stroke-width="1.4"><use href="#t40" x="1662.4" y="2073.9"/><use href="#s40" x="1693.4" y="2085.9"/><use href="#t40" x="1654.8" y="2072.6"/><use href="#t40" x="1660.9" y="2078.8"/><use href="#v40" x="1685.8" y="2049.5"/><use href="#o40" x="1695.7" y="2051.2"/><use href="#s40" x="1653.0" y="2103.8"/><use href="#d40" x="1657.0" y="2059.4"/><use href="#s40" x="1684.4" y="2131.1"/><use href="#t40" x="1656.9" y="2089.1"/><use href="#o40" x="1691.7" y="2067.4"/><use href="#v40" x="1679.2" y="2033.5"/><use href="#d40" x="1671.1" y="2073.1"/><use href="#t40" x="1685.5" y="2075.1"/><use href="#v40" x="1679.7" y="2112.3"/><use href="#s40" x="1680.0" y="2013.3"/><use href="#o40" x="1695.0" y="2048.3"/><use href="#s40" x="1645.6" y="2085.0"/><use href="#v40" x="1662.6" y="2082.4"/><use href="#d40" x="1681.3" y="2036.4"/><use href="#s40" x="1681.0" y="2101.1"/><use href="#o40" x="1701.1" y="2076.3"/><use href="#s40" x="1689.6" y="2091.5"/><use href="#d40" x="1659.1" y="2072.5"/><use href="#d40" x="1663.6" y="2121.4"/></g><g fill="#b98040" stroke="#000" stroke-width="1.4"><use href="#v40" x="1668.3" y="2096.7"/><use href="#d40" x="1661.0" y="2112.4"/></g><g fill="#bfe3ef" stroke="#000" stroke-width="1.4"><use href="#t40" x="1654.5" y="2087.0"/><use href="#o40" x="1691.7" y="2109.0"/><use href="#o40" x="1697.5" y="2098.1"/><use href="#v40" x="1646.7" y="2083.0"/><use href="#o40" x="1668.0" y="2055.9"/><use href="#o40" x="1681.2" y="2120.6"/><use href="#d40" x="1665.7" y="2116.1"/><use href="#v40" x="1647.1" y="2090.4"/><use href="#t40" x="1678.8" y="2028.1"/><use href="#s40" x="1662.3" y="2035.8"/></g><g fill="#a8f5a0" stroke="#000" stroke-width="1.4"><use href="#o40" x="1690.0" y="2053.0"/><use href="#t40" x="1679.1" y="2056.6"/><use href="#s40" x="1665.7" y="2117.8"/><use href="#s40" x="1688.8" y="2094.1"/><use href="#s40" x="1678.4" y="2075.5"/><use href="#t40" x="1676.1" y="2097.3"/><use href="#t40" x="1687.0" y="2085.8"/><use href="#s40" x="1684.3" y="2028.8"/><use href="#s40" x="1699.9" y="2073.2"/><use href="#v40" x="1691.0" y="2063.0"/><use href="#o40" x="1676.4" y="2133.6"/><use href="#s40" x="1665.7" y="2025.8"/><use href="#v40" x="1669.2" y="2014.4"/><use href="#v40" x="1684.7" y="2103.0"/><use href="#v40" x="1686.6" y="2081.8"/><use href="#t40" x="1660.7" y="2095.2"/><use href="#s40" x="1685.7" y="2060.8"/><use href="#o40" x="1693.7" y="2043.2"/><use href="#s35" x="1674.9" y="2167.2"/></g><g fill="#2a20e8" stroke="#000" stroke-width="1.4"><use href="#o40" x="1674.8" y="2043.4"/><use href="#t40" x="1677.0" y="2124.4"/><use href="#s40" x="1678.1" y="2016.1"/><use href="#s40" x="1676.4" y="2140.6"/><use href="#v40" x="1675.3" y="2025.8"/></g><g fill="#5f935f" stroke="#000" stroke-width="1.4"><use href="#s40" x="1661.4" y="2097.2"/><use href="#d40" x="1656.4" y="2056.3"/><use href="#v40" x="1683.0" y="2127.7"/><use href="#d40" x="1698.8" y="2092.1"/><use href="#v40" x="1665.9" y="2049.8"/><use href="#o40" x="1673.9" y="2074.1"/><use href="#t40" x="1678.5" y="2040.2"/><use href="#s40" x="1649.4" y="2072.2"/><use href="#s40" x="1673.7" y="2058.9"/><use href="#t40" x="1681.5" y="2022.3"/><use href="#s40" x="1662.1" y="2112.8"/></g><g fill="#f05a5a" stroke="#000" stroke-width="1.4"><use href="#t40" x="1682.2" y="2019.4"/><use href="#d40" x="1680.6" y="2028.4"/><use href="#d40" x="1657.8" y="2100.3"/><use href="#o40" x="1676.8" y="2075.7"/><use href="#t40" x="1646.1" y="2071.4"/></g><line x1="1674.9" y1="2322.6" x2="1674.9" y2="2327.0" stroke="#000" stroke-width="1.3"/><path d="M1744.3 2019.7L1744.5 2020.5L1744.9 2021.5L1745.2 2022.6L1745.7 2024.0L1746.1 2025.5L1746.5 2027.2L1747.0 2029.1L1747.3 2031.2L1747.6 2033.5L1747.8 2036.1L1747.9 2038.9L1748.0 2041.9L1748.2 2045.0L1748.5 2048.2L1748.8 2051.5L1749.3 2054.7L1749.9 2058.1L1750.6 2061.4L1751.4 2064.9L1752.3 2068.5L1753.2 2072.1L1754.2 2075.8L1755.2 2079.6L1756.3 2083.5L1757.4 2087.6L1758.7 2091.9L1760.0 2096.3L1761.3 2100.8L1762.7 2105.3L1764.0 2109.6L1765.2 2113.7L1766.3 2117.5L1767.4 2121.1L1768.5 2124.5L1769.6 2127.7L1770.6 2130.7L1771.5 2133.7L1772.2 2136.5L1772.6 2139.2L1772.7 2141.9L1772.4 2144.4L1771.7 2146.8L1770.8 2149.0L1769.6 2151.2L1768.4 2153.2L1767.0 2155.3L1765.6 2157.3L1764.3 2159.4L1762.9 2161.4L1761.4 2163.2L1759.7 2164.9L1758.0 2166.7L1756.4 2168.5L1754.8 2170.5L1753.4 2172.6L1752.3 2175.1L1751.4 2177.8L1750.7 2180.9L1750.1 2184.1L1749.7 2187.5L1749.3 2191.0L1749.0 2194.5L1748.6 2197.9L1748.3 2201.2L1748.0 2204.4L1747.7 2207.5L1747.4 2210.5L1747.2 2213.5L1747.0 2216.6L1746.8 2219.9L1746.5 2223.5L1746.3 2227.4L1746.0 2231.9L1745.8 2237.2L1745.5 2242.9L1745.2 2248.7L1744.9 2254.2L1744.7 2259.3L1744.5 2263.5L1744.3 2266.6L1744.3 2266.6L1744.1 2263.5L1743.9 2259.3L1743.7 2254.2L1743.4 2248.7L1743.1 2242.9L1742.8 2237.2L1742.6 2231.9L1742.3 2227.4L1742.1 2223.5L1741.8 2219.9L1741.6 2216.6L1741.4 2213.5L1741.2 2210.5L1740.9 2207.5L1740.6 2204.4L1740.3 2201.2L1740.0 2197.9L1739.6 2194.5L1739.3 2191.0L1738.9 2187.5L1738.5 2184.1L1737.9 2180.9L1737.2 2177.8L1736.3 2175.1L1735.2 2172.6L1733.8 2170.5L1732.2 2168.5L1730.6 2166.7L1728.9 2164.9L1727.2 2163.2L1725.7 2161.4L1724.3 2159.4L1723.0 2157.3L1721.6 2155.3L1720.2 2153.2L1719.0 2151.2L1717.8 2149.0L1716.9 2146.8L1716.2 2144.4L1715.9 2141.9L1716.0 2139.2L1716.4 2136.5L1717.1 2133.7L1718.0 2130.7L1719.0 2127.7L1720.1 2124.5L1721.2 2121.1L1722.3 2117.5L1723.4 2113.7L1724.6 2109.6L1725.9 2105.3L1727.3 2100.8L1728.6 2096.3L1729.9 2091.9L1731.2 2087.6L1732.3 2083.5L1733.4 2079.6L1734.4 2075.8L1735.4 2072.1L1736.3 2068.5L1737.2 2064.9L1738.0 2061.4L1738.7 2058.1L1739.3 2054.7L1739.8 2051.5L1740.1 2048.2L1740.4 2045.0L1740.5 2041.9L1740.7 2038.9L1740.8 2036.1L1741.0 2033.5L1741.3 2031.2L1741.6 2029.1L1742.0 2027.2L1742.5 2025.5L1742.9 2024.0L1743.4 2022.6L1743.7 2021.5L1744.1 2020.5L1744.3 2019.7Z" fill="none" stroke="#000" stroke-width="1.5"/><g fill="#b98040" stroke="#000" stroke-width="1.4"><use href="#t40" x="1762.2" y="2153.4"/><use href="#o40" x="1735.7" y="2130.2"/><use href="#d40" x="1744.0" y="2090.3"/><use href="#t40" x="1746.0" y="2126.2"/><use href="#d40" x="1756.5" y="2090.0"/><use href="#o40" x="1751.7" y="2091.3"/><use href="#o40" x="1760.3" y="2139.0"/><use href="#t40" x="1746.0" y="2195.9"/><use href="#d40" x="1733.9" y="2094.4"/><use href="#t40" x="1744.8" y="2146.8"/></g><g fill="#2a20e8" stroke="#000" stroke-width="1.4"><use href="#d40" x="1735.2" y="2152.6"/><use href="#o40" x="1749.0" y="2081.6"/><use href="#o40" x="1753.1" y="2088.4"/><use href="#s40" x="1763.4" y="2135.5"/><use href="#s40" x="1744.9" y="2182.7"/><use href="#t40" x="1731.1" y="2120.2"/><use href="#s40" x="1744.4" y="2140.0"/><use href="#o40" x="1742.9" y="2111.8"/><use href="#s40" x="1747.6" y="2066.5"/><use href="#t40" x="1738.2" y="2119.9"/><use href="#s40" x="1722.2" y="2151.8"/><use href="#s40" x="1737.9" y="2119.1"/><use href="#v40" x="1743.1" y="2075.5"/></g><g fill="#bfe3ef" stroke="#000" stroke-width="1.4"><use href="#d40" x="1734.2" y="2099.8"/><use href="#o40" x="1756.6" y="2162.6"/><use href="#v40" x="1724.6" y="2130.8"/><use href="#o40" x="1751.9" y="2066.9"/><use href="#d40" x="1736.6" y="2133.2"/><use href="#o40" x="1771.5" y="2137.0"/><use href="#v40" x="1729.2" y="2129.9"/><use href="#v40" x="1755.1" y="2125.5"/><use href="#s40" x="1722.4" y="2136.4"/></g><g fill="#9c6428" stroke="#000" stroke-width="1.4"><use href="#s40" x="1731.2" y="2114.8"/><use href="#s40" x="1739.6" y="2063.3"/><use href="#d40" x="1747.3" y="2046.4"/><use href="#t40" x="1761.9" y="2142.1"/><use href="#v40" x="1753.9" y="2110.9"/><use href="#s40" x="1748.8" y="2056.7"/><use href="#s40" x="1744.8" y="2120.2"/><use href="#o40" x="1757.7" y="2159.5"/><use href="#v40" x="1748.7" y="2146.4"/><use href="#v40" x="1758.4" y="2138.6"/><use href="#o40" x="1726.7" y="2160.8"/><use href="#o40" x="1738.2" y="2072.7"/><use href="#o40" x="1740.5" y="2077.9"/><use href="#o40" x="1745.4" y="2205.4"/><use href="#o40" x="1744.3" y="2103.2"/><use href="#d40" x="1751.1" y="2122.3"/><use href="#s40" x="1760.4" y="2151.7"/><use href="#s40" x="1736.5" y="2137.1"/><use href="#s40" x="1747.5" y="2172.1"/><use href="#s40" x="1748.8" y="2154.5"/><use href="#o40" x="1740.9" y="2057.3"/><use href="#o40" x="1747.7" y="2049.1"/><use href="#v40" x="1748.3" y="2176.4"/><use href="#d40" x="1740.5" y="2185.9"/><use href="#s40" x="1741.8" y="2064.5"/><use href="#s40" x="1730.5" y="2150.0"/><use href="#s40" x="1764.4" y="2154.7"/><use href="#o40" x="1740.0" y="2083.1"/><use href="#o40" x="1729.5" y="2160.5"/><use href="#t40" x="1732.9" y="2167.6"/><use href="#d40" x="1733.2" y="2153.2"/><use href="#d40" x="1740.1" y="2187.6"/><use href="#d40" x="1734.0" y="2166.1"/><use href="#t40" x="1767.4" y="2122.6"/><use href="#o40" x="1743.8" y="2077.3"/><use href="#t40" x="1748.4" y="2134.6"/><use href="#s40" x="1748.4" y="2175.7"/></g><g fill="#5f935f" stroke="#000" stroke-width="1.4"><use href="#s40" x="1767.3" y="2154.1"/><use href="#o40" x="1746.2" y="2134.3"/><use href="#o40" x="1759.9" y="2104.5"/><use href="#o40" x="1740.6" y="2162.2"/><use href="#s40" x="1747.4" y="2051.7"/><use href="#s40" x="1762.0" y="2144.2"/><use href="#t40" x="1736.7" y="2130.5"/><use href="#o40" x="1723.2" y="2134.4"/><use href="#t40" x="1761.8" y="2131.7"/><use href="#t40" x="1745.8" y="2159.0"/><use href="#s40" x="1746.8" y="2205.4"/><use href="#s40" x="1766.2" y="2151.1"/><use href="#o40" x="1742.6" y="2231.4"/><use href="#s40" x="1735.5" y="2166.1"/><use href="#s40" x="1754.6" y="2120.7"/><use href="#t40" x="1757.1" y="2107.6"/><use href="#s40" x="1760.5" y="2104.7"/><use href="#s40" x="1749.5" y="2176.6"/><use href="#s40" x="1740.7" y="2107.1"/><use href="#t40" x="1757.9" y="2162.4"/><use href="#s40" x="1744.4" y="2055.4"/><use href="#o40" x="1754.3" y="2127.0"/><use href="#s40" x="1748.6" y="2173.9"/><use href="#o40" x="1717.7" y="2134.8"/><use href="#s40" x="1727.6" y="2116.0"/><use href="#o40" x="1756.0" y="2136.3"/><use href="#t40" x="1719.2" y="2149.7"/><use href="#s40" x="1745.7" y="2177.5"/><use href="#v40" x="1746.5" y="2210.2"/><use href="#o40" x="1748.6" y="2071.0"/></g><g fill="#f05a5a" stroke="#000" stroke-width="1.4"><use href="#s40" x="1757.5" y="2143.2"/><use href="#d40" x="1744.1" y="2192.9"/><use href="#s40" x="1744.1" y="2174.9"/><use href="#s40" x="1734.9" y="2121.0"/><use href="#s40" x="1752.3" y="2120.6"/><use href="#v40" x="1737.0" y="2171.2"/><use href="#o40" x="1763.1" y="2136.5"/><use href="#o40" x="1749.0" y="2123.4"/><use href="#o40" x="1746.2" y="2045.8"/><use href="#v40" x="1762.5" y="2119.5"/><use href="#d40" x="1735.6" y="2167.0"/><use href="#d40" x="1751.9" y="2128.9"/><use href="#o40" x="1732.6" y="2091.1"/></g><g fill="#a8f5a0" stroke="#000" stroke-width="1.4"><use href="#d40" x="1750.5" y="2127.8"/><use href="#t40" x="1735.1" y="2089.9"/><use href="#s40" x="1754.2" y="2157.7"/><use href="#d40" x="1748.5" y="2104.8"/><use href="#o40" x="1745.1" y="2031.7"/><use href="#o40" x="1753.2" y="2131.0"/><use href="#t40" x="1755.4" y="2144.7"/><use href="#s40" x="1740.8" y="2161.5"/><use href="#s40" x="1762.5" y="2142.0"/><use href="#t40" x="1741.3" y="2085.4"/><use href="#t40" x="1754.1" y="2166.8"/><use href="#s40" x="1760.7" y="2139.7"/><use href="#s40" x="1764.9" y="2113.4"/><use href="#o40" x="1744.2" y="2192.5"/><use href="#d40" x="1732.7" y="2114.3"/><use href="#o40" x="1740.5" y="2123.0"/><use href="#v40" x="1746.0" y="2185.5"/><use href="#v40" x="1752.1" y="2070.2"/><use href="#o40" x="1756.4" y="2134.6"/><use href="#v40" x="1761.0" y="2139.4"/><use href="#v40" x="1750.2" y="2151.7"/><use href="#v40" x="1752.2" y="2101.3"/><use href="#d40" x="1728.7" y="2157.8"/><use href="#s40" x="1740.9" y="2098.8"/><use href="#s35" x="1744.3" y="2182.9"/><use href="#s35" x="1744.3" y="2198.6"/><use href="#s35" x="1744.3" y="2211.7"/><use href="#s35" x="1744.3" y="2240.5"/><use href="#s35" x="1744.3" y="2258.8"/><use href="#s35" x="1744.3" y="2266.6"/></g><line x1="1744.3" y1="2322.6" x2="1744.3" y2="2327.0" stroke="#000" stroke-width="1.3"/><path d="M1814.0 1969.2L1814.1 1970.2L1814.2 1971.4L1814.3 1972.8L1814.4 1974.4L1814.5 1976.4L1814.7 1978.6L1814.8 1981.2L1815.0 1984.1L1815.2 1987.6L1815.3 1991.8L1815.4 1996.3L1815.5 2001.1L1815.7 2006.1L1816.0 2010.9L1816.4 2015.4L1817.0 2019.4L1817.8 2023.0L1818.7 2026.3L1819.8 2029.5L1821.0 2032.4L1822.2 2035.3L1823.5 2038.2L1824.8 2041.2L1826.0 2044.3L1827.2 2047.5L1828.6 2050.7L1830.0 2054.0L1831.4 2057.3L1832.7 2060.6L1834.0 2063.9L1835.1 2067.2L1836.0 2070.4L1836.8 2073.6L1837.4 2076.8L1837.9 2079.9L1838.3 2083.1L1838.6 2086.2L1838.8 2089.4L1839.0 2092.6L1839.0 2095.8L1838.9 2099.1L1838.8 2102.5L1838.5 2105.8L1838.2 2109.2L1837.8 2112.6L1837.2 2116.0L1836.7 2119.4L1836.0 2122.8L1835.2 2126.1L1834.4 2129.4L1833.4 2132.6L1832.3 2135.9L1831.2 2139.1L1830.1 2142.4L1829.0 2145.7L1828.0 2148.9L1827.0 2152.2L1825.9 2155.6L1824.8 2159.0L1823.8 2162.3L1822.7 2165.7L1821.7 2168.9L1820.8 2172.1L1820.0 2175.1L1819.3 2177.6L1818.7 2179.6L1818.1 2181.2L1817.6 2182.9L1817.2 2184.9L1816.8 2187.6L1816.4 2191.2L1816.0 2196.0L1815.6 2202.7L1815.3 2211.3L1815.0 2221.1L1814.8 2231.3L1814.5 2241.4L1814.3 2250.7L1814.1 2258.5L1814.0 2264.0L1814.0 2264.0L1813.9 2258.5L1813.7 2250.7L1813.5 2241.4L1813.2 2231.3L1813.0 2221.1L1812.7 2211.3L1812.4 2202.7L1812.0 2196.0L1811.6 2191.2L1811.2 2187.6L1810.8 2184.9L1810.4 2182.9L1809.9 2181.2L1809.3 2179.6L1808.7 2177.6L1808.0 2175.1L1807.2 2172.1L1806.3 2168.9L1805.3 2165.7L1804.2 2162.3L1803.2 2159.0L1802.1 2155.6L1801.0 2152.2L1800.0 2148.9L1799.0 2145.7L1797.9 2142.4L1796.8 2139.1L1795.7 2135.9L1794.6 2132.6L1793.6 2129.4L1792.8 2126.1L1792.0 2122.8L1791.3 2119.4L1790.8 2116.0L1790.2 2112.6L1789.8 2109.2L1789.5 2105.8L1789.2 2102.5L1789.1 2099.1L1789.0 2095.8L1789.0 2092.6L1789.2 2089.4L1789.4 2086.2L1789.7 2083.1L1790.1 2079.9L1790.6 2076.8L1791.2 2073.6L1792.0 2070.4L1792.9 2067.2L1794.0 2063.9L1795.3 2060.6L1796.6 2057.3L1798.0 2054.0L1799.4 2050.7L1800.8 2047.5L1802.0 2044.3L1803.2 2041.2L1804.5 2038.2L1805.8 2035.3L1807.0 2032.4L1808.2 2029.5L1809.3 2026.3L1810.2 2023.0L1811.0 2019.4L1811.6 2015.4L1812.0 2010.9L1812.3 2006.1L1812.5 2001.1L1812.6 1996.3L1812.7 1991.8L1812.8 1987.6L1813.0 1984.1L1813.2 1981.2L1813.3 1978.6L1813.5 1976.4L1813.6 1974.4L1813.7 1972.8L1813.8 1971.4L1813.9 1970.2L1814.0 1969.2Z" fill="none" stroke="#000" stroke-width="1.5"/><g fill="#5f935f" stroke="#000" stroke-width="1.4"><use href="#o40" x="1789.8" y="2088.6"/><use href="#o40" x="1806.1" y="2142.8"/><use href="#o40" x="1821.4" y="2067.7"/><use href="#s40" x="1822.9" y="2082.4"/><use href="#t40" x="1816.5" y="2125.4"/><use href="#o40" x="1817.7" y="2037.7"/><use href="#d40" x="1834.2" y="2118.3"/><use href="#s40" x="1799.6" y="2053.4"/><use href="#o40" x="1819.0" y="2055.0"/><use href="#o40" x="1818.0" y="2109.0"/><use href="#d40" x="1810.2" y="2134.8"/><use href="#o40" x="1806.5" y="2167.1"/><use href="#d40" x="1805.1" y="2164.2"/><use href="#s40" x="1833.4" y="2065.0"/><use href="#d40" x="1834.0" y="2098.3"/><use href="#o40" x="1811.4" y="2150.2"/><use href="#s40" x="1834.9" y="2108.0"/><use href="#t40" x="1837.7" y="2108.6"/><use href="#o40" x="1811.9" y="2041.7"/><use href="#s40" x="1795.8" y="2085.9"/><use href="#s40" x="1801.0" y="2060.7"/><use href="#o40" x="1835.3" y="2108.9"/></g><g fill="#9c6428" stroke="#000" stroke-width="1.4"><use href="#d40" x="1827.8" y="2078.3"/><use href="#d40" x="1816.9" y="2144.6"/><use href="#s40" x="1804.6" y="2145.9"/><use href="#s40" x="1824.9" y="2059.4"/><use href="#o40" x="1808.3" y="2101.0"/><use href="#t40" x="1822.9" y="2136.0"/><use href="#d40" x="1827.2" y="2047.8"/><use href="#s40" x="1792.6" y="2110.6"/><use href="#v40" x="1819.0" y="2073.2"/><use href="#o40" x="1811.9" y="2167.3"/><use href="#s40" x="1815.0" y="2174.8"/><use href="#d40" x="1793.4" y="2085.6"/><use href="#o40" x="1827.0" y="2112.2"/><use href="#d40" x="1836.8" y="2103.3"/><use href="#s40" x="1800.2" y="2109.9"/><use href="#o40" x="1823.7" y="2148.3"/><use href="#o40" x="1822.5" y="2124.9"/><use href="#t40" x="1812.8" y="2098.5"/><use href="#v40" x="1814.7" y="2080.7"/><use href="#o40" x="1814.7" y="2081.8"/><use href="#t40" x="1792.0" y="2091.9"/><use href="#o40" x="1808.0" y="2066.4"/><use href="#s40" x="1828.9" y="2103.4"/><use href="#t40" x="1811.9" y="2179.1"/><use href="#s40" x="1815.0" y="2127.3"/><use href="#s40" x="1800.1" y="2083.2"/><use href="#o40" x="1810.6" y="2030.3"/><use href="#s40" x="1794.2" y="2087.8"/><use href="#v40" x="1796.4" y="2068.9"/><use href="#d40" x="1836.0" y="2100.8"/><use href="#d40" x="1823.5" y="2121.2"/><use href="#o40" x="1834.4" y="2122.6"/><use href="#o40" x="1811.3" y="2039.2"/><use href="#d40" x="1835.6" y="2106.9"/><use href="#s40" x="1831.1" y="2129.3"/><use href="#d40" x="1814.4" y="2066.8"/><use href="#s40" x="1830.6" y="2097.7"/><use href="#t40" x="1829.5" y="2130.2"/><use href="#s40" x="1814.3" y="2051.2"/><use href="#o40" x="1814.9" y="2109.4"/><use href="#s40" x="1818.1" y="2034.3"/><use href="#t40" x="1815.2" y="2167.5"/><use href="#t40" x="1800.6" y="2076.6"/><use href="#v40" x="1818.6" y="2043.9"/><use href="#s40" x="1812.5" y="2150.8"/><use href="#d40" x="1805.9" y="2095.2"/><use href="#t40" x="1813.2" y="2223.0"/><use href="#d40" x="1837.0" y="2093.1"/><use href="#o40" x="1815.3" y="2052.6"/><use href="#s40" x="1822.0" y="2136.0"/><use href="#o40" x="1817.5" y="2043.7"/><use href="#d40" x="1810.1" y="2066.3"/><use href="#s40" x="1815.3" y="2034.8"/><use href="#s40" x="1791.3" y="2075.8"/><use href="#v40" x="1814.0" y="2037.0"/></g><g fill="#b98040" stroke="#000" stroke-width="1.4"><use href="#s40" x="1803.3" y="2052.0"/><use href="#s40" x="1804.6" y="2093.9"/><use href="#d40" x="1838.7" y="2090.0"/><use href="#d40" x="1813.1" y="1982.7"/><use href="#s40" x="1809.5" y="2176.8"/><use href="#o40" x="1814.8" y="2218.4"/><use href="#s40" x="1818.0" y="2123.2"/><use href="#v40" x="1813.4" y="2023.2"/><use href="#d40" x="1803.9" y="2149.9"/></g><g fill="#2a20e8" stroke="#000" stroke-width="1.4"><use href="#s40" x="1807.8" y="2032.0"/><use href="#d40" x="1806.2" y="2153.7"/><use href="#v40" x="1812.2" y="2167.3"/><use href="#d40" x="1826.1" y="2138.5"/><use href="#s40" x="1829.3" y="2058.7"/><use href="#s40" x="1813.7" y="2003.7"/><use href="#v40" x="1822.8" y="2158.6"/><use href="#o40" x="1819.3" y="2161.1"/><use href="#t40" x="1808.0" y="2090.1"/><use href="#d40" x="1805.8" y="2141.1"/><use href="#s40" x="1816.4" y="2120.5"/><use href="#o40" x="1796.0" y="2115.2"/><use href="#v40" x="1831.0" y="2065.6"/></g><g fill="#a8f5a0" stroke="#000" stroke-width="1.4"><use href="#o40" x="1828.2" y="2105.2"/><use href="#d40" x="1812.8" y="2057.2"/><use href="#d40" x="1816.1" y="2106.9"/><use href="#o40" x="1811.9" y="2047.9"/><use href="#t40" x="1821.5" y="2123.9"/><use href="#d40" x="1812.5" y="2131.4"/><use href="#s40" x="1814.5" y="1989.2"/><use href="#s40" x="1824.0" y="2057.6"/><use href="#d40" x="1815.5" y="2133.5"/><use href="#d40" x="1822.8" y="2161.9"/><use href="#v40" x="1820.3" y="2120.6"/><use href="#s40" x="1831.7" y="2065.7"/><use href="#t40" x="1830.1" y="2140.5"/><use href="#v40" x="1811.4" y="2104.6"/><use href="#s40" x="1818.2" y="2139.8"/><use href="#d40" x="1818.9" y="2081.7"/><use href="#d40" x="1817.7" y="2055.3"/><use href="#d40" x="1818.9" y="2036.8"/><use href="#t40" x="1809.7" y="2090.2"/><use href="#v40" x="1817.1" y="2156.8"/><use href="#d40" x="1795.3" y="2118.2"/><use href="#v40" x="1806.8" y="2125.2"/><use href="#v40" x="1811.6" y="2035.4"/><use href="#d40" x="1790.0" y="2086.8"/><use href="#d40" x="1825.4" y="2089.8"/><use href="#v40" x="1814.4" y="2114.6"/><use href="#v40" x="1792.3" y="2118.4"/><use href="#s35" x="1814.0" y="2182.9"/><use href="#s35" x="1814.0" y="2193.4"/><use href="#s35" x="1814.0" y="2211.7"/><use href="#s35" x="1814.0" y="2264.0"/></g><g fill="#bfe3ef" stroke="#000" stroke-width="1.4"><use href="#s40" x="1836.4" y="2119.5"/><use href="#s40" x="1800.4" y="2126.8"/><use href="#s40" x="1809.6" y="2142.0"/><use href="#o40" x="1805.9" y="2150.9"/><use href="#o40" x="1798.2" y="2120.8"/><use href="#v40" x="1823.0" y="2088.7"/><use href="#s40" x="1834.2" y="2117.5"/><use href="#s40" x="1810.7" y="2116.7"/></g><g fill="#f05a5a" stroke="#000" stroke-width="1.4"><use href="#o40" x="1815.8" y="2058.1"/><use href="#v40" x="1827.8" y="2143.0"/><use href="#o40" x="1806.5" y="2049.4"/><use href="#o40" x="1797.7" y="2089.6"/><use href="#o40" x="1802.5" y="2059.9"/><use href="#t40" x="1813.3" y="2080.2"/><use href="#s40" x="1810.8" y="2021.0"/><use href="#d40" x="1816.2" y="2188.0"/><use href="#o40" x="1803.6" y="2074.8"/><use href="#v40" x="1810.8" y="2164.7"/></g><line x1="1814.0" y1="2322.6" x2="1814.0" y2="2327.0" stroke="#000" stroke-width="1.3"/><path d="M1884.0 2026.8L1884.6 2027.6L1885.3 2028.8L1886.2 2030.1L1887.2 2031.6L1888.4 2033.3L1889.5 2035.1L1890.8 2037.0L1892.0 2039.0L1893.3 2041.3L1894.8 2043.7L1896.3 2046.3L1897.9 2049.0L1899.5 2051.7L1901.1 2054.5L1902.6 2057.3L1904.0 2060.0L1905.4 2062.6L1906.9 2065.1L1908.4 2067.7L1909.8 2070.3L1911.1 2072.9L1912.2 2075.5L1913.0 2078.2L1913.4 2080.9L1913.5 2083.7L1913.2 2086.7L1912.7 2089.7L1911.9 2092.7L1911.0 2095.7L1910.0 2098.7L1909.0 2101.6L1908.0 2104.4L1907.0 2107.2L1905.8 2110.0L1904.5 2112.7L1903.2 2115.4L1901.8 2118.0L1900.5 2120.6L1899.2 2123.0L1898.0 2125.4L1896.9 2127.4L1895.8 2129.2L1894.8 2130.7L1893.8 2132.2L1892.8 2133.9L1891.8 2135.8L1890.9 2138.1L1890.0 2141.1L1889.1 2144.9L1888.2 2149.6L1887.3 2154.9L1886.5 2160.4L1885.7 2165.7L1885.0 2170.6L1884.4 2174.7L1884.0 2177.7L1884.0 2177.7L1883.6 2174.7L1883.0 2170.6L1882.3 2165.7L1881.5 2160.4L1880.7 2154.9L1879.8 2149.6L1878.9 2144.9L1878.0 2141.1L1877.1 2138.1L1876.2 2135.8L1875.2 2133.9L1874.2 2132.2L1873.2 2130.7L1872.2 2129.2L1871.1 2127.4L1870.0 2125.4L1868.8 2123.0L1867.5 2120.6L1866.2 2118.0L1864.8 2115.4L1863.5 2112.7L1862.2 2110.0L1861.0 2107.2L1860.0 2104.4L1859.0 2101.6L1858.0 2098.7L1857.0 2095.7L1856.1 2092.7L1855.3 2089.7L1854.8 2086.7L1854.5 2083.7L1854.6 2080.9L1855.0 2078.2L1855.8 2075.5L1856.9 2072.9L1858.2 2070.3L1859.6 2067.7L1861.1 2065.1L1862.6 2062.6L1864.0 2060.0L1865.4 2057.3L1866.9 2054.5L1868.5 2051.7L1870.1 2049.0L1871.7 2046.3L1873.2 2043.7L1874.7 2041.3L1876.0 2039.0L1877.2 2037.0L1878.5 2035.1L1879.6 2033.3L1880.8 2031.6L1881.8 2030.1L1882.7 2028.8L1883.4 2027.6L1884.0 2026.8Z" fill="none" stroke="#000" stroke-width="1.5"/><g fill="#f05a5a" stroke="#000" stroke-width="1.4"><use href="#d40" x="1884.8" y="2145.6"/><use href="#v40" x="1875.2" y="2129.3"/><use href="#s40" x="1879.4" y="2132.5"/><use href="#d40" x="1871.5" y="2114.3"/></g><g fill="#bfe3ef" stroke="#000" stroke-width="1.4"><use href="#d40" x="1880.0" y="2133.2"/><use href="#s40" x="1871.4" y="2104.7"/><use href="#d40" x="1870.2" y="2121.8"/><use href="#s40" x="1886.6" y="2090.4"/><use href="#o40" x="1886.2" y="2102.5"/><use href="#o40" x="1869.4" y="2073.1"/><use href="#s40" x="1892.6" y="2053.2"/><use href="#t40" x="1886.3" y="2157.1"/><use href="#o40" x="1902.4" y="2071.6"/></g><g fill="#9c6428" stroke="#000" stroke-width="1.4"><use href="#s40" x="1870.9" y="2063.9"/><use href="#d40" x="1891.2" y="2086.6"/><use href="#o40" x="1881.4" y="2079.9"/><use href="#v40" x="1899.2" y="2075.2"/><use href="#v40" x="1885.8" y="2067.8"/><use href="#d40" x="1885.4" y="2055.3"/><use href="#o40" x="1879.1" y="2069.8"/><use href="#o40" x="1872.5" y="2061.0"/><use href="#t40" x="1898.6" y="2101.3"/><use href="#s40" x="1900.3" y="2062.3"/><use href="#v40" x="1897.8" y="2080.3"/><use href="#s40" x="1912.3" y="2078.3"/><use href="#o40" x="1878.3" y="2135.7"/><use href="#t40" x="1876.8" y="2079.2"/><use href="#v40" x="1887.3" y="2089.2"/><use href="#t40" x="1870.3" y="2063.0"/><use href="#o40" x="1880.9" y="2100.7"/><use href="#t40" x="1881.5" y="2095.2"/><use href="#s40" x="1884.0" y="2042.7"/><use href="#s40" x="1883.0" y="2071.4"/><use href="#t40" x="1864.2" y="2076.4"/><use href="#d40" x="1865.1" y="2113.0"/><use href="#s40" x="1894.3" y="2105.5"/><use href="#d40" x="1880.2" y="2067.8"/></g><g fill="#2a20e8" stroke="#000" stroke-width="1.4"><use href="#t40" x="1866.3" y="2074.1"/><use href="#o40" x="1888.8" y="2127.8"/><use href="#s40" x="1884.5" y="2065.8"/></g><g fill="#5f935f" stroke="#000" stroke-width="1.4"><use href="#o40" x="1886.0" y="2057.3"/><use href="#o40" x="1861.4" y="2091.1"/><use href="#d40" x="1869.6" y="2090.9"/><use href="#t40" x="1883.2" y="2058.8"/><use href="#d40" x="1888.7" y="2057.1"/><use href="#d40" x="1864.1" y="2060.0"/><use href="#d40" x="1877.0" y="2102.0"/><use href="#v40" x="1869.0" y="2061.1"/><use href="#s40" x="1892.6" y="2098.0"/><use href="#s40" x="1901.2" y="2117.5"/></g><g fill="#a8f5a0" stroke="#000" stroke-width="1.4"><use href="#o40" x="1888.7" y="2042.6"/><use href="#d40" x="1882.5" y="2151.3"/><use href="#d40" x="1884.3" y="2148.3"/><use href="#o40" x="1880.8" y="2100.5"/><use href="#o40" x="1908.0" y="2070.7"/><use href="#t40" x="1886.7" y="2085.6"/><use href="#o40" x="1884.2" y="2037.9"/><use href="#d40" x="1879.4" y="2102.2"/><use href="#o40" x="1886.2" y="2130.6"/><use href="#s40" x="1893.4" y="2081.6"/><use href="#d40" x="1870.8" y="2108.0"/><use href="#s35" x="1884.0" y="2164.6"/><use href="#s35" x="1884.0" y="2177.7"/></g><g fill="#b98040" stroke="#000" stroke-width="1.4"><use href="#o40" x="1887.2" y="2154.3"/><use href="#s40" x="1886.3" y="2121.2"/><use href="#s40" x="1894.9" y="2111.7"/></g><line x1="1884.0" y1="2322.6" x2="1884.0" y2="2327.0" stroke="#000" stroke-width="1.3"/><path d="M1953.0 2010.3L1953.4 2011.2L1954.0 2012.3L1954.6 2013.6L1955.4 2015.2L1956.2 2016.9L1957.1 2018.9L1958.0 2021.0L1959.0 2023.4L1960.1 2025.9L1961.3 2028.8L1962.5 2031.9L1963.9 2035.1L1965.2 2038.6L1966.5 2042.1L1967.8 2045.8L1969.0 2049.5L1970.1 2053.4L1971.2 2057.5L1972.2 2061.7L1973.2 2066.0L1974.2 2070.4L1975.2 2074.8L1976.1 2079.2L1977.0 2083.5L1977.9 2087.8L1978.9 2092.2L1979.9 2096.6L1980.9 2101.0L1981.7 2105.3L1982.4 2109.6L1982.8 2113.7L1983.0 2117.5L1982.9 2121.2L1982.5 2124.6L1981.9 2127.9L1981.1 2131.1L1980.2 2134.2L1979.2 2137.3L1978.1 2140.5L1977.0 2143.7L1975.8 2147.0L1974.3 2150.4L1972.7 2153.7L1971.1 2157.1L1969.4 2160.4L1967.8 2163.7L1966.3 2166.8L1965.0 2169.8L1963.9 2172.7L1962.8 2175.4L1961.8 2178.0L1960.9 2180.5L1960.1 2183.0L1959.4 2185.5L1958.6 2188.1L1958.0 2190.8L1957.4 2193.3L1956.9 2195.6L1956.5 2197.8L1956.2 2200.1L1955.9 2202.7L1955.6 2205.8L1955.3 2209.6L1955.0 2214.3L1954.7 2220.5L1954.4 2228.2L1954.1 2236.8L1953.8 2245.9L1953.6 2254.7L1953.3 2262.8L1953.1 2269.6L1953.0 2274.5L1953.0 2274.5L1952.9 2269.6L1952.7 2262.8L1952.4 2254.7L1952.2 2245.9L1951.9 2236.8L1951.6 2228.2L1951.3 2220.5L1951.0 2214.3L1950.7 2209.6L1950.4 2205.8L1950.1 2202.7L1949.8 2200.1L1949.5 2197.8L1949.1 2195.6L1948.6 2193.3L1948.0 2190.8L1947.4 2188.1L1946.6 2185.5L1945.9 2183.0L1945.1 2180.5L1944.2 2178.0L1943.2 2175.4L1942.1 2172.7L1941.0 2169.8L1939.7 2166.8L1938.2 2163.7L1936.6 2160.4L1934.9 2157.1L1933.3 2153.7L1931.7 2150.4L1930.2 2147.0L1929.0 2143.7L1927.9 2140.5L1926.8 2137.3L1925.8 2134.2L1924.9 2131.1L1924.1 2127.9L1923.5 2124.6L1923.1 2121.2L1923.0 2117.5L1923.2 2113.7L1923.6 2109.6L1924.3 2105.3L1925.1 2101.0L1926.1 2096.6L1927.1 2092.2L1928.1 2087.8L1929.0 2083.5L1929.9 2079.2L1930.8 2074.8L1931.8 2070.4L1932.8 2066.0L1933.8 2061.7L1934.8 2057.5L1935.9 2053.4L1937.0 2049.5L1938.2 2045.8L1939.5 2042.1L1940.8 2038.6L1942.1 2035.1L1943.5 2031.9L1944.7 2028.8L1945.9 2025.9L1947.0 2023.4L1948.0 2021.0L1948.9 2018.9L1949.8 2016.9L1950.6 2015.2L1951.4 2013.6L1952.0 2012.3L1952.6 2011.2L1953.0 2010.3Z" fill="none" stroke="#000" stroke-width="1.5"/><g fill="#f05a5a" stroke="#000" stroke-width="1.4"><use href="#d40" x="1951.7" y="2111.8"/><use href="#o40" x="1928.5" y="2115.4"/><use href="#o40" x="1971.1" y="2088.4"/><use href="#d40" x="1954.2" y="2040.4"/><use href="#o40" x="1950.1" y="2193.9"/><use href="#v40" x="1962.3" y="2167.6"/><use href="#s40" x="1953.3" y="2251.0"/><use href="#s40" x="1963.1" y="2070.4"/><use href="#s40" x="1974.2" y="2099.1"/><use href="#s40" x="1959.9" y="2129.1"/><use href="#v40" x="1957.9" y="2080.5"/></g><g fill="#b98040" stroke="#000" stroke-width="1.4"><use href="#v40" x="1968.9" y="2138.9"/><use href="#o40" x="1930.1" y="2127.2"/><use href="#o40" x="1948.1" y="2180.2"/><use href="#o40" x="1939.3" y="2071.7"/><use href="#o40" x="1953.7" y="2208.2"/></g><g fill="#5f935f" stroke="#000" stroke-width="1.4"><use href="#s40" x="1950.6" y="2120.7"/><use href="#o40" x="1943.3" y="2152.9"/><use href="#s40" x="1953.1" y="2069.7"/><use href="#d40" x="1964.5" y="2145.7"/><use href="#o40" x="1955.1" y="2030.7"/><use href="#v40" x="1943.8" y="2037.1"/><use href="#d40" x="1962.4" y="2119.6"/><use href="#s40" x="1981.2" y="2109.6"/><use href="#v40" x="1955.1" y="2140.2"/><use href="#t40" x="1939.4" y="2056.3"/><use href="#v40" x="1949.7" y="2065.0"/><use href="#s40" x="1969.1" y="2120.3"/><use href="#v40" x="1957.5" y="2024.0"/><use href="#o40" x="1964.6" y="2054.6"/><use href="#s40" x="1955.7" y="2106.9"/><use href="#o40" x="1934.0" y="2150.1"/><use href="#s40" x="1948.1" y="2069.6"/><use href="#v40" x="1952.0" y="2151.9"/><use href="#d40" x="1952.6" y="2159.8"/><use href="#d40" x="1926.0" y="2097.9"/><use href="#o40" x="1957.5" y="2022.4"/><use href="#o40" x="1952.8" y="2124.5"/><use href="#s40" x="1927.9" y="2138.5"/><use href="#o40" x="1962.6" y="2057.8"/><use href="#d40" x="1954.7" y="2038.0"/></g><g fill="#a8f5a0" stroke="#000" stroke-width="1.4"><use href="#t40" x="1971.3" y="2141.9"/><use href="#d40" x="1949.2" y="2188.6"/><use href="#d40" x="1966.1" y="2141.4"/><use href="#s40" x="1965.5" y="2151.6"/><use href="#t40" x="1976.9" y="2096.2"/><use href="#o40" x="1976.9" y="2127.4"/><use href="#o40" x="1951.1" y="2128.0"/><use href="#o40" x="1932.5" y="2102.1"/><use href="#t40" x="1957.2" y="2028.1"/><use href="#o40" x="1937.8" y="2066.9"/><use href="#o40" x="1946.9" y="2160.9"/><use href="#t40" x="1956.2" y="2057.7"/><use href="#o40" x="1960.8" y="2149.2"/><use href="#s40" x="1940.1" y="2161.1"/><use href="#d40" x="1965.8" y="2059.5"/><use href="#s40" x="1962.7" y="2152.9"/><use href="#t40" x="1967.6" y="2114.5"/><use href="#t40" x="1958.5" y="2123.5"/><use href="#d40" x="1936.1" y="2071.8"/><use href="#t40" x="1931.9" y="2081.3"/><use href="#d40" x="1938.4" y="2089.8"/><use href="#d40" x="1951.4" y="2190.0"/><use href="#s40" x="1946.9" y="2082.1"/><use href="#d40" x="1958.9" y="2065.0"/><use href="#v40" x="1962.0" y="2033.7"/><use href="#v40" x="1955.3" y="2208.1"/><use href="#s40" x="1948.6" y="2035.2"/><use href="#s40" x="1926.7" y="2095.4"/><use href="#d40" x="1953.1" y="2263.4"/><use href="#v40" x="1948.1" y="2134.7"/><use href="#o40" x="1963.3" y="2040.4"/><use href="#s40" x="1948.9" y="2028.4"/><use href="#s40" x="1932.4" y="2119.2"/><use href="#s40" x="1924.9" y="2130.1"/><use href="#o40" x="1964.7" y="2166.3"/><use href="#s40" x="1946.9" y="2176.1"/><use href="#t40" x="1977.1" y="2092.5"/><use href="#s35" x="1953.0" y="2190.8"/><use href="#s35" x="1953.0" y="2203.9"/><use href="#s35" x="1953.0" y="2216.9"/><use href="#s35" x="1953.0" y="2232.6"/><use href="#s35" x="1953.0" y="2243.1"/><use href="#s35" x="1953.0" y="2264.0"/><use href="#s35" x="1953.0" y="2274.5"/></g><g fill="#bfe3ef" stroke="#000" stroke-width="1.4"><use href="#s40" x="1957.1" y="2060.3"/><use href="#s40" x="1951.6" y="2182.4"/><use href="#d40" x="1954.5" y="2019.3"/><use href="#s40" x="1954.0" y="2142.7"/><use href="#v40" x="1957.0" y="2023.6"/><use href="#d40" x="1978.3" y="2130.1"/><use href="#o40" x="1937.9" y="2070.7"/><use href="#o40" x="1971.2" y="2099.2"/><use href="#o40" x="1954.4" y="2106.9"/><use href="#t40" x="1947.9" y="2086.8"/><use href="#s40" x="1959.2" y="2159.4"/></g><g fill="#9c6428" stroke="#000" stroke-width="1.4"><use href="#d40" x="1954.6" y="2072.6"/><use href="#d40" x="1948.0" y="2152.0"/><use href="#d40" x="1940.8" y="2104.9"/><use href="#o40" x="1946.6" y="2113.4"/><use href="#o40" x="1965.3" y="2131.4"/><use href="#s40" x="1970.0" y="2110.2"/><use href="#t40" x="1941.1" y="2086.9"/><use href="#o40" x="1949.7" y="2109.5"/><use href="#s40" x="1960.1" y="2037.2"/><use href="#v40" x="1928.6" y="2096.2"/><use href="#o40" x="1949.2" y="2092.3"/><use href="#v40" x="1930.2" y="2131.0"/><use href="#t40" x="1936.3" y="2093.1"/><use href="#v40" x="1950.1" y="2036.8"/><use href="#t40" x="1944.3" y="2079.1"/><use href="#t40" x="1936.2" y="2093.8"/><use href="#d40" x="1955.1" y="2150.3"/><use href="#o40" x="1940.6" y="2066.9"/><use href="#o40" x="1958.6" y="2040.0"/><use href="#s40" x="1963.3" y="2143.3"/><use href="#d40" x="1956.6" y="2051.3"/><use href="#d40" x="1949.8" y="2051.1"/><use href="#o40" x="1957.1" y="2163.7"/><use href="#v40" x="1950.9" y="2025.2"/><use href="#d40" x="1962.2" y="2054.5"/><use href="#s40" x="1925.1" y="2125.4"/><use href="#t40" x="1956.0" y="2191.1"/><use href="#o40" x="1937.5" y="2149.8"/><use href="#v40" x="1939.7" y="2119.3"/><use href="#v40" x="1931.9" y="2075.5"/><use href="#o40" x="1973.7" y="2097.3"/><use href="#v40" x="1929.2" y="2143.5"/><use href="#s40" x="1968.0" y="2053.2"/><use href="#s40" x="1952.9" y="2130.4"/><use href="#o40" x="1946.3" y="2119.1"/><use href="#v40" x="1969.3" y="2113.1"/><use href="#s40" x="1976.0" y="2132.4"/><use href="#s40" x="1953.2" y="2251.4"/><use href="#v40" x="1966.6" y="2122.0"/><use href="#v40" x="1965.6" y="2086.1"/><use href="#o40" x="1971.0" y="2069.4"/><use href="#s40" x="1960.3" y="2086.5"/><use href="#v40" x="1963.2" y="2154.8"/><use href="#t40" x="1931.5" y="2098.5"/><use href="#s40" x="1961.6" y="2138.2"/><use href="#s40" x="1960.5" y="2129.0"/><use href="#s40" x="1954.4" y="2054.6"/><use href="#t40" x="1954.5" y="2189.0"/><use href="#o40" x="1966.8" y="2145.5"/><use href="#d40" x="1968.7" y="2159.8"/><use href="#v40" x="1963.7" y="2045.1"/><use href="#v40" x="1951.7" y="2126.6"/><use href="#s40" x="1965.1" y="2132.9"/><use href="#s40" x="1957.0" y="2183.0"/><use href="#s40" x="1942.9" y="2144.2"/><use href="#v40" x="1951.2" y="2089.4"/><use href="#o40" x="1960.8" y="2161.7"/></g><g fill="#2a20e8" stroke="#000" stroke-width="1.4"><use href="#o40" x="1972.0" y="2147.0"/><use href="#s40" x="1949.8" y="2116.3"/><use href="#o40" x="1956.0" y="2020.3"/><use href="#d40" x="1941.5" y="2090.6"/><use href="#s40" x="1945.7" y="2177.7"/><use href="#s40" x="1940.8" y="2045.9"/><use href="#s40" x="1954.1" y="2210.0"/><use href="#v40" x="1951.7" y="2026.2"/><use href="#v40" x="1938.6" y="2099.8"/><use href="#t40" x="1942.7" y="2172.1"/><use href="#s40" x="1948.4" y="2176.9"/><use href="#s40" x="1954.6" y="2098.1"/><use href="#v40" x="1958.9" y="2024.0"/><use href="#s40" x="1947.8" y="2130.9"/><use href="#o40" x="1955.6" y="2030.0"/></g><line x1="1953.0" y1="2322.6" x2="1953.0" y2="2327.0" stroke="#000" stroke-width="1.3"/><text transform="translate(1114.4,2703.5) rotate(-90)" font-size="19.2" text-anchor="start"><tspan font-style="italic">f</tspan><tspan font-style="italic" font-size="13" dy="3">4</tspan><tspan dy="-3">(Mbuti, California Baja LH;</tspan></text><text transform="translate(1137.9,2704.5) rotate(-90)" font-size="19.2" text-anchor="start">UV, Ancient S. American group)</text><text transform="translate(1183.3,2703.5) rotate(-90)" font-size="19.2" text-anchor="start"><tspan font-style="italic">f</tspan><tspan font-style="italic" font-size="13" dy="3">4</tspan><tspan dy="-3">(Mbuti, California Central LH;</tspan></text><text transform="translate(1206.8,2704.5) rotate(-90)" font-size="19.2" text-anchor="start">UV, Ancient S. American group)</text><text transform="translate(1252.5,2703.5) rotate(-90)" font-size="19.2" text-anchor="start"><tspan font-style="italic">f</tspan><tspan font-style="italic" font-size="13" dy="3">4</tspan><tspan dy="-3">(Mbuti, California N. Channel Islands LH;</tspan></text><text transform="translate(1276.0,2704.5) rotate(-90)" font-size="19.2" text-anchor="start">UV, Ancient S. American group)</text><text transform="translate(1322.0,2703.5) rotate(-90)" font-size="19.2" text-anchor="start"><tspan font-style="italic">f</tspan><tspan font-style="italic" font-size="13" dy="3">4</tspan><tspan dy="-3">(Mbuti, California N. Channel Islands MH;</tspan></text><text transform="translate(1345.5,2704.5) rotate(-90)" font-size="19.2" text-anchor="start">UV, Ancient S. American group)</text><text transform="translate(1391.0,2703.5) rotate(-90)" font-size="19.2" text-anchor="start"><tspan font-style="italic">f</tspan><tspan font-style="italic" font-size="13" dy="3">4</tspan><tspan dy="-3">(Mbuti, California S. Channel Islands LH;</tspan></text><text transform="translate(1414.5,2704.5) rotate(-90)" font-size="19.2" text-anchor="start">UV, Ancient S. American group)</text><text transform="translate(1461.6,2703.5) rotate(-90)" font-size="19.2" text-anchor="start"><tspan font-style="italic">f</tspan><tspan font-style="italic" font-size="13" dy="3">4</tspan><tspan dy="-3">(Mbuti, California S. Channel Islands MH;</tspan></text><text transform="translate(1485.1,2704.5) rotate(-90)" font-size="19.2" text-anchor="start">UV, Ancient S. American group)</text><text transform="translate(1531.0,2703.5) rotate(-90)" font-size="19.2" text-anchor="start"><tspan font-style="italic">f</tspan><tspan font-style="italic" font-size="13" dy="3">4</tspan><tspan dy="-3">(Mbuti, California Southern Mainland LH;</tspan></text><text transform="translate(1554.5,2704.5) rotate(-90)" font-size="19.2" text-anchor="start">UV, Ancient S. American group)</text><text transform="translate(1600.4,2703.5) rotate(-90)" font-size="19.2" text-anchor="start"><tspan font-style="italic">f</tspan><tspan font-style="italic" font-size="13" dy="3">4</tspan><tspan dy="-3">(Mbuti, California Southern Mainland MH;</tspan></text><text transform="translate(1623.9,2704.5) rotate(-90)" font-size="19.2" text-anchor="start">UV, Ancient S. American group)</text><text transform="translate(1669.9,2703.5) rotate(-90)" font-size="19.2" text-anchor="start"><tspan font-style="italic">f</tspan><tspan font-style="italic" font-size="13" dy="3">4</tspan><tspan dy="-3">(Mbuti, Central America EH;</tspan></text><text transform="translate(1693.4,2704.5) rotate(-90)" font-size="19.2" text-anchor="start">UV, Ancient S. American group)</text><text transform="translate(1739.3,2703.5) rotate(-90)" font-size="19.2" text-anchor="start"><tspan font-style="italic">f</tspan><tspan font-style="italic" font-size="13" dy="3">4</tspan><tspan dy="-3">(Mbuti, Central America LH;</tspan></text><text transform="translate(1762.8,2704.5) rotate(-90)" font-size="19.2" text-anchor="start">UV, Ancient S. American group)</text><text transform="translate(1809.0,2703.5) rotate(-90)" font-size="19.2" text-anchor="start"><tspan font-style="italic">f</tspan><tspan font-style="italic" font-size="13" dy="3">4</tspan><tspan dy="-3">(Mbuti, Central America MH;</tspan></text><text transform="translate(1832.5,2704.5) rotate(-90)" font-size="19.2" text-anchor="start">UV, Ancient S. American group)</text><text transform="translate(1879.0,2703.5) rotate(-90)" font-size="19.2" text-anchor="start"><tspan font-style="italic">f</tspan><tspan font-style="italic" font-size="13" dy="3">4</tspan><tspan dy="-3">(Mbuti, Southern North America EH;</tspan></text><text transform="translate(1902.5,2704.5) rotate(-90)" font-size="19.2" text-anchor="start">UV, Ancient S. American group)</text><text transform="translate(1948.0,2703.5) rotate(-90)" font-size="19.2" text-anchor="start"><tspan font-style="italic">f</tspan><tspan font-style="italic" font-size="13" dy="3">4</tspan><tspan dy="-3">(Mbuti, Southern North America LH;</tspan></text><text transform="translate(1971.5,2704.5) rotate(-90)" font-size="19.2" text-anchor="start">UV, Ancient S. American group)</text><text x="1203.3" y="2016.5" font-size="19.5" text-anchor="middle">4</text><text x="1008.5" y="1978.0" font-size="32" text-anchor="start" font-weight="bold">d</text>
</svg>
</body></html>
